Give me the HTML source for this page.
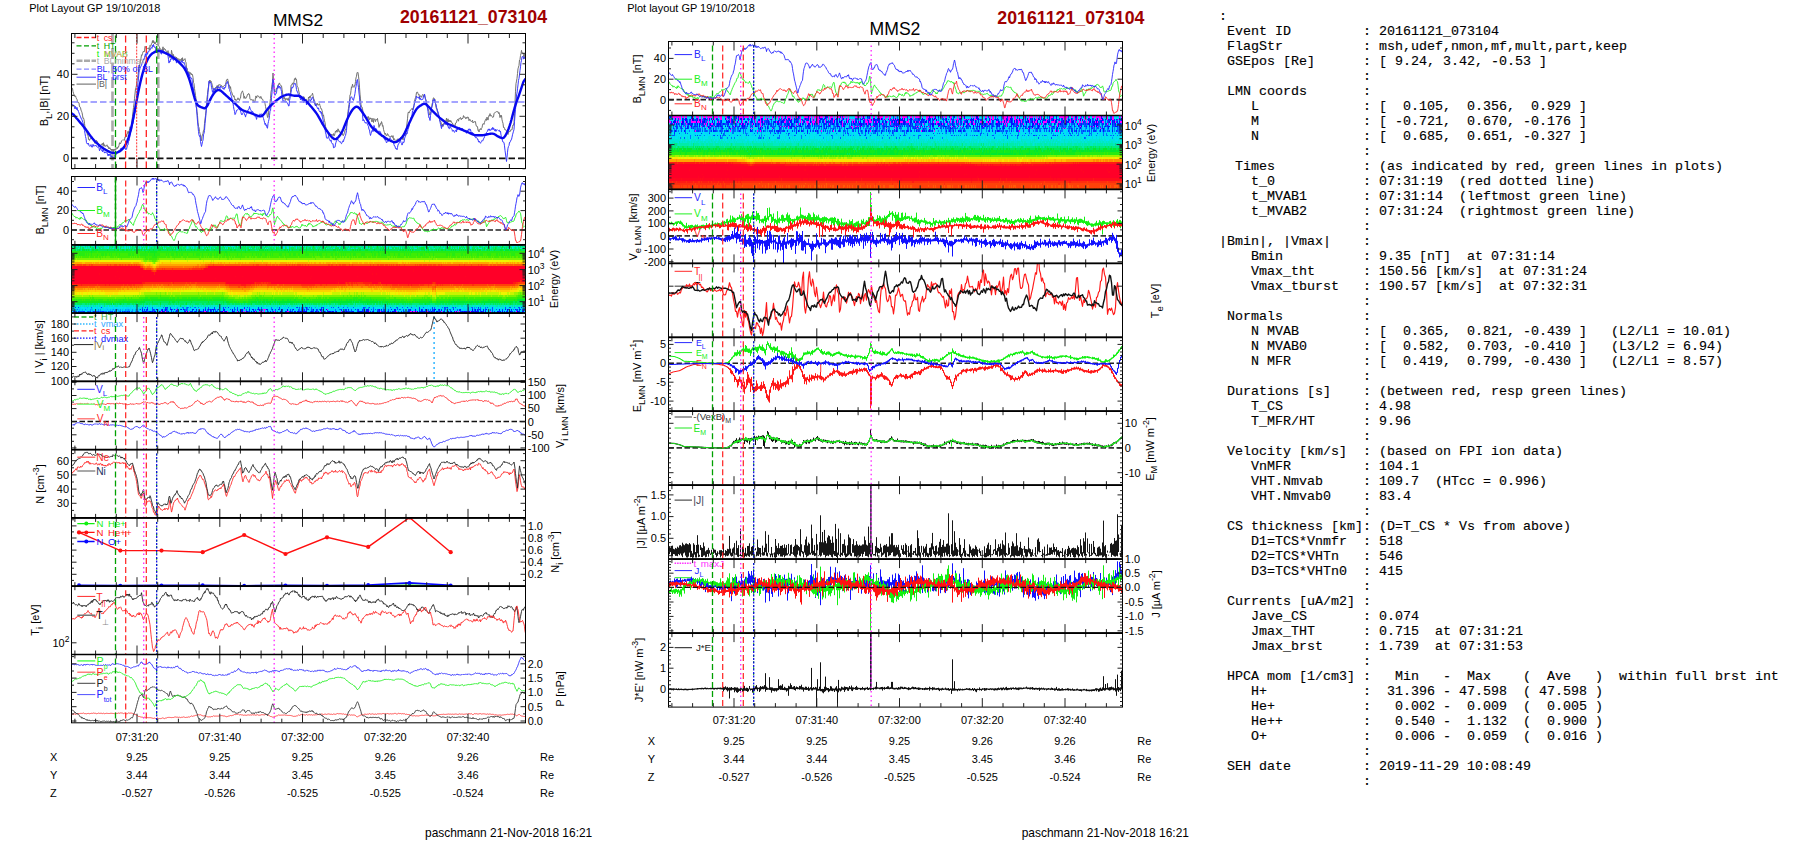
<!DOCTYPE html>
<html><head><meta charset="utf-8"><title>MMS2 20161121_073104</title>
<style>
html,body{margin:0;padding:0;background:#fff;}
body{width:1804px;height:841px;overflow:hidden;position:relative;font-family:"Liberation Sans", sans-serif;}
svg{position:absolute;left:0;top:0;}
pre{position:absolute;left:1219px;top:9px;margin:0;font-family:"Liberation Mono", monospace;font-size:13.33px;line-height:15px;color:#000;-webkit-text-stroke:0.14px #000;letter-spacing:0;white-space:pre;}
</style></head><body>
<svg width="1804" height="841" viewBox="0 0 1804 841">
<rect width="1804" height="841" fill="#fff"/>

<g shape-rendering="crispEdges" fill="none" stroke-width="3.01">
<path stroke="#ff00ff" d="M175.5,309.9h1m22,0h1m44,0h1m18,0h3m61,0h1M160.5,312h1m3,0h1m20,0h1m2,0h1m14,0h2m17,0h1m3,0h1m9,0h1m5,0h1m1,0h1m9,0h1m3,0h2m1,0h1m1,0h1m9,0h1m12,0h2m31,0h1m20,0h1m27,0h1m10,0h1m15,0h1m13,0h2m1,0h2m1,0h1m9,0h2m13,0h1m13,0h1m1,0h1m1,0h1m10,0h1m19,0h1m25,0h1"/>
<path stroke="#0b00ff" d="M146.5,309.9h1m8,0h1m5,0h1m8,0h1m9,0h1m42,0h1m7,0h1m20,0h1m33,0h1m14,0h1m10,0h1m7,0h1m57,0h1m14,0h1m40,0h1m36,0h1m2,0h1m31,0h1M144.5,312h1m8,0h2m3,0h1m2,0h1m37,0h1m12,0h1m8,0h1m2,0h1m6,0h1m21,0h1m6,0h1m8,0h1m9,0h1m9,0h1m3,0h1m3,0h1m1,0h1m2,0h4m4,0h1m3,0h1m2,0h1m5,0h1m3,0h2m2,0h1m13,0h1m19,0h1m6,0h1m10,0h1m3,0h1m3,0h1m24,0h1m30,0h1m15,0h1m4,0h1m2,0h1m2,0h1m5,0h1m3,0h1m2,0h1m13,0h1m7,0h1m6,0h1"/>
<path stroke="#0018ff" d="M141.5,309.9h1m1,0h1m20,0h2m3,0h1m3,0h1m8,0h1m8,0h2m2,0h1m6,0h1m1,0h1m2,0h1m1,0h1m1,0h2m4,0h1m22,0h2m6,0h1m2,0h1m5,0h2m6,0h2m4,0h1m5,0h1m2,0h1m11,0h1m26,0h1m2,0h1m2,0h1m21,0h1m15,0h1m1,0h3m12,0h1m9,0h1m3,0h1m14,0h1m4,0h1m5,0h1m3,0h1m8,0h1m4,0h1m20,0h1m16,0h1m1,0h1m3,0h1m2,0h1m12,0h1m5,0h1m5,0h1m3,0h1m3,0h1m4,0h1M141.5,312h1m6,0h2m1,0h1m4,0h1m5,0h1m4,0h1m7,0h1m7,0h2m1,0h1m7,0h1m2,0h2m3,0h1m2,0h1m3,0h1m5,0h1m3,0h2m4,0h1m6,0h1m7,0h2m3,0h2m3,0h1m29,0h1m3,0h1m9,0h1m1,0h1m3,0h1m10,0h1m3,0h1m6,0h1m6,0h1m2,0h1m2,0h1m6,0h2m7,0h2m4,0h5m4,0h2m8,0h1m1,0h1m13,0h3m12,0h1m3,0h1m2,0h1m3,0h1m1,0h2m1,0h1m4,0h1m1,0h1m2,0h1m1,0h2m5,0h2m6,0h1m2,0h1m7,0h1m2,0h2m1,0h1m2,0h1m1,0h1m2,0h3m4,0h1m13,0h2m1,0h1m3,0h1m2,0h1m10,0h1m3,0h2m1,0h1"/>
<path stroke="#0037ff" d="M74.5,307.8h1m2,0h1m22,0h1m43,0h1m19,0h1m1,0h1m46,0h1m8,0h1m4,0h1m15,0h1m13,0h1m20,0h1m17,0h1m8,0h1m14,0h1m1,0h1m14,0h1m24,0h1m43,0h1m11,0h1m12,0h1m11,0h1m2,0h1m30,0h1m42,0h1M139.5,309.9h1m5,0h1m6,0h1m3,0h1m19,0h1m2,0h1m3,0h1m26,0h1m2,0h1m8,0h1m13,0h1m19,0h1m3,0h1m13,0h1m6,0h1m21,0h1m1,0h1m1,0h1m7,0h1m24,0h1m3,0h2m8,0h1m2,0h1m3,0h1m15,0h1m20,0h1m8,0h2m9,0h1m2,0h1m3,0h1m5,0h1m5,0h1m2,0h1m11,0h1m5,0h1m20,0h1m4,0h1m16,0h1m5,0h1m8,0h1m2,0h1m2,0h1M72.5,312h2m3,0h1m4,0h2m5,0h1m2,0h2m3,0h1m1,0h1m1,0h2m6,0h1m1,0h1m1,0h1m5,0h1m1,0h1m1,0h1m2,0h1m1,0h1m7,0h1m5,0h2m1,0h1m4,0h1m12,0h1m6,0h1m5,0h1m12,0h3m1,0h1m1,0h1m4,0h1m5,0h1m3,0h1m3,0h1m8,0h1m9,0h1m3,0h1m1,0h1m8,0h1m3,0h1m2,0h1m10,0h1m5,0h1m12,0h1m5,0h1m6,0h1m13,0h1m7,0h1m5,0h1m7,0h1m6,0h1m2,0h1m1,0h3m1,0h1m5,0h1m5,0h2m5,0h1m1,0h1m5,0h1m2,0h3m6,0h1m10,0h1m1,0h1m5,0h1m10,0h1m2,0h1m1,0h1m2,0h1m3,0h2m5,0h2m9,0h1m5,0h1m3,0h2m1,0h1m10,0h1m5,0h1m1,0h1m11,0h1m4,0h1m6,0h1m4,0h2m6,0h1"/>
<path stroke="#0056ff" d="M141.5,307.8h1m4,0h1m4,0h1m13,0h1m3,0h1m16,0h1m7,0h1m9,0h1m2,0h1m10,0h1m5,0h1m8,0h1m2,0h1m9,0h1m13,0h1m34,0h1m2,0h1m5,0h1m3,0h1m12,0h1m8,0h1m1,0h1m9,0h1m9,0h1m10,0h1m4,0h1m20,0h1m5,0h2m4,0h1m8,0h1m11,0h1m10,0h1m10,0h1m7,0h1m1,0h1m12,0h1m3,0h1m14,0h1m4,0h1m12,0h1m3,0h2m7,0h2M151.5,309.9h1m1,0h1m6,0h1m10,0h1m13,0h1m20,0h1m1,0h1m5,0h1m14,0h1m3,0h1m11,0h1m8,0h1m23,0h1m10,0h1m1,0h1m5,0h1m2,0h1m1,0h1m3,0h1m3,0h1m5,0h1m1,0h1m20,0h1m10,0h1m5,0h1m5,0h1m7,0h1m1,0h1m1,0h1m1,0h1m5,0h2m3,0h1m8,0h1m2,0h1m2,0h1m24,0h1m1,0h1m2,0h1m10,0h2m3,0h2m6,0h1m10,0h1m5,0h1m3,0h1m13,0h1m3,0h1m19,0h1m5,0h1m2,0h1M75.5,312h1m2,0h4m5,0h1m7,0h2m3,0h1m6,0h1m2,0h1m13,0h1m2,0h1m9,0h1m8,0h2m4,0h1m6,0h1m5,0h2m5,0h1m1,0h1m26,0h1m5,0h1m8,0h1m30,0h1m19,0h1m3,0h1m2,0h1m1,0h1m4,0h1m6,0h1m1,0h1m10,0h1m7,0h1m6,0h1m7,0h1m5,0h1m18,0h1m14,0h1m19,0h1m1,0h1m10,0h1m5,0h1m2,0h1m22,0h1m7,0h1m8,0h1m19,0h1m24,0h1m16,0h1m4,0h1"/>
<path stroke="#0074ff" d="M90.5,307.8h1m71,0h1m18,0h2m2,0h1m1,0h1m1,0h1m3,0h1m3,0h1m50,0h1m21,0h1m16,0h1m12,0h3m3,0h1m3,0h1m35,0h1m17,0h1m7,0h1m68,0h1m3,0h1m5,0h1m18,0h1m8,0h1m4,0h1m28,0h1M76.5,309.9h1m86,0h1m2,0h1m17,0h1m1,0h1m29,0h1m17,0h1m26,0h1m8,0h1m27,0h1m12,0h1m22,0h1m3,0h1m107,0h1m42,0h1m22,0h1M74.5,312h1m11,0h1m1,0h1m9,0h1m4,0h3m2,0h1m5,0h1m3,0h1m3,0h1m2,0h1m4,0h2m2,0h2"/>
<path stroke="#0094ff" d="M176.5,307.8h1m137,0h1m52,0h1m14,0h1m90,0h1m1,0h1M84.5,309.9h1m4,0h1m4,0h1m2,0h1m1,0h1m12,0h1m1,0h1m1,0h1m2,0h1m4,0h1m2,0h1m3,0h1m3,0h1m2,0h1M91.5,312h1m25,0h1"/>
<path stroke="#00b4ff" d="M86.5,307.8h1m189,0h1M71.5,309.9h1m3,0h1m2,0h1m2,0h1m8,0h2m14,0h1m2,0h1m1,0h1m3,0h1m1,0h1m3,0h1m3,0h2m1,0h1m5,0h1m1,0h1"/>
<path stroke="#00d4ff" d="M107.5,305.7h1m38,0h1M71.5,307.8h1m6,0h2m3,0h2m2,0h1m7,0h1m3,0h1m1,0h1m3,0h2m5,0h1m2,0h1m6,0h1m2,0h3m1,0h1m4,0h1m4,0h1m2,0h1m6,0h1m4,0h1m3,0h1m13,0h1m6,0h1m11,0h1m3,0h1m9,0h1m3,0h1m1,0h1m8,0h2m1,0h1m2,0h1m3,0h1m7,0h1m3,0h1m1,0h2m3,0h2m1,0h1m3,0h1m1,0h1m2,0h1m9,0h2m2,0h1m4,0h1m2,0h2m5,0h1m1,0h1m4,0h1m5,0h1m3,0h1m3,0h1m1,0h1m2,0h1m1,0h1m9,0h1m2,0h1m4,0h1m1,0h1m2,0h1m5,0h1m1,0h2m5,0h1m1,0h1m1,0h2m4,0h1m3,0h2m1,0h1m9,0h1m6,0h3m4,0h1m4,0h1m4,0h1m4,0h3m5,0h2m1,0h1m2,0h1m2,0h2m3,0h1m5,0h1m6,0h1m2,0h1m4,0h1m7,0h1m5,0h1m2,0h1m1,0h1m5,0h1m4,0h1m4,0h1m1,0h1m3,0h1m3,0h1m4,0h1m1,0h1m6,0h1m6,0h2M72.5,309.9h1m4,0h1m1,0h2m4,0h2m1,0h1m7,0h1m1,0h1m2,0h5m1,0h2m1,0h1m2,0h1m4,0h1m3,0h1m6,0h2m1,0h1m4,0h1m2,0h1m1,0h1m1,0h1m2,0h4m3,0h1m2,0h3m2,0h1m4,0h2m3,0h1m1,0h1m2,0h2m2,0h1m5,0h4m2,0h2m1,0h2m1,0h3m1,0h1m1,0h1m9,0h1m2,0h4m2,0h5m1,0h1m1,0h1m2,0h1m1,0h3m2,0h1m1,0h1m1,0h2m1,0h2m2,0h1m1,0h1m3,0h1m7,0h3m2,0h2m1,0h2m2,0h1m2,0h4m1,0h2m1,0h1m2,0h4m2,0h1m4,0h1m3,0h2m3,0h2m2,0h1m3,0h1m1,0h2m2,0h7m1,0h3m3,0h3m2,0h1m1,0h2m1,0h3m1,0h1m2,0h3m3,0h1m3,0h2m1,0h1m1,0h1m1,0h1m3,0h1m1,0h1m2,0h3m1,0h2m1,0h2m2,0h1m1,0h1m2,0h2m1,0h4m3,0h4m1,0h3m1,0h1m2,0h2m2,0h1m1,0h1m1,0h1m4,0h2m2,0h1m1,0h2m2,0h1m1,0h1m2,0h2m1,0h3m1,0h1m2,0h7m1,0h3m1,0h1m2,0h1m4,0h2m1,0h1m2,0h3m1,0h1m1,0h3m1,0h2m1,0h2m1,0h2m1,0h1m2,0h2m1,0h1m1,0h1m3,0h1m2,0h1M71.5,312h1m4,0h1m7,0h2m4,0h1m3,0h1m11,0h1m5,0h1m2,0h2m3,0h1m8,0h1m2,0h2m4,0h3m14,0h1m1,0h1m10,0h2m1,0h1m1,0h1m3,0h6m4,0h1m4,0h1m3,0h1m11,0h1m2,0h1m1,0h1m3,0h2m8,0h4m3,0h2m2,0h1m4,0h1m5,0h1m1,0h1m4,0h2m4,0h1m1,0h2m2,0h1m1,0h1m4,0h1m1,0h2m3,0h2m8,0h1m2,0h1m10,0h3m4,0h1m4,0h1m2,0h1m3,0h1m7,0h1m2,0h4m13,0h3m14,0h1m2,0h3m9,0h1m2,0h1m1,0h1m5,0h1m1,0h2m1,0h1m2,0h2m11,0h1m16,0h1m6,0h1m2,0h2m2,0h1m2,0h2m4,0h1m20,0h1m4,0h1m1,0h2m1,0h1m1,0h1m1,0h1m1,0h2m4,0h1m1,0h1m1,0h1m2,0h1m4,0h1m1,0h1m4,0h2m2,0h1"/>
<path stroke="#00e3f1" d="M100.5,305.7h1m11,0h1m18,0h1m3,0h1m38,0h1m11,0h2m66,0h1m9,0h1m16,0h1m15,0h1m18,0h1m10,0h1m8,0h1m4,0h1m2,0h1m16,0h1m4,0h1m15,0h1m44,0h1m36,0h1m2,0h1m53,0h1M72.5,307.8h2m1,0h2m3,0h3m2,0h1m2,0h2m2,0h3m2,0h2m4,0h2m2,0h5m1,0h2m1,0h6m1,0h2m3,0h1m1,0h4m1,0h1m1,0h1m5,0h1m1,0h1m1,0h2m1,0h1m1,0h2m1,0h3m1,0h3m5,0h1m2,0h2m1,0h2m2,0h2m1,0h1m2,0h1m4,0h1m1,0h1m1,0h1m3,0h1m1,0h4m4,0h1m3,0h1m1,0h1m1,0h1m1,0h2m10,0h1m2,0h2m1,0h2m1,0h1m1,0h3m5,0h1m3,0h1m1,0h1m1,0h1m3,0h1m3,0h7m4,0h1m2,0h1m3,0h2m3,0h1m1,0h2m1,0h1m1,0h2m4,0h1m9,0h1m2,0h1m2,0h1m3,0h1m4,0h4m1,0h1m3,0h3m3,0h2m2,0h3m2,0h1m2,0h1m1,0h1m1,0h1m1,0h1m1,0h1m9,0h1m4,0h7m3,0h3m1,0h1m4,0h1m4,0h3m3,0h2m2,0h2m5,0h1m8,0h2m1,0h2m3,0h1m2,0h2m1,0h1m9,0h2m3,0h1m2,0h6m2,0h3m9,0h1m1,0h1m2,0h1m1,0h1m4,0h2m3,0h1m1,0h1m1,0h3m3,0h1m2,0h1m3,0h1m1,0h1m2,0h2m2,0h1m3,0h2M73.5,309.9h2m7,0h2m3,0h1m4,0h2m1,0h1m24,0h1m2,0h1m9,0h1"/>
<path stroke="#00e5d9" d="M75.5,246.5h1m2,0h1m3,0h2m8,0h1m2,0h1m7,0h2m2,0h1m10,0h1m5,0h1m3,0h1m1,0h1m4,0h1m3,0h1m1,0h1m5,0h1m1,0h1m17,0h1m18,0h1m4,0h2m2,0h2m7,0h1m1,0h1m18,0h1m2,0h1m1,0h3m3,0h1m23,0h1m2,0h1m14,0h1m1,0h1m1,0h2m2,0h1m2,0h2m1,0h1m2,0h1m4,0h1m3,0h1m24,0h1m6,0h2m1,0h1m8,0h1m13,0h1m17,0h1m4,0h2m8,0h2m20,0h1m1,0h1m7,0h1m19,0h1m2,0h1m6,0h1m11,0h1m7,0h1m4,0h1m6,0h1m1,0h1m5,0h1m13,0h3m1,0h1m2,0h1M77.5,248.6h1m7,0h1m3,0h1m5,0h1m4,0h1m5,0h2m4,0h1m11,0h1m3,0h1m5,0h1m4,0h1m2,0h1m1,0h1m2,0h1m14,0h1m1,0h1m8,0h1m2,0h1m9,0h1m5,0h1m9,0h1m2,0h1m3,0h1m3,0h1m10,0h1m1,0h1m6,0h1m14,0h1m1,0h1m3,0h1m9,0h1m1,0h1m7,0h1m7,0h2m2,0h2m7,0h1m14,0h1m4,0h1m9,0h1m6,0h2m4,0h1m8,0h1m2,0h1m1,0h1m2,0h1m4,0h1m7,0h1m3,0h1m10,0h1m5,0h2m2,0h1m6,0h1m8,0h1m3,0h3m8,0h1m3,0h1m4,0h1m8,0h1m9,0h1m4,0h1m6,0h1m4,0h1m4,0h1m3,0h3m4,0h1m16,0h1m4,0h1m3,0h1m7,0h1m3,0h1M74.5,305.7h1m1,0h2m2,0h1m7,0h1m2,0h1m3,0h1m1,0h1m11,0h1m7,0h2m1,0h1m8,0h2m2,0h1m9,0h1m1,0h1m3,0h2m1,0h1m1,0h1m5,0h1m3,0h1m2,0h1m4,0h1m2,0h2m16,0h1m1,0h1m5,0h1m5,0h2m1,0h1m1,0h1m2,0h1m1,0h3m4,0h1m2,0h1m3,0h3m1,0h3m1,0h1m5,0h1m2,0h1m7,0h1m6,0h1m4,0h1m6,0h1m1,0h2m4,0h1m1,0h1m1,0h1m1,0h1m5,0h1m3,0h2m6,0h1m2,0h3m9,0h1m1,0h1m1,0h1m2,0h2m7,0h1m1,0h1m4,0h1m6,0h1m4,0h1m2,0h1m1,0h1m4,0h1m1,0h2m2,0h1m3,0h1m5,0h2m3,0h1m5,0h1m1,0h1m3,0h2m3,0h1m5,0h2m5,0h1m1,0h1m2,0h3m2,0h1m1,0h1m4,0h1m2,0h1m1,0h2m1,0h1m5,0h2m1,0h1m5,0h2m2,0h2m2,0h1m5,0h1m2,0h3m2,0h1m2,0h3m1,0h1m1,0h2m2,0h1m3,0h1m5,0h1m1,0h2m3,0h1m1,0h1m1,0h1m3,0h1m4,0h1M91.5,307.8h1m4,0h1m5,0h1m33,0h1m1,0h1m1,0h1m22,0h1m4,0h1m6,0h1m8,0h1m17,0h2m4,0h1m6,0h1m3,0h1m5,0h1m3,0h1m24,0h1m7,0h1m10,0h1m5,0h1m5,0h1m31,0h1m5,0h1m30,0h1m10,0h1m15,0h1m5,0h1m6,0h1m8,0h1m7,0h1m4,0h2m1,0h1m17,0h1m1,0h1m2,0h1m19,0h1m5,0h1m13,0h1m4,0h1m6,0h1m6,0h2m8,0h1M100.5,309.9h1"/>
<path stroke="#00e8c2" d="M71.5,246.5h1m1,0h1m2,0h1m8,0h1m1,0h1m6,0h1m28,0h1m2,0h1m10,0h1m12,0h1m26,0h1m42,0h1m2,0h1m3,0h1m59,0h1m9,0h1m4,0h1m5,0h1m82,0h2m1,0h1m36,0h1m8,0h1m22,0h1m58,0h1M84.5,248.6h1m33,0h1m1,0h2m1,0h1m2,0h1m261,0h1m54,0h1m2,0h1m42,0h1m30,0h1M71.5,305.7h3m1,0h1m2,0h1m2,0h2m1,0h1m1,0h1m3,0h1m2,0h1m2,0h1m2,0h1m1,0h2m1,0h3m3,0h2m1,0h1m5,0h1m2,0h3m1,0h3m5,0h1m1,0h1m2,0h3m2,0h1m2,0h1m5,0h1m1,0h2m1,0h1m2,0h2m2,0h1m2,0h4m5,0h2m2,0h2m1,0h2m2,0h1m1,0h1m1,0h1m1,0h1m2,0h3m5,0h1m5,0h1m1,0h2m5,0h4m1,0h1m2,0h3m7,0h1m1,0h5m1,0h1m2,0h1m1,0h1m1,0h1m1,0h1m1,0h5m4,0h2m1,0h6m5,0h1m1,0h1m1,0h1m1,0h1m5,0h3m6,0h1m1,0h1m1,0h2m1,0h2m3,0h2m4,0h1m1,0h1m1,0h1m1,0h1m6,0h1m1,0h2m6,0h1m5,0h4m3,0h2m1,0h2m3,0h3m8,0h3m1,0h2m1,0h1m3,0h1m1,0h1m1,0h2m1,0h2m3,0h1m1,0h1m2,0h1m3,0h2m1,0h1m3,0h2m1,0h2m1,0h1m1,0h2m3,0h1m2,0h1m1,0h4m4,0h1m2,0h1m1,0h2m1,0h1m5,0h3m1,0h1m7,0h1m2,0h2m1,0h1m1,0h2m3,0h1m2,0h1m4,0h1m4,0h2m1,0h1m3,0h1m1,0h3m1,0h1m2,0h1m1,0h1m5,0h1m1,0h1m1,0h2m3,0h1"/>
<path stroke="#00ebaa" d="M74.5,246.5h1m5,0h2m6,0h1m1,0h2m1,0h1m2,0h1m1,0h1m6,0h2m5,0h2m3,0h1m3,0h1m5,0h1m5,0h1m4,0h1m4,0h1m7,0h1m4,0h2m1,0h1m1,0h2m3,0h1m5,0h1m9,0h1m2,0h1m1,0h1m1,0h2m10,0h2m6,0h2m4,0h1m2,0h1m5,0h1m1,0h1m6,0h1m5,0h2m4,0h1m3,0h1m4,0h1m2,0h1m9,0h1m1,0h1m1,0h2m1,0h1m1,0h1m8,0h1m5,0h1m7,0h1m1,0h1m5,0h1m1,0h2m3,0h3m1,0h1m4,0h2m8,0h1m4,0h1m4,0h1m1,0h2m11,0h2m3,0h1m1,0h2m4,0h1m1,0h2m8,0h1m4,0h2m7,0h2m1,0h1m7,0h1m1,0h1m1,0h2m4,0h1m1,0h2m7,0h2m5,0h1m1,0h1m2,0h1m1,0h1m1,0h1m13,0h1m4,0h1m2,0h1m2,0h2m4,0h1m6,0h1m2,0h1m6,0h1m4,0h1m1,0h1m2,0h2m5,0h1m3,0h1m1,0h1m3,0h1M78.5,248.6h1m1,0h1m2,0h1m2,0h3m4,0h1m2,0h2m5,0h3m3,0h1m1,0h1m2,0h2m6,0h1m13,0h2m8,0h1m28,0h1m9,0h1m1,0h1m2,0h1m4,0h1m5,0h1m5,0h1m23,0h1m7,0h1m63,0h2m14,0h1m7,0h1m2,0h1m17,0h1m2,0h1m4,0h1m7,0h3m19,0h1m11,0h1m32,0h2m17,0h1m3,0h2m4,0h1m1,0h1m7,0h1m6,0h1m9,0h1m11,0h1m6,0h1m2,0h1m2,0h1m3,0h1m4,0h1M97.5,303.6h1m13,0h1m176,0h1m44,0h1m19,0h1m1,0h1m18,0h1M79.5,305.7h1m3,0h1m1,0h1m1,0h1m1,0h1m2,0h1m1,0h1m3,0h1m9,0h1m5,0h3m4,0h1m3,0h1m6,0h1m5,0h1m9,0h1m2,0h1m5,0h1m8,0h1m6,0h1m6,0h1m2,0h1m5,0h1m6,0h1m3,0h1m1,0h3m1,0h1m2,0h1m6,0h1m9,0h1m7,0h1m12,0h1m2,0h1m1,0h1m9,0h1m2,0h1m10,0h1m2,0h1m8,0h1m1,0h2m4,0h1m1,0h1m3,0h1m12,0h1m1,0h2m1,0h1m7,0h1m2,0h1m1,0h1m3,0h1m1,0h1m3,0h1m2,0h2m5,0h2m13,0h1m2,0h2m7,0h1m5,0h1m4,0h1m3,0h1m2,0h1m4,0h2m3,0h1m1,0h1m25,0h2m8,0h1m1,0h1m2,0h1m4,0h1m3,0h2m8,0h1m8,0h1m2,0h1m5,0h1m6,0h2m2,0h1m8,0h1m2,0h1m1,0h1m2,0h1m5,0h1"/>
<path stroke="#00ea81" d="M72.5,246.5h1m4,0h1m6,0h1m1,0h1m10,0h1m1,0h4m5,0h3m3,0h1m4,0h2m1,0h1m2,0h1m3,0h1m2,0h1m3,0h1m3,0h1m1,0h1m1,0h1m1,0h1m1,0h1m3,0h1m1,0h2m8,0h2m2,0h1m1,0h2m1,0h4m1,0h2m1,0h1m1,0h1m4,0h1m4,0h2m2,0h4m2,0h1m3,0h1m3,0h4m4,0h1m1,0h1m7,0h1m4,0h1m2,0h1m3,0h1m1,0h1m2,0h3m2,0h2m2,0h2m1,0h2m1,0h2m2,0h2m1,0h1m1,0h1m2,0h1m1,0h1m1,0h1m1,0h1m1,0h1m2,0h1m3,0h1m4,0h2m1,0h1m1,0h1m4,0h1m1,0h2m4,0h1m1,0h1m3,0h1m2,0h2m4,0h3m2,0h2m1,0h1m6,0h2m1,0h1m2,0h1m3,0h2m2,0h3m2,0h2m2,0h1m3,0h1m3,0h1m2,0h1m1,0h3m2,0h1m1,0h1m2,0h1m2,0h1m2,0h1m5,0h1m1,0h6m2,0h1m4,0h2m6,0h5m1,0h1m3,0h1m1,0h2m1,0h1m4,0h1m1,0h1m1,0h1m5,0h4m2,0h1m2,0h1m4,0h1m1,0h1m4,0h3m4,0h2m2,0h2m1,0h2m1,0h1m1,0h1m1,0h3m2,0h1m2,0h1m2,0h4m8,0h1m3,0h1m1,0h2M72.5,248.6h1m1,0h3m13,0h1m3,0h1m4,0h1m1,0h2m7,0h1m2,0h1m2,0h2m7,0h1m1,0h1m1,0h2m1,0h2m4,0h1m1,0h1m2,0h1m4,0h2m1,0h2m1,0h3m6,0h1m5,0h1m1,0h1m5,0h2m2,0h1m2,0h1m3,0h1m2,0h1m1,0h2m2,0h1m1,0h2m7,0h1m2,0h2m7,0h1m1,0h1m2,0h1m3,0h1m4,0h3m1,0h1m6,0h1m3,0h1m3,0h1m2,0h1m1,0h1m2,0h2m2,0h1m1,0h2m2,0h1m1,0h1m4,0h1m6,0h1m3,0h1m3,0h2m2,0h2m2,0h1m4,0h2m6,0h1m1,0h2m2,0h1m1,0h2m2,0h1m1,0h2m1,0h1m7,0h1m1,0h3m1,0h2m2,0h1m3,0h2m6,0h2m4,0h1m3,0h1m1,0h2m3,0h1m5,0h2m10,0h1m5,0h1m1,0h2m1,0h1m2,0h3m4,0h1m7,0h1m3,0h2m3,0h4m1,0h3m3,0h1m29,0h1m6,0h1m1,0h1m5,0h2m1,0h1m2,0h3m2,0h1m2,0h1m8,0h1m1,0h1m2,0h1M75.5,250.8h1m4,0h1m8,0h1m28,0h1m5,0h1m6,0h2m8,0h2m2,0h1m29,0h2m8,0h1m18,0h1m4,0h1m9,0h2m20,0h1m3,0h1m8,0h2m1,0h1m29,0h1m1,0h1m26,0h1m1,0h1m23,0h1m3,0h3m35,0h1m12,0h1m12,0h1m2,0h1m5,0h1m4,0h1m3,0h2m2,0h1m3,0h1m31,0h1m1,0h1m4,0h1m4,0h1m3,0h1m4,0h1m1,0h1m11,0h1M518.5,301.4h5m1,0h1M71.5,303.6h1m3,0h1m5,0h3m2,0h1m1,0h1m2,0h2m2,0h1m2,0h5m1,0h1m10,0h1m1,0h1m3,0h1m1,0h3m3,0h2m2,0h1m2,0h1m4,0h1m1,0h2m2,0h1m1,0h2m6,0h2m1,0h7m3,0h2m1,0h2m1,0h1m1,0h1m4,0h1m2,0h3m1,0h4m4,0h3m2,0h2m4,0h1m2,0h2m3,0h1m1,0h1m1,0h1m1,0h3m3,0h2m2,0h1m5,0h1m1,0h2m1,0h2m5,0h3m7,0h1m3,0h1m1,0h1m2,0h2m1,0h1m1,0h1m1,0h1m6,0h1m1,0h2m4,0h1m1,0h1m1,0h4m1,0h2m1,0h2m1,0h1m1,0h1m1,0h1m4,0h1m2,0h2m1,0h1m1,0h1m1,0h2m2,0h3m2,0h2m10,0h2m3,0h1m3,0h6m1,0h1m1,0h1m5,0h1m5,0h1m2,0h1m1,0h1m2,0h1m1,0h1m1,0h1m1,0h2m1,0h1m3,0h3m2,0h1m1,0h1m1,0h1m3,0h7m4,0h1m6,0h5m6,0h1m2,0h1m2,0h1m4,0h2m2,0h1m7,0h1m1,0h1m2,0h1m2,0h1m1,0h2m2,0h3m1,0h2m1,0h5m1,0h2m1,0h1m1,0h1m1,0h1m1,0h1m1,0h2m1,0h1m1,0h2m4,0h2m1,0h1m5,0h1m1,0h1M103.5,305.7h1m33,0h1m4,0h1m16,0h1m3,0h1m27,0h1m112,0h1m110,0h1"/>
<path stroke="#00e959" d="M79.5,246.5h1m31,0h1m3,0h2m14,0h1m2,0h1m10,0h1m7,0h1m4,0h1m1,0h1m2,0h1m5,0h1m10,0h1m3,0h1m20,0h1m2,0h1m7,0h2m4,0h1m12,0h1m2,0h1m3,0h1m1,0h1m5,0h1m13,0h1m54,0h1m5,0h1m4,0h1m4,0h1m4,0h1m8,0h2m2,0h2m14,0h2m10,0h1m25,0h1m3,0h1m4,0h1m16,0h1m5,0h1m9,0h1m1,0h1m4,0h1m3,0h1m1,0h1m9,0h1m5,0h2m29,0h1m9,0h1M71.5,248.6h1m1,0h1m5,0h1m1,0h2m8,0h2m5,0h1m9,0h1m10,0h1m11,0h1m9,0h1m8,0h1m2,0h1m3,0h4m4,0h4m1,0h1m1,0h1m6,0h2m1,0h2m5,0h1m6,0h1m1,0h1m4,0h2m5,0h1m3,0h6m1,0h1m1,0h1m4,0h1m1,0h1m1,0h1m4,0h1m2,0h5m1,0h2m3,0h2m2,0h1m1,0h1m2,0h1m2,0h1m5,0h2m1,0h1m3,0h2m1,0h1m1,0h1m2,0h1m3,0h1m1,0h3m3,0h1m2,0h2m7,0h2m1,0h3m4,0h1m2,0h1m12,0h4m2,0h1m16,0h3m3,0h1m5,0h2m4,0h3m1,0h3m9,0h2m1,0h2m1,0h1m1,0h1m1,0h1m1,0h1m2,0h1m1,0h1m7,0h1m1,0h2m3,0h1m3,0h1m10,0h1m5,0h1m4,0h1m1,0h1m1,0h1m2,0h1m2,0h1m1,0h1m1,0h1m1,0h4m2,0h3m2,0h1m4,0h1m4,0h1m1,0h1m3,0h1m2,0h1m4,0h1m2,0h1m1,0h1m2,0h1m1,0h1m3,0h1m2,0h1m4,0h1m1,0h1M71.5,250.8h2m3,0h2m1,0h1m4,0h1m1,0h1m1,0h1m1,0h1m2,0h1m3,0h9m1,0h6m1,0h2m3,0h2m2,0h1m3,0h3m4,0h1m1,0h1m2,0h1m4,0h1m1,0h2m1,0h3m1,0h4m3,0h6m1,0h4m1,0h3m2,0h1m1,0h1m1,0h3m2,0h4m1,0h2m1,0h2m3,0h3m1,0h1m4,0h1m1,0h3m1,0h5m2,0h8m2,0h2m2,0h5m2,0h2m2,0h1m2,0h5m2,0h1m6,0h1m1,0h1m1,0h3m2,0h3m1,0h4m1,0h2m2,0h1m4,0h1m1,0h6m2,0h5m1,0h6m1,0h3m3,0h2m1,0h2m1,0h7m3,0h1m1,0h1m1,0h2m2,0h3m3,0h2m2,0h1m1,0h1m1,0h1m2,0h4m3,0h6m1,0h5m1,0h1m1,0h1m2,0h12m1,0h1m1,0h1m2,0h1m2,0h1m1,0h1m3,0h1m1,0h5m1,0h3m2,0h2m3,0h2m1,0h2m3,0h2m2,0h2m1,0h5m1,0h1m1,0h1m1,0h3m1,0h1m1,0h1m1,0h1m1,0h1m1,0h1m1,0h1m3,0h1m3,0h1m3,0h3m1,0h1m1,0h1m2,0h1m1,0h1m1,0h5m3,0h1m5,0h1m3,0h1m1,0h4m2,0h4M144.5,301.4h7m1,0h16m1,0h2m3,0h3m1,0h12m1,0h16m1,0h14m1,0h2m31,0h1m3,0h1m3,0h1m7,0h1m2,0h1m75,0h1m1,0h1m4,0h1m18,0h1m2,0h1m131,0h2m2,0h2m5,0h1M72.5,303.6h3m1,0h5m3,0h2m1,0h1m1,0h2m2,0h2m1,0h1m6,0h1m1,0h5m3,0h2m1,0h1m1,0h1m1,0h1m1,0h1m3,0h3m2,0h2m1,0h2m1,0h4m1,0h1m2,0h2m1,0h1m2,0h6m10,0h3m2,0h1m2,0h1m1,0h1m1,0h4m1,0h1m4,0h1m4,0h4m3,0h2m2,0h4m1,0h2m2,0h3m1,0h1m1,0h1m1,0h1m3,0h3m2,0h2m1,0h5m1,0h1m2,0h1m2,0h4m4,0h7m1,0h3m1,0h1m1,0h1m3,0h1m1,0h1m1,0h1m2,0h5m1,0h1m3,0h3m1,0h1m1,0h1m4,0h1m2,0h1m2,0h1m1,0h1m1,0h1m1,0h4m1,0h2m2,0h1m1,0h1m1,0h1m2,0h2m4,0h1m2,0h2m1,0h7m2,0h3m2,0h1m7,0h1m1,0h1m2,0h4m1,0h2m1,0h2m1,0h2m1,0h1m1,0h2m3,0h1m1,0h1m2,0h1m1,0h3m3,0h2m1,0h1m1,0h1m1,0h3m7,0h4m1,0h1m1,0h4m5,0h6m1,0h2m1,0h2m1,0h4m2,0h2m1,0h7m1,0h1m1,0h2m1,0h2m1,0h1m2,0h2m3,0h1m8,0h1m2,0h1m1,0h1m1,0h1m1,0h1m1,0h1m2,0h1m1,0h1m2,0h1m1,0h2m2,0h1m1,0h5m1,0h1m1,0h1M179.5,305.7h1"/>
<path stroke="#00e830" d="M89.5,246.5h1m163,0h1m58,0h1m9,0h1m44,0h1m8,0h1m71,0h1m16,0h1m35,0h1M135.5,248.6h1m9,0h1m15,0h1m12,0h1m31,0h1m52,0h1m15,0h1m4,0h1m21,0h1m2,0h1m18,0h1m19,0h1m37,0h1m4,0h1m32,0h3m3,0h1m20,0h2m9,0h1m24,0h1m10,0h1M73.5,250.8h2m3,0h1m2,0h3m1,0h1m1,0h1m3,0h2m1,0h3m9,0h1m6,0h1m2,0h2m3,0h2m2,0h2m6,0h1m1,0h1m1,0h2m1,0h1m2,0h1m4,0h1m3,0h1m4,0h3m6,0h1m4,0h1m6,0h1m1,0h1m3,0h1m5,0h1m2,0h1m2,0h1m1,0h1m3,0h1m2,0h3m5,0h1m15,0h2m2,0h2m9,0h1m2,0h2m9,0h5m1,0h1m1,0h1m3,0h2m3,0h1m4,0h1m2,0h2m1,0h1m1,0h1m2,0h1m6,0h2m5,0h1m6,0h1m4,0h1m3,0h1m2,0h1m7,0h3m1,0h1m1,0h1m2,0h1m10,0h1m1,0h1m1,0h1m1,0h2m5,0h2m6,0h1m5,0h1m1,0h1m1,0h1m15,0h1m1,0h2m1,0h1m2,0h1m1,0h1m1,0h1m11,0h1m3,0h1m7,0h1m1,0h1m2,0h2m2,0h1m5,0h1m1,0h1m1,0h1m3,0h1m1,0h1m1,0h1m1,0h1m1,0h1m4,0h2m1,0h1m1,0h1m1,0h1m7,0h1m1,0h1m4,0h1m5,0h2m3,0h4m1,0h3m1,0h1m5,0h1m4,0h1M517.5,299.3h7M135.5,301.4h1m3,0h5m7,0h1m16,0h1m2,0h3m3,0h1m12,0h1m16,0h1m14,0h1m2,0h3m22,0h6m1,0h3m1,0h3m1,0h5m1,0h1m1,0h2m1,0h17m2,0h1m1,0h1m25,0h2m3,0h1m1,0h21m1,0h1m1,0h4m1,0h18m1,0h2m1,0h1m2,0h3m41,0h1m1,0h1m5,0h1m2,0h4m2,0h1m1,0h2m1,0h14m1,0h2m1,0h4m2,0h1m1,0h2m2,0h18m5,0h2m2,0h1m1,0h3m2,0h2M110.5,303.6h1m1,0h1m6,0h1m39,0h1m25,0h1m64,0h1m18,0h1m8,0h1m60,0h1m26,0h1m19,0h1m37,0h1m58,0h1m25,0h1"/>
<path stroke="#12ea1e" d="M227.5,248.6h1M130.5,250.8h1m66,0h1m42,0h1m110,0h1m12,0h1m40,0h1m73,0h1m21,0h1m16,0h1M90.5,252.9h1m44,0h1m8,0h1m2,0h1m1,0h7m19,0h1m40,0h1m7,0h2m18,0h1m42,0h1m17,0h1m64,0h1m6,0h1m9,0h1m22,0h1m14,0h1m1,0h1M153.5,255h1M122.5,299.3h1m17,0h1m1,0h7m1,0h24m1,0h32m1,0h3m1,0h11m1,0h1m29,0h1m1,0h2m1,0h1m2,0h2m1,0h2m3,0h1m3,0h1m6,0h2m3,0h2m1,0h1m3,0h2m11,0h1m20,0h1m5,0h2m2,0h2m1,0h1m4,0h2m1,0h3m1,0h2m1,0h1m1,0h4m4,0h3m1,0h2m1,0h1m2,0h1m6,0h1m65,0h1m3,0h1m4,0h1m24,0h1m4,0h2m2,0h1m3,0h1m1,0h1m7,0h1m7,0h1m2,0h1m7,0h1M72.5,301.4h2m1,0h35m1,0h1m2,0h21m1,0h3m89,0h4m1,0h3m1,0h1m4,0h3m2,0h3m20,0h1m22,0h2m1,0h1m1,0h25m2,0h3m1,0h1m52,0h2m3,0h18m1,0h1m1,0h2m1,0h2m1,0h14m1,0h1m5,0h1m1,0h2m4,0h2m1,0h1m2,0h1m14,0h1m2,0h1m4,0h2m1,0h1m2,0h2m18,0h5m2,0h2m1,0h1"/>
<path stroke="#27eb12" d="M71.5,252.9h19m1,0h5m1,0h38m1,0h8m1,0h2m1,0h1m7,0h19m1,0h40m1,0h7m2,0h18m1,0h42m1,0h17m1,0h30m1,0h33m1,0h6m1,0h9m1,0h22m1,0h14m1,0h1m1,0h74m1,0h22M74.5,255h2m2,0h6m1,0h1m1,0h1m2,0h1m5,0h1m3,0h3m1,0h2m2,0h1m1,0h1m4,0h1m2,0h1m8,0h3m1,0h2m3,0h1m2,0h8m1,0h5m1,0h5m6,0h1m1,0h1m2,0h3m2,0h2m1,0h1m1,0h2m4,0h1m5,0h1m2,0h4m2,0h1m5,0h1m1,0h2m2,0h1m1,0h2m6,0h1m1,0h2m1,0h1m7,0h1m3,0h1m10,0h1m3,0h1m1,0h1m1,0h2m3,0h2m3,0h1m1,0h1m6,0h3m3,0h1m3,0h2m2,0h3m2,0h2m2,0h1m2,0h4m4,0h1m3,0h1m1,0h3m4,0h1m4,0h2m2,0h2m1,0h1m2,0h1m1,0h1m1,0h1m4,0h1m2,0h3m5,0h4m7,0h1m1,0h2m2,0h2m1,0h6m1,0h2m4,0h1m3,0h2m4,0h1m1,0h1m1,0h1m1,0h1m6,0h1m2,0h3m1,0h1m4,0h1m3,0h1m12,0h2m1,0h1m2,0h3m6,0h2m2,0h1m5,0h1m5,0h2m1,0h3m4,0h4m5,0h2m1,0h1m1,0h2m1,0h1m1,0h1m1,0h1m2,0h4M144.5,257.1h1m6,0h5M144.5,297.2h3m2,0h8m2,0h9m1,0h1m1,0h3m2,0h2m3,0h5m1,0h2m1,0h7m2,0h2m1,0h3m1,0h1m1,0h1m2,0h8m1,0h3m32,0h2m95,0h5m3,0h1m1,0h1m6,0h1m93,0h1m52,0h9M73.5,299.3h1m1,0h1m1,0h4m1,0h1m1,0h5m1,0h4m1,0h1m1,0h5m4,0h2m1,0h1m1,0h1m1,0h1m1,0h1m1,0h5m1,0h3m1,0h13m1,0h1m7,0h1m24,0h1m32,0h1m3,0h1m11,0h1m1,0h8m14,0h7m1,0h1m2,0h1m1,0h2m2,0h1m2,0h3m1,0h3m1,0h6m2,0h3m2,0h1m1,0h3m2,0h7m1,0h1m1,0h1m1,0h1m1,0h1m1,0h16m1,0h5m2,0h2m2,0h1m1,0h4m2,0h1m3,0h1m2,0h1m1,0h1m4,0h4m3,0h1m2,0h1m1,0h2m1,0h6m1,0h16m1,0h3m2,0h1m6,0h19m4,0h13m1,0h3m1,0h4m1,0h7m1,0h16m1,0h4m2,0h2m1,0h3m1,0h1m1,0h5m1,0h1m1,0h7m1,0h2M71.5,301.4h1m2,0h1m35,0h1m1,0h2m118,0h1m3,0h1m1,0h4m3,0h2m158,0h1m1,0h1m2,0h1m2,0h1m17,0h4"/>
<path stroke="#3ded05" d="M96.5,252.9h1m239,0h1m165,0h1M71.5,255h3m2,0h2m6,0h1m1,0h1m1,0h2m1,0h5m1,0h3m3,0h1m2,0h2m1,0h1m1,0h4m1,0h2m1,0h8m3,0h1m2,0h3m1,0h2m8,0h1m11,0h6m1,0h1m1,0h2m3,0h2m2,0h1m1,0h1m2,0h4m1,0h5m1,0h2m4,0h2m1,0h5m1,0h1m2,0h2m1,0h1m2,0h6m1,0h1m2,0h1m1,0h7m1,0h3m1,0h10m1,0h3m1,0h1m1,0h1m2,0h3m2,0h3m1,0h1m1,0h6m3,0h3m1,0h3m2,0h2m3,0h2m2,0h2m1,0h2m4,0h4m1,0h3m1,0h1m3,0h4m1,0h4m2,0h2m2,0h1m1,0h2m1,0h1m1,0h1m1,0h4m1,0h2m3,0h5m4,0h7m1,0h1m2,0h2m2,0h1m6,0h1m2,0h4m1,0h3m2,0h4m1,0h1m1,0h1m1,0h1m1,0h6m1,0h2m3,0h1m1,0h4m1,0h3m1,0h12m2,0h1m1,0h2m3,0h6m2,0h2m1,0h5m1,0h5m2,0h1m3,0h4m4,0h5m2,0h1m1,0h1m2,0h1m1,0h1m1,0h1m1,0h2m4,0h11M71.5,257.1h3m1,0h1m1,0h1m1,0h1m1,0h7m1,0h4m1,0h3m1,0h2m1,0h1m2,0h1m4,0h4m1,0h1m1,0h13m1,0h1m1,0h1m1,0h1m1,0h2m1,0h5m1,0h6m5,0h9m1,0h3m2,0h9m2,0h4m1,0h12m1,0h3m1,0h1m1,0h1m1,0h3m2,0h4m1,0h2m1,0h3m1,0h3m1,0h1m1,0h2m1,0h10m2,0h2m2,0h1m1,0h2m2,0h4m1,0h5m1,0h1m1,0h9m1,0h4m1,0h13m1,0h13m1,0h2m5,0h3m2,0h5m2,0h2m1,0h1m1,0h3m1,0h1m2,0h1m2,0h2m1,0h2m1,0h1m1,0h2m1,0h4m1,0h4m1,0h3m1,0h4m1,0h10m3,0h1m2,0h1m1,0h1m1,0h7m2,0h2m1,0h7m1,0h4m1,0h7m1,0h1m2,0h1m1,0h13m1,0h1m1,0h5m1,0h3m1,0h1m1,0h1m1,0h1m1,0h1m1,0h1m1,0h2m1,0h1m1,0h3m3,0h1m1,0h1m1,0h1m1,0h3m1,0h1m1,0h5m2,0h3m1,0h1m1,0h3m1,0h1m2,0h2m2,0h2m1,0h1m2,0h1M144.5,259.2h3m1,0h8M159.5,295.1h1m357,0h7M89.5,297.2h1m1,0h2m31,0h1m2,0h1m2,0h1m7,0h6m3,0h2m8,0h2m9,0h1m1,0h1m3,0h2m2,0h3m5,0h1m2,0h1m7,0h2m2,0h1m3,0h1m1,0h1m1,0h2m8,0h1m3,0h4m24,0h4m2,0h15m1,0h20m1,0h3m5,0h3m3,0h1m6,0h1m1,0h3m2,0h1m1,0h2m2,0h24m5,0h3m1,0h1m1,0h6m1,0h15m3,0h1m4,0h2m26,0h1m1,0h1m2,0h3m7,0h2m2,0h2m2,0h2m1,0h3m1,0h12m1,0h3m1,0h5m1,0h27m4,0h11M71.5,299.3h2m1,0h1m1,0h1m4,0h1m1,0h1m5,0h1m4,0h1m1,0h1m5,0h4m2,0h1m1,0h1m1,0h1m1,0h1m1,0h1m9,0h1m106,0h14m55,0h1m1,0h1m3,0h1m1,0h1m88,0h1m3,0h2m1,0h6m53,0h1m37,0h1"/>
<path stroke="#5af000" d="M74.5,257.1h1m1,0h1m1,0h1m1,0h1m7,0h1m4,0h1m3,0h1m2,0h1m1,0h2m1,0h4m4,0h1m1,0h1m13,0h1m1,0h1m1,0h1m1,0h1m2,0h1m26,0h1m3,0h2m9,0h2m4,0h1m12,0h1m3,0h1m1,0h1m1,0h1m3,0h2m4,0h1m2,0h1m3,0h1m3,0h1m1,0h1m2,0h1m10,0h2m2,0h2m1,0h1m2,0h2m4,0h1m5,0h1m1,0h1m9,0h1m4,0h1m13,0h1m13,0h1m2,0h5m3,0h2m5,0h2m2,0h1m1,0h1m3,0h1m1,0h2m1,0h2m2,0h1m2,0h1m1,0h1m2,0h1m4,0h1m4,0h1m3,0h1m4,0h1m10,0h3m1,0h2m1,0h1m1,0h1m7,0h2m2,0h1m7,0h1m4,0h1m7,0h1m1,0h2m1,0h1m13,0h1m1,0h1m5,0h1m3,0h1m1,0h1m1,0h1m1,0h1m1,0h1m1,0h1m2,0h1m1,0h1m3,0h3m1,0h1m1,0h1m1,0h1m3,0h1m1,0h1m5,0h2m3,0h1m1,0h1m3,0h1m1,0h2m2,0h2m2,0h1m1,0h2m1,0h1M99.5,259.2h1m20,0h1m21,0h2m3,0h1m8,0h2m15,0h1m10,0h1m13,0h2m18,0h1m7,0h2m2,0h1m8,0h1m45,0h1m28,0h1m19,0h2m13,0h1m37,0h1m43,0h1M151.5,261.3h4M519.5,293h1M144.5,295.1h15m1,0h9m1,0h2m2,0h25m1,0h23m31,0h1m3,0h3m1,0h1m8,0h1m70,0h1m3,0h1m2,0h2m2,0h1m1,0h1m1,0h2m1,0h1m2,0h2m98,0h1m51,0h2m7,0h1M71.5,297.2h18m1,0h1m2,0h21m1,0h9m1,0h2m1,0h2m1,0h7m89,0h7m4,0h1m2,0h1m1,0h2m1,0h5m21,0h1m20,0h1m3,0h5m3,0h3m1,0h6m1,0h1m3,0h2m1,0h1m2,0h2m57,0h3m1,0h4m2,0h11m1,0h2m1,0h11m1,0h1m1,0h2m3,0h2m4,0h1m2,0h2m2,0h2m2,0h1m3,0h1m16,0h1m5,0h1m27,0h4M431.5,299.3h4"/>
<path stroke="#7bf300" d="M71.5,259.2h4m1,0h23m1,0h17m1,0h2m1,0h21m16,0h15m1,0h10m1,0h13m2,0h18m1,0h7m2,0h2m1,0h8m1,0h45m1,0h28m1,0h19m2,0h13m1,0h37m1,0h43m1,0h3m1,0h16m1,0h19m1,0h18m1,0h33M143.5,261.3h3m2,0h3m4,0h1M153.5,263.4h1M155.5,293h1m3,0h1m4,0h1m32,0h1m23,0h1m295,0h2m1,0h5M88.5,295.1h1m2,0h1m31,0h1m8,0h1m1,0h1m1,0h2m1,0h5m25,0h1m2,0h2m25,0h1m23,0h5m22,0h4m1,0h3m3,0h1m1,0h8m1,0h22m1,0h1m1,0h1m1,0h2m11,0h1m3,0h5m1,0h20m1,0h3m1,0h2m2,0h2m1,0h1m1,0h1m2,0h1m1,0h2m2,0h24m2,0h1m24,0h1m6,0h4m3,0h1m4,0h1m2,0h9m1,0h15m1,0h15m1,0h10m1,0h6m1,0h4m2,0h2m1,0h8M114.5,297.2h1m119,0h4m1,0h2m1,0h1m2,0h1m160,0h1m2,0h1m21,0h3"/>
<path stroke="#9ef500" d="M75.5,259.2h1m41,0h1m317,0h1m16,0h1m19,0h1m18,0h1M142.5,261.3h1m3,0h2m8,0h1M152.5,263.4h1M143.5,293h12m1,0h3m1,0h4m1,0h1m1,0h3m1,0h8m1,0h17m1,0h7m1,0h7m1,0h7m1,0h2m32,0h1m1,0h1m4,0h1m84,0h1m4,0h1m1,0h2m3,0h1m1,0h1m150,0h4M71.5,295.1h10m1,0h6m1,0h2m1,0h15m1,0h1m1,0h13m1,0h8m1,0h1m1,0h1m2,0h1m89,0h3m1,0h5m1,0h1m4,0h2m1,0h4m44,0h1m1,0h1m1,0h1m2,0h11m1,0h3m5,0h1m67,0h2m1,0h11m1,0h5m1,0h4m1,0h1m1,0h6m4,0h3m6,0h2m9,0h1m31,0h1m10,0h1m6,0h1m4,0h2m2,0h1M434.5,297.2h1"/>
<path stroke="#c6f500" d="M140.5,261.3h2m15,0h2m10,0h1m16,0h1m15,0h1m7,0h1m1,0h1m40,0h1m7,0h1m45,0h1m115,0h1m4,0h1M144.5,263.4h1m6,0h1m2,0h1M518.5,290.9h6M138.5,293h1m1,0h3m23,0h1m3,0h1m8,0h1m25,0h1m7,0h1m10,0h3m24,0h5m1,0h1m1,0h4m1,0h7m1,0h1m1,0h3m1,0h2m1,0h12m1,0h2m26,0h1m8,0h8m1,0h8m1,0h4m1,0h1m2,0h3m1,0h1m1,0h17m1,0h4m1,0h1m1,0h1m35,0h1m2,0h2m6,0h1m8,0h24m2,0h1m3,0h2m1,0h2m1,0h5m1,0h12m1,0h1m6,0h2m1,0h4M81.5,295.1h1m25,0h1m1,0h1m121,0h1m5,0h1m1,0h4m2,0h1m157,0h1m5,0h1m4,0h1m16,0h4"/>
<path stroke="#edf500" d="M71.5,261.3h5m1,0h20m1,0h14m1,0h27m19,0h10m1,0h16m1,0h15m1,0h7m1,0h1m1,0h40m1,0h7m1,0h30m1,0h14m1,0h28m1,0h32m1,0h7m1,0h1m1,0h21m1,0h21m1,0h4m1,0h27m1,0h11m1,0h8m1,0h6m1,0h23m1,0h2m1,0h1m1,0h11M145.5,263.4h1m4,0h1m4,0h1M153.5,265.5h1M145.5,290.9h1m4,0h14m1,0h1m2,0h1m4,0h1m1,0h1m4,0h2m1,0h12m1,0h1m1,0h4m4,0h1m2,0h1m5,0h1m1,0h4m1,0h1m37,0h1m95,0h1m159,0h2m6,0h1M73.5,293h1m2,0h2m1,0h1m2,0h4m1,0h3m1,0h7m1,0h5m8,0h1m4,0h21m1,0h1m87,0h2m1,0h2m3,0h1m11,0h4m20,0h1m1,0h1m3,0h1m2,0h1m12,0h1m2,0h7m1,0h18m1,0h8m8,0h1m40,0h1m4,0h1m1,0h1m1,0h5m1,0h2m2,0h2m1,0h1m1,0h1m1,0h1m4,0h1m1,0h1m1,0h9m1,0h2m2,0h2m5,0h8m24,0h2m1,0h3m2,0h1m2,0h1m5,0h1m12,0h1m1,0h6m2,0h1"/>
<path stroke="#f8e500" d="M76.5,261.3h1m20,0h1m14,0h1m179,0h1m43,0h1m32,0h1m7,0h1m1,0h1m21,0h1m54,0h1m11,0h1m8,0h1m6,0h1m23,0h1m2,0h1m1,0h1M142.5,263.4h2m2,0h4m6,0h2m1,0h1M152.5,265.5h1m1,0h1M518.5,288.8h2m2,0h1M139.5,290.9h6m1,0h4m14,0h1m1,0h2m1,0h4m1,0h1m1,0h4m2,0h1m12,0h1m1,0h1m4,0h4m1,0h2m1,0h5m1,0h1m4,0h1m1,0h3m26,0h8m1,0h14m2,0h3m1,0h1m2,0h2m1,0h1m1,0h3m38,0h3m2,0h8m2,0h11m1,0h13m2,0h7m2,0h1m2,0h1m45,0h1m18,0h1m1,0h2m1,0h1m3,0h3m1,0h1m6,0h1m13,0h1m2,0h3m1,0h5m1,0h1m1,0h1m10,0h7M71.5,293h2m1,0h2m2,0h1m1,0h2m4,0h1m3,0h1m7,0h1m5,0h8m1,0h4m112,0h1m2,0h3m1,0h11m56,0h1m90,0h1m2,0h2m2,0h1m1,0h1m1,0h1m1,0h4m1,0h1m1,0h1m16,0h3"/>
<path stroke="#fbd200" d="M140.5,263.4h2m16,0h1m1,0h1m1,0h7m1,0h29m1,0h2m1,0h1M144.5,265.5h1m5,0h2m3,0h1M144.5,288.8h1m4,0h2m1,0h5m1,0h5m1,0h2m1,0h1m2,0h1m4,0h1m2,0h1m1,0h1m2,0h1m2,0h1m1,0h1m1,0h6m1,0h2m1,0h1m2,0h2m10,0h1m3,0h4m293,0h2m2,0h2m1,0h2M73.5,290.9h1m12,0h1m1,0h6m1,0h5m2,0h1m15,0h1m1,0h3m1,0h15m87,0h3m1,0h1m17,0h4m23,0h2m3,0h1m1,0h2m2,0h1m1,0h1m3,0h14m1,0h1m1,0h21m3,0h2m8,0h2m25,0h2m7,0h2m1,0h2m1,0h10m1,0h1m1,0h1m2,0h1m2,0h1m10,0h1m1,0h13m5,0h14m1,0h1m2,0h1m1,0h3m3,0h1m1,0h6m1,0h13m1,0h2m3,0h1m5,0h1m1,0h1m1,0h10M434.5,293h1"/>
<path stroke="#ffbe00" d="M73.5,263.4h1m7,0h3m7,0h1m1,0h1m4,0h1m31,0h2m6,0h2m21,0h1m7,0h1m29,0h1m2,0h1m1,0h5m2,0h1m1,0h4m1,0h1m2,0h2m1,0h4m1,0h5m1,0h2m3,0h1m1,0h2m1,0h3m13,0h1m5,0h2m1,0h4m1,0h4m7,0h1m1,0h1m1,0h1m1,0h2m1,0h1m11,0h1m1,0h1m1,0h2m2,0h3m2,0h2m1,0h2m5,0h1m4,0h1m13,0h2m6,0h1m3,0h2m4,0h1m4,0h1m24,0h4m2,0h1m1,0h2m1,0h1m32,0h1m1,0h1m1,0h1m4,0h2m10,0h1m4,0h1m2,0h1m17,0h3m1,0h3m2,0h2m1,0h2m1,0h2m3,0h1m1,0h1m1,0h1m1,0h2m2,0h2m3,0h1M143.5,265.5h1m1,0h3m1,0h1m6,0h2M152.5,267.7h3M518.5,286.7h1m1,0h2M140.5,288.8h4m1,0h4m2,0h1m5,0h1m5,0h1m2,0h1m1,0h2m1,0h4m1,0h2m1,0h1m1,0h2m1,0h2m1,0h1m1,0h1m6,0h1m2,0h1m1,0h2m2,0h10m1,0h3m4,0h2m28,0h13m1,0h6m2,0h2m1,0h1m3,0h1m4,0h1m1,0h1m1,0h1m40,0h1m1,0h4m1,0h1m2,0h2m1,0h3m1,0h21m1,0h2m4,0h1m1,0h2m54,0h1m18,0h3m2,0h1m1,0h2m3,0h1m13,0h1m3,0h2m2,0h1m3,0h1m2,0h1m13,0h1m1,0h5M71.5,290.9h2m1,0h12m1,0h1m6,0h1m5,0h2m1,0h15m1,0h1m3,0h1m105,0h1m1,0h12m2,0h3m58,0h1m1,0h1m86,0h1m1,0h1m1,0h2m1,0h2m1,0h10m1,0h1m15,0h2"/>
<path stroke="#ffa500" d="M71.5,263.4h2m1,0h7m3,0h7m1,0h1m1,0h4m1,0h31m2,0h6m71,0h2m1,0h1m4,0h1m1,0h2m2,0h1m4,0h1m5,0h1m2,0h3m1,0h1m2,0h1m3,0h13m1,0h5m2,0h1m4,0h1m4,0h7m1,0h1m1,0h1m1,0h1m2,0h1m1,0h11m1,0h1m1,0h1m2,0h2m3,0h2m2,0h1m2,0h5m1,0h4m1,0h13m2,0h6m1,0h3m2,0h4m1,0h4m1,0h24m4,0h2m1,0h1m2,0h1m1,0h32m1,0h1m1,0h1m1,0h4m2,0h10m1,0h4m1,0h2m1,0h17m3,0h1m3,0h2m2,0h1m2,0h1m2,0h3m1,0h1m1,0h1m1,0h1m2,0h2m2,0h3m1,0h1M142.5,265.5h1m5,0h1m9,0h38m2,0h2M151.5,267.7h1M151.5,286.7h1m4,0h1m1,0h2m2,0h1m18,0h1m1,0h1m4,0h2m1,0h4m1,0h1m4,0h1m14,0h1m1,0h1m298,0h1m1,0h1m2,0h3M75.5,288.8h1m6,0h1m1,0h3m1,0h1m1,0h1m1,0h2m1,0h1m19,0h1m4,0h1m2,0h3m2,0h3m1,0h3m1,0h4m85,0h4m20,0h4m13,0h1m6,0h2m2,0h1m1,0h3m1,0h4m1,0h1m1,0h1m1,0h14m2,0h2m1,0h21m1,0h1m4,0h1m1,0h2m2,0h1m3,0h1m21,0h1m2,0h4m1,0h1m2,0h9m4,0h2m21,0h1m1,0h1m1,0h10m5,0h5m1,0h12m3,0h2m1,0h1m2,0h3m1,0h13m1,0h3m2,0h2m1,0h3m1,0h2m1,0h13m1,0h1M243.5,290.9h2m186,0h1m2,0h1"/>
<path stroke="#ff8c00" d="M140.5,265.5h2m54,0h2m2,0h4M144.5,267.7h2m3,0h2m4,0h3m24,0h1M153.5,269.8h1M519.5,284.5h3M142.5,286.7h9m1,0h4m1,0h1m2,0h2m1,0h18m1,0h1m1,0h4m2,0h1m4,0h1m1,0h4m1,0h14m1,0h1m1,0h6m29,0h1m1,0h10m2,0h2m1,0h2m1,0h2m4,0h1m10,0h1m44,0h1m1,0h2m2,0h1m1,0h1m1,0h5m1,0h8m2,0h5m4,0h1m2,0h1m1,0h1m1,0h2m1,0h1m71,0h2m3,0h1m1,0h1m26,0h1m2,0h4m15,0h2m1,0h1m1,0h3M71.5,288.8h4m1,0h6m1,0h1m3,0h1m1,0h1m1,0h1m2,0h1m1,0h19m1,0h4m1,0h2m3,0h2m3,0h1m3,0h1m93,0h12m1,0h7m57,0h2m2,0h1m79,0h4m2,0h21m1,0h1m1,0h1m12,0h1m7,0h1"/>
<path stroke="#ff7302" d="M139.5,265.5h1m64,0h3m16,0h1m15,0h1m30,0h1m3,0h1m2,0h1m209,0h2m2,0h1m3,0h1m16,0h1m10,0h1M142.5,267.7h2m2,0h3m9,0h24m1,0h9m1,0h1m4,0h1M152.5,269.8h1m1,0h1M151.5,284.5h1m3,0h1m1,0h1m2,0h2m9,0h1m12,0h1m1,0h2m2,0h5m23,0h1m298,0h2m3,0h3M87.5,286.7h1m6,0h2m1,0h2m21,0h3m1,0h2m1,0h2m2,0h2m1,0h1m1,0h1m1,0h4m83,0h3m21,0h1m1,0h3m1,0h1m10,0h2m2,0h1m2,0h1m2,0h4m1,0h10m1,0h9m6,0h1m3,0h1m1,0h2m1,0h7m1,0h12m1,0h1m2,0h2m1,0h1m1,0h1m5,0h1m8,0h2m5,0h4m1,0h2m1,0h1m1,0h1m2,0h1m1,0h7m1,0h1m10,0h1m7,0h1m9,0h8m1,0h3m4,0h18m2,0h3m1,0h1m1,0h26m1,0h2m4,0h15m2,0h1m1,0h1M241.5,288.8h1m189,0h2m1,0h1"/>
<path stroke="#ff5a06" d="M71.5,265.5h1m2,0h2m5,0h1m3,0h3m1,0h1m2,0h14m1,0h2m1,0h3m3,0h2m2,0h1m1,0h2m1,0h2m2,0h1m1,0h2m1,0h1m1,0h3m68,0h5m1,0h10m1,0h15m1,0h12m1,0h2m3,0h7m1,0h4m1,0h3m1,0h2m1,0h7m1,0h2m1,0h2m1,0h1m1,0h2m4,0h1m1,0h2m1,0h2m1,0h19m2,0h1m2,0h3m1,0h2m2,0h1m4,0h3m1,0h2m1,0h17m1,0h2m1,0h3m2,0h1m4,0h1m3,0h1m1,0h1m1,0h1m1,0h2m2,0h1m1,0h4m1,0h10m1,0h1m1,0h1m3,0h1m4,0h1m4,0h1m3,0h2m2,0h1m1,0h17m1,0h4m1,0h6m1,0h6m1,0h2m1,0h6m2,0h2m1,0h3m1,0h16m1,0h10m1,0h1M192.5,267.7h1m1,0h4m1,0h5M144.5,269.8h1m5,0h2m3,0h1M142.5,284.5h9m1,0h3m1,0h1m1,0h2m2,0h5m1,0h3m1,0h12m1,0h1m2,0h2m5,0h23m1,0h5m30,0h1m1,0h1m1,0h2m1,0h5m10,0h2m4,0h1m62,0h2m2,0h1m2,0h4m1,0h7m4,0h1m4,0h1m6,0h1m50,0h3m15,0h1m1,0h1m9,0h1m24,0h1m6,0h1m20,0h3M71.5,286.7h16m1,0h6m2,0h1m2,0h21m3,0h1m2,0h1m2,0h2m2,0h1m1,0h1m1,0h1m90,0h9m2,0h4m2,0h4m1,0h1m50,0h6m1,0h3m1,0h1m2,0h1m7,0h1m65,0h1m1,0h10m1,0h7m1,0h9m8,0h1m3,0h3"/>
<path stroke="#ff4109" d="M72.5,265.5h2m2,0h5m1,0h3m3,0h1m1,0h2m14,0h1m2,0h1m3,0h3m2,0h2m1,0h1m2,0h1m2,0h2m1,0h1m2,0h1m1,0h1m76,0h1m39,0h1m2,0h3m7,0h1m19,0h1m2,0h1m2,0h1m1,0h1m2,0h4m1,0h1m2,0h1m2,0h1m19,0h2m1,0h2m3,0h1m2,0h2m1,0h4m3,0h1m2,0h1m17,0h1m2,0h1m3,0h2m1,0h4m1,0h3m1,0h1m1,0h1m1,0h1m2,0h2m1,0h1m4,0h1m10,0h1m1,0h1m1,0h3m1,0h4m1,0h4m1,0h3m2,0h2m1,0h1m17,0h1m4,0h1m6,0h1m6,0h1m2,0h1M140.5,267.7h2m62,0h1M143.5,269.8h1m1,0h5m6,0h5m1,0h1m1,0h7m1,0h16m1,0h2M152.5,271.9h3M170.5,282.4h1m14,0h1m3,0h1m4,0h2m321,0h8M96.5,284.5h1m25,0h1m3,0h1m4,0h1m2,0h8m25,0h1m56,0h4m22,0h4m1,0h1m1,0h1m2,0h1m5,0h10m2,0h4m1,0h17m14,0h5m2,0h4m1,0h19m2,0h2m1,0h2m4,0h1m7,0h4m1,0h4m1,0h6m1,0h4m1,0h5m6,0h1m20,0h1m4,0h4m1,0h3m3,0h2m1,0h2m1,0h1m1,0h7m1,0h1m1,0h9m1,0h9m2,0h13m1,0h6m1,0h20M237.5,286.7h2m4,0h2m189,0h1"/>
<path stroke="#ff2d0f" d="M139.5,267.7h1m65,0h2M142.5,269.8h1m18,0h1m1,0h1m7,0h1m16,0h1m2,0h9m1,0h1M151.5,271.9h1M519.5,280.3h1M144.5,282.4h26m1,0h1m1,0h12m1,0h3m1,0h4m2,0h28m30,0h1m5,0h2m1,0h2m1,0h1m78,0h1m2,0h2m2,0h1m1,0h1m1,0h6m17,0h1m52,0h2m81,0h2M71.5,284.5h4m1,0h4m1,0h15m1,0h7m1,0h3m1,0h13m1,0h3m1,0h4m1,0h2m94,0h12m5,0h5m50,0h14m5,0h2m4,0h1m59,0h1m5,0h6m1,0h9m1,0h2m1,0h7m1,0h4m4,0h1m8,0h1m2,0h1m1,0h1m29,0h2"/>
<path stroke="#ff1a15" d="M200.5,269.8h1m1,0h1M150.5,271.9h1m4,0h1M153.5,274h1M520.5,280.3h1M141.5,282.4h3m28,0h1m51,0h1m28,0h1m1,0h5m2,0h1m2,0h1m1,0h3m67,0h1m6,0h1m1,0h2m2,0h2m1,0h1m1,0h1m6,0h9m6,0h2m52,0h1m2,0h1m77,0h3M75.5,284.5h1m4,0h1m23,0h1m3,0h1m131,0h5m162,0h1m2,0h1"/>
<path stroke="#ff0622" d="M310.5,267.7h1m204,0h1M77.5,269.8h1m1,0h1m1,0h1m185,0h1m88,0h1m13,0h1m5,0h1m17,0h1m17,0h1m15,0h1m27,0h1m11,0h1M116.5,271.9h1m6,0h1m47,0h1m91,0h1m62,0h1m5,0h1m35,0h1m43,0h1m8,0h1M98.5,274h1m272,0h1m3,0h1M114.5,276.1h1m26,0h1m92,0h1m6,0h1m68,0h1m45,0h1m107,0h1M118.5,278.2h1m95,0h1m94,0h1M100.5,280.3h1m5,0h1m8,0h1m6,0h1m174,0h1m2,0h1m36,0h1m12,0h1m12,0h1m98,0h1m18,0h1M87.5,282.4h1m163,0h1m83,0h1m132,0h1"/>
<path stroke="#ff0028" d="M71.5,267.7h68m68,0h103m1,0h204m1,0h9M71.5,269.8h6m1,0h1m1,0h1m1,0h60m61,0h64m1,0h88m1,0h13m1,0h5m1,0h17m1,0h17m1,0h15m1,0h27m1,0h11m1,0h56M71.5,271.9h45m1,0h6m1,0h26m6,0h15m1,0h91m1,0h62m1,0h5m1,0h35m1,0h43m1,0h8m1,0h103M71.5,274h27m1,0h54m1,0h217m1,0h3m1,0h149M71.5,276.1h43m1,0h26m1,0h92m1,0h6m1,0h68m1,0h45m1,0h107m1,0h60M71.5,278.2h47m1,0h95m1,0h94m1,0h215M71.5,280.3h29m1,0h5m1,0h8m1,0h6m1,0h174m1,0h2m1,0h36m1,0h12m1,0h12m1,0h98m1,0h18m1,0h37m2,0h4M71.5,282.4h16m1,0h53m84,0h26m1,0h1m17,0h65m1,0h1m1,0h6m27,0h6m3,0h51m4,0h33m1,0h43"/>
</g>
<g shape-rendering="crispEdges" fill="none" stroke-width="3.19">
<path stroke="#ff00ff" d="M671.5,117.3h9m1,0h2m1,0h2m6,0h1m2,0h3m2,0h1m1,0h3m1,0h5m2,0h4m1,0h3m3,0h2m3,0h2m5,0h1m1,0h4m1,0h5m1,0h2m1,0h1m2,0h1m3,0h3m2,0h1m1,0h1m1,0h1m2,0h1m2,0h2m1,0h2m1,0h2m1,0h1m2,0h4m1,0h1m1,0h1m1,0h2m2,0h1m3,0h4m1,0h2m1,0h1m1,0h5m1,0h3m1,0h1m3,0h1m1,0h3m1,0h1m1,0h1m1,0h2m1,0h1m1,0h2m1,0h1m1,0h1m6,0h3m1,0h2m1,0h1m1,0h1m5,0h1m2,0h2m2,0h6m2,0h3m1,0h2m4,0h1m3,0h2m1,0h5m3,0h2m1,0h1m1,0h6m1,0h1m3,0h3m1,0h3m1,0h1m6,0h1m1,0h1m1,0h2m3,0h2m5,0h1m1,0h3m1,0h1m7,0h1m1,0h1m1,0h1m2,0h1m3,0h1m2,0h2m2,0h2m1,0h2m3,0h1m4,0h5m1,0h3m1,0h1m1,0h2m3,0h1m3,0h2m2,0h1m1,0h4m1,0h1m1,0h1m1,0h1m1,0h1m2,0h1m6,0h3m6,0h9m3,0h2m1,0h1m2,0h1m2,0h1m3,0h1m3,0h2m2,0h3m1,0h5m1,0h1m1,0h1m2,0h1m4,0h2m5,0h1m1,0h2M668.5,119.6h1m4,0h1m2,0h1m1,0h2m10,0h1m6,0h1m2,0h1m6,0h1m3,0h1m1,0h1m5,0h2m4,0h1m1,0h1m1,0h1m5,0h1m2,0h1m2,0h1m10,0h1m1,0h1m4,0h1m3,0h3m1,0h1m3,0h1m5,0h1m3,0h1m2,0h1m1,0h1m2,0h1m1,0h1m6,0h2m2,0h1m5,0h1m2,0h1m1,0h1m2,0h3m5,0h1m2,0h1m1,0h1m2,0h2m6,0h1m3,0h1m1,0h2m1,0h1m1,0h1m1,0h1m8,0h1m1,0h2m1,0h3m1,0h1m7,0h1m2,0h1m1,0h1m3,0h1m2,0h1m1,0h1m1,0h1m6,0h1m4,0h1m4,0h1m12,0h2m7,0h1m14,0h1m4,0h4m5,0h2m1,0h1m1,0h1m4,0h3m7,0h1m5,0h1m1,0h2m9,0h3m2,0h2m4,0h2m1,0h2m1,0h2m6,0h2m6,0h2m2,0h1m5,0h2m2,0h1m3,0h2m7,0h1m1,0h2m3,0h1m2,0h2m2,0h1m1,0h1m1,0h1m2,0h1m1,0h1m9,0h1m2,0h3m5,0h1m4,0h2m4,0h1M668.5,121.9h2m5,0h1m1,0h1m2,0h1m3,0h1m5,0h5m1,0h3m1,0h1m5,0h1m1,0h1m7,0h1m1,0h1m10,0h1m4,0h1m2,0h1m3,0h1m5,0h1m6,0h1m2,0h3m2,0h1m12,0h1m2,0h1m4,0h2m3,0h1m10,0h1m1,0h1m3,0h3m3,0h3m1,0h3m6,0h1m7,0h1m8,0h1m4,0h1m4,0h1m1,0h1m4,0h1m5,0h3m1,0h3m2,0h1m2,0h1m9,0h1m2,0h1m2,0h1m3,0h1m2,0h3m3,0h3m6,0h1m3,0h1m9,0h1m3,0h1m2,0h3m6,0h1m4,0h1m3,0h1m2,0h1m5,0h1m6,0h1m2,0h1m6,0h2m4,0h2m1,0h2m5,0h2m2,0h1m1,0h2m1,0h1m1,0h2m6,0h1m2,0h2m1,0h1m7,0h1m3,0h1m1,0h2m6,0h4m4,0h4m3,0h3m4,0h1m3,0h2m5,0h1m2,0h2m1,0h1m3,0h1m1,0h1m6,0h1m1,0h1m4,0h2m6,0h1m4,0h1m4,0h2M672.5,124.2h1m12,0h1m17,0h1m1,0h1m4,0h2m28,0h1m2,0h1m7,0h1m7,0h1m35,0h1m2,0h1m7,0h1m2,0h1m2,0h1m4,0h1m10,0h1m12,0h1m24,0h1m14,0h1m7,0h1m18,0h1m13,0h1m12,0h1m5,0h1m5,0h1m10,0h1m6,0h1m2,0h1m3,0h2m13,0h1m15,0h1m1,0h1m11,0h1m4,0h1m10,0h1m3,0h1m1,0h1m2,0h1m13,0h1m20,0h1m28,0h1m14,0h1M683.5,126.5h1m5,0h1m10,0h1m4,0h1m3,0h1m3,0h1m19,0h1m19,0h1m5,0h1m1,0h1m17,0h1m2,0h1m1,0h1m2,0h1m6,0h1m46,0h1m8,0h2m2,0h2m1,0h1m2,0h1m8,0h1m1,0h2m21,0h1m1,0h1m18,0h1m1,0h1m2,0h1m6,0h1m10,0h1m10,0h1m1,0h1m4,0h1m2,0h1m1,0h1m20,0h1m22,0h1m10,0h1m31,0h2m6,0h1m22,0h1m9,0h1m2,0h1m3,0h1M707.5,128.7h1m22,0h1m18,0h1m1,0h1m19,0h1m15,0h1m63,0h1m33,0h1m7,0h1m22,0h1m11,0h1m98,0h1m3,0h1m30,0h1m1,0h1m34,0h1M694.5,131h1m34,0h1m26,0h1m2,0h1m60,0h1m11,0h1m36,0h1m50,0h1m12,0h1m84,0h1m35,0h1m2,0h1"/>
<path stroke="#0b00ff" d="M669.5,117.3h1m58,0h1m43,0h1m24,0h1m136,0h1m28,0h1m12,0h1M674.5,119.6h1m9,0h2m5,0h2m10,0h3m4,0h1m13,0h1m12,0h1m2,0h1m2,0h1m6,0h1m7,0h1m1,0h1m21,0h1m21,0h1m26,0h1m40,0h2m6,0h1m6,0h1m6,0h1m2,0h2m4,0h1m6,0h1m10,0h2m12,0h1m9,0h1m13,0h1m11,0h1m16,0h1m20,0h2m4,0h1m10,0h1m10,0h2m13,0h1m2,0h1m11,0h1m11,0h1m1,0h1m7,0h1m6,0h1m4,0h1m8,0h1m9,0h1M672.5,121.9h2m7,0h2m19,0h2m7,0h1m16,0h1m2,0h1m13,0h1m15,0h1m18,0h1m8,0h1m3,0h1m9,0h1m5,0h1m23,0h1m4,0h1m1,0h1m4,0h1m6,0h1m2,0h1m3,0h1m33,0h1m9,0h1m20,0h1m26,0h1m14,0h1m15,0h1m14,0h1m12,0h1m2,0h1m11,0h1m1,0h1m3,0h1m4,0h1m11,0h1m6,0h1m6,0h1m8,0h2m16,0h1m5,0h1m15,0h1M681.5,124.2h1m5,0h1m8,0h1m12,0h1m31,0h1m4,0h1m7,0h1m12,0h1m9,0h1m80,0h3m4,0h1m9,0h1m21,0h1m4,0h1m28,0h2m4,0h1m2,0h1m21,0h1m8,0h1m4,0h1m18,0h1m29,0h1m10,0h1m7,0h1m14,0h1m4,0h1m11,0h1m16,0h1m1,0h1m13,0h1M690.5,126.5h1m7,0h1m25,0h1m16,0h1m13,0h1m34,0h1m5,0h1m2,0h1m20,0h1m15,0h2m40,0h1m52,0h1m11,0h1m25,0h1m2,0h1m5,0h1m2,0h1m4,0h1m15,0h1m28,0h1m20,0h1m4,0h1m22,0h1m14,0h1m12,0h1m6,0h1"/>
<path stroke="#0018ff" d="M690.5,117.3h1m36,0h1m9,0h1m13,0h1m32,0h1m22,0h1m16,0h2m31,0h1m4,0h1m3,0h1m1,0h1m59,0h1m8,0h1m15,0h1m21,0h1m34,0h1m13,0h1m23,0h1m6,0h1m18,0h2m24,0h1M671.5,119.6h1m9,0h1m7,0h1m6,0h1m1,0h2m8,0h1m3,0h1m2,0h1m15,0h1m7,0h1m2,0h1m18,0h1m8,0h1m14,0h1m1,0h2m1,0h1m2,0h2m12,0h1m1,0h1m5,0h1m3,0h2m1,0h1m7,0h1m4,0h2m5,0h1m17,0h1m9,0h1m3,0h5m17,0h1m2,0h3m7,0h1m7,0h1m2,0h1m2,0h1m3,0h3m1,0h1m1,0h1m13,0h1m4,0h1m17,0h1m1,0h1m3,0h2m6,0h1m9,0h2m1,0h1m7,0h2m11,0h1m2,0h1m2,0h1m4,0h1m1,0h1m1,0h2m5,0h1m1,0h1m1,0h1m3,0h1m21,0h1m16,0h1m16,0h1m2,0h1m1,0h1m3,0h1m1,0h1M674.5,121.9h1m10,0h1m9,0h1m3,0h1m1,0h1m18,0h1m4,0h3m8,0h1m7,0h1m5,0h2m15,0h1m5,0h2m1,0h2m3,0h2m7,0h1m4,0h2m21,0h1m2,0h2m2,0h2m2,0h1m6,0h1m2,0h1m17,0h1m4,0h1m4,0h1m4,0h1m1,0h1m2,0h2m2,0h1m2,0h2m5,0h1m3,0h1m1,0h1m4,0h1m6,0h2m2,0h1m1,0h2m2,0h2m1,0h1m2,0h1m1,0h1m17,0h2m8,0h1m9,0h1m4,0h1m3,0h1m2,0h1m9,0h1m3,0h1m11,0h1m11,0h1m25,0h1m4,0h2m6,0h1m5,0h1m4,0h3m20,0h1m2,0h1m1,0h1m6,0h1m7,0h1m4,0h1m2,0h1m1,0h1m2,0h1M670.5,124.2h1m4,0h1m4,0h1m7,0h1m1,0h2m6,0h1m2,0h1m4,0h1m5,0h1m3,0h4m2,0h1m4,0h1m6,0h1m17,0h1m4,0h1m3,0h1m1,0h1m8,0h1m3,0h1m3,0h1m5,0h2m2,0h2m7,0h1m1,0h1m5,0h2m4,0h1m9,0h1m7,0h2m2,0h2m3,0h1m3,0h1m5,0h1m2,0h1m8,0h1m5,0h2m4,0h1m3,0h1m14,0h1m1,0h1m4,0h1m2,0h1m5,0h1m10,0h1m13,0h1m3,0h1m12,0h1m15,0h1m2,0h1m3,0h1m4,0h1m3,0h2m4,0h1m6,0h1m1,0h1m1,0h1m1,0h1m7,0h3m6,0h1m11,0h2m20,0h1m3,0h1m7,0h1m14,0h1m6,0h2m3,0h1m3,0h1m14,0h1m2,0h1m2,0h3M686.5,126.5h1m6,0h1m8,0h1m4,0h1m6,0h1m1,0h2m1,0h2m5,0h1m1,0h1m5,0h1m3,0h1m3,0h2m10,0h1m11,0h1m11,0h1m6,0h1m2,0h2m2,0h1m7,0h1m5,0h2m11,0h1m5,0h1m2,0h1m9,0h1m3,0h2m15,0h1m13,0h1m9,0h1m2,0h1m3,0h2m3,0h1m3,0h1m8,0h1m14,0h1m8,0h1m4,0h1m6,0h2m6,0h2m8,0h1m2,0h1m10,0h1m3,0h1m3,0h1m6,0h1m4,0h1m1,0h1m10,0h2m11,0h1m5,0h1m1,0h1m6,0h2m3,0h1m26,0h1m7,0h1m7,0h1m2,0h1m1,0h1m2,0h1m10,0h1m2,0h1m6,0h1m1,0h1m1,0h1M686.5,128.7h1m25,0h1m8,0h1m6,0h1m10,0h1m17,0h1m1,0h1m6,0h1m23,0h1m17,0h1m14,0h1m1,0h1m19,0h2m6,0h1m3,0h1m56,0h1m7,0h1m13,0h1m12,0h2m24,0h1m2,0h1m20,0h1m2,0h2m11,0h1m8,0h1m3,0h1m6,0h1m1,0h1m5,0h1m11,0h2m22,0h1m22,0h1m4,0h1m13,0h1M674.5,131h1m8,0h1m28,0h1m13,0h1m11,0h1m10,0h1m23,0h1m3,0h1m19,0h1m2,0h1m5,0h1m7,0h1m1,0h1m21,0h1m25,0h2m1,0h1m6,0h1m12,0h1m7,0h1m10,0h1m8,0h1m5,0h1m1,0h1m4,0h1m2,0h1m13,0h1m2,0h1m3,0h1m4,0h1m1,0h1m2,0h1m14,0h1m18,0h2m18,0h1m34,0h1m3,0h1m19,0h1m23,0h1m2,0h1m8,0h1m8,0h1"/>
<path stroke="#0037ff" d="M726.5,117.3h1m6,0h3m17,0h2m63,0h1m7,0h1m12,0h1m52,0h1m13,0h1m32,0h1m8,0h1m3,0h1m34,0h1m6,0h1m11,0h1m9,0h1m23,0h1m11,0h1m14,0h1m41,0h2M682.5,119.6h2m4,0h1m5,0h2m6,0h1m13,0h2m12,0h1m3,0h1m11,0h3m8,0h1m8,0h1m2,0h1m4,0h1m4,0h1m3,0h1m11,0h3m2,0h2m3,0h2m14,0h1m1,0h1m10,0h1m3,0h1m6,0h1m2,0h1m5,0h2m1,0h1m1,0h1m1,0h1m1,0h1m28,0h1m13,0h1m1,0h1m9,0h1m13,0h1m8,0h2m1,0h1m5,0h2m6,0h1m6,0h1m3,0h1m9,0h2m4,0h1m4,0h1m5,0h1m3,0h1m10,0h1m10,0h1m7,0h1m12,0h1m6,0h2m4,0h1m1,0h1m1,0h2m6,0h1m6,0h1m1,0h1m10,0h1m2,0h1m2,0h1m13,0h1m9,0h1m2,0h1M670.5,121.9h1m5,0h1m9,0h1m1,0h1m24,0h1m3,0h1m1,0h1m10,0h1m1,0h1m7,0h1m8,0h1m10,0h1m4,0h2m5,0h1m13,0h2m14,0h1m11,0h1m4,0h1m7,0h2m1,0h2m3,0h1m7,0h1m3,0h1m2,0h1m3,0h1m8,0h1m11,0h1m14,0h1m13,0h1m12,0h1m3,0h1m7,0h1m1,0h1m7,0h1m2,0h1m5,0h1m3,0h1m4,0h1m1,0h2m3,0h1m6,0h1m9,0h1m10,0h1m5,0h1m6,0h1m3,0h1m1,0h1m4,0h1m2,0h1m1,0h1m2,0h1m1,0h1m3,0h1m2,0h1m5,0h1m21,0h1m8,0h1m11,0h2m8,0h1m4,0h1m1,0h1m7,0h1m4,0h1M669.5,124.2h1m1,0h1m1,0h1m3,0h1m4,0h1m6,0h1m4,0h1m7,0h1m10,0h1m9,0h1m2,0h1m3,0h2m6,0h2m2,0h1m22,0h1m2,0h1m1,0h1m12,0h2m3,0h1m13,0h1m8,0h1m10,0h1m1,0h2m1,0h1m1,0h1m12,0h2m8,0h1m1,0h1m6,0h1m5,0h1m4,0h2m2,0h1m5,0h1m2,0h1m2,0h1m3,0h1m1,0h1m1,0h1m7,0h1m1,0h2m3,0h1m2,0h1m14,0h2m8,0h1m2,0h2m8,0h1m2,0h1m4,0h1m2,0h1m2,0h1m11,0h1m1,0h2m3,0h1m2,0h1m1,0h2m5,0h1m15,0h1m1,0h2m4,0h1m12,0h1m3,0h1m4,0h1m3,0h1m12,0h2m1,0h1m9,0h1m5,0h1m2,0h1m1,0h1m1,0h1m7,0h1m2,0h1m3,0h2m1,0h2m7,0h1m2,0h1M674.5,126.5h3m3,0h1m6,0h1m6,0h3m6,0h1m4,0h1m1,0h2m3,0h1m5,0h1m9,0h2m4,0h1m8,0h1m3,0h1m6,0h1m6,0h1m5,0h1m15,0h1m4,0h1m1,0h1m4,0h1m5,0h1m3,0h1m2,0h1m1,0h1m4,0h1m4,0h1m3,0h1m38,0h2m6,0h1m1,0h1m5,0h1m1,0h2m1,0h1m1,0h1m2,0h1m4,0h1m3,0h1m1,0h1m5,0h1m1,0h2m1,0h1m1,0h1m2,0h1m5,0h1m3,0h1m10,0h1m1,0h1m4,0h1m9,0h1m6,0h1m1,0h1m1,0h1m8,0h1m5,0h1m8,0h1m2,0h1m1,0h1m8,0h1m1,0h1m3,0h1m1,0h2m1,0h1m1,0h2m2,0h2m2,0h1m1,0h1m2,0h1m3,0h1m4,0h1m9,0h1m9,0h1m11,0h1m9,0h1m17,0h1m1,0h1m2,0h1m4,0h1m8,0h2M672.5,128.7h1m2,0h2m3,0h1m3,0h2m1,0h1m2,0h1m1,0h1m11,0h1m3,0h2m19,0h1m11,0h3m1,0h1m15,0h1m2,0h1m2,0h1m4,0h1m5,0h2m9,0h1m5,0h1m11,0h1m5,0h1m3,0h1m14,0h1m5,0h1m11,0h1m3,0h2m3,0h1m8,0h1m6,0h2m5,0h1m12,0h2m1,0h1m10,0h1m2,0h2m5,0h1m4,0h1m8,0h1m1,0h1m3,0h1m2,0h1m1,0h1m1,0h1m4,0h1m2,0h1m8,0h1m1,0h1m6,0h1m8,0h2m7,0h1m4,0h1m5,0h1m14,0h1m4,0h1m14,0h1m7,0h2m4,0h1m7,0h1m1,0h1m7,0h1m1,0h1m5,0h1m13,0h2m9,0h1m9,0h1m6,0h2M669.5,131h2m2,0h1m22,0h2m12,0h1m2,0h2m4,0h1m3,0h1m1,0h1m24,0h1m11,0h1m5,0h1m6,0h2m1,0h1m3,0h2m2,0h1m4,0h1m3,0h1m5,0h1m7,0h1m2,0h1m9,0h1m1,0h1m6,0h1m2,0h1m2,0h1m14,0h1m4,0h1m2,0h1m10,0h1m3,0h1m4,0h2m3,0h1m5,0h1m1,0h1m2,0h1m4,0h1m3,0h1m1,0h1m1,0h2m6,0h1m4,0h1m2,0h1m1,0h1m1,0h1m19,0h1m8,0h1m4,0h1m24,0h1m2,0h1m2,0h1m3,0h1m3,0h1m7,0h1m4,0h1m12,0h1m19,0h1m18,0h1m2,0h2m1,0h1m8,0h1m3,0h1m1,0h1m3,0h3m13,0h1m6,0h1m2,0h1M673.5,133.3h1m26,0h1m7,0h1m11,0h1m53,0h1m12,0h1m7,0h1m10,0h1m51,0h1m21,0h1m10,0h1m40,0h1m72,0h1m18,0h1M696.5,135.6h1m16,0h1m5,0h1m110,0h1m11,0h1m21,0h1m34,0h1m53,0h1m11,0h1m7,0h1m12,0h1m17,0h1m11,0h1m15,0h2m20,0h1m15,0h1m41,0h1"/>
<path stroke="#0056ff" d="M668.5,117.3h1m73,0h1m55,0h1m42,0h1m25,0h1m28,0h1m44,0h1m58,0h1m37,0h1m7,0h1m33,0h1m1,0h1M677.5,119.6h1m8,0h1m6,0h1m7,0h1m4,0h1m21,0h1m4,0h1m17,0h1m1,0h1m24,0h1m1,0h1m22,0h1m8,0h1m12,0h1m15,0h1m14,0h1m9,0h1m14,0h1m1,0h1m5,0h2m20,0h1m1,0h4m20,0h1m5,0h1m16,0h1m6,0h1m10,0h1m14,0h1m47,0h1m5,0h1m9,0h1m13,0h1m2,0h1m11,0h1m5,0h1m9,0h1m13,0h1m2,0h1M689.5,121.9h1m14,0h2m47,0h1m2,0h1m6,0h2m3,0h1m1,0h1m8,0h1m5,0h1m8,0h1m2,0h1m12,0h1m71,0h1m5,0h1m5,0h1m17,0h1m10,0h1m16,0h1m22,0h1m11,0h1m24,0h1m7,0h1m13,0h1m6,0h1m44,0h1m9,0h1m13,0h1m5,0h1m1,0h1m8,0h1M678.5,124.2h1m7,0h1m6,0h1m5,0h2m3,0h1m3,0h1m6,0h1m4,0h2m2,0h2m9,0h1m8,0h1m2,0h1m1,0h1m5,0h2m1,0h1m3,0h1m6,0h1m4,0h1m4,0h1m5,0h1m6,0h1m4,0h1m6,0h1m10,0h2m13,0h1m2,0h1m3,0h1m1,0h1m6,0h1m1,0h1m7,0h2m5,0h2m14,0h2m2,0h1m14,0h2m1,0h1m3,0h1m4,0h1m4,0h1m2,0h2m3,0h1m3,0h1m8,0h1m9,0h1m2,0h2m2,0h1m2,0h2m1,0h1m22,0h1m9,0h1m1,0h1m4,0h1m6,0h1m13,0h1m14,0h1m4,0h1m4,0h1m3,0h2m3,0h1m3,0h1m9,0h1m1,0h3m5,0h1m2,0h1m1,0h1m1,0h1m4,0h2m6,0h1m13,0h1m7,0h1M672.5,126.5h1m5,0h2m4,0h1m7,0h1m8,0h1m4,0h1m11,0h1m8,0h1m7,0h2m3,0h1m3,0h1m4,0h1m1,0h1m8,0h1m6,0h1m1,0h1m1,0h4m5,0h2m1,0h1m11,0h1m1,0h1m7,0h1m3,0h1m5,0h3m4,0h1m3,0h1m2,0h1m3,0h3m4,0h1m7,0h2m6,0h1m5,0h2m1,0h1m9,0h1m5,0h1m11,0h1m4,0h1m6,0h3m2,0h1m2,0h1m7,0h1m17,0h1m1,0h1m6,0h1m5,0h1m12,0h1m6,0h2m9,0h1m1,0h2m1,0h1m10,0h1m1,0h2m8,0h1m11,0h1m18,0h1m8,0h1m1,0h1m3,0h2m1,0h1m1,0h1m2,0h2m5,0h1m3,0h1m5,0h1m6,0h1m5,0h1m1,0h1m5,0h1m6,0h2M669.5,128.7h1m9,0h1m1,0h1m14,0h1m2,0h1m20,0h1m1,0h1m8,0h3m2,0h2m2,0h1m17,0h1m21,0h1m3,0h2m7,0h2m5,0h1m1,0h1m1,0h2m12,0h1m5,0h1m5,0h1m3,0h1m1,0h1m6,0h1m3,0h3m2,0h1m3,0h1m7,0h1m4,0h2m8,0h1m3,0h1m15,0h2m5,0h2m3,0h1m3,0h1m1,0h2m4,0h1m5,0h1m2,0h1m7,0h1m6,0h2m3,0h2m1,0h2m4,0h1m4,0h2m1,0h1m1,0h1m4,0h1m3,0h1m4,0h1m2,0h1m19,0h1m1,0h2m13,0h2m6,0h1m8,0h1m3,0h1m1,0h1m2,0h3m9,0h1m7,0h1m3,0h1m2,0h1m6,0h1m7,0h1m2,0h2m5,0h1m12,0h1M675.5,131h1m4,0h1m3,0h1m8,0h1m1,0h1m2,0h2m1,0h1m2,0h2m9,0h1m4,0h2m5,0h1m4,0h1m6,0h1m2,0h1m8,0h1m2,0h1m3,0h1m1,0h1m8,0h3m7,0h1m1,0h1m11,0h1m4,0h1m3,0h1m23,0h1m12,0h1m2,0h2m2,0h1m4,0h1m2,0h1m18,0h1m4,0h1m10,0h1m12,0h2m9,0h1m4,0h1m11,0h1m23,0h1m5,0h1m13,0h1m1,0h1m10,0h1m12,0h1m4,0h2m10,0h1m4,0h1m4,0h1m7,0h2m2,0h1m3,0h1m1,0h1m10,0h1m2,0h1m14,0h1m3,0h1m1,0h1m3,0h1m5,0h1m15,0h1m9,0h1m4,0h1M678.5,133.3h1m5,0h1m1,0h1m35,0h1m30,0h1m15,0h1m7,0h1m1,0h1m8,0h1m27,0h1m18,0h1m8,0h1m1,0h2m9,0h1m6,0h1m2,0h1m4,0h1m1,0h1m1,0h1m26,0h1m1,0h1m32,0h1m2,0h1m37,0h2m13,0h1m64,0h1m8,0h2m1,0h1m9,0h1m14,0h1m22,0h1M671.5,135.6h3m20,0h1m17,0h1m3,0h1m5,0h1m1,0h1m11,0h1m8,0h1m1,0h1m24,0h1m5,0h1m8,0h1m5,0h1m10,0h1m54,0h1m9,0h1m6,0h1m9,0h1m3,0h1m1,0h1m9,0h2m14,0h2m5,0h1m24,0h1m24,0h1m3,0h1m11,0h2m13,0h1m10,0h1m9,0h1m7,0h1m7,0h1m8,0h1m3,0h1m6,0h1m3,0h1m8,0h1m11,0h1m13,0h1M683.5,137.9h1m35,0h1m39,0h1m2,0h1m76,0h1m25,0h1m29,0h1m35,0h1m74,0h1m30,0h1m12,0h1m32,0h1"/>
<path stroke="#0074ff" d="M676.5,124.2h1m6,0h2m10,0h1m33,0h1m20,0h1m15,0h1m11,0h1m14,0h1m20,0h1m3,0h1m1,0h1m30,0h1m3,0h1m28,0h1m5,0h2m24,0h2m10,0h1m4,0h1m14,0h1m37,0h1m17,0h1m9,0h1m13,0h2m18,0h1m13,0h1m37,0h1m6,0h1M682.5,126.5h1m8,0h1m20,0h1m32,0h1m10,0h1m6,0h1m13,0h1m23,0h1m12,0h1m17,0h1m20,0h1m4,0h1m2,0h1m8,0h1m17,0h1m11,0h1m25,0h1m1,0h1m17,0h1m46,0h1m39,0h2m15,0h1m12,0h1m1,0h1m4,0h1m27,0h1m18,0h1m1,0h1M673.5,128.7h1m17,0h1m1,0h2m2,0h2m2,0h1m1,0h1m10,0h2m1,0h1m7,0h1m1,0h1m6,0h1m9,0h1m15,0h1m12,0h1m8,0h1m5,0h1m9,0h1m7,0h1m2,0h1m2,0h1m2,0h1m4,0h1m1,0h1m4,0h1m1,0h1m1,0h1m1,0h1m5,0h2m21,0h1m2,0h2m5,0h1m1,0h1m3,0h1m2,0h1m5,0h2m32,0h1m3,0h1m5,0h1m13,0h1m13,0h2m1,0h1m10,0h1m9,0h1m2,0h1m4,0h1m4,0h1m1,0h1m8,0h1m4,0h1m5,0h2m2,0h1m6,0h1m4,0h1m3,0h3m20,0h1m4,0h2m1,0h1m3,0h1m6,0h1m7,0h1m3,0h1m2,0h1m4,0h1m5,0h1m6,0h1m3,0h1M671.5,131h1m5,0h1m10,0h1m14,0h1m2,0h1m1,0h2m6,0h1m1,0h1m5,0h1m6,0h1m1,0h2m1,0h2m6,0h1m12,0h1m5,0h2m1,0h1m13,0h1m30,0h1m3,0h1m1,0h1m10,0h2m14,0h1m14,0h1m1,0h1m6,0h1m3,0h1m3,0h2m4,0h2m4,0h1m3,0h1m1,0h1m4,0h1m16,0h1m7,0h1m12,0h1m2,0h1m3,0h1m2,0h1m3,0h1m12,0h1m5,0h1m2,0h1m1,0h1m2,0h1m1,0h1m4,0h1m13,0h1m1,0h1m2,0h1m3,0h1m23,0h1m1,0h1m3,0h1m11,0h1m9,0h2m6,0h1m12,0h1m1,0h1m3,0h1m7,0h1m2,0h1m4,0h2m2,0h1m5,0h1m3,0h1m1,0h1M669.5,133.3h1m53,0h1m7,0h2m9,0h1m1,0h2m10,0h1m16,0h1m2,0h1m8,0h1m17,0h1m4,0h1m8,0h1m7,0h2m1,0h1m31,0h2m8,0h1m2,0h1m14,0h1m3,0h1m43,0h1m8,0h1m3,0h1m2,0h1m12,0h1m16,0h1m3,0h1m14,0h1m7,0h1m7,0h1m10,0h1m1,0h1m19,0h1m11,0h1m12,0h1m1,0h1m2,0h1m7,0h3m11,0h1m2,0h1m8,0h1m2,0h2M689.5,135.6h1m8,0h2m3,0h1m17,0h1m1,0h1m4,0h1m10,0h1m14,0h1m3,0h1m1,0h1m2,0h1m30,0h1m5,0h1m17,0h2m11,0h1m15,0h1m1,0h1m2,0h1m5,0h1m4,0h1m14,0h1m3,0h1m21,0h1m7,0h2m3,0h1m9,0h1m5,0h1m17,0h1m3,0h1m1,0h1m1,0h1m3,0h1m7,0h1m4,0h1m25,0h1m7,0h1m3,0h1m6,0h1m1,0h1m14,0h1m2,0h1m2,0h1m6,0h1m1,0h1m15,0h1m3,0h1m3,0h1m7,0h1m1,0h1m2,0h1m4,0h1m9,0h2m2,0h2m5,0h1M670.5,137.9h1m8,0h1m9,0h1m7,0h1m22,0h1m5,0h1m3,0h1m2,0h1m23,0h2m9,0h1m7,0h3m9,0h1m11,0h1m30,0h1m49,0h1m6,0h1m9,0h1m9,0h1m8,0h1m11,0h1m11,0h1m51,0h1m22,0h1m67,0h1"/>
<path stroke="#0094ff" d="M695.5,128.7h1m14,0h1m8,0h1m147,0h1m90,0h1m71,0h1m53,0h1M819.5,131h1m80,0h1m49,0h1m21,0h1m22,0h1m16,0h1m34,0h1m29,0h1m23,0h1M746.5,133.3h1m13,0h1m59,0h1m21,0h1m101,0h1m15,0h1m91,0h1m58,0h1M969.5,135.6h1m41,0h1m22,0h1m10,0h1M721.5,137.9h1m38,0h1m61,0h1m288,0h1"/>
<path stroke="#00b4ff" d="M674.5,124.2h1m57,0h1m3,0h1m11,0h1m11,0h1m3,0h1m6,0h1m9,0h2m88,0h1m52,0h1m98,0h2m41,0h1m8,0h1m13,0h1M668.5,126.5h1m28,0h1m31,0h1m28,0h1m43,0h1m36,0h1m4,0h1m2,0h1m4,0h1m24,0h1m1,0h2m137,0h1m24,0h1m14,0h1m12,0h1m3,0h1m10,0h1m13,0h1"/>
<path stroke="#00d4ff" d="M670.5,117.3h1m9,0h1m2,0h1m2,0h4m1,0h1m1,0h2m3,0h2m1,0h1m3,0h1m5,0h2m4,0h1m3,0h3m7,0h2m15,0h1m7,0h3m3,0h2m1,0h1m1,0h1m1,0h2m2,0h1m2,0h1m2,0h1m2,0h1m2,0h1m4,0h1m1,0h1m1,0h1m5,0h3m7,0h1m1,0h1m9,0h1m5,0h1m3,0h1m1,0h1m1,0h1m7,0h1m1,0h1m1,0h6m6,0h1m3,0h2m4,0h2m2,0h2m6,0h2m3,0h1m2,0h2m1,0h1m1,0h1m1,0h1m2,0h1m6,0h2m2,0h1m1,0h1m6,0h1m1,0h3m7,0h1m2,0h2m1,0h1m4,0h1m2,0h2m3,0h1m2,0h2m1,0h1m3,0h1m2,0h6m1,0h1m1,0h1m4,0h3m1,0h2m2,0h1m3,0h1m2,0h1m1,0h1m1,0h3m12,0h1m2,0h1m1,0h1m1,0h3m3,0h1m1,0h1m4,0h1m1,0h1m1,0h1m4,0h1m1,0h3m1,0h1m5,0h2m1,0h2m10,0h2m2,0h1m4,0h2m2,0h1m2,0h3m2,0h2m3,0h1m7,0h1m1,0h2m1,0h2m4,0h5m1,0h1M669.5,119.6h2m1,0h1m2,0h1m4,0h1m6,0h1m21,0h1m4,0h1m3,0h1m2,0h3m2,0h1m5,0h1m3,0h1m7,0h2m3,0h1m5,0h2m5,0h1m5,0h1m3,0h2m1,0h2m15,0h1m17,0h1m3,0h1m11,0h1m1,0h1m8,0h1m1,0h1m3,0h1m6,0h1m1,0h1m5,0h1m26,0h2m17,0h2m13,0h1m4,0h1m5,0h1m5,0h1m1,0h3m5,0h1m1,0h1m4,0h1m7,0h2m18,0h2m3,0h2m10,0h2m1,0h1m10,0h1m10,0h1m1,0h1m6,0h1m26,0h1m3,0h1m2,0h1m15,0h1m1,0h1m5,0h1m2,0h1m3,0h1m5,0h1m1,0h1m8,0h1M671.5,121.9h1m6,0h2m3,0h1m3,0h1m19,0h1m1,0h2m1,0h1m1,0h2m5,0h4m8,0h1m1,0h1m2,0h2m2,0h2m2,0h1m1,0h1m3,0h1m2,0h1m13,0h1m1,0h1m19,0h2m5,0h1m1,0h1m3,0h1m3,0h1m11,0h1m2,0h1m10,0h1m2,0h1m4,0h1m1,0h1m3,0h2m6,0h1m3,0h2m9,0h1m7,0h2m2,0h1m3,0h1m10,0h1m9,0h1m2,0h1m14,0h1m3,0h1m2,0h2m3,0h1m2,0h1m1,0h1m3,0h1m2,0h1m3,0h1m3,0h1m2,0h1m5,0h2m4,0h1m2,0h1m1,0h1m4,0h2m5,0h1m2,0h2m17,0h1m10,0h1m13,0h2m1,0h1m8,0h1m6,0h1m6,0h1m9,0h1m2,0h2m2,0h1m5,0h1m3,0h1m12,0h1m1,0h1m4,0h1m6,0h1M692.5,124.2h1m4,0h1m9,0h1m6,0h1m13,0h1m4,0h1m3,0h1m7,0h1m7,0h1m19,0h1m1,0h1m18,0h1m1,0h1m3,0h1m2,0h1m1,0h1m4,0h1m8,0h1m1,0h1m4,0h1m7,0h1m3,0h1m6,0h1m1,0h1m1,0h1m20,0h1m6,0h1m9,0h1m25,0h1m7,0h1m3,0h1m18,0h2m8,0h1m6,0h1m7,0h1m5,0h1m1,0h1m15,0h1m7,0h1m6,0h2m16,0h2m2,0h1m10,0h1m25,0h1m1,0h1m4,0h1m24,0h1m8,0h1M670.5,126.5h1m6,0h1m3,0h1m3,0h1m2,0h1m10,0h1m39,0h1m8,0h1m13,0h1m12,0h2m26,0h1m6,0h1m1,0h1m8,0h1m2,0h1m5,0h2m13,0h1m22,0h1m35,0h1m13,0h1m3,0h1m1,0h1m5,0h1m3,0h1m1,0h1m13,0h1m4,0h1m2,0h1m4,0h1m7,0h1m1,0h1m15,0h1m4,0h1m4,0h2m6,0h1m3,0h1m9,0h1m4,0h1m8,0h1m3,0h1m5,0h3m6,0h1m17,0h1m3,0h1m4,0h2m4,0h1m6,0h1m15,0h1M671.5,128.7h1m2,0h1m2,0h2m3,0h1m5,0h2m10,0h1m4,0h2m4,0h1m1,0h1m2,0h1m1,0h1m4,0h2m13,0h1m7,0h1m3,0h1m1,0h1m2,0h1m6,0h2m1,0h1m2,0h3m3,0h1m1,0h2m5,0h1m2,0h1m4,0h1m4,0h1m2,0h1m3,0h1m6,0h2m2,0h1m4,0h1m1,0h1m4,0h1m10,0h1m3,0h2m17,0h2m1,0h1m7,0h1m1,0h1m3,0h1m2,0h1m5,0h1m3,0h3m1,0h1m8,0h1m1,0h1m2,0h1m1,0h1m9,0h1m5,0h2m2,0h1m6,0h2m2,0h1m1,0h1m13,0h1m6,0h1m5,0h1m3,0h1m2,0h1m1,0h1m9,0h1m2,0h2m3,0h1m2,0h1m3,0h2m7,0h1m6,0h1m2,0h1m8,0h1m8,0h1m5,0h1m6,0h1m2,0h1m1,0h1m5,0h1m6,0h1m4,0h1m3,0h3m2,0h2m6,0h1m3,0h1m5,0h2m2,0h3m3,0h2M668.5,131h1m3,0h1m3,0h1m1,0h2m1,0h2m3,0h2m2,0h3m7,0h1m1,0h1m4,0h1m3,0h1m5,0h1m12,0h1m4,0h1m4,0h2m1,0h1m1,0h4m3,0h2m1,0h1m5,0h1m5,0h1m4,0h1m1,0h1m9,0h2m1,0h4m1,0h1m1,0h1m1,0h1m6,0h2m2,0h2m1,0h1m2,0h1m4,0h1m2,0h1m1,0h1m3,0h1m2,0h1m4,0h2m4,0h1m3,0h1m1,0h2m1,0h1m2,0h1m1,0h2m1,0h1m3,0h2m2,0h1m3,0h1m8,0h1m4,0h1m12,0h1m6,0h1m3,0h1m2,0h2m1,0h1m11,0h1m5,0h1m3,0h1m1,0h2m1,0h3m2,0h1m8,0h2m4,0h1m3,0h5m9,0h1m1,0h1m2,0h1m1,0h1m2,0h2m1,0h2m9,0h1m3,0h1m1,0h1m1,0h1m2,0h1m5,0h2m1,0h4m3,0h2m1,0h1m6,0h3m1,0h1m1,0h1m5,0h2m4,0h1m3,0h1m2,0h2m9,0h1m2,0h1m5,0h1m5,0h1m4,0h2m2,0h1m4,0h1m3,0h2m1,0h1m1,0h1M676.5,133.3h1m3,0h1m1,0h1m6,0h1m3,0h2m1,0h2m3,0h1m2,0h3m6,0h1m4,0h1m6,0h1m1,0h1m2,0h1m4,0h1m2,0h1m8,0h1m3,0h2m2,0h1m1,0h2m3,0h1m1,0h1m6,0h2m2,0h1m2,0h1m1,0h1m9,0h1m3,0h1m7,0h1m8,0h1m3,0h1m11,0h1m1,0h1m2,0h2m2,0h1m2,0h1m3,0h1m5,0h2m1,0h1m9,0h1m2,0h2m1,0h2m9,0h1m2,0h1m2,0h1m1,0h1m1,0h2m6,0h2m2,0h1m4,0h2m1,0h1m7,0h3m1,0h1m3,0h2m3,0h1m8,0h1m7,0h1m3,0h1m3,0h1m1,0h3m1,0h1m1,0h2m1,0h1m2,0h1m2,0h1m1,0h1m2,0h2m4,0h2m7,0h2m9,0h2m1,0h3m1,0h1m2,0h1m4,0h2m2,0h1m2,0h3m1,0h1m3,0h2m1,0h1m2,0h2m7,0h1m5,0h1m1,0h2m7,0h3m5,0h1m4,0h1m3,0h1m1,0h1m1,0h1m5,0h1m5,0h2m1,0h1m1,0h1m5,0h1m10,0h1M668.5,135.6h1m5,0h2m4,0h1m9,0h1m2,0h1m6,0h1m1,0h1m3,0h1m1,0h1m2,0h1m2,0h1m2,0h2m8,0h1m2,0h1m2,0h3m1,0h2m5,0h1m1,0h1m3,0h3m8,0h1m4,0h1m2,0h1m6,0h1m8,0h2m2,0h4m6,0h1m8,0h1m6,0h1m4,0h4m1,0h3m5,0h8m3,0h1m1,0h1m3,0h1m3,0h2m4,0h3m2,0h1m2,0h1m1,0h1m4,0h1m4,0h1m7,0h2m1,0h1m1,0h1m1,0h1m1,0h2m6,0h2m2,0h2m3,0h1m5,0h1m1,0h1m1,0h1m3,0h1m1,0h1m4,0h1m8,0h2m3,0h1m14,0h1m1,0h1m1,0h1m3,0h1m7,0h1m2,0h2m3,0h1m1,0h1m2,0h3m1,0h2m4,0h1m1,0h1m1,0h2m19,0h3m5,0h1m12,0h1m5,0h1m5,0h2m1,0h2m5,0h2m6,0h1m1,0h1m1,0h1m5,0h1m4,0h1m1,0h1m1,0h1m1,0h1m10,0h1m2,0h1m2,0h2m2,0h1M827.5,140.2h1"/>
<path stroke="#00e3f1" d="M668.5,124.2h1m10,0h1m109,0h1m96,0h1m25,0h1m13,0h1m37,0h1m42,0h1m10,0h1m27,0h1m4,0h2m2,0h1m47,0h1m6,0h1m4,0h1M669.5,126.5h1m1,0h1m1,0h1m30,0h1m17,0h2m1,0h1m4,0h1m16,0h1m4,0h1m12,0h1m2,0h1m77,0h1m17,0h1m37,0h1m30,0h1m1,0h1m24,0h1m9,0h1m8,0h1m60,0h1m25,0h1m35,0h1m6,0h1M668.5,128.7h1m1,0h1m12,0h1m18,0h1m23,0h1m8,0h1m11,0h2m4,0h2m1,0h1m18,0h1m5,0h1m10,0h1m4,0h1m3,0h1m14,0h1m11,0h1m6,0h1m8,0h1m13,0h1m25,0h1m4,0h1m7,0h1m3,0h2m1,0h1m29,0h1m33,0h1m15,0h1m2,0h1m6,0h1m11,0h1m2,0h1m4,0h1m2,0h1m31,0h1m24,0h1m14,0h1m22,0h1m7,0h1M685.5,131h1m3,0h1m32,0h1m5,0h1m36,0h1m33,0h1m5,0h1m19,0h1m7,0h1m6,0h1m8,0h1m36,0h1m3,0h1m7,0h1m20,0h1m14,0h2m17,0h1m17,0h1m10,0h2m29,0h1m5,0h1m9,0h1m7,0h1m11,0h1m13,0h2m4,0h1m2,0h1m16,0h1M668.5,133.3h1m1,0h3m1,0h2m1,0h1m1,0h1m1,0h1m1,0h1m1,0h1m1,0h2m1,0h3m2,0h1m2,0h2m2,0h2m3,0h1m1,0h4m1,0h4m1,0h1m1,0h1m2,0h1m1,0h1m1,0h2m3,0h2m1,0h2m1,0h3m1,0h1m4,0h3m3,0h1m4,0h1m1,0h1m1,0h1m1,0h4m1,0h1m10,0h4m1,0h1m2,0h1m1,0h3m2,0h6m2,0h2m1,0h1m1,0h2m1,0h3m3,0h2m1,0h4m5,0h2m2,0h1m2,0h2m1,0h2m3,0h1m2,0h1m2,0h1m1,0h4m2,0h1m3,0h1m7,0h1m3,0h1m1,0h2m2,0h1m1,0h2m1,0h1m6,0h4m2,0h2m1,0h1m1,0h1m3,0h1m1,0h7m3,0h1m1,0h3m2,0h3m1,0h1m1,0h3m1,0h1m2,0h1m1,0h2m2,0h1m1,0h1m1,0h1m2,0h2m1,0h1m5,0h1m4,0h2m1,0h2m1,0h1m1,0h2m4,0h1m3,0h1m1,0h5m3,0h6m1,0h1m8,0h2m1,0h3m3,0h2m1,0h1m7,0h2m2,0h1m1,0h2m2,0h7m1,0h1m1,0h1m1,0h1m1,0h1m2,0h1m1,0h2m1,0h2m5,0h1m1,0h1m1,0h1m1,0h1m2,0h1m3,0h1m1,0h1m1,0h1m3,0h1m1,0h3m1,0h1m2,0h1m3,0h1m1,0h3m1,0h1m1,0h2m1,0h2m4,0h1M669.5,135.6h2m5,0h4m1,0h8m2,0h2m2,0h1m1,0h1m3,0h1m2,0h2m1,0h1m1,0h2m4,0h1m4,0h1m4,0h2m2,0h1m1,0h2m7,0h4m4,0h2m3,0h1m1,0h3m1,0h1m2,0h1m1,0h2m1,0h2m1,0h2m1,0h3m1,0h1m1,0h6m3,0h1m6,0h4m2,0h3m1,0h3m1,0h6m1,0h2m6,0h1m3,0h2m2,0h1m8,0h1m1,0h1m1,0h1m2,0h1m2,0h1m1,0h1m2,0h2m8,0h2m3,0h4m2,0h1m1,0h1m1,0h1m1,0h3m1,0h1m6,0h1m1,0h1m3,0h2m5,0h2m2,0h1m3,0h2m4,0h1m1,0h1m2,0h1m2,0h1m1,0h2m1,0h1m1,0h8m2,0h3m3,0h1m1,0h1m1,0h1m1,0h1m1,0h3m4,0h1m2,0h1m3,0h1m2,0h2m2,0h2m2,0h1m1,0h1m1,0h1m6,0h1m2,0h3m7,0h1m2,0h2m1,0h1m2,0h3m1,0h1m1,0h3m4,0h1m5,0h1m1,0h2m1,0h1m3,0h3m1,0h1m6,0h4m5,0h1m1,0h1m5,0h2m2,0h1m1,0h1m1,0h1m1,0h1m1,0h1m4,0h3m3,0h1m1,0h1m1,0h1m1,0h2m2,0h2m4,0h1m1,0h1m3,0h2M668.5,137.9h1m2,0h2m1,0h3m1,0h1m2,0h2m1,0h2m1,0h2m1,0h2m1,0h2m3,0h3m1,0h5m3,0h1m1,0h1m1,0h3m1,0h1m3,0h3m2,0h3m1,0h2m1,0h4m1,0h1m1,0h3m2,0h11m6,0h3m1,0h1m1,0h7m3,0h5m1,0h3m1,0h2m1,0h1m1,0h6m2,0h6m1,0h4m1,0h8m1,0h2m1,0h2m1,0h2m1,0h5m1,0h1m1,0h1m2,0h1m1,0h6m1,0h1m1,0h4m2,0h5m1,0h2m2,0h5m4,0h1m2,0h1m1,0h3m4,0h2m3,0h2m1,0h4m2,0h3m2,0h1m1,0h1m1,0h3m2,0h1m1,0h8m3,0h7m1,0h1m1,0h3m1,0h6m1,0h2m2,0h1m1,0h12m2,0h3m3,0h2m1,0h2m1,0h8m1,0h12m1,0h1m1,0h7m1,0h3m1,0h4m1,0h2m1,0h4m1,0h1m1,0h1m1,0h3m2,0h3m1,0h3m1,0h5m3,0h2m1,0h2m1,0h3m1,0h2m1,0h3m1,0h3m2,0h2m2,0h6m1,0h3m1,0h2m1,0h1m1,0h2m1,0h7m1,0h3m1,0h6M680.5,140.2h1m4,0h1m2,0h2m5,0h1m4,0h1m1,0h2m9,0h1m2,0h1m2,0h1m2,0h1m1,0h2m5,0h1m3,0h1m8,0h2m2,0h4m1,0h1m1,0h2m1,0h2m3,0h1m6,0h3m5,0h2m1,0h1m1,0h3m2,0h1m1,0h2m1,0h1m1,0h1m1,0h2m7,0h1m10,0h1m1,0h1m2,0h1m1,0h1m1,0h1m4,0h2m10,0h2m3,0h1m1,0h1m7,0h1m8,0h1m6,0h1m1,0h2m1,0h2m10,0h2m1,0h1m1,0h1m2,0h2m5,0h1m4,0h1m2,0h1m1,0h1m7,0h1m1,0h1m8,0h1m1,0h1m2,0h2m5,0h2m1,0h1m2,0h2m7,0h1m6,0h1m7,0h1m2,0h3m1,0h1m4,0h1m6,0h1m2,0h1m4,0h1m1,0h1m3,0h2m1,0h1m1,0h1m1,0h3m10,0h1m6,0h2m2,0h1m6,0h1m8,0h1m1,0h1m11,0h1m8,0h1m2,0h1m3,0h1m14,0h1m2,0h3m6,0h3m4,0h1M677.5,142.5h1m37,0h1m194,0h1m66,0h1m66,0h1m10,0h1"/>
<path stroke="#00e5d9" d="M669.5,137.9h1m3,0h1m3,0h1m2,0h1m5,0h1m5,0h1m2,0h2m4,0h1m5,0h3m1,0h1m1,0h1m3,0h1m7,0h1m12,0h1m1,0h1m3,0h2m15,0h1m4,0h1m17,0h1m6,0h1m1,0h1m7,0h1m6,0h1m4,0h1m11,0h1m2,0h1m8,0h1m3,0h2m1,0h1m6,0h1m1,0h1m4,0h2m8,0h2m5,0h4m1,0h1m2,0h1m3,0h1m1,0h2m2,0h2m8,0h2m4,0h1m1,0h1m1,0h1m4,0h1m1,0h1m9,0h1m8,0h1m5,0h1m6,0h1m2,0h2m1,0h1m12,0h2m3,0h3m2,0h1m2,0h1m23,0h1m11,0h1m4,0h1m2,0h1m4,0h1m1,0h1m5,0h2m3,0h1m9,0h3m2,0h1m2,0h1m3,0h1m2,0h1m3,0h1m3,0h2m10,0h1m3,0h1m2,0h1m1,0h1m2,0h1m11,0h1M668.5,140.2h12m1,0h2m1,0h1m1,0h2m2,0h5m1,0h1m1,0h2m1,0h1m2,0h6m1,0h2m1,0h2m1,0h1m3,0h1m1,0h1m2,0h5m1,0h3m1,0h8m2,0h2m4,0h1m1,0h1m2,0h1m2,0h3m1,0h3m1,0h2m3,0h5m2,0h1m1,0h1m3,0h2m1,0h1m2,0h1m1,0h1m1,0h1m3,0h2m1,0h3m1,0h10m1,0h1m1,0h2m1,0h1m4,0h3m2,0h10m2,0h3m3,0h3m1,0h3m1,0h1m1,0h3m1,0h2m1,0h6m1,0h1m2,0h1m2,0h10m2,0h1m1,0h1m5,0h4m2,0h4m1,0h2m3,0h7m1,0h1m2,0h7m1,0h1m1,0h2m3,0h3m3,0h1m1,0h2m2,0h7m1,0h6m1,0h7m1,0h2m3,0h1m1,0h4m1,0h6m1,0h2m1,0h2m1,0h1m1,0h1m1,0h3m2,0h1m1,0h1m1,0h1m4,0h9m1,0h2m1,0h3m2,0h2m1,0h5m3,0h2m1,0h2m1,0h1m1,0h1m1,0h3m1,0h7m1,0h8m1,0h2m1,0h3m1,0h10m1,0h3m1,0h2m3,0h6m3,0h4M668.5,142.5h3m3,0h3m2,0h2m1,0h4m3,0h1m1,0h2m1,0h1m2,0h2m3,0h1m2,0h2m2,0h2m1,0h1m3,0h1m6,0h1m1,0h3m1,0h4m1,0h1m1,0h5m1,0h4m2,0h3m2,0h2m1,0h3m1,0h1m3,0h1m2,0h1m1,0h1m2,0h1m2,0h2m1,0h1m1,0h1m1,0h1m1,0h5m1,0h3m1,0h1m1,0h1m2,0h2m1,0h3m1,0h1m1,0h2m3,0h2m1,0h1m3,0h1m2,0h2m5,0h2m2,0h5m1,0h1m1,0h1m2,0h3m3,0h2m2,0h2m2,0h1m2,0h3m2,0h3m3,0h2m1,0h1m2,0h1m3,0h2m1,0h3m1,0h1m2,0h4m2,0h1m3,0h1m3,0h1m1,0h1m1,0h2m1,0h1m1,0h2m1,0h1m1,0h1m1,0h3m4,0h2m3,0h1m2,0h2m1,0h4m3,0h1m3,0h2m1,0h2m1,0h2m1,0h1m2,0h4m1,0h1m1,0h1m1,0h2m1,0h1m2,0h8m2,0h1m4,0h3m3,0h6m1,0h1m1,0h1m3,0h3m3,0h2m1,0h1m2,0h4m1,0h1m1,0h7m1,0h1m6,0h1m2,0h1m1,0h2m5,0h4m1,0h3m2,0h1m1,0h5m1,0h2m2,0h2m1,0h2m5,0h3m1,0h1m1,0h2m1,0h1m2,0h2m1,0h1m2,0h1m2,0h5m1,0h1m1,0h2M988.5,144.8h1m28,0h1m14,0h1"/>
<path stroke="#00e8c2" d="M683.5,140.2h1m13,0h1m12,0h1m7,0h1m1,0h1m46,0h1m31,0h1m2,0h1m22,0h1m23,0h1m4,0h1m5,0h1m3,0h1m32,0h2m6,0h1m9,0h1m11,0h1m14,0h1m3,0h1m55,0h1m17,0h1m12,0h1m13,0h1m1,0h1m2,0h1m2,0h1m7,0h1m34,0h1M671.5,142.5h3m7,0h1m4,0h3m1,0h1m2,0h1m1,0h2m2,0h3m1,0h2m2,0h2m2,0h1m1,0h2m2,0h6m1,0h1m3,0h1m4,0h1m1,0h1m5,0h1m4,0h2m4,0h1m2,0h1m3,0h1m1,0h3m1,0h2m1,0h1m1,0h2m1,0h2m2,0h1m1,0h1m1,0h1m1,0h1m5,0h1m3,0h1m1,0h1m1,0h2m2,0h1m3,0h1m1,0h1m2,0h3m2,0h1m1,0h3m1,0h2m2,0h5m2,0h2m5,0h1m1,0h1m2,0h1m3,0h3m2,0h2m2,0h2m1,0h2m3,0h2m3,0h3m2,0h1m1,0h2m1,0h3m2,0h1m3,0h1m1,0h2m4,0h2m1,0h3m1,0h3m1,0h1m4,0h1m1,0h1m2,0h1m1,0h1m1,0h1m3,0h4m2,0h1m1,0h1m1,0h2m2,0h1m4,0h3m1,0h3m2,0h1m2,0h1m2,0h1m1,0h2m4,0h1m1,0h1m1,0h1m2,0h1m2,0h1m8,0h2m1,0h4m3,0h3m6,0h1m1,0h1m1,0h3m3,0h3m2,0h1m1,0h2m4,0h1m1,0h1m7,0h1m1,0h3m1,0h2m1,0h2m1,0h1m2,0h1m1,0h3m4,0h1m3,0h2m1,0h1m5,0h1m2,0h2m2,0h1m2,0h5m3,0h1m1,0h1m2,0h1m1,0h2m2,0h1m1,0h2m1,0h2m5,0h1m1,0h1M669.5,144.8h2m1,0h1m4,0h2m9,0h2m1,0h1m6,0h2m3,0h2m2,0h1m4,0h2m4,0h1m1,0h1m1,0h1m1,0h1m3,0h1m3,0h2m9,0h2m1,0h1m1,0h1m1,0h2m9,0h1m3,0h1m6,0h6m1,0h1m3,0h2m6,0h4m3,0h4m3,0h1m1,0h1m4,0h1m1,0h1m1,0h3m3,0h1m2,0h2m3,0h2m1,0h1m2,0h2m1,0h1m2,0h1m1,0h1m1,0h1m1,0h1m1,0h3m3,0h1m2,0h1m2,0h1m2,0h1m4,0h1m1,0h1m1,0h1m1,0h1m1,0h5m3,0h3m2,0h1m3,0h3m4,0h2m1,0h2m6,0h2m1,0h2m1,0h1m1,0h1m5,0h4m1,0h1m3,0h1m2,0h1m1,0h1m1,0h1m2,0h2m3,0h2m3,0h2m1,0h1m2,0h2m2,0h3m2,0h1m4,0h1m4,0h1m1,0h2m1,0h1m3,0h3m2,0h1m1,0h1m1,0h1m1,0h1m1,0h1m3,0h1m5,0h1m1,0h1m3,0h4m3,0h3m2,0h1m1,0h1m1,0h1m5,0h2m3,0h2m2,0h1m1,0h1m2,0h1m1,0h3m2,0h1m2,0h1m5,0h2m3,0h1m3,0h1m1,0h1m3,0h1m2,0h3m3,0h1m6,0h1m1,0h1m2,0h1m4,0h2m1,0h1m2,0h1"/>
<path stroke="#00ebaa" d="M678.5,142.5h1m72,0h1m91,0h1m89,0h1M668.5,144.8h1m2,0h1m4,0h1m2,0h9m2,0h1m2,0h5m2,0h3m2,0h2m1,0h4m2,0h4m1,0h1m1,0h1m1,0h1m1,0h3m1,0h1m1,0h1m2,0h9m2,0h1m1,0h1m1,0h1m2,0h9m2,0h2m1,0h6m6,0h1m1,0h3m2,0h6m4,0h2m5,0h3m1,0h1m1,0h4m1,0h1m1,0h1m3,0h3m1,0h2m2,0h3m2,0h1m1,0h2m2,0h1m1,0h2m1,0h1m1,0h1m1,0h1m1,0h1m3,0h3m1,0h2m1,0h2m1,0h2m1,0h4m1,0h1m1,0h1m1,0h1m1,0h1m5,0h3m3,0h2m1,0h3m3,0h4m2,0h1m2,0h3m1,0h2m2,0h1m2,0h1m3,0h5m4,0h1m1,0h1m1,0h1m1,0h2m1,0h1m1,0h1m1,0h2m2,0h3m2,0h3m2,0h1m1,0h1m3,0h2m3,0h2m1,0h4m1,0h3m5,0h1m1,0h1m1,0h1m3,0h2m1,0h1m1,0h1m1,0h1m3,0h2m2,0h5m1,0h1m1,0h1m1,0h1m4,0h3m3,0h2m3,0h1m1,0h5m2,0h3m2,0h2m1,0h1m1,0h2m1,0h1m3,0h2m1,0h2m1,0h5m2,0h3m1,0h3m1,0h1m1,0h3m1,0h2m3,0h3m1,0h6m1,0h1m1,0h2m1,0h4m4,0h2m2,0h2M675.5,147.1h1m17,0h1m29,0h1m27,0h1m34,0h1m17,0h1m11,0h1m1,0h1m2,0h1m38,0h1m17,0h1m2,0h2m34,0h1m2,0h1m11,0h1m29,0h1m2,0h1m13,0h2m4,0h1m9,0h2m12,0h2m4,0h1m7,0h1m15,0h1m2,0h1m24,0h1m13,0h2"/>
<path stroke="#00ea81" d="M673.5,144.8h3m16,0h1m37,0h1m31,0h1m34,0h1m112,0h1m9,0h1m13,0h1m26,0h1m18,0h1m1,0h1m19,0h1m3,0h1m107,0h1m4,0h1M669.5,147.1h2m1,0h3m1,0h1m1,0h3m2,0h3m1,0h5m3,0h1m1,0h1m1,0h1m1,0h1m1,0h3m1,0h8m3,0h5m1,0h5m1,0h2m1,0h1m1,0h4m2,0h1m1,0h3m1,0h1m5,0h1m1,0h8m1,0h20m1,0h1m1,0h2m1,0h4m2,0h6m5,0h2m1,0h2m1,0h3m1,0h1m2,0h1m2,0h2m2,0h1m2,0h4m1,0h1m2,0h1m1,0h9m2,0h1m1,0h3m2,0h2m4,0h3m1,0h1m1,0h1m1,0h6m1,0h2m3,0h1m2,0h3m1,0h3m2,0h10m2,0h1m3,0h4m2,0h2m1,0h4m1,0h3m1,0h2m1,0h2m1,0h1m1,0h7m1,0h3m1,0h1m1,0h2m1,0h1m1,0h5m2,0h1m1,0h2m2,0h9m3,0h3m1,0h5m2,0h2m3,0h4m1,0h6m2,0h4m1,0h4m2,0h1m1,0h10m1,0h2m3,0h2m1,0h1m1,0h1m1,0h9m1,0h2m1,0h6m2,0h4m1,0h1m3,0h4m2,0h3m1,0h2m2,0h1m1,0h1m1,0h3m1,0h5m1,0h2m1,0h2m1,0h8m1,0h2M669.5,149.3h1m11,0h1m118,0h1m51,0h1m1,0h1m3,0h1m42,0h1m15,0h1m8,0h1m42,0h1m97,0h1m14,0h1"/>
<path stroke="#00e959" d="M668.5,147.1h1m2,0h1m5,0h1m3,0h2m3,0h1m5,0h1m1,0h1m1,0h1m1,0h1m1,0h1m1,0h1m3,0h1m8,0h3m11,0h1m2,0h1m1,0h1m4,0h2m1,0h1m3,0h1m1,0h3m1,0h1m1,0h1m8,0h1m20,0h1m4,0h1m4,0h2m6,0h2m1,0h2m2,0h1m2,0h1m6,0h1m2,0h1m2,0h2m1,0h2m4,0h1m1,0h2m1,0h1m9,0h2m1,0h1m3,0h2m3,0h3m3,0h1m1,0h1m1,0h1m11,0h1m1,0h2m3,0h1m4,0h1m10,0h2m1,0h3m4,0h1m8,0h1m3,0h1m5,0h1m1,0h1m7,0h1m3,0h1m1,0h1m2,0h1m1,0h1m6,0h1m4,0h2m11,0h1m9,0h2m4,0h1m4,0h1m17,0h2m12,0h1m2,0h2m5,0h1m1,0h1m9,0h1m2,0h1m6,0h1m5,0h1m1,0h3m9,0h1m2,0h2m1,0h1m1,0h1m3,0h1m5,0h1m2,0h1m2,0h1m8,0h1M668.5,149.3h1m1,0h1m1,0h1m1,0h2m1,0h1m7,0h1m5,0h4m1,0h1m3,0h1m1,0h5m2,0h3m1,0h1m2,0h2m1,0h5m1,0h1m5,0h2m1,0h5m1,0h1m1,0h1m1,0h2m2,0h1m1,0h1m1,0h1m3,0h1m1,0h1m3,0h4m2,0h1m1,0h7m2,0h1m5,0h1m1,0h1m1,0h2m1,0h2m2,0h1m1,0h1m4,0h2m2,0h4m1,0h1m5,0h3m2,0h1m2,0h1m3,0h6m2,0h3m1,0h1m2,0h2m6,0h1m1,0h1m1,0h1m2,0h1m2,0h3m1,0h1m3,0h1m1,0h3m3,0h1m2,0h3m1,0h1m3,0h2m2,0h1m2,0h4m3,0h4m1,0h1m4,0h3m1,0h4m1,0h3m1,0h3m4,0h3m1,0h2m1,0h3m1,0h5m3,0h6m1,0h2m3,0h1m1,0h2m3,0h1m1,0h4m1,0h1m1,0h2m1,0h1m1,0h2m1,0h1m2,0h4m1,0h2m1,0h2m1,0h2m2,0h1m1,0h5m1,0h4m1,0h4m1,0h1m3,0h5m2,0h1m3,0h6m2,0h1m2,0h1m1,0h6m1,0h2m3,0h1m5,0h4m1,0h2m1,0h3m1,0h1m1,0h1m2,0h4m3,0h3m1,0h3m4,0h3m2,0h1m3,0h2m2,0h1M746.5,151.6h1m42,0h1m65,0h1m57,0h1m67,0h1m59,0h1m7,0h1m8,0h1M749.5,153.9h1m75,0h1m20,0h1m1,0h1"/>
<path stroke="#00e830" d="M894.5,147.1h1M671.5,149.3h1m1,0h1m2,0h1m1,0h3m1,0h3m1,0h5m4,0h1m1,0h3m1,0h1m5,0h2m3,0h1m1,0h2m2,0h1m5,0h1m1,0h5m2,0h1m5,0h1m1,0h1m1,0h1m2,0h2m1,0h1m1,0h1m1,0h3m1,0h1m1,0h3m4,0h2m1,0h1m7,0h2m1,0h5m1,0h1m1,0h1m2,0h1m2,0h2m1,0h1m1,0h1m1,0h2m2,0h2m4,0h1m1,0h3m1,0h1m3,0h2m1,0h2m1,0h3m6,0h2m3,0h1m1,0h2m2,0h5m4,0h1m2,0h1m1,0h2m3,0h1m1,0h3m1,0h1m3,0h3m1,0h2m3,0h1m1,0h3m2,0h2m1,0h2m6,0h1m4,0h1m1,0h4m8,0h1m7,0h4m3,0h1m2,0h1m3,0h1m5,0h3m6,0h1m2,0h3m1,0h1m3,0h2m1,0h1m4,0h1m1,0h1m2,0h1m1,0h1m2,0h1m1,0h2m4,0h1m2,0h1m2,0h1m2,0h2m1,0h1m5,0h1m4,0h1m4,0h1m2,0h2m5,0h2m1,0h3m6,0h2m1,0h2m1,0h1m6,0h1m2,0h3m1,0h1m1,0h3m4,0h1m2,0h1m5,0h1m1,0h2m4,0h3m3,0h1m3,0h4m3,0h2m1,0h3m2,0h2m1,0h2M668.5,151.6h1m1,0h3m3,0h2m3,0h3m1,0h5m6,0h1m2,0h1m3,0h1m2,0h2m2,0h2m1,0h1m3,0h1m1,0h1m2,0h2m1,0h1m2,0h5m2,0h1m1,0h2m4,0h1m1,0h1m3,0h2m1,0h3m1,0h1m1,0h1m2,0h1m2,0h1m5,0h2m2,0h1m2,0h1m2,0h1m2,0h1m1,0h1m1,0h1m2,0h1m3,0h3m4,0h2m2,0h1m1,0h1m1,0h1m1,0h3m4,0h2m2,0h5m1,0h1m3,0h1m1,0h1m3,0h1m4,0h1m2,0h1m2,0h1m1,0h2m1,0h1m2,0h1m1,0h3m1,0h3m1,0h2m5,0h1m1,0h3m1,0h3m2,0h2m2,0h4m3,0h2m3,0h1m1,0h2m1,0h2m2,0h2m5,0h1m4,0h2m6,0h1m7,0h1m1,0h1m1,0h1m1,0h1m1,0h1m1,0h1m3,0h1m1,0h1m2,0h3m2,0h2m6,0h1m1,0h1m6,0h1m2,0h2m1,0h1m2,0h2m5,0h1m6,0h1m6,0h1m1,0h1m4,0h1m1,0h1m1,0h1m7,0h1m4,0h1m1,0h2m3,0h1m1,0h2m2,0h1m1,0h1m5,0h1m1,0h1m3,0h2m2,0h3m4,0h4m3,0h1m1,0h3m1,0h1m1,0h1m1,0h3m1,0h1m2,0h1m1,0h2m1,0h1m1,0h1m6,0h6m1,0h2m2,0h1M747.5,153.9h2m1,0h7m1,0h1m6,0h1m2,0h2m1,0h1m1,0h1m2,0h15m1,0h33m1,0h18m1,0h1m1,0h1m1,0h10m1,0h11m1,0h3m1,0h5m2,0h3m2,0h6m1,0h2m3,0h2m6,0h1m20,0h1m1,0h1m11,0h1m13,0h1m3,0h1m3,0h1m2,0h2m1,0h1m2,0h5m1,0h3m1,0h5m1,0h6m1,0h15m1,0h2m3,0h2m1,0h1m3,0h4m1,0h1m3,0h1m2,0h1"/>
<path stroke="#12ea1e" d="M816.5,149.3h1m85,0h1m123,0h1M669.5,151.6h1m3,0h3m2,0h3m3,0h1m5,0h6m1,0h2m1,0h3m1,0h2m2,0h2m2,0h1m1,0h3m1,0h1m1,0h2m2,0h1m1,0h2m5,0h2m1,0h1m2,0h4m1,0h1m2,0h2m2,0h1m3,0h1m1,0h1m2,0h1m1,0h2m1,0h5m2,0h2m1,0h2m1,0h2m1,0h2m1,0h1m1,0h1m1,0h1m2,0h3m3,0h4m2,0h2m1,0h1m1,0h1m1,0h1m3,0h4m2,0h2m5,0h1m1,0h3m1,0h1m1,0h3m1,0h4m1,0h2m1,0h2m1,0h1m5,0h1m1,0h1m3,0h1m3,0h1m2,0h5m1,0h1m3,0h1m3,0h2m2,0h2m4,0h3m2,0h3m1,0h1m2,0h1m2,0h2m2,0h1m1,0h3m1,0h4m3,0h5m1,0h7m1,0h1m1,0h1m1,0h1m1,0h1m1,0h1m1,0h3m1,0h1m1,0h2m3,0h1m3,0h6m3,0h6m1,0h1m3,0h1m1,0h2m2,0h5m1,0h6m2,0h5m1,0h1m1,0h4m1,0h1m1,0h1m1,0h7m1,0h4m1,0h1m2,0h3m4,0h2m1,0h1m2,0h4m1,0h1m1,0h1m1,0h1m2,0h2m3,0h4m4,0h3m1,0h1m3,0h1m1,0h1m1,0h1m3,0h1m1,0h2m1,0h1m2,0h1m1,0h1m1,0h6m6,0h1m2,0h2m1,0h1M679.5,153.9h1m4,0h2m10,0h1m5,0h2m1,0h2m6,0h1m5,0h1m5,0h1m2,0h2m1,0h4m2,0h10m10,0h1m1,0h6m1,0h2m2,0h1m1,0h1m1,0h2m15,0h1m52,0h1m14,0h1m11,0h1m3,0h1m5,0h2m3,0h2m6,0h1m2,0h3m2,0h6m1,0h10m1,0h9m1,0h1m1,0h11m1,0h13m1,0h3m1,0h3m1,0h2m2,0h1m1,0h2m5,0h1m3,0h1m5,0h1m6,0h1m15,0h1m2,0h3m2,0h1m1,0h3m4,0h1m1,0h3m1,0h2m1,0h11m1,0h2m1,0h6m1,0h1m1,0h1m2,0h9m5,0h1"/>
<path stroke="#27eb12" d="M759.5,151.6h1m93,0h1m70,0h1m36,0h1m9,0h1m31,0h1M668.5,153.9h11m1,0h4m2,0h10m1,0h5m2,0h1m2,0h6m1,0h5m1,0h5m1,0h2m2,0h1m4,0h2m182,0h1m129,0h1m2,0h1m6,0h1m1,0h1m1,0h2m9,0h5m1,0h23m1,0h2m1,0h11m1,0h3"/>
<path stroke="#3ded05" d="M1103.5,153.9h1m2,0h1m11,0h1M749.5,156.2h1m43,0h1m8,0h2m1,0h4m1,0h1m1,0h2m1,0h3m1,0h2m2,0h2m1,0h1m2,0h2m1,0h1m1,0h2m2,0h2m1,0h2m3,0h1m1,0h1m1,0h2m2,0h1m3,0h1m7,0h1m112,0h1m9,0h1"/>
<path stroke="#5af000" d="M739.5,156.2h1m3,0h1m1,0h4m1,0h12m1,0h30m1,0h8m2,0h1m4,0h1m1,0h1m2,0h1m3,0h1m2,0h2m2,0h1m1,0h2m2,0h1m1,0h1m2,0h2m2,0h1m2,0h3m1,0h1m1,0h1m2,0h2m1,0h3m1,0h7m1,0h6m1,0h28m1,0h1m1,0h1m1,0h7m1,0h1m1,0h6m1,0h1m1,0h1m1,0h1m3,0h4m4,0h1m3,0h1m3,0h6m1,0h1m1,0h6m1,0h15m1,0h9m1,0h10m1,0h23m1,0h10m1,0h5m1,0h2m1,0h1m9,0h1"/>
<path stroke="#7bf300" d="M668.5,156.2h1m2,0h3m4,0h1m1,0h1m2,0h2m3,0h5m1,0h1m2,0h3m1,0h3m2,0h1m2,0h3m1,0h5m1,0h2m1,0h2m1,0h3m1,0h10m1,0h3m1,0h1m17,0h1m110,0h1m28,0h1m1,0h1m1,0h1m7,0h1m1,0h1m6,0h1m1,0h1m1,0h1m1,0h3m4,0h4m1,0h3m1,0h3m6,0h1m1,0h1m6,0h1m36,0h1m23,0h1m10,0h1m5,0h1m2,0h1m1,0h9m1,0h21m1,0h2m1,0h3m2,0h3m2,0h1m4,0h1m1,0h1m1,0h1m19,0h1"/>
<path stroke="#9ef500" d="M669.5,156.2h2m3,0h4m1,0h1m1,0h2m2,0h3m5,0h1m1,0h2m3,0h1m3,0h2m1,0h2m3,0h1m5,0h1m2,0h1m2,0h1m3,0h1m348,0h1m2,0h1m3,0h2m3,0h2m1,0h4m1,0h1m1,0h1m1,0h19m1,0h1M748.5,158.5h1m3,0h1m37,0h1m10,0h1m1,0h1m13,0h1m1,0h3m1,0h1m1,0h1m2,0h7m2,0h3m2,0h1m3,0h5m10,0h2m2,0h1"/>
<path stroke="#c6f500" d="M741.5,158.5h1m1,0h1m1,0h3m1,0h3m1,0h4m1,0h4m1,0h27m1,0h10m1,0h1m1,0h13m1,0h1m3,0h1m1,0h1m1,0h2m7,0h2m3,0h2m1,0h3m5,0h10m2,0h2m1,0h23m1,0h1m1,0h11m1,0h1m1,0h4m2,0h1m1,0h2m1,0h3m1,0h7m1,0h3m1,0h1m3,0h3m1,0h1m1,0h6m1,0h1m1,0h2m1,0h1m1,0h6m1,0h1m1,0h50m1,0h4m1,0h22m1,0h2"/>
<path stroke="#edf500" d="M668.5,158.5h3m1,0h1m4,0h2m1,0h2m1,0h3m1,0h2m3,0h2m2,0h1m1,0h3m4,0h2m2,0h1m1,0h1m3,0h8m1,0h2m1,0h14m1,0h1m1,0h1m12,0h1m4,0h1m126,0h1m1,0h1m11,0h1m1,0h1m4,0h2m1,0h1m2,0h1m3,0h1m7,0h1m3,0h1m1,0h3m3,0h1m1,0h1m6,0h1m1,0h1m2,0h1m1,0h1m6,0h1m1,0h1m50,0h1m4,0h1m22,0h1m2,0h29m1,0h4m3,0h2m3,0h1m2,0h2m1,0h1m5,0h1m9,0h1m2,0h2m4,0h2M749.5,160.8h2m70,0h1m29,0h1"/>
<path stroke="#f8e500" d="M671.5,158.5h1m1,0h4m2,0h1m2,0h1m3,0h1m2,0h3m2,0h2m1,0h1m3,0h4m2,0h2m1,0h1m1,0h3m8,0h1m2,0h1m349,0h1m4,0h3m2,0h3m1,0h2m2,0h1m1,0h5m1,0h9m1,0h2m2,0h4M746.5,160.8h3m2,0h2m32,0h1m1,0h1m1,0h2m1,0h1m1,0h1m3,0h23m1,0h9m1,0h19m1,0h14m2,0h1m1,0h2m1,0h2m1,0h1m1,0h1m3,0h2m84,0h1m13,0h1m1,0h1m1,0h1m1,0h1m1,0h4m1,0h2m4,0h2m4,0h1m8,0h2m1,0h2m5,0h1"/>
<path stroke="#fbd200" d="M744.5,160.8h2m7,0h8m1,0h8m1,0h14m1,0h1m1,0h1m2,0h1m1,0h1m1,0h3m33,0h1m34,0h2m1,0h1m2,0h1m2,0h1m1,0h1m1,0h3m2,0h20m1,0h1m2,0h1m1,0h1m2,0h1m2,0h4m1,0h1m1,0h2m1,0h1m2,0h1m4,0h3m1,0h3m1,0h2m1,0h1m2,0h8m1,0h11m1,0h13m1,0h1m1,0h1m1,0h1m1,0h1m4,0h1m2,0h4m2,0h4m1,0h8m2,0h1m2,0h5m1,0h2m2,0h2m1,0h5m1,0h1m2,0h1"/>
<path stroke="#ffbe00" d="M726.5,160.8h1m9,0h8m17,0h1m8,0h1m133,0h1m1,0h2m1,0h1m1,0h2m1,0h2m4,0h1m1,0h1m2,0h1m1,0h2m1,0h4m3,0h1m3,0h1m2,0h1m1,0h2m8,0h1m72,0h2m2,0h1m5,0h1m1,0h2m1,0h9m2,0h5m1,0h4"/>
<path stroke="#ffa500" d="M668.5,160.8h7m1,0h17m1,0h9m1,0h22m1,0h9m317,0h2m5,0h1m4,0h27m2,0h1m3,0h1m1,0h2m1,0h1m3,0h1m4,0h1"/>
<path stroke="#ff8c00" d="M675.5,160.8h1m17,0h1m9,0h1m388,0h2m1,0h3m1,0h1m2,0h1m1,0h3m1,0h4m1,0h9"/>
<path stroke="#ff7302" d="M749.5,163.1h3m61,0h1m1,0h1m3,0h1m2,0h2m1,0h3m2,0h2m2,0h5m2,0h2m1,0h1m1,0h1m4,0h1m5,0h2m2,0h1M940.5,188.3h1"/>
<path stroke="#ff5a06" d="M746.5,163.1h3m3,0h2m16,0h1m1,0h3m4,0h5m1,0h4m1,0h23m1,0h1m1,0h3m1,0h2m2,0h1m3,0h2m2,0h2m5,0h2m2,0h1m1,0h1m1,0h4m1,0h5m2,0h2m1,0h14m1,0h3m1,0h2m1,0h4m1,0h3m3,0h2m2,0h1m7,0h1m56,0h1m1,0h1m1,0h1m1,0h10m1,0h18m1,0h20m3,0h1m1,0h1m1,0h3M758.5,183.7h1m8,0h1m36,0h1m20,0h1m214,0h1m26,0h1M741.5,186h1m10,0h1m2,0h1m5,0h1m2,0h1m2,0h1m3,0h1m5,0h1m1,0h1m1,0h1m3,0h1m1,0h2m5,0h2m2,0h1m1,0h1m1,0h2m3,0h1m1,0h1m3,0h3m1,0h2m1,0h1m2,0h1m1,0h1m3,0h1m1,0h2m5,0h1m3,0h2m2,0h1m1,0h1m2,0h1m3,0h1m3,0h1m6,0h1m2,0h1m3,0h1m1,0h1m2,0h2m2,0h2m4,0h5m3,0h1m3,0h1m2,0h1m2,0h1m2,0h2m16,0h1m4,0h1m1,0h1m5,0h2m1,0h1m2,0h4m1,0h1m5,0h1m2,0h1m3,0h2m1,0h1m2,0h1m1,0h1m1,0h1m6,0h1m1,0h1m1,0h1m9,0h1m4,0h2m1,0h1m4,0h1m1,0h1m1,0h3m5,0h1m2,0h1m6,0h1m3,0h1m2,0h1m8,0h1m3,0h2m2,0h1m2,0h3m1,0h1m1,0h1m3,0h3m1,0h1m4,0h2m8,0h2m11,0h1m1,0h1m4,0h1m2,0h1m3,0h4m1,0h1m1,0h1M679.5,188.3h1m53,0h2m1,0h1m1,0h2m2,0h5m1,0h3m1,0h2m1,0h3m1,0h2m1,0h6m1,0h17m1,0h3m1,0h3m1,0h8m1,0h13m1,0h11m1,0h6m1,0h6m1,0h3m1,0h2m1,0h14m1,0h11m1,0h17m1,0h18m1,0h2m1,0h6m1,0h2m1,0h12m1,0h13m1,0h4m1,0h2m1,0h50m1,0h3m1,0h9m1,0h7m1,0h12m1,0h27m1,0h16m1,0h1m1,0h2m1,0h4m1,0h11m1,0h1m1,0h4"/>
<path stroke="#ff4109" d="M740.5,163.1h6m8,0h16m1,0h1m3,0h4m5,0h1m4,0h1m86,0h1m3,0h1m2,0h1m4,0h1m3,0h3m2,0h2m1,0h7m1,0h9m1,0h19m1,0h26m1,0h1m1,0h1m1,0h1m10,0h1m18,0h1m20,0h3m1,0h1m1,0h1m3,0h14m1,0h3m2,0h1m1,0h1M760.5,181.4h1m13,0h1m42,0h1m37,0h1m22,0h1m48,0h1m53,0h1m16,0h1m3,0h1m6,0h1m33,0h1m42,0h1m19,0h1m8,0h1M694.5,183.7h1m18,0h1m2,0h1m2,0h1m3,0h1m5,0h1m1,0h9m1,0h17m1,0h8m1,0h36m1,0h20m1,0h38m1,0h9m1,0h16m1,0h51m1,0h96m2,0h15m2,0h8m1,0h53M668.5,186h1m1,0h2m1,0h6m1,0h1m1,0h4m1,0h2m3,0h5m2,0h2m1,0h3m1,0h7m1,0h7m2,0h1m1,0h9m1,0h6m1,0h10m1,0h2m1,0h5m1,0h2m1,0h2m1,0h3m1,0h5m1,0h1m1,0h1m1,0h3m1,0h1m2,0h5m2,0h2m1,0h1m1,0h1m2,0h3m1,0h1m1,0h3m3,0h1m2,0h1m1,0h2m1,0h1m1,0h3m1,0h1m2,0h5m1,0h3m2,0h2m1,0h1m1,0h2m1,0h3m1,0h3m1,0h6m1,0h2m1,0h3m1,0h1m1,0h2m2,0h2m2,0h4m5,0h3m1,0h3m1,0h2m1,0h2m1,0h2m2,0h16m1,0h4m1,0h1m1,0h5m2,0h1m1,0h2m4,0h1m1,0h5m1,0h2m1,0h3m2,0h1m1,0h2m1,0h1m1,0h1m1,0h6m1,0h1m1,0h1m1,0h9m1,0h4m2,0h1m1,0h4m1,0h1m1,0h1m3,0h5m1,0h2m1,0h6m1,0h3m1,0h2m1,0h8m1,0h3m2,0h2m1,0h2m3,0h1m1,0h1m1,0h3m3,0h1m1,0h4m2,0h8m2,0h11m1,0h1m1,0h4m1,0h2m1,0h3m4,0h1m1,0h1m1,0h1M668.5,188.3h11m1,0h12m1,0h40m2,0h1m1,0h1m2,0h2m5,0h1m3,0h1m2,0h1m3,0h1m2,0h1m6,0h1m17,0h1m3,0h1m3,0h1m8,0h1m13,0h1m11,0h1m6,0h1m6,0h1m3,0h1m2,0h1m14,0h1m11,0h1m17,0h1m18,0h1m2,0h1m6,0h1m2,0h1m26,0h1m4,0h1m2,0h1m50,0h1m3,0h1m9,0h1m7,0h1m12,0h1m27,0h1m16,0h1m1,0h1m2,0h1m4,0h1m11,0h1m1,0h1"/>
<path stroke="#ff2d0f" d="M676.5,163.1h1m5,0h1m11,0h1m3,0h1m3,0h1m1,0h1m9,0h1m9,0h1m1,0h1m3,0h1m1,0h8m177,0h1m19,0h1m106,0h1m3,0h2m1,0h1m1,0h19m1,0h1m1,0h1m1,0h1M749.5,165.4h2m53,0h1m7,0h1m2,0h1m1,0h1m5,0h2m16,0h2m2,0h2m4,0h1M671.5,181.4h1m3,0h1m9,0h1m6,0h1m4,0h2m1,0h1m6,0h1m2,0h1m6,0h1m4,0h1m9,0h1m1,0h2m1,0h2m1,0h20m1,0h13m1,0h42m1,0h37m1,0h22m1,0h17m1,0h14m2,0h14m1,0h42m1,0h10m1,0h16m1,0h3m1,0h6m1,0h33m1,0h24m2,0h16m1,0h19m1,0h8m1,0h6M668.5,183.7h26m1,0h18m1,0h2m1,0h2m1,0h3m1,0h5m1,0h1m9,0h1m123,0h1m9,0h1m16,0h1m51,0h1m97,0h1m15,0h2m62,0h1M669.5,186h1m2,0h1m6,0h1m1,0h1m4,0h1m2,0h3m5,0h2m2,0h1m3,0h1m7,0h1m7,0h2m1,0h1m9,0h1M692.5,188.3h1"/>
<path stroke="#ff1a15" d="M668.5,163.1h8m1,0h5m1,0h11m1,0h3m1,0h3m1,0h1m1,0h9m2,0h8m1,0h1m1,0h3m1,0h1m340,0h1m1,0h1m1,0h1m1,0h38m3,0h3M747.5,165.4h2m2,0h2m31,0h13m1,0h6m1,0h7m1,0h2m1,0h1m1,0h5m2,0h16m2,0h2m2,0h4m1,0h23m1,0h1m1,0h1m1,0h1m3,0h1m2,0h2m11,0h1m58,0h1m14,0h1m1,0h4m1,0h1m1,0h3m1,0h2m1,0h1m1,0h8m1,0h3m1,0h4m1,0h1m1,0h2m1,0h4m1,0h1m10,0h1M780.5,179.1h1m43,0h1m35,0h1m29,0h1m59,0h1m26,0h1m21,0h1m5,0h1m86,0h1M668.5,181.4h3m1,0h3m1,0h9m1,0h6m1,0h4m2,0h1m1,0h6m1,0h2m1,0h6m1,0h4m1,0h9m1,0h1m2,0h1m2,0h1m156,0h1m14,0h2m57,0h1m97,0h2"/>
<path stroke="#ff0c1c" d="M715.5,163.1h1m400,0h3M743.5,165.4h4m6,0h31m13,0h1m77,0h1m1,0h1m1,0h1m1,0h3m1,0h2m2,0h11m1,0h1m1,0h17m2,0h5m1,0h5m1,0h1m1,0h11m1,0h11m1,0h14m1,0h1m4,0h1m1,0h1m3,0h1m2,0h1m1,0h1m8,0h1m3,0h1m4,0h1m1,0h1m2,0h1m4,0h1m1,0h10m1,0h10m1,0h2m1,0h1m1,0h3m3,0h1M673.5,179.1h1m6,0h1m18,0h1m1,0h1m10,0h1m7,0h1m3,0h1m1,0h2m6,0h2m1,0h3m1,0h12m1,0h26m1,0h19m2,0h5m1,0h16m1,0h34m2,0h29m1,0h8m2,0h49m2,0h18m1,0h6m1,0h20m2,0h5m1,0h46m1,0h2m1,0h3m1,0h15m2,0h15m1,0h29"/>
<path stroke="#ff0622" d="M728.5,165.4h1m3,0h11m159,0h1m17,0h2m5,0h1m5,0h1m1,0h1m11,0h1m94,0h1m2,0h1m1,0h1m3,0h3m1,0h6m1,0h6m1,0h1m1,0h1m3,0h1M963.5,167.7h1m37,0h1m112,0h1M688.5,169.9h1m37,0h1m76,0h2m86,0h1m143,0h1m44,0h1m25,0h1M918.5,172.2h1m163,0h1m24,0h2M701.5,174.5h1m13,0h1m9,0h1m32,0h1m4,0h1m42,0h1m48,0h1m16,0h1m53,0h1m27,0h1m8,0h1m1,0h1m68,0h1m25,0h1M697.5,176.8h1m4,0h1m38,0h1m36,0h1m65,0h1m73,0h1m57,0h1m51,0h1m20,0h1M668.5,179.1h5m1,0h6m1,0h18m1,0h1m1,0h10m1,0h7m1,0h3m1,0h1m2,0h6m2,0h1m3,0h1m12,0h1m46,0h2m5,0h1m51,0h1m39,0h2m50,0h1m18,0h1m27,0h1m53,0h1m2,0h1m3,0h1m15,0h2"/>
<path stroke="#ff0028" d="M668.5,165.4h60m1,0h3m329,0h1m6,0h1m1,0h1m1,0h3m1,0h46M668.5,167.7h295m1,0h37m1,0h112m1,0h7M668.5,169.9h20m1,0h37m1,0h76m2,0h86m1,0h143m1,0h44m1,0h25m1,0h15M668.5,172.2h250m1,0h163m1,0h24m2,0h13M668.5,174.5h33m1,0h13m1,0h9m1,0h32m1,0h4m1,0h42m1,0h48m1,0h16m1,0h53m1,0h27m1,0h8m1,0h1m1,0h68m1,0h25m1,0h61M668.5,176.8h29m1,0h4m1,0h38m1,0h36m1,0h65m1,0h73m1,0h57m1,0h51m1,0h20m1,0h72"/>
</g>
<text x="29.3" y="12" font-size="10.95" text-anchor="start" fill="#000" font-weight="normal" font-family='"Liberation Sans", sans-serif' >Plot Layout GP 19/10/2018</text>
<text x="298" y="26" font-size="17.4" text-anchor="middle" fill="#000" font-weight="normal" font-family='"Liberation Sans", sans-serif' >MMS2</text>
<text x="400" y="23.3" font-size="17.75" text-anchor="start" fill="#a00000" font-weight="bold" font-family='"Liberation Sans", sans-serif' >20161121_073104</text>
<clipPath id="cl1"><rect x="71.5" y="33.5" width="454" height="135"/></clipPath><g clip-path="url(#cl1)">
<line x1="112.5" y1="33.5" x2="112.5" y2="171.5" stroke="#aaaaaa" stroke-width="2.6" stroke-dasharray="11,3.5"/>
<line x1="158.3" y1="33.5" x2="158.3" y2="171.5" stroke="#aaaaaa" stroke-width="2.6" stroke-dasharray="11,3.5"/>
<path d="M71.5,87.4l.5,.8 .5,.2 .5,3.1 .5,1.8 .5,1.3 .5,.6 .5,1.5 .5-.8 .5,1.6 .5,1.3 .5,.4 .5,2.8 .5,.6 .5-.3 .5,.7 .5,3.8 .5-.1 .5,.8 .5,2.6 .5,1.1 .5,1.4 .5,2.5 .5,3.4 .5-.4 .5,1.5 .5,3.7 .5,4.2 .5,.7 .5,2.9 .5,.8 .5,.9 .5,2.4 .5-.7 .5,4.9 .5-.2 .5,1.2 .5-1.6 .5-.1 .5-.6 .5,.3 .5-.3 .5,.9 .5-.1 .5,1.8 .5-1.2 .5,2.5 .5,1.4 .5-2.1 .5,.5 .5-1.3 .5,.4 .5,1.5 .5,.7 .5,.9 .5,.2 .5,.4 .5,.4 .5,.5 .5-.5 .5-.9 .5,0 .5-.7 .5,2.1 .5-2.8 .5,3.7 .5-1.7 .5,1.2 .5,.2 .5,.3 .5-.8 .5-.8 .5,1.9 .5-.6 .5,2.4 .5-1.1 .5,1.4 .5-1 .5,.9 .5,1.6 .5-1.2 .5,1.5 .5-.7 .5-.9 .5,2.6 .5-2.3 .5,.1 .5,1.2 .5-1.9 .5,.8 .5-1.3 .5-.8 .5,1.2 .5-1.9 .5,.4 .5-1.7 .5-2.5 .5-.2 .5,1.1 .5-1.1 .5-1.8 .5-.4 .5-.5 .5,.1 .5-.3 .5,.7 .5-.4 .5-3.2 .5,.3 .5-2.7 .5,2.2 .5-3.1 .5-.1 .5-2.2 .5,2.1 .5-2.6 .5-.6 .5-3.4 .5,1.1 .5-.4 .5-2.5 .5-4.5 .5-4.2 .5-4.5 .5-4.3 .5-3.6 .5-5.2 .5-4.7 .5-5.2 .5-1.3 .5-2.4 .5-5.1 .5-1.5 .5-3 .5-4.5 .5-2.6 .5-1.3 .5-3.7 .5-2.2 .5-3 .5-3.4 .5,.5 .5-1.6 .5-1.6 .5-1 .5,.8 .5-.4 .5-5 .5,.5 .5-.1 .5,2.5 .5-.7 .5-.7 .5,.5 .5-.7 .5,1.5 .5,.7 .5-4.7 .5,1 .5-.9 .5-1.8 .5-.3 .5-2.7 .5,2.4 .5-2.4 .5,1.9 .5,1.3 .5-2 .5,1.8 .5,.3 .5,.9 .5,.4 .5,0 .5-.8 .5,.8 .5,1.1 .5,.7 .5,2.7 .5-.9 .5,.3 .5,.6 .5,1 .5-.7 .5-3.2 .5,3.9 .5-1.1 .5-1.1 .5,1.2 .5-.2 .5,1.5 .5,.7 .5,2.4 .5-3 .5-.5 .5,.9 .5,3.4 .5,2.5 .5-.2 .5,.2 .5-.5 .5-6.6 .5,2.5 .5,2.1 .5,1.6 .5-2 .5,3.9 .5-1 .5-.9 .5,2.8 .5-.1 .5-2 .5,1.5 .5-.2 .5,1.3 .5-.9 .5-.2 .5,1.6 .5,.9 .5-1.6 .5,.3 .5-1.4 .5,2.7 .5-3.5 .5,3.3 .5-1.1 .5-.1 .5-.3 .5-.9 .5,3.1 .5,.8 .5,5.8 .5-.4 .5,2.5 .5,3.2 .5-1.8 .5-.2 .5,1.7 .5,1.2 .5-1.8 .5,.3 .5,1.9 .5-.9 .5,.8 .5,2.6 .5,5 .5,1.2 .5,5.1 .5,3.1 .5,3.6 .5,3.3 .5,8 .5,5 .5,3.9 .5,6.7 .5,4.1 .5,1.3 .5,3.9 .5,1.8 .5,1.2 .5,4.7 .5,1.5 .5-4.8 .5-.9 .5-1.8 .5-3 .5-.1 .5-6.5 .5-4.7 .5-3.2 .5-5.2 .5-6.6 .5-6.1 .5-3.4 .5-5.3 .5-2.4 .5-4.6 .5-2 .5,2.3 .5-1.9 .5,.4 .5,1.4 .5,1.8 .5,1.3 .5,3.8 .5-.1 .5,.9 .5-.1 .5,.4 .5-3 .5,.6 .5,0 .5-2.3 .5,3.2 .5-3.5 .5,1 .5-1.9 .5,.6 .5-.6 .5,.5 .5,.9 .5-.3 .5,.3 .5,1.4 .5-.7 .5-.2 .5-.4 .5-.6 .5,.3 .5-1.4 .5-2 .5-2.3 .5,0 .5-1.1 .5,1.5 .5,2.7 .5,2.6 .5-.2 .5,3 .5-1.8 .5,3.6 .5,1.4 .5,1.3 .5,2 .5,.1 .5,1.6 .5-.9 .5,2.8 .5,1.5 .5-1.2 .5,1.7 .5-.6 .5,.2 .5-1.1 .5-1.3 .5,1 .5,1.2 .5,.4 .5-2.1 .5-.2 .5-4 .5-1.6 .5-1.1 .5-.4 .5,1.6 .5,1.3 .5,4.5 .5-2.2 .5,2.2 .5-.4 .5,.4 .5-.9 .5-1.5 .5-1.5 .5,.5 .5-1.6 .5,.5 .5,.4 .5,4.7 .5,.6 .5,.6 .5-.8 .5,.4 .5,.6 .5-.9 .5,1.9 .5,1.2 .5-1.7 .5,.6 .5-4.1 .5-1.5 .5,2.2 .5-1.6 .5-.9 .5,.8 .5-.1 .5,.1 .5,1.3 .5,.6 .5-1.6 .5-.3 .5,2.3 .5-.2 .5,.5 .5,1.4 .5,.5 .5,.5 .5,.1 .5,2.1 .5,2.8 .5,2.6 .5,1.1 .5,4 .5,3.3 .5,0 .5-4.5 .5-4.2 .5-2.4 .5-3.7 .5-4.2 .5-6.4 .5-2.6 .5-4.9 .5-2.6 .5-8.9 .5,7.3 .5,5.6 .5,5.8 .5,.2 .5,0 .5-1.5 .5-2.4 .5,.5 .5-2 .5,.3 .5-2.7 .5-.2 .5-1 .5,2.1 .5,.3 .5,.2 .5,.3 .5,3.4 .5,2.9 .5,3.8 .5,.6 .5,2.7 .5-1.8 .5,1.4 .5,1.6 .5-2.1 .5,.8 .5,0 .5,1.1 .5-2 .5,2.2 .5-2.2 .5-1.8 .5-1.6 .5-2.6 .5-7 .5-.3 .5,.3 .5-2.3 .5,.5 .5,.2 .5-1.8 .5-3.1 .5,1 .5-1.9 .5,2 .5-.3 .5,5.9 .5,1.4 .5,.7 .5,2.4 .5,2.2 .5,2.2 .5,.9 .5,.3 .5,1.5 .5-.2 .5,2.6 .5-1.8 .5,.4 .5-1.3 .5,0 .5,1.5 .5,2.7 .5-1.3 .5-.4 .5,.1 .5,2.6 .5-.6 .5,1.1 .5-5.4 .5,1 .5-1.6 .5,2 .5-2.5 .5-.2 .5-.5 .5-.4 .5-1.6 .5,2.2 .5,2.8 .5,1.1 .5,2.3 .5,3 .5,1.2 .5-2.4 .5,.6 .5,1.2 .5-1.8 .5,1.4 .5,.2 .5-.1 .5-1.2 .5,1.9 .5,1.7 .5,1.6 .5-.1 .5,1.7 .5,1.9 .5,3.6 .5-1.1 .5,3.3 .5,2.6 .5,1.6 .5,4 .5,1.8 .5,1.4 .5,1.1 .5,.8 .5,0 .5,4 .5-1.6 .5-.9 .5,1.7 .5,2 .5-1.9 .5-.8 .5,1.4 .5-.4 .5,.3 .5-1.7 .5,2.5 .5-.8 .5-2 .5-2.3 .5,.6 .5-1.4 .5,2.1 .5-.8 .5-2.7 .5,1.3 .5,1.6 .5-.9 .5,2.1 .5,.4 .5-1.3 .5,.3 .5,.3 .5,2.4 .5,.6 .5-.1 .5-1.7 .5-1 .5-2.8 .5,0 .5-1.6 .5-1.9 .5-2.6 .5-6.3 .5-6 .5-3.4 .5-3.9 .5-2.5 .5-7.1 .5-.2 .5-4 .5-3.7 .5,.7 .5-3.3 .5,2.2 .5,.4 .5,.5 .5-2 .5,.2 .5-4 .5-3.6 .5-1.7 .5-3.2 .5-.9 .5,.6 .5,3.4 .5,4.1 .5,6.9 .5,7 .5,4.8 .5,5.8 .5,2.1 .5,.1 .5,2 .5,2.9 .5,2.1 .5,1.9 .5-.8 .5,.8 .5,.8 .5,1.2 .5-.8 .5,1.2 .5-1.3 .5,.1 .5-.4 .5,3.6 .5-.8 .5-1.7 .5,1.4 .5-1.1 .5,1.8 .5,2.2 .5-2.7 .5-1.1 .5,4.3 .5-2.7 .5-.8 .5-.2 .5,2.8 .5-1.4 .5-.7 .5,.5 .5-1.6 .5,3.7 .5,.5 .5,4.8 .5-2.6 .5,.7 .5-2 .5,.6 .5-2.5 .5,1.5 .5,3.2 .5-.7 .5,3.7 .5,1.9 .5,1.6 .5,1.7 .5-1.2 .5,1.6 .5,1.1 .5-.5 .5-1.9 .5,.7 .5,1.3 .5,.9 .5-.3 .5,.6 .5,.1 .5-.1 .5-1.1 .5,1.4 .5,.3 .5-1.8 .5,4.2 .5-1.3 .5,.4 .5,1.2 .5,1.1 .5,.5 .5,.2 .5-2.6 .5-.1 .5,.3 .5-.6 .5,.4 .5,1.3 .5,.4 .5-3.5 .5-.6 .5,1.2 .5-2 .5,.6 .5,3.2 .5-4.1 .5,.1 .5-1.1 .5-.4 .5,1.7 .5-3.9 .5-3.8 .5-5.3 .5-4.3 .5-5.6 .5-1.3 .5,1.2 .5-1.4 .5-1.2 .5,0 .5-1.1 .5-.3 .5-.6 .5,1.5 .5-2.3 .5,.4 .5-2.4 .5-4.1 .5-2.5 .5-1.4 .5-1.9 .5-3.4 .5-.4 .5,.1 .5,1.4 .5,1.2 .5-.5 .5,4.1 .5-2.6 .5,.4 .5,0 .5,1.2 .5-1.4 .5-1.3 .5-.1 .5,1 .5,.4 .5-1.5 .5,2.7 .5,1.6 .5,1.1 .5,2.4 .5,3 .5,2.2 .5,1.7 .5,.4 .5,2.4 .5,3.1 .5-.2 .5-1.7 .5-1.3 .5-3.6 .5-4 .5-1.4 .5-3.7 .5-1.3 .5,.2 .5,2.1 .5-.5 .5,4 .5,3.5 .5,1.9 .5,0 .5,3.2 .5,1.8 .5,.9 .5,1.5 .5,3.1 .5,2 .5-.4 .5,1 .5,2.7 .5,1.9 .5-2.7 .5,2.5 .5-2.2 .5-1.3 .5,.8 .5-3.3 .5,.9 .5-.6 .5-2.7 .5,4.6 .5-1.6 .5-2.3 .5,3.1 .5-1.8 .5,1.4 .5-1.3 .5,1.6 .5-1 .5,1.9 .5,.5 .5-.2 .5,2.4 .5-.2 .5-.4 .5,.4 .5,.7 .5-2.9 .5-.4 .5,0 .5-2.4 .5-.7 .5-.1 .5,1.8 .5-2.9 .5,.1 .5-.3 .5-.6 .5,2.1 .5-.1 .5-1.4 .5,.8 .5-1.3 .5-2 .5,1.8 .5-.5 .5,0 .5,1.7 .5,.2 .5-1.4 .5,.9 .5-1.3 .5,.2 .5,.2 .5,3.3 .5-1.2 .5-.3 .5,1.7 .5,.6 .5,0 .5-.5 .5-.8 .5,2.8 .5-.9 .5,.1 .5-.2 .5-.8 .5,.8 .5,3 .5,1.3 .5-.2 .5,.5 .5,3.8 .5-.6 .5,2.2 .5-1.6 .5-1.5 .5-.3 .5,1.3 .5-1.3 .5-.9 .5-2.6 .5-1.4 .5,0 .5,.7 .5-2 .5-1.5 .5-1.3 .5-.8 .5,1.6 .5-3.3 .5,1.9 .5,1.1 .5-2.7 .5-1.9 .5,.6 .5-2.5 .5,2.3 .5,0 .5-.4 .5,1 .5,.8 .5,.2 .5-.5 .5-3.3 .5-.9 .5-.3 .5-.2 .5-.3 .5-.4 .5,.2 .5-.1 .5-.1 .5,1.9 .5-1 .5,1.6 .5,3.5 .5-2.2 .5,1.5 .5-1.5 .5,4.4 .5,2 .5,1.5 .5,4.2 .5-.3 .5,1 .5,1.8 .5-.3 .5,.5 .5,1.4 .5,1.4 .5-.7 .5,2.2 .5-2.5 .5-.9 .5,.6 .5,.2 .5-1.9 .5,.2 .5-.4 .5,.1 .5-3.6 .5-1.3 .5,.1 .5-2.6 .5-9.1 .5-10.7 .5-11.5 .5-7.6 .5-2.5 .5-2.7 .5-4.9 .5-4.7 .5-1.7 .5-1.7 .5-5.4 .5-.5 .5-4 .5-2.1 .5-3.1 .5,3.6 .5-1.2 .5,.7 .5,1.4 .5,4.1 .5-4.7 .5,.3 .5,1.3" fill="none" stroke="#707070" stroke-width="1.0" stroke-linejoin="round" />
<path d="M71.5,103.5l.5,.2 .5,1.1 .5,0 .5,.4 .5,.4 .5,1 .5,2.3 .5-2.5 .5,1.3 .5,1.7 .5-2 .5,2.7 .5-.1 .5,1.7 .5,1.2 .5,1.5 .5,1.1 .5,1.3 .5,1.2 .5,1.3 .5,.2 .5,2.6 .5,.3 .5,3.1 .5,3.3 .5,1.6 .5,3.2 .5,2.9 .5,2 .5,4.2 .5,.9 .5-.5 .5,1.2 .5-1 .5,2.2 .5,.6 .5,.4 .5-.6 .5-1.3 .5,2.4 .5,.2 .5-.1 .5-2.8 .5,1.7 .5-.4 .5,.6 .5-.9 .5,.7 .5-.7 .5,1.2 .5,.2 .5,.4 .5,.1 .5-.7 .5,1.5 .5,2.8 .5-1.6 .5-1.4 .5,1.5 .5,1 .5-.1 .5,1.6 .5-2.2 .5,1.5 .5,.5 .5,1.5 .5-1.2 .5,.1 .5,1 .5,0 .5-.5 .5,1.2 .5,2.1 .5-1.8 .5,1.8 .5-1.8 .5,.6 .5-.4 .5,3.1 .5-1.5 .5,1.2 .5,0 .5,.2 .5,.8 .5,.7 .5-2.3 .5-2 .5,1.3 .5-.9 .5-.8 .5-1.5 .5,.2 .5-.4 .5-1.3 .5-.1 .5-.2 .5-.5 .5-1.5 .5-.2 .5,1.3 .5-2.1 .5,1.5 .5-1.1 .5-1.1 .5-.9 .5,2 .5-.4 .5,1.8 .5-.7 .5,.6 .5-2.4 .5-1.7 .5-.3 .5-3.5 .5-.4 .5-2.8 .5-2.8 .5-3.3 .5-1.1 .5-.8 .5-3.9 .5-2.4 .5-.6 .5-3.4 .5-2.9 .5-3.8 .5-.1 .5-4.8 .5-2.8 .5-7.6 .5-4.2 .5-6.2 .5-5.1 .5-4.4 .5-6.1 .5-1.6 .5-1.9 .5-1.4 .5-.9 .5-.7 .5-2 .5-1.7 .5-1 .5-1.9 .5,.6 .5-1.9 .5-2.2 .5-1.7 .5,3.1 .5-3.3 .5-1.2 .5,2 .5-2.3 .5-1.2 .5,.5 .5-.5 .5-.7 .5-.8 .5-1.7 .5,.1 .5,.6 .5-2.9 .5,1.4 .5-2.4 .5,2.3 .5,.4 .5-.4 .5,1.7 .5,2.2 .5-1.6 .5,2 .5,1.4 .5-.2 .5-2.5 .5,1.3 .5-.2 .5,.5 .5,.3 .5,2.3 .5,.2 .5-3.3 .5-.9 .5,1.8 .5-.1 .5-.3 .5,1.2 .5-.1 .5,1.6 .5-.2 .5,.8 .5-.7 .5,1 .5,1 .5,3.5 .5,3.7 .5-2.1 .5,.9 .5-3 .5,.6 .5-1.8 .5,.2 .5,1.4 .5-1.5 .5,2.6 .5-.6 .5-1.5 .5,1.6 .5-.1 .5,.6 .5,2.7 .5-2.4 .5-.3 .5,1.3 .5-.7 .5,0 .5,1.1 .5,1.4 .5-1.4 .5-.7 .5,.9 .5-1.8 .5,1.4 .5,1.2 .5-.1 .5-.7 .5,2 .5,1.2 .5,1.4 .5,2.2 .5-1.3 .5,3.9 .5,.6 .5,1.8 .5-1.5 .5,3.5 .5-1.6 .5,1.9 .5,1.7 .5,.2 .5-.3 .5,1.4 .5,4.6 .5,2.7 .5,2.2 .5,4 .5,2.4 .5,4 .5,1.2 .5,6.1 .5,1.4 .5,6.9 .5,6.2 .5,5.2 .5,5.3 .5,3.3 .5,1.6 .5-.9 .5,5.7 .5,3.1 .5,2.1 .5-2.3 .5-2.6 .5-1.4 .5-5.4 .5-1.5 .5-2.7 .5-6.8 .5-4.8 .5-5.3 .5-6.5 .5-3.3 .5-4.5 .5-7.1 .5-4.3 .5-6.7 .5,1.6 .5,.4 .5-1.2 .5,1.3 .5,3.9 .5,2.1 .5,3 .5-1.8 .5,1.4 .5-4 .5,1.6 .5,.6 .5-1.4 .5-.3 .5-.4 .5-.4 .5-1.4 .5,1.2 .5,.6 .5-1.3 .5,.8 .5,1.1 .5-2.7 .5,.7 .5,.3 .5,.4 .5,1.1 .5-.2 .5-.4 .5,1.6 .5-2.2 .5,.8 .5-.5 .5-3 .5-1.3 .5-1.2 .5-.6 .5,2.7 .5,.3 .5,4.2 .5,.8 .5,2.1 .5,.9 .5,2.8 .5,.9 .5,3.1 .5,2.3 .5,1.4 .5,3.7 .5,2.7 .5,2 .5,3.2 .5-.7 .5-1.6 .5-1.9 .5,.1 .5-.7 .5-.3 .5-.8 .5-1.6 .5,2.9 .5-.7 .5,1.9 .5,1.5 .5,1.8 .5,.5 .5-1.5 .5-.7 .5-.7 .5,.4 .5,2.3 .5-.4 .5,2.7 .5-2.2 .5-.5 .5-1.4 .5-1.1 .5-1.7 .5-.9 .5,0 .5-2.9 .5,1.8 .5,1.2 .5,.8 .5,1.3 .5,.6 .5-.8 .5,.9 .5,2.6 .5-.4 .5,.3 .5,1.5 .5,.9 .5-.5 .5,2.8 .5-1.8 .5-.6 .5-.5 .5-1 .5,0 .5,0 .5-1.7 .5,.9 .5,0 .5-.8 .5,.3 .5,1.5 .5,1.4 .5,1.4 .5,1.8 .5,1.9 .5,2.3 .5-1.2 .5,2.3 .5-.7 .5,2.9 .5,.4 .5-4.5 .5-2.3 .5-2.1 .5-3.6 .5-4.3 .5-.7 .5-4.9 .5-8.4 .5-4.8 .5-7.7 .5-5.9 .5,3.1 .5,7.1 .5,5.3 .5,.8 .5-1.4 .5,0 .5-1 .5-4 .5-.3 .5-3.2 .5,2 .5,.9 .5-2.3 .5,1.4 .5-.1 .5,2 .5,2.2 .5,4.4 .5,1.7 .5,4 .5-.6 .5-.6 .5,.9 .5,.8 .5-.1 .5-.7 .5,.8 .5,.2 .5,1.4 .5,.2 .5,2 .5,.2 .5-5.4 .5-2.4 .5-3.2 .5-2.4 .5-3.4 .5-2.4 .5,.9 .5-.3 .5-1.9 .5-1.6 .5-.6 .5-.4 .5,1.9 .5,1 .5,3.6 .5,2.1 .5,.1 .5,1.7 .5,1 .5,.7 .5,2.4 .5-.5 .5,2.8 .5-1.6 .5-.8 .5,2.8 .5,.6 .5-1.6 .5,3.4 .5-1.5 .5,.7 .5,0 .5-.2 .5-.2 .5,3.5 .5-2.5 .5-.2 .5-.4 .5,.1 .5-1.6 .5-.7 .5,.8 .5,1.1 .5-2.1 .5,.5 .5-2.6 .5-.1 .5,1.6 .5,.4 .5,3.6 .5-1.5 .5,2.5 .5,2 .5-1.4 .5,1.8 .5,1 .5,.8 .5,1 .5-1.2 .5,2.7 .5,.8 .5,.8 .5-1.1 .5,2.4 .5-1.1 .5,3.5 .5,1.4 .5,2.4 .5,2.7 .5,2.7 .5,2.3 .5,1.2 .5,4.3 .5,1.3 .5,3.7 .5,.7 .5-.3 .5-.9 .5-1 .5,2 .5,1.3 .5,.9 .5,.7 .5-1.4 .5,2.8 .5,.7 .5,.7 .5-.4 .5,4.2 .5-.2 .5-.3 .5-.1 .5-3.1 .5-1.8 .5-1.6 .5-.5 .5-2 .5,1.7 .5,.9 .5,.7 .5,.3 .5-.5 .5,.9 .5,1.1 .5,.4 .5-.9 .5-1.6 .5-.4 .5,.8 .5-2.7 .5-.3 .5-2.2 .5-.8 .5-2.5 .5-2.5 .5-7.9 .5-2.5 .5-5.8 .5-2.4 .5-3.6 .5-3.9 .5-4.7 .5-1.2 .5-1.4 .5-.5 .5,1.1 .5,1 .5,1.2 .5,.4 .5-2.4 .5-1.8 .5-2.9 .5-4.1 .5-2.5 .5-3.2 .5-3.3 .5-.7 .5,4.7 .5,3.5 .5,5.3 .5,4.1 .5,7 .5,1.8 .5,3.2 .5,2.7 .5,.7 .5,1.7 .5,6.7 .5-1.4 .5,.5 .5,1.7 .5,1.1 .5,.3 .5-.9 .5,1 .5,.6 .5,0 .5,1.8 .5,1 .5,3 .5,.2 .5,3.7 .5,2 .5-1.8 .5-1.6 .5-1.5 .5-1.1 .5,2.2 .5-3.7 .5-2.6 .5,1.6 .5,2.7 .5-1.6 .5,1.2 .5-.3 .5,2.5 .5,0 .5,.3 .5,.5 .5-1.5 .5,.8 .5-.1 .5,.3 .5,2.8 .5-.1 .5,2.1 .5-.7 .5,.5 .5-1 .5,3.1 .5-.6 .5,2.3 .5-2 .5,3.2 .5,1.5 .5-.7 .5-1.6 .5-.6 .5,1.4 .5-1.1 .5-2.1 .5-.6 .5,1.2 .5,.5 .5,1.9 .5-.2 .5,1.1 .5-.9 .5,1.5 .5,2 .5,1.3 .5,.1 .5,2.5 .5,.1 .5-.2 .5,1.3 .5-2.4 .5-2.4 .5-1.2 .5-.2 .5-1.8 .5-1.9 .5,.2 .5,2.6 .5,.7 .5,1.7 .5-1 .5-2.3 .5,.7 .5,0 .5-3.6 .5-1.8 .5-1.7 .5-.1 .5-2.1 .5,.8 .5-2.3 .5-2.1 .5-1.5 .5-1.6 .5-3.1 .5-2.4 .5-.2 .5-3.1 .5-1 .5-1.5 .5-4.2 .5-.3 .5-2.5 .5-3 .5-1.8 .5-1.1 .5-2.2 .5-.9 .5-3.1 .5,1 .5,.3 .5,.5 .5-.6 .5,1.2 .5-1.8 .5,3 .5-1.4 .5,1.3 .5,.1 .5-.4 .5,.5 .5-.9 .5-2.9 .5,.5 .5-2.5 .5,2.7 .5,2.9 .5,1.3 .5,3.5 .5,1.8 .5,1.9 .5,3.5 .5,3.5 .5,2.9 .5-.1 .5,2.6 .5-5.1 .5-2.4 .5-4.5 .5-1.7 .5-1.5 .5-5.2 .5-.5 .5,1.4 .5-1.9 .5,3.3 .5,1 .5,.9 .5,3 .5,1.5 .5,2.8 .5-.2 .5,2.4 .5,2.6 .5,2.7 .5,2.7 .5,2.5 .5,2 .5,2.3 .5-3.5 .5,.4 .5-.3 .5-.2 .5-.2 .5-1.5 .5-.7 .5,1 .5,1.3 .5-2.2 .5,1.6 .5,1.4 .5-.2 .5,2.6 .5,.2 .5,.4 .5-2.5 .5,.9 .5,1.1 .5,.5 .5,.8 .5,1.8 .5-.5 .5-.6 .5,1.4 .5,.8 .5-1 .5-1.1 .5-.5 .5,2.2 .5-3.6 .5,1.6 .5-.7 .5-.6 .5-.4 .5-.9 .5,1.3 .5-.9 .5,1.6 .5-1.2 .5,1 .5-1 .5,1 .5,1.6 .5-.1 .5,.2 .5,1.1 .5,0 .5-1.2 .5,2.5 .5-2.2 .5-.6 .5,.8 .5-2.4 .5,.6 .5-.7 .5,1.7 .5-1 .5,2.2 .5,1.2 .5,.3 .5-.9 .5,1.6 .5-.3 .5,1.5 .5,.6 .5,1 .5,1 .5,0 .5-.2 .5,.4 .5,1.6 .5-.3 .5,2.7 .5,0 .5-.7 .5,1.6 .5,.5 .5-1.1 .5-.5 .5-1.2 .5,.6 .5-.8 .5-1.7 .5-.2 .5-1.7 .5-1.3 .5,.2 .5-.6 .5-2.5 .5-.7 .5-.5 .5-1.6 .5-.8 .5,1.4 .5-1.4 .5,1.6 .5-.5 .5,.3 .5-1.6 .5,.4 .5-1.6 .5,2.3 .5-2 .5,1.1 .5,1.4 .5,.8 .5-1.8 .5,2 .5-1.4 .5,.1 .5-.2 .5,.5 .5,.4 .5-.3 .5-.3 .5,1.9 .5-.8 .5,3.9 .5,1.3 .5,1.7 .5,2.8 .5,1.3 .5-.1 .5,.7 .5,3 .5,4.5 .5,3.7 .5,3.7 .5,3.8 .5-4.2 .5-5.1 .5-4 .5-1.8 .5-.8 .5-3.3 .5,.2 .5-1 .5-1.8 .5-.1 .5-2.4 .5-2.4 .5-1.8 .5-1.8 .5-1.7 .5-7.8 .5-6.7 .5-5.5 .5-6 .5-8.5 .5-1.9 .5-4.3 .5-3.9 .5-4.6 .5-1.8 .5-3.9 .5-4.1 .5-3.7 .5-4.3 .5-2.2 .5-3.2 .5-.9 .5,.5 .5,2.2 .5-.2 .5-1.4 .5-.3 .5-.6" fill="none" stroke="#3838ff" stroke-width="1.0" stroke-linejoin="round" />
<path d="M71.5,113.4l1,.6 1,.6 1,1.2 1,1.2 1,1.2 1,1.1 1,1.2 1,1.2 1,1.2 1,1.2 1,1.2 1,1.2 1,1.2 1,1.3 1,1.4 1,1.4 1,1.4 1,1.4 1,1.4 1,1.3 1,1.3 1,1.2 1,1.1 1,1 1,.9 1,.9 1,.9 1,.9 1,.8 1,.8 1,.7 1,.7 1,.6 1,.6 1,.6 1,.6 1,.5 1,.5 1,.4 1,.3 1,.2 1,.1 1,0 1-.1 1-.2 1-.3 1-.4 1-.5 1-.7 1-.8 1-.9 1-1.2 1-1.4 1-1.7 1-2 1-2.2 1-2.6 1-3.2 1-3.7 1-4.3 1-4.7 1-5.1 1-5.1 1-5.1 1-5.3 1-5.3 1-5.1 1-4.8 1-4.5 1-4.1 1-3.8 1-3.5 1-3.1 1-2.8 1-2.5 1-2.1 1-1.9 1-1.5 1-1.3 1-1 1-.8 1-.6 1-.6 1-.5 1-.4 1-.3 1,0 1,.1 1,.2 1,.3 1,.4 1,.4 1,.4 1,.4 1,.4 1,.5 1,.5 1,.6 1,.6 1,.7 1,.7 1,.7 1,.7 1,.8 1,.8 1,.9 1,.9 1,1 1,1 1,1 1,1 1,1.2 1,1.4 1,1.8 1,1.9 1,2.3 1,2.5 1,2.9 1,3.2 1,3.5 1,3.8 1,3.8 1,3.6 1,3 1,2.3 1,1.7 1,1.1 1,.5 1,.5 1,.4 1,.4 1,.4 1,.2 1-.4 1-1 1-1.5 1-2.1 1-2.2 1-2 1-1.9 1-1.7 1-1.6 1-1.3 1-1.1 1-.8 1-.6 1-.1 1,.1 1,.5 1,.7 1,.9 1,.9 1,.9 1,.9 1,.9 1,.9 1,.9 1,.9 1,.9 1,.9 1,.9 1,.9 1,.9 1,1 1,1 1,1 1,1 1,.9 1,.9 1,.7 1,.6 1,.5 1,.3 1,.4 1,.3 1,.3 1,.4 1,.3 1,.3 1,.4 1,.4 1,.4 1,.4 1,.4 1,.4 1,.4 1,.3 1,.3 1,.1 1-.3 1-.6 1-.9 1-1.2 1-1.5 1-1.4 1-1.3 1-1.2 1-1.1 1-1.1 1-1 1-.9 1-1 1-.9 1-.8 1-.8 1-.8 1-.7 1-.8 1-.7 1-.6 1-.5 1-.5 1-.4 1-.3 1-.4 1-.1 1-.1 1,.1 1,.3 1,.3 1,.2 1,.2 1,.1 1,.1 1,0 1,0 1,0 1,.3 1,.5 1,.6 1,.8 1,.9 1,.9 1,.9 1,.9 1,1 1,1 1,1.1 1,1.2 1,1.2 1,1.2 1,1.2 1,1.2 1,1.3 1,1.4 1,1.5 1,1.7 1,1.8 1,1.8 1,1.8 1,1.8 1,1.7 1,1.7 1,1.6 1,1.5 1,1.4 1,1.4 1,1.3 1,1.3 1,1.1 1,1 1,.8 1,.5 1,0 1-.3 1-.8 1-1 1-1.2 1-1.5 1-1.7 1-1.9 1-2.2 1-2.5 1-2.5 1-2.5 1-2.3 1-2.1 1-1.9 1-1.8 1-1.7 1-1.4 1-1.2 1-.9 1-.8 1-.2 1,.2 1,.6 1,.9 1,1.3 1,1.3 1,1.4 1,1.5 1,1.5 1,1.6 1,1.7 1,1.7 1,1.7 1,1.7 1,1.6 1,1.3 1,1.2 1,1 1,.8 1,.8 1,.8 1,.8 1,.8 1,.8 1,.7 1,.8 1,.7 1,.7 1,.7 1,.7 1,.6 1,.7 1,.5 1,.5 1,.5 1,.4 1,.4 1,.4 1,.2 1-.1 1-.2 1-.6 1-.8 1-.8 1-.9 1-.9 1-1.2 1-1.5 1-1.8 1-2 1-2.3 1-2.2 1-2.2 1-2.2 1-2.1 1-2.1 1-2 1-2 1-2 1-1.7 1-1.5 1-1.2 1-.9 1-.7 1-.7 1-.6 1-.7 1-.4 1-.1 1,.2 1,.6 1,1 1,1.1 1,1 1,1.1 1,1 1,1.1 1,1 1,1 1,1 1,1 1,.9 1,.9 1,.9 1,.8 1,.8 1,.8 1,.8 1,.8 1,.8 1,.6 1,.6 1,.5 1,.4 1,.4 1,.5 1,.4 1,.4 1,.5 1,.4 1,.4 1,.4 1,.4 1,.5 1,.4 1,.4 1,.4 1,.4 1,.4 1,.4 1,.4 1,.4 1,.5 1,.4 1,.5 1,.5 1,.4 1,.4 1,.3 1,.2 1,.1 1,0 1,0 1,0 1,0 1-.1 1,0 1-.1 1-.2 1-.2 1-.2 1-.2 1-.2 1-.2 1-.2 1-.1 1,0 1,.3 1,.3 1,.6 1,.7 1,.6 1,.5 1,.5 1,.5 1,.4 1,.1 1-.3 1-.9 1-1.4 1-2 1-2.1 1-2.4 1-2.8 1-3.2 1-3.5 1-3.9 1-3.8 1-3.6 1-3.2 1-3 1-2.8 1-2.7 1-2.9 1-2.9 1-3.1 1-3.1 1-2.9 1-1.5 1-1.4" fill="none" stroke="#0808f0" stroke-width="2.4" stroke-linejoin="round" />
<line x1="71.5" y1="102" x2="525.5" y2="102" stroke="#8888ff" stroke-width="1.4" stroke-dasharray="6.5,3"/>
<line x1="71.5" y1="158.3" x2="525.5" y2="158.3" stroke="#111" stroke-width="1.7" stroke-dasharray="6.5,3"/>
<line x1="115.5" y1="35.5" x2="115.5" y2="168.5" stroke="#00a000" stroke-width="1.3" stroke-dasharray="7,3.5"/>
<line x1="156.7" y1="35.5" x2="156.7" y2="168.5" stroke="#00a000" stroke-width="1.3" stroke-dasharray="7,3.5"/>
<line x1="125.6" y1="35.5" x2="125.6" y2="168.5" stroke="#ff2020" stroke-width="1.3" stroke-dasharray="7,3.5"/>
<line x1="146.3" y1="35.5" x2="146.3" y2="168.5" stroke="#ff2020" stroke-width="1.3" stroke-dasharray="7,3.5"/>
<line x1="136.7" y1="33.5" x2="136.7" y2="168.5" stroke="#ff3030" stroke-width="1.0" stroke-dasharray="2,1.2"/>
<line x1="274.2" y1="33.5" x2="274.2" y2="168.5" stroke="#ff30ff" stroke-width="1.4" stroke-dasharray="1.5,3"/>
<line x1="76.5" y1="37.5" x2="96" y2="37.5" stroke="#ff2020" stroke-width="1.3" stroke-dasharray="5,2.5"/>
<text x="96.7" y="40.6" font-size="8.8" text-anchor="start" fill="#ff2020" font-weight="normal" font-family='"Liberation Sans", sans-serif' >t<tspan dx="4.5">cs</tspan></text>
<line x1="76.5" y1="45.8" x2="96" y2="45.8" stroke="#00a000" stroke-width="1.3" stroke-dasharray="5,2.5"/>
<text x="96.7" y="48.9" font-size="8.8" text-anchor="start" fill="#00a000" font-weight="normal" font-family='"Liberation Sans", sans-serif' >t<tspan dx="4.5">HT</tspan></text>
<text x="96.7" y="57.3" font-size="8.8" text-anchor="start" fill="#00ee00" font-weight="normal" font-family='"Liberation Sans", sans-serif' >t<tspan dx="4.5">MVAB</tspan></text>
<text x="104.5" y="57.3" font-size="8.8" text-anchor="start" fill="#ff9090" font-weight="normal" font-family='"Liberation Sans", sans-serif' >NVAS</text>
<line x1="76.5" y1="60.8" x2="96" y2="60.8" stroke="#aaaaaa" stroke-width="2.6" stroke-dasharray="6,1.5"/>
<text x="96.7" y="63.9" font-size="8.8" text-anchor="start" fill="#aaaaaa" font-weight="normal" font-family='"Liberation Sans", sans-serif' >t<tspan dx="4.5">BLminmax</tspan></text>
<line x1="76.5" y1="69.2" x2="96" y2="69.2" stroke="#8888ff" stroke-width="1.3" stroke-dasharray="5,2.5"/>
<text x="96.7" y="72.3" font-size="8.8" text-anchor="start" fill="#2020ff" font-weight="normal" font-family='"Liberation Sans", sans-serif' >BL, 50% of BL</text>
<line x1="76.5" y1="77.2" x2="96" y2="77.2" stroke="#3838ff" stroke-width="1.0"/>
<text x="96.7" y="80.3" font-size="8.8" text-anchor="start" fill="#2020ff" font-weight="normal" font-family='"Liberation Sans", sans-serif' >BL<tspan dx="4.5">brst</tspan></text>
<line x1="76.5" y1="84.2" x2="96" y2="84.2" stroke="#808080" stroke-width="1.3"/>
<text x="96.7" y="87.3" font-size="8.8" text-anchor="start" fill="#606060" font-weight="normal" font-family='"Liberation Sans", sans-serif' >|B|</text>
</g>
<rect x="71.5" y="33.5" width="454" height="135" fill="none" stroke="#000" stroke-width="1"/>
<path d="M74.9,33.5v4.5M74.9,168.5v-4.5M95.6,33.5v4.5M95.6,168.5v-4.5M116.3,33.5v4.5M116.3,168.5v-4.5M137,33.5v10M137,168.5v-10M157.7,33.5v4.5M157.7,168.5v-4.5M178.4,33.5v4.5M178.4,168.5v-4.5M199.1,33.5v4.5M199.1,168.5v-4.5M219.8,33.5v10M219.8,168.5v-10M240.4,33.5v4.5M240.4,168.5v-4.5M261.1,33.5v4.5M261.1,168.5v-4.5M281.8,33.5v4.5M281.8,168.5v-4.5M302.5,33.5v10M302.5,168.5v-10M323.2,33.5v4.5M323.2,168.5v-4.5M343.9,33.5v4.5M343.9,168.5v-4.5M364.6,33.5v4.5M364.6,168.5v-4.5M385.3,33.5v10M385.3,168.5v-10M406,33.5v4.5M406,168.5v-4.5M426.7,33.5v4.5M426.7,168.5v-4.5M447.3,33.5v4.5M447.3,168.5v-4.5M468,33.5v10M468,168.5v-10M488.7,33.5v4.5M488.7,168.5v-4.5M509.4,33.5v4.5M509.4,168.5v-4.5" stroke="#222" stroke-width="1" fill="none"/>
<path d="M71.5,158.3h6M525.5,158.3h-6M71.5,116.3h6M525.5,116.3h-6M71.5,74.3h6M525.5,74.3h-6M71.5,168.8h3M525.5,168.8h-3M71.5,147.8h3M525.5,147.8h-3M71.5,137.3h3M525.5,137.3h-3M71.5,126.8h3M525.5,126.8h-3M71.5,105.8h3M525.5,105.8h-3M71.5,95.3h3M525.5,95.3h-3M71.5,84.8h3M525.5,84.8h-3M71.5,63.8h3M525.5,63.8h-3M71.5,53.3h3M525.5,53.3h-3M71.5,42.8h3M525.5,42.8h-3" stroke="#222" stroke-width="1" fill="none"/>
<text x="69" y="162.1" font-size="10.95" text-anchor="end" fill="#000" font-weight="normal" font-family='"Liberation Sans", sans-serif' >0</text>
<text x="69" y="120.1" font-size="10.95" text-anchor="end" fill="#000" font-weight="normal" font-family='"Liberation Sans", sans-serif' >20</text>
<text x="69" y="78.1" font-size="10.95" text-anchor="end" fill="#000" font-weight="normal" font-family='"Liberation Sans", sans-serif' >40</text>
<text transform="translate(48,101) rotate(-90)" font-size="10.95" text-anchor="middle" fill="#000" font-family='"Liberation Sans", sans-serif'>B<tspan font-size="9.4" dy="3.5">L</tspan><tspan dy="-3.5" font-size="1">&#8203;</tspan>,|B| [nT]</text>
<clipPath id="cl2"><rect x="71.5" y="176.5" width="454" height="68.3"/></clipPath><g clip-path="url(#cl2)">
<line x1="71.5" y1="230" x2="525.5" y2="230" stroke="#222" stroke-width="1.6" stroke-dasharray="5.5,2.5"/>
<path d="M71.5,213l.5,.3 .5,.4 .5,1.7 .5,.4 .5,.5 .5,.2 .5-.2 .5,.8 .5,1.1 .5-.8 .5,.2 .5,0 .5,.8 .5,.2 .5,.2 .5,.6 .5-1.6 .5,1.3 .5-2.1 .5,1 .5,.4 .5,0 .5,.4 .5,.3 .5,.5 .5-.2 .5,1 .5-.2 .5,.6 .5-.4 .5,1.8 .5,.3 .5,.1 .5,1.7 .5,.2 .5-.1 .5,.8 .5-.6 .5,1.4 .5-.8 .5,1.8 .5,.3 .5-1.3 .5,1.2 .5-.7 .5,.7 .5,.4 .5-1.4 .5,1.8 .5,.5 .5,.1 .5-1 .5,.5 .5,1 .5,.2 .5-.3 .5-.9 .5,.1 .5,1 .5-.1 .5-1.2 .5-.7 .5-.5 .5-.4 .5-.1 .5,.3 .5,.3 .5,0 .5,.1 .5,.7 .5-.6 .5,1 .5-.9 .5-.2 .5,.9 .5,.2 .5-.9 .5,1.5 .5-1.4 .5,1 .5,.6 .5-.9 .5-.9 .5,1 .5-1 .5,1.1 .5-.7 .5,.9 .5-.6 .5,.8 .5-.8 .5-1 .5-.1 .5-.6 .5-.4 .5-.9 .5-.6 .5,.5 .5-.6 .5,.3 .5-1.1 .5-.3 .5-.1 .5-.3 .5-.4 .5-.7 .5-1 .5,1 .5-.7 .5,.1 .5,.3 .5-.9 .5-.6 .5,0 .5-.4 .5,1.1 .5,.8 .5,1.2 .5-.2 .5,1.4 .5,.2 .5,.6 .5,1.1 .5-.2 .5-2.5 .5-.8 .5-1.3 .5-1.6 .5-.6 .5-1.4 .5-.7 .5-1.2 .5-1 .5-.6 .5-.6 .5-1.5 .5-1.5 .5-.1 .5-.6 .5-2.6 .5-.9 .5-1.3 .5,.5 .5,1 .5,1.6 .5,1.4 .5,1 .5,1.1 .5-.1 .5,0 .5,1.4 .5,0 .5,.4 .5,1.3 .5,.1 .5-.5 .5,.4 .5,.5 .5-.2 .5,.3 .5-.4 .5-1.5 .5,1.2 .5,.7 .5,1.2 .5,1.2 .5,2 .5,.3 .5,1.7 .5-.4 .5,2.2 .5,2.2 .5,1.2 .5,1.2 .5-.1 .5,.9 .5,1.4 .5,.3 .5,0 .5,.1 .5,.5 .5-.3 .5-1 .5,.2 .5-.1 .5-.8 .5,.4 .5,.7 .5,.8 .5-1 .5-.1 .5,1.2 .5,.6 .5,0 .5,1.4 .5,.2 .5,.5 .5,2.2 .5,.6 .5,.2 .5,.9 .5,1.4 .5,.7 .5,.7 .5,.8 .5-.7 .5-1.2 .5-1.4 .5-1.7 .5-.6 .5-1.6 .5-.1 .5-.8 .5-.2 .5-.2 .5-.7 .5-.4 .5,.6 .5,.2 .5,0 .5,.4 .5-.4 .5-.3 .5,.5 .5,.5 .5,0 .5-.2 .5,.6 .5,.1 .5,.2 .5,.3 .5-.4 .5-2.6 .5-1.1 .5-.4 .5-1 .5-2 .5-.7 .5-1.1 .5-1.3 .5-1.5 .5-1.4 .5-.3 .5,2.4 .5-.1 .5,1.7 .5,1.5 .5,1.5 .5,.4 .5-.6 .5,1 .5,1.1 .5,.3 .5,.7 .5,.5 .5,.2 .5,.6 .5,0 .5,1.3 .5,.2 .5-.9 .5-.1 .5,.1 .5-.6 .5-.3 .5,.2 .5-.9 .5-.2 .5-1.6 .5,1 .5-.5 .5,.9 .5,.7 .5-.6 .5,.6 .5,0 .5-.2 .5,.1 .5-.8 .5-.4 .5-1.2 .5-1.1 .5-1.6 .5,.1 .5,.1 .5,.5 .5-1 .5,.6 .5,1.8 .5-.3 .5,.6 .5,.3 .5-1.6 .5-1.7 .5-.5 .5-.7 .5-1.8 .5-.9 .5,.1 .5,.3 .5-.4 .5,.8 .5,.5 .5-.4 .5-.1 .5-.4 .5-1.2 .5-1 .5-2 .5-1 .5,.3 .5,.5 .5,2.1 .5,.4 .5-.4 .5,.2 .5,0 .5-.7 .5-.2 .5,.4 .5,.2 .5-.4 .5,.2 .5-.5 .5,.4 .5,.5 .5-1.2 .5-1.1 .5-1.6 .5-1 .5-.1 .5,2.3 .5,3.6 .5,2.1 .5,1.6 .5,.7 .5,1.5 .5,.5 .5-1.7 .5-2.8 .5-2 .5-1.7 .5-.1 .5-.5 .5-1.9 .5-.8 .5-.4 .5-.5 .5-.4 .5,1 .5-.9 .5,.1 .5,1.1 .5-.5 .5,1.1 .5,.9 .5,.8 .5-.3 .5,.5 .5-.3 .5-1.3 .5-.4 .5-.2 .5-.2 .5-1.8 .5,.9 .5-.8 .5,1 .5-.7 .5,.2 .5,.3 .5-.1 .5,.7 .5-.3 .5,.3 .5-.5 .5,.7 .5-.7 .5-.2 .5,1.4 .5-.5 .5,1.3 .5-2.4 .5,.9 .5-1.4 .5,.1 .5,.5 .5,1.2 .5,.9 .5-.7 .5,.8 .5,1.3 .5-.7 .5,.4 .5-.3 .5-.6 .5-1.6 .5,.6 .5-1.1 .5-.4 .5-2.1 .5-3 .5-.4 .5,5.1 .5,6.4 .5,5.2 .5-2.2 .5-.6 .5-2.2 .5-1.9 .5-.7 .5-.8 .5,1.2 .5,.7 .5,0 .5,.9 .5,.7 .5,.6 .5,.6 .5,.4 .5,.4 .5,1.4 .5,.1 .5,.3 .5,1.8 .5-.8 .5,.8 .5,.4 .5,.3 .5,.2 .5-.2 .5,.3 .5,.6 .5,1 .5,0 .5-.9 .5,.8 .5-1.8 .5,1.7 .5-.9 .5-.2 .5-.1 .5,.8 .5-.4 .5,.6 .5-.1 .5-.5 .5,.2 .5-1 .5,.2 .5,.8 .5-.6 .5,.8 .5,.5 .5-.3 .5,.6 .5-.3 .5-.3 .5-1.2 .5-.1 .5-2 .5,1.1 .5,.3 .5-.5 .5,.1 .5,.8 .5,0 .5-.8 .5,1.3 .5,.1 .5-.5 .5-.2 .5-1.9 .5,.6 .5-1.7 .5,1.2 .5,0 .5-.2 .5,.4 .5,.2 .5,1 .5,.1 .5,1.5 .5-.8 .5,.3 .5-.4 .5-.2 .5-.3 .5,.4 .5-1.3 .5-.3 .5,.2 .5-.3 .5-.6 .5,0 .5-.1 .5-.9 .5,.2 .5-.6 .5,.1 .5-.6 .5-.8 .5,.1 .5,.8 .5,1.1 .5,.3 .5,0 .5,.4 .5,1.4 .5-.3 .5-.4 .5,.1 .5-.6 .5,.3 .5,.4 .5,.5 .5-.8 .5-.1 .5-.1 .5-.4 .5,1 .5-.8 .5-.6 .5,.4 .5-1.1 .5-.4 .5-.8 .5-.7 .5,1.1 .5,.6 .5,0 .5-.2 .5,.9 .5,.2 .5,1.2 .5-1 .5,1 .5-1 .5-1.2 .5-.2 .5-.4 .5-.9 .5,.2 .5,.1 .5-.2 .5-.1 .5,.5 .5-.6 .5-1.3 .5-.2 .5-1 .5-.8 .5-1.2 .5-.6 .5-.2 .5-.7 .5-1.7 .5,0 .5-1 .5,.5 .5,0 .5,0 .5,.7 .5,.1 .5-.2 .5-.6 .5,1.3 .5,.2 .5-.6 .5,1.3 .5-.7 .5,2.6 .5,1.1 .5,2 .5,.5 .5,3.2 .5,.2 .5,0 .5,.3 .5,.5 .5-.3 .5-1.2 .5,.2 .5,.8 .5-.5 .5,0 .5-.1 .5-.8 .5,.6 .5,.2 .5-.2 .5,.3 .5-1 .5-.3 .5-.4 .5,.2 .5,.1 .5-.8 .5,.4 .5-.6 .5,.6 .5,.3 .5,.8 .5-1.3 .5,0 .5,.3 .5-.6 .5,.1 .5,.5 .5-.4 .5-.3 .5,.5 .5,.4 .5,0 .5,.4 .5-.1 .5,.1 .5-.3 .5,.5 .5-.3 .5-.1 .5,0 .5,.6 .5,1.4 .5,0 .5,.5 .5,.2 .5,0 .5,0 .5,.3 .5-.6 .5,.3 .5-.3 .5,.2 .5-.1 .5-.1 .5-.7 .5,.3 .5,.8 .5,.6 .5-.1 .5,.7 .5,.4 .5,0 .5-1 .5,1.3 .5-.6 .5,.9 .5-.4 .5-.2 .5,.5 .5-.3 .5-1.1 .5,.4 .5,.5 .5,.2 .5,.6 .5-.7 .5,.2 .5,.4 .5,0 .5-.4 .5-.6 .5,.6 .5-.4 .5,.1 .5-1.2 .5-.8 .5-.4 .5-2.2 .5-1.1 .5-1 .5-1.5 .5,.2 .5-.6 .5-.3 .5,0 .5,.3 .5,.1 .5,0 .5-.1 .5,.4 .5-.3 .5,.2 .5,0 .5,2.2 .5,.5 .5-.1 .5,1.1 .5,.6 .5-.2 .5,1 .5-.2 .5,.6 .5-.2 .5,.8 .5,.4 .5,.9 .5-.1 .5,1.8 .5,.2 .5,1.7 .5,0 .5,1.1 .5,.4 .5,.1 .5,.6 .5-.6 .5,.5 .5-.6 .5,1 .5-.1 .5,.4 .5-.6 .5-.2 .5,.1 .5-.4 .5-1 .5,.2 .5,.2 .5-.5 .5,.3 .5-1.1 .5-.3 .5,1.1 .5-.3 .5,.2 .5-.2 .5,.3 .5,0 .5,.1 .5-1.1 .5-.5 .5-.4 .5,.3 .5,.2 .5-.5 .5,1.1 .5-1.2 .5-.2 .5,.2 .5,.1 .5-.1 .5,.6 .5,0 .5-.7 .5,.8 .5-.3 .5-.1 .5,.5 .5,.2 .5-.3 .5,.2 .5-.2 .5,.2 .5-.2 .5-.3 .5-.4 .5-.2 .5-1.6 .5,.1 .5,.1 .5-.8 .5,.2 .5-.2 .5-1.2 .5,.7 .5,.2 .5-.6 .5-1.5 .5-.3 .5-.9 .5,.6 .5-.5 .5,.6 .5-.4 .5-1.2 .5,.4 .5-1.2 .5,.5 .5-.6 .5-.3 .5,0 .5,.2 .5-.2 .5-.2 .5,.2 .5,.4 .5-.5 .5,.3 .5-.5 .5,.6 .5-.2 .5,.7 .5-.6 .5-.7 .5,.4 .5-.9 .5,.9 .5-.4 .5,.5 .5-.3 .5-1 .5,.7 .5-.4 .5,1.6 .5-.4 .5,.2 .5,.3 .5-.4 .5,.6 .5,.3 .5,.6 .5-.8 .5,2.1 .5-.9 .5,0 .5,1.5 .5-1 .5,.9 .5,.1 .5-.7 .5-.5 .5,0 .5-1.5 .5-1.2 .5,.7 .5,2.4 .5,1 .5,3.1 .5-.8 .5-1.1 .5-.9 .5-.4 .5-1 .5-2.1 .5,.1 .5,.3 .5-.3 .5,.3 .5-1.3 .5,.8 .5-.1 .5-.9 .5-.6 .5,.8 .5-.4 .5-1.1 .5,0 .5-.1 .5-.4 .5,.1 .5-.1 .5-1.3 .5,.5 .5-.9 .5-.5 .5,.2 .5,.5 .5,.3 .5,.3 .5,.7 .5,1.2 .5,0 .5-.2 .5,.1 .5-.8 .5-.6 .5,1.1 .5,2.3 .5,2 .5,.2 .5,.4 .5-.8 .5-.3 .5,.2 .5-.4 .5,.4 .5,0 .5-.4 .5,.2 .5-.9 .5,.4 .5-.2 .5-.4 .5-1.9 .5-1.6 .5-.2 .5-2.3 .5-1.2 .5-.3 .5-.7 .5-.4 .5-.3 .5-1.1 .5,1 .5,.6 .5,.7 .5,3.1 .5,4.3 .5,2.6 .5,.3 .5,2.7 .5,1.1 .5-.6 .5-.5 .5-.6 .5,.2" fill="none" stroke="#20f020" stroke-width="0.9" stroke-linejoin="round" />
<path d="M71.5,222.8l.5,.5 .5,.5 .5-.4 .5,.2 .5,.3 .5-.9 .5,0 .5,1 .5-.5 .5,0 .5,.4 .5,1.2 .5-.8 .5,.6 .5-.7 .5,.5 .5,.8 .5-.4 .5-.6 .5-.5 .5-.1 .5,1.6 .5-.4 .5,.2 .5,.3 .5,1.2 .5-.1 .5-.2 .5,1.1 .5-.7 .5,.2 .5,.6 .5-1 .5,.6 .5,2.1 .5-.9 .5-.8 .5,.3 .5,.2 .5-1.4 .5,.2 .5-.7 .5,0 .5-.2 .5-.3 .5,0 .5,.3 .5,.7 .5-.3 .5-.5 .5,.3 .5-.3 .5,.8 .5-.5 .5,0 .5-.5 .5-1.1 .5,1 .5-.4 .5,.2 .5-1 .5,.8 .5-.2 .5,.9 .5,.7 .5-.2 .5-.6 .5,1.4 .5-1.3 .5-.1 .5,.5 .5,.7 .5,.7 .5-.7 .5,.1 .5,1 .5-.7 .5-.7 .5,1.7 .5,.3 .5-.2 .5,.4 .5-.7 .5,1.9 .5-.7 .5-.4 .5,.6 .5-.1 .5-.5 .5-.2 .5-.4 .5,.1 .5-.3 .5,.6 .5-1.4 .5,.3 .5-.3 .5,.4 .5,.3 .5,.2 .5-.3 .5-.1 .5,.3 .5,.8 .5,.4 .5,.4 .5,.5 .5-.4 .5,.5 .5-.4 .5,.7 .5,.3 .5-.9 .5,1 .5-.2 .5-.1 .5-1.2 .5-.1 .5,.6 .5-.8 .5,1.9 .5-.3 .5,.7 .5,.6 .5-.1 .5,.2 .5-.7 .5-1.1 .5,.6 .5-1.5 .5,1.3 .5-.5 .5-.3 .5-.2 .5-.7 .5,.2 .5,.3 .5-.1 .5,.3 .5,0 .5,1.3 .5,2.7 .5,.7 .5,1.1 .5-1.4 .5-.4 .5-1.1 .5-.6 .5-.5 .5-.2 .5-.4 .5-.5 .5-.5 .5,.4 .5,.8 .5-1.4 .5-1.2 .5-.1 .5,.9 .5-.4 .5-1 .5,.2 .5-.7 .5-1.2 .5-.5 .5-1.2 .5-.2 .5-.2 .5,0 .5-.1 .5,0 .5-.4 .5-.8 .5-.2 .5-1.2 .5,.5 .5,0 .5-.1 .5-.7 .5-.5 .5-.1 .5,.7 .5-.8 .5,.3 .5,1.6 .5,1.2 .5,0 .5,.6 .5-.2 .5,3.4 .5,.7 .5,1.8 .5,.5 .5,2.8 .5-.1 .5,.7 .5,1.6 .5-.2 .5-1.1 .5-.2 .5-.9 .5-.3 .5-.1 .5-1.7 .5-.4 .5-1.4 .5-.1 .5-1.1 .5-.4 .5-1.4 .5-.2 .5-.9 .5-.6 .5-.1 .5-1.5 .5-.2 .5-1.7 .5,1 .5-.4 .5-.6 .5-.8 .5-.1 .5-.2 .5-.3 .5,.7 .5,.1 .5,.2 .5,.3 .5,.5 .5-.1 .5-.7 .5,.6 .5-.3 .5,1.3 .5-.7 .5,.7 .5-.7 .5-1 .5-.3 .5-.1 .5-.9 .5,1.5 .5,.3 .5-.5 .5,1.5 .5,.4 .5,.5 .5,.7 .5,.4 .5,.1 .5-.7 .5-1.1 .5,.1 .5-1 .5,.6 .5,1.5 .5,.9 .5,.8 .5,1.3 .5,.8 .5,.6 .5,.8 .5-.2 .5,1.6 .5-1.1 .5,1.8 .5,1.1 .5,1.8 .5,.7 .5,1.2 .5-.1 .5-.7 .5-.7 .5-1.8 .5-.9 .5-1.7 .5-.8 .5-1.8 .5-.8 .5-1.8 .5,0 .5,1.8 .5-1 .5,.7 .5,.8 .5,0 .5,.2 .5,.4 .5,.7 .5,.1 .5-.9 .5-.5 .5-1.1 .5-.7 .5-1.1 .5-.5 .5-1.3 .5,1.1 .5-.1 .5,.1 .5,.4 .5,1 .5,.1 .5-1.2 .5-.7 .5-.2 .5-1.5 .5-.4 .5,.4 .5,.1 .5-.8 .5-1.3 .5,1.2 .5-.8 .5-.2 .5,0 .5-.9 .5-.2 .5,0 .5,.5 .5,.6 .5,.3 .5,.3 .5,0 .5-.6 .5,1.4 .5,.1 .5,3.1 .5-.3 .5,1.3 .5,3 .5-1 .5-.1 .5-1.6 .5-.6 .5-.4 .5,1.8 .5,.6 .5,1.1 .5-3.2 .5-3.7 .5-3.9 .5-.4 .5,1.1 .5-.4 .5,.4 .5,.8 .5,.3 .5,1.4 .5,.4 .5-.9 .5-.9 .5-.6 .5-.1 .5-1.4 .5,.9 .5-.2 .5,.3 .5,1.6 .5-1.2 .5,.1 .5,.2 .5,.5 .5-.4 .5,.2 .5-.1 .5,.2 .5-.4 .5,.5 .5-1.2 .5-.2 .5-.1 .5-.7 .5,.8 .5-.1 .5-.3 .5,1.4 .5,0 .5,.1 .5-.2 .5,.7 .5-.1 .5-1.1 .5-.1 .5,.4 .5,.1 .5,0 .5,.2 .5,.7 .5,2.5 .5,.9 .5,.9 .5,1.3 .5-2 .5-1 .5-.9 .5,.5 .5-.3 .5,1.9 .5,3.2 .5,2.7 .5,2.2 .5,1.6 .5,.5 .5-1.2 .5,1.4 .5,.6 .5,1.6 .5-.8 .5-1.2 .5-.5 .5-1 .5-3 .5,.1 .5-.5 .5,0 .5-1.9 .5,1.1 .5-.9 .5-.3 .5-.8 .5-.4 .5,.6 .5,0 .5-.8 .5-.2 .5,.5 .5-.2 .5-.5 .5,.7 .5-.2 .5,.8 .5,1.8 .5-.1 .5,.1 .5-.3 .5-.9 .5-1.4 .5-.2 .5-.6 .5-2.1 .5-.8 .5-.4 .5-1.3 .5,.9 .5,.2 .5-.3 .5-1.4 .5,0 .5-.6 .5,1 .5-1 .5,.9 .5,.5 .5,.6 .5,.2 .5-.1 .5,1.3 .5,.1 .5-.7 .5-.7 .5-.2 .5,.2 .5-.3 .5,0 .5-.2 .5-1.1 .5,1.1 .5-.4 .5,.8 .5-.2 .5-.5 .5,.4 .5,.5 .5,.2 .5-.7 .5,.3 .5,1.1 .5-.3 .5,.5 .5-.7 .5-.9 .5,.1 .5,.3 .5-.1 .5,.2 .5-.1 .5,0 .5-.2 .5-1.2 .5,1.6 .5,.9 .5-.7 .5-.8 .5-.1 .5,0 .5,.4 .5,.3 .5,.2 .5,.3 .5-.6 .5,1.4 .5-1.5 .5,.5 .5,.7 .5,1.1 .5-.4 .5,.8 .5-.8 .5,.4 .5,.8 .5,.4 .5,.2 .5-.7 .5,.5 .5,.8 .5,.5 .5-.1 .5-.2 .5,.8 .5,0 .5-1.3 .5,.9 .5,0 .5-.2 .5-.2 .5,.3 .5-.1 .5,.9 .5,0 .5,.1 .5,.6 .5,.5 .5-1.2 .5,.8 .5,.5 .5,.9 .5,.3 .5,.1 .5-.1 .5,1.3 .5,.4 .5-.1 .5-.7 .5-.3 .5-.4 .5,.5 .5-1 .5,.6 .5,0 .5,1.2 .5-1 .5-.1 .5,.7 .5,.2 .5,.9 .5-1.9 .5-2.9 .5-1.7 .5-2.5 .5-1.3 .5-.5 .5-.9 .5,.7 .5-.4 .5,1.9 .5,1.9 .5,1.3 .5-2.6 .5-3.1 .5-1.8 .5-2.3 .5-.6 .5,.4 .5-.8 .5-1.4 .5,3 .5,1.4 .5,1.3 .5,1.8 .5,.7 .5,.3 .5,1.3 .5,.4 .5,1.8 .5,0 .5-1.5 .5-.9 .5,.6 .5-1 .5,.2 .5-.2 .5,.2 .5,.6 .5,.1 .5-.6 .5-1.1 .5,.7 .5-.2 .5,.7 .5-.5 .5,0 .5-.2 .5,.9 .5-.3 .5,0 .5-.1 .5,.3 .5,.6 .5,.5 .5,.6 .5-.6 .5-1.2 .5,1.1 .5-.3 .5,.7 .5,.2 .5-.9 .5,.6 .5-.3 .5,.2 .5,.3 .5,.3 .5,1.4 .5,.1 .5-.4 .5,.7 .5,1.6 .5,0 .5,.1 .5,.8 .5-.1 .5,.6 .5,1.1 .5,0 .5,.5 .5-.6 .5-.9 .5-.1 .5-.2 .5-.9 .5-.1 .5,.2 .5-.8 .5,.1 .5,.4 .5-1 .5,.9 .5-.6 .5,.8 .5-.7 .5-.7 .5,1.1 .5-.4 .5,1.1 .5-.6 .5,0 .5,.5 .5-.6 .5,1.4 .5,.2 .5,1.3 .5,.1 .5,1.5 .5-.5 .5-1.1 .5-.8 .5,0 .5,1.9 .5,1.7 .5,1.6 .5,2.7 .5,.2 .5-2.6 .5-1 .5-1.6 .5-1.8 .5,1.2 .5-.5 .5,.8 .5,0 .5,.1 .5-.6 .5,.7 .5-.2 .5-.6 .5-.9 .5-.2 .5-1.1 .5-.6 .5,.1 .5-.3 .5-.7 .5-.3 .5-1.4 .5,0 .5-1.8 .5,2.5 .5,.2 .5,.2 .5,.4 .5,.4 .5-.2 .5-1 .5-.8 .5-.1 .5,.2 .5-.3 .5-1.9 .5,0 .5-.7 .5-.4 .5-.4 .5,.4 .5-.8 .5-1.4 .5,1.6 .5,0 .5-1 .5,1 .5-.8 .5,.3 .5-.3 .5-.7 .5,.5 .5-1 .5,1.6 .5,1 .5,.6 .5,1.5 .5,.5 .5,.3 .5-.5 .5,.7 .5-.6 .5-.4 .5,.5 .5-.5 .5-.1 .5,.6 .5,.3 .5,.2 .5,.4 .5,1 .5-.6 .5,1.1 .5-.4 .5,.2 .5,.8 .5,.1 .5-.7 .5,.7 .5-.7 .5-.3 .5-.6 .5-.8 .5-1 .5,.2 .5-.9 .5-.1 .5-.2 .5-.7 .5-.4 .5-1.3 .5,.6 .5-.3 .5,1.2 .5-.5 .5-.2 .5,.1 .5,0 .5,.2 .5,0 .5-.9 .5,.7 .5-.1 .5,.5 .5-.1 .5-.5 .5,.3 .5-.1 .5-.8 .5-1 .5,1.7 .5,.1 .5-.5 .5,.2 .5-.5 .5,.3 .5,.8 .5-1.4 .5,.7 .5-.2 .5,.5 .5-.9 .5,1.5 .5-.7 .5,.9 .5,1.9 .5-.8 .5,.1 .5-.1 .5-.5 .5-1.7 .5-.5 .5-2.6 .5-1 .5,2.4 .5,1 .5,.6 .5,.7 .5,.4 .5-.3 .5,.7 .5,.6 .5-.6 .5,.7 .5-.2 .5-1.2 .5,.3 .5-.2 .5-.8 .5,.2 .5-.3 .5,.1 .5,0 .5-.8 .5-.5 .5-.7 .5,.1 .5,.3 .5,.5 .5-.3 .5,.4 .5-.4 .5,1 .5-1 .5,.4 .5-.8 .5,.6 .5-.9 .5,.7 .5-.2 .5-.3 .5,1 .5-.2 .5,.5 .5-.1 .5-1.7 .5,.4 .5-.7 .5,1.6 .5,.1 .5-.2 .5,1.3 .5-.2 .5,.4 .5-.4 .5,1.4 .5-1 .5,1 .5,.3 .5,.4 .5,.7 .5-.7 .5,2.4 .5,.6 .5,1.7 .5,.8 .5,.5 .5-.3 .5-.3 .5-.3 .5-2.1 .5,.6 .5,.2 .5,1.1 .5,.3 .5,.7 .5-.2 .5,.8 .5-.9 .5-.1 .5-.3 .5,1.1 .5,2.4 .5,3.4 .5,4 .5-.1 .5,2.1 .5,.6 .5-.6 .5,.1 .5-.6 .5,.1 .5-.2 .5-1.1 .5,.1 .5-2.6 .5-3.6 .5-4.5 .5-3.6 .5-2.3 .5-2.8 .5-1.5 .5-2.6 .5,.4 .5-.4" fill="none" stroke="#ff2828" stroke-width="0.9" stroke-linejoin="round" />
<path d="M71.5,204.6l.5,0 .5,.2 .5,1.1 .5,.6 .5,.4 .5,.1 .5,.4 .5-.9 .5,.8 .5,.8 .5,.5 .5,.9 .5,.8 .5,.4 .5-.5 .5,.6 .5,.8 .5-.2 .5,1.2 .5-.2 .5,0 .5,1.6 .5-.7 .5,1.1 .5,1.8 .5,1.1 .5,1.6 .5,1.5 .5,.4 .5,1.6 .5,.6 .5,.2 .5,.1 .5,.6 .5,.9 .5-1.7 .5,.9 .5,.3 .5-.1 .5,.1 .5,.3 .5-.2 .5-.4 .5-.2 .5-1 .5,.2 .5,1.3 .5,.1 .5-.1 .5,.7 .5,.4 .5-.6 .5,.6 .5,.1 .5-.1 .5-.4 .5-.1 .5,.2 .5,.3 .5,.6 .5,.7 .5,0 .5,.4 .5-.2 .5,.1 .5,.4 .5,.5 .5-.6 .5,.4 .5-.4 .5-.5 .5,.7 .5,.3 .5,.1 .5-.2 .5,1.2 .5-.5 .5,0 .5-.9 .5,.3 .5,1 .5,.6 .5-1.2 .5,.5 .5-.8 .5,.8 .5-.1 .5,.8 .5-.8 .5,0 .5,.2 .5-.7 .5,.1 .5,.1 .5-.2 .5-.4 .5-1.7 .5,.1 .5-.8 .5,1.1 .5-.3 .5-.3 .5,1.2 .5-.4 .5-.4 .5-.1 .5-.7 .5,.6 .5-.1 .5,1.2 .5-.8 .5-1 .5-1.5 .5-.9 .5-2 .5-1 .5-.9 .5,0 .5-.3 .5-.7 .5-.8 .5-2.2 .5-2.9 .5-1.2 .5-1.8 .5-1.1 .5-1.1 .5-.7 .5-.7 .5-2.4 .5-.9 .5-3.6 .5-1.5 .5-2.4 .5-3.2 .5-2.7 .5,.1 .5-.6 .5-.4 .5-.3 .5,1.2 .5,.9 .5,2.8 .5-1.8 .5-2.5 .5-2.3 .5-2.1 .5-.2 .5-1.8 .5,1.2 .5-1.2 .5-.2 .5,1.4 .5-1.4 .5,0 .5,.2 .5-1.3 .5,.1 .5-.9 .5-.7 .5,.1 .5-.9 .5,1.5 .5-1.7 .5,1 .5,.1 .5-.2 .5-.3 .5-.3 .5,1.7 .5-1.2 .5,.8 .5-.5 .5,1.6 .5-1.4 .5,1.5 .5,.4 .5-.6 .5-1 .5,.9 .5-.1 .5,.7 .5,.4 .5,.4 .5-.3 .5,.1 .5-.1 .5-.1 .5-.7 .5,.9 .5-.5 .5-.4 .5-.4 .5,1.4 .5,.2 .5,2.8 .5-2 .5-.2 .5-.7 .5,.1 .5,.7 .5,1.4 .5,.2 .5,1.3 .5,.7 .5-.1 .5,.2 .5-1 .5,.7 .5-1.2 .5-.4 .5-.6 .5,.7 .5,0 .5,.6 .5-.1 .5,.2 .5-.7 .5-.2 .5-.2 .5,.9 .5,0 .5-.5 .5,1.4 .5-.4 .5-.6 .5,1.8 .5-.3 .5,.5 .5,.6 .5,.6 .5,1.7 .5,1.3 .5,1.5 .5-.4 .5,.1 .5,.4 .5-.6 .5,.1 .5,0 .5,.6 .5,1.4 .5,.2 .5-.2 .5,1.5 .5,.4 .5,1.4 .5,3.1 .5,3.2 .5,1.9 .5,2.9 .5,2.9 .5,1.6 .5,2 .5,1.9 .5,2 .5,1.9 .5,2.7 .5-.1 .5-2.8 .5-1.3 .5-1 .5-1.7 .5-1 .5-1.4 .5-1.3 .5-.7 .5-.7 .5-4.9 .5-3.5 .5-2.6 .5-1.3 .5-1.5 .5-1.7 .5-.8 .5,.2 .5,.1 .5,0 .5,.8 .5,1 .5,.9 .5,1.8 .5,.3 .5-1.1 .5-.9 .5-.1 .5-1 .5-.7 .5,1.3 .5,.4 .5,0 .5,.2 .5,1 .5-.7 .5-.8 .5-.1 .5-.9 .5,0 .5,.4 .5,1 .5,1.3 .5-.6 .5,.1 .5,.1 .5-.3 .5-.4 .5-.2 .5-1.6 .5-.2 .5,.1 .5,.4 .5,1 .5,.8 .5,.3 .5,.7 .5,1.2 .5,.4 .5,.9 .5,.8 .5,1.2 .5,.3 .5,.7 .5,.5 .5-.4 .5,1.4 .5,.8 .5-.2 .5,.9 .5-.2 .5-.2 .5,.2 .5,.3 .5-1.9 .5,.2 .5-.5 .5,1.5 .5,.2 .5,1 .5-.9 .5-.8 .5-1.3 .5-1.2 .5,1.5 .5,1.5 .5,1.6 .5,.9 .5,0 .5-1.4 .5,.8 .5-.1 .5-.9 .5-.4 .5,.2 .5-.1 .5-.5 .5,.7 .5-.4 .5-1.4 .5,.9 .5-1.2 .5,2 .5,1.4 .5-.4 .5,.7 .5,.2 .5-.7 .5,1.2 .5,1 .5-1.4 .5-.7 .5,.2 .5-.4 .5,.2 .5-.1 .5,.4 .5,.4 .5-.6 .5,1 .5,.2 .5-.1 .5-.5 .5-.1 .5-.5 .5,.2 .5,.2 .5,.2 .5,1.9 .5,1 .5,1.5 .5,.5 .5-.6 .5-1 .5-.9 .5-.6 .5-1.1 .5-1.6 .5-2.6 .5-2.3 .5-2.5 .5-2 .5-1.9 .5-.8 .5-1.7 .5-.3 .5-.5 .5,3.3 .5,3.4 .5-.3 .5,.1 .5-.3 .5-1.6 .5,.2 .5-1.7 .5-.8 .5,.1 .5-.4 .5-.1 .5,1 .5,1.7 .5,1.8 .5-.1 .5,1.3 .5-.4 .5,.2 .5,1.1 .5,0 .5,0 .5,1.4 .5,.5 .5,.3 .5,.3 .5,.1 .5,1.1 .5-.5 .5-2.2 .5-.6 .5-1.5 .5-1.1 .5-2.3 .5-.9 .5-1.4 .5,.1 .5-.9 .5,.4 .5-.3 .5-.7 .5,.7 .5-.8 .5,1.1 .5,.4 .5,.7 .5,.4 .5,2 .5,.2 .5,1.4 .5,.1 .5,.1 .5,0 .5,1 .5-.6 .5,1.7 .5-.1 .5,.2 .5-.9 .5,1 .5-.8 .5,1.3 .5,.3 .5,.2 .5-.1 .5-.1 .5-.2 .5-.4 .5,0 .5-.7 .5,.5 .5-.9 .5,.4 .5-1.3 .5,1.2 .5-.4 .5-.2 .5-.5 .5,.6 .5,1 .5,.4 .5,.6 .5,1.3 .5,.2 .5-.3 .5,1 .5,.2 .5,.9 .5,.5 .5-.1 .5,.1 .5-.2 .5,1 .5,.1 .5,.6 .5,0 .5,.5 .5,2.5 .5-.4 .5,1.7 .5,.9 .5,2.8 .5,1.1 .5,.6 .5,.2 .5-.3 .5,.7 .5-.2 .5,.7 .5,1.5 .5-1.6 .5,2.1 .5,.3 .5-.6 .5,.6 .5-.4 .5,2.4 .5-1.1 .5,.4 .5,1 .5-.1 .5-1.3 .5-.9 .5-.6 .5-1.9 .5-.3 .5-.1 .5,.4 .5-.4 .5-.3 .5,.8 .5,0 .5,.5 .5,.5 .5,.3 .5-.9 .5-.4 .5,1.6 .5-.6 .5,.4 .5-1.4 .5-1.2 .5-1.2 .5-2 .5-1.9 .5-.9 .5-.8 .5-2.2 .5-2.1 .5-1.3 .5-1.7 .5-1.3 .5-.4 .5-2.1 .5-1.1 .5,1 .5,1.1 .5-.3 .5,1.7 .5-1.3 .5-.8 .5-.1 .5-.8 .5-1.7 .5-3.4 .5-1.4 .5-2 .5,1.8 .5,3.1 .5,1.7 .5,2.1 .5,2.2 .5,.6 .5,2.5 .5,2.1 .5,1.8 .5-1.1 .5-.3 .5,1.3 .5-.2 .5,1.3 .5,.1 .5,1.6 .5,1.1 .5,.1 .5,1.5 .5-.2 .5,.6 .5-.1 .5,.5 .5,2 .5-.2 .5-1.2 .5,1.4 .5-.6 .5,.3 .5-.5 .5-.7 .5-.7 .5,.1 .5,.4 .5-.5 .5,.4 .5-.1 .5,.3 .5-.6 .5,0 .5,.2 .5,1.1 .5-.1 .5,.4 .5-.3 .5,.5 .5,.4 .5,.9 .5-.7 .5,1.8 .5-.3 .5,1 .5,.3 .5,.7 .5-.4 .5-.8 .5,1.1 .5,.3 .5-1.4 .5,.1 .5,.2 .5-.3 .5,.1 .5,.4 .5-.3 .5,.3 .5,0 .5-1 .5-.3 .5,1.3 .5,1.3 .5-.9 .5,1.8 .5-.3 .5,1.6 .5,.1 .5,.9 .5-1 .5,1.4 .5,.5 .5-.3 .5-.2 .5-.4 .5,.6 .5-1 .5-.6 .5-1.2 .5,.4 .5-.9 .5-.8 .5-.7 .5-1.3 .5-.1 .5,1.2 .5-.5 .5-.2 .5-.5 .5-1.3 .5-3 .5-1.6 .5-1.6 .5-.5 .5,.6 .5-.1 .5-1 .5-.4 .5-.5 .5-1.4 .5-1.4 .5,1 .5-1.7 .5-1.3 .5-.4 .5-.2 .5-1.5 .5-.3 .5-1.8 .5-.9 .5-.7 .5-.1 .5,.6 .5-.2 .5,1.4 .5-.7 .5,.5 .5,.1 .5-.3 .5-.3 .5,.4 .5-.6 .5,.7 .5-1 .5,.5 .5-.3 .5,.9 .5,1.9 .5-.1 .5,.8 .5,2.1 .5,1.4 .5,1.6 .5,1.9 .5,.1 .5-1.5 .5-.9 .5-1.1 .5-1.3 .5-1.7 .5-1.2 .5,.1 .5,.4 .5-1 .5,.5 .5-.1 .5,1.6 .5,.1 .5,1.3 .5,1.3 .5,.2 .5,.6 .5,2 .5-.9 .5,.2 .5,.9 .5,2.2 .5-.5 .5,.7 .5,.3 .5,1.3 .5-.5 .5-.4 .5-.6 .5-.9 .5,.7 .5-.6 .5-1.1 .5,1 .5,.1 .5-.5 .5,1.2 .5-1.2 .5,1.6 .5-1.1 .5,.2 .5-.4 .5,1 .5-.4 .5-.5 .5,1.5 .5,.2 .5,.4 .5,.8 .5,.7 .5-1 .5-.8 .5,.8 .5,0 .5-1.4 .5,1.1 .5-.3 .5,.9 .5,.1 .5,.2 .5-.7 .5,.8 .5-.3 .5-.2 .5,.3 .5-.2 .5,.4 .5,.4 .5-.7 .5,.4 .5,.1 .5,.4 .5,.6 .5,0 .5-1.3 .5,1.6 .5,.2 .5-.2 .5,.6 .5,.7 .5-1.1 .5,1.1 .5,.2 .5-.3 .5,.3 .5,.1 .5,.8 .5-.4 .5-1 .5-.9 .5,.5 .5,1.4 .5-.8 .5,1 .5-.1 .5,.6 .5,1.4 .5-.7 .5,.8 .5,0 .5,.7 .5,.6 .5-.6 .5-.3 .5-1 .5,.4 .5-.9 .5-1.3 .5,0 .5-.5 .5-1.1 .5,.4 .5-2.4 .5,.3 .5,.6 .5,.2 .5,.6 .5,.2 .5-1.6 .5,.3 .5,.3 .5-.4 .5-.9 .5,1.5 .5-.7 .5,.3 .5-.1 .5-.5 .5,.9 .5-.8 .5,1.3 .5-.4 .5-.6 .5,.5 .5,.8 .5-.9 .5,1.4 .5-.6 .5-.5 .5,.8 .5,.3 .5,.7 .5,.9 .5-.1 .5-.1 .5,.5 .5,1.2 .5,1.6 .5,.3 .5,.6 .5,1.1 .5,3 .5,1.3 .5,.6 .5-1.9 .5-1 .5-2.2 .5-.4 .5-.6 .5-.8 .5-1.6 .5-.6 .5-.5 .5-.8 .5,1 .5-1 .5-2.5 .5-.3 .5-.3 .5-.8 .5-2.9 .5-3 .5-3.6 .5-2.6 .5-2.7 .5-3.2 .5-1 .5-2.1 .5,1.5 .5,.4 .5-1.2 .5-3.5 .5-3.9 .5-2.1 .5-1.5 .5-1.5 .5,0 .5,1.4 .5-.6 .5,1.2 .5,.1 .5-1.6 .5-.5" fill="none" stroke="#2828ff" stroke-width="0.9" stroke-linejoin="round" />
<line x1="115.5" y1="176.5" x2="115.5" y2="244.8" stroke="#00a000" stroke-width="1.6" stroke-dasharray="6,3"/>
<line x1="77.5" y1="187.5" x2="95" y2="187.5" stroke="#2828ff" stroke-width="1.0"/>
<text x="96.2" y="191" font-size="10.2" text-anchor="start" fill="#2828ff" font-weight="normal" font-family='"Liberation Sans", sans-serif' >B<tspan font-size="8" dy="3">L</tspan><tspan dy="-3" font-size="1">&#8203;</tspan></text>
<line x1="77.5" y1="210.5" x2="95" y2="210.5" stroke="#20f020" stroke-width="1.0"/>
<text x="96.2" y="214" font-size="10.2" text-anchor="start" fill="#20f020" font-weight="normal" font-family='"Liberation Sans", sans-serif' >B<tspan font-size="8" dy="3">M</tspan><tspan dy="-3" font-size="1">&#8203;</tspan></text>
<line x1="77.5" y1="233.5" x2="95" y2="233.5" stroke="#ff2828" stroke-width="1.0"/>
<text x="96.2" y="237" font-size="10.2" text-anchor="start" fill="#ff2828" font-weight="normal" font-family='"Liberation Sans", sans-serif' >B<tspan font-size="8" dy="3">N</tspan><tspan dy="-3" font-size="1">&#8203;</tspan></text>
</g>
<line x1="115.5" y1="180.5" x2="115.5" y2="244.8" stroke="#00a000" stroke-width="1.3" stroke-dasharray="6,3"/>
<line x1="125.7" y1="180.5" x2="125.7" y2="244.8" stroke="#ff2020" stroke-width="1.2" stroke-dasharray="6,3"/>
<line x1="146.3" y1="180.5" x2="146.3" y2="244.8" stroke="#ff2020" stroke-width="1.2" stroke-dasharray="6,3"/>
<line x1="143.7" y1="180.5" x2="143.7" y2="244.8" stroke="#ff30ff" stroke-width="1.4" stroke-dasharray="1.5,3"/>
<line x1="274.2" y1="180.5" x2="274.2" y2="244.8" stroke="#ff30ff" stroke-width="1.4" stroke-dasharray="1.5,3"/>
<line x1="156.7" y1="180.5" x2="156.7" y2="244.8" stroke="#00a000" stroke-width="1.0" stroke-dasharray="2,4"/>
<line x1="156.7" y1="180.5" x2="156.7" y2="244.8" stroke="#0000e0" stroke-width="1.2" stroke-dasharray="2,1.5"/>
<clipPath id="cl3"><rect x="71.5" y="244.8" width="454" height="68.3"/></clipPath><g clip-path="url(#cl3)">
</g>
<clipPath id="cl4"><rect x="71.5" y="313.1" width="454" height="68.3"/></clipPath><g clip-path="url(#cl4)">
<line x1="434.1" y1="317" x2="434.1" y2="381.3" stroke="#20b0ff" stroke-width="1.4" stroke-dasharray="2,3"/>
<path d="M71.5,377.2l.5,.8 .5-1.3 .5-.1 .5-.4 .5,.1 .5,.3 .5,.5 .5-.5 .5-.5 .5,1 .5,.3 .5-.6 .5-1 .5,.8 .5,.1 .5-2.3 .5,.8 .5-1.1 .5,.8 .5-1.2 .5,.5 .5-.9 .5-.8 .5,.1 .5-.2 .5,0 .5-.6 .5,.2 .5,.8 .5,.8 .5-.2 .5,1.1 .5,.5 .5-1.4 .5,.2 .5,.1 .5,1.2 .5-.8 .5,.7 .5,.1 .5,.9 .5,.3 .5-.1 .5-.3 .5-.7 .5,1.1 .5,.3 .5,0 .5,.8 .5,.1 .5,.1 .5,.6 .5-2 .5-.4 .5,.3 .5-.3 .5-1.3 .5-.3 .5-.1 .5-.6 .5,1 .5-.8 .5-.9 .5,.6 .5,.9 .5-1.6 .5,.2 .5-.3 .5-.4 .5,.8 .5-1.1 .5,.4 .5-.3 .5-.4 .5,.4 .5-1.4 .5,.5 .5,.1 .5-.9 .5,.2 .5-.2 .5-1.1 .5-.8 .5,.8 .5-.3 .5-.9 .5,.4 .5-.8 .5-.5 .5-.4 .5,.5 .5-.8 .5-.6 .5,.4 .5,.4 .5,.7 .5,.1 .5-.5 .5,.2 .5,.2 .5-.2 .5,.4 .5-.4 .5,0 .5-.1 .5-.1 .5,.1 .5,.1 .5,.4 .5-.3 .5,.3 .5-.2 .5-.5 .5,.1 .5-.4 .5,.2 .5-1.5 .5-1.4 .5-.8 .5-1.4 .5-.2 .5-1.8 .5-1.8 .5-.2 .5-2.2 .5-.6 .5,0 .5-1.7 .5-1.3 .5-.5 .5-.4 .5-.4 .5-.4 .5-.5 .5-1.8 .5-.4 .5,1.7 .5,1.4 .5,1.4 .5,1.4 .5,3.3 .5,2.9 .5,1.5 .5,2.3 .5-1.3 .5-2.3 .5-1.8 .5-1.8 .5-1.5 .5-1.3 .5-1.7 .5-1.2 .5-1.5 .5,.3 .5-1.1 .5,1.5 .5,1.7 .5,1.9 .5,2.3 .5,2.1 .5,3 .5,2.1 .5-1.4 .5-1.5 .5-2.2 .5-1.5 .5-1.2 .5-3.4 .5-3.3 .5-2.8 .5-.3 .5-1.6 .5-.6 .5-1.3 .5-.9 .5-1.2 .5-1.4 .5-.4 .5-1 .5-1.8 .5,.2 .5,2.4 .5,1.4 .5,1.4 .5,1.6 .5,.1 .5,.2 .5,.3 .5,1.2 .5,.6 .5,1.1 .5-1.6 .5-1.9 .5-1.8 .5-1.9 .5-1.8 .5-2.6 .5-.3 .5,.3 .5,1.1 .5,.8 .5,.2 .5,1.2 .5,.2 .5,.5 .5,.6 .5,1 .5,.8 .5,.4 .5,.7 .5,1 .5,0 .5-1.3 .5-.4 .5-.5 .5-.9 .5-.8 .5-.1 .5,.3 .5,0 .5-.6 .5,1.1 .5-.5 .5,.9 .5,.3 .5,.8 .5,.8 .5-.7 .5,1.5 .5,.3 .5,.4 .5,.4 .5-.4 .5-.9 .5-.4 .5-1.8 .5,0 .5,1.2 .5,1.4 .5,1.7 .5,.8 .5,.9 .5,1.5 .5,1.4 .5,1.7 .5,.2 .5-.6 .5-.3 .5-.1 .5,0 .5-.3 .5-.2 .5-.3 .5-.1 .5-1.3 .5-1.1 .5,0 .5-1.2 .5-1.5 .5-.1 .5-1.3 .5,.6 .5-1.7 .5,.5 .5-.9 .5-.1 .5-.8 .5-.3 .5-.2 .5-.9 .5-.4 .5-1 .5-1.3 .5-.8 .5-.1 .5,.4 .5,.2 .5-1.6 .5-.1 .5,.1 .5-1.3 .5,1.4 .5-2.3 .5,0 .5,0 .5,0 .5,.9 .5-1.2 .5,.4 .5-.1 .5,.8 .5,0 .5,.9 .5,.9 .5,.3 .5,1.2 .5-.1 .5,.5 .5-.1 .5,1.6 .5,.7 .5,.8 .5,.4 .5,.7 .5,1 .5-.8 .5-1.2 .5-.4 .5-1.3 .5-1.2 .5,1.2 .5,2.6 .5,1.9 .5,1.6 .5,1.5 .5,1.5 .5,.9 .5,1.1 .5,1.1 .5,.4 .5,1.3 .5,.6 .5,1 .5,1 .5,.3 .5,.9 .5,1 .5,1.1 .5,.9 .5,.4 .5,.5 .5,1.9 .5,0 .5-.6 .5,.6 .5-.8 .5,.2 .5-.8 .5-.1 .5,.1 .5-1 .5-.1 .5-.7 .5,.4 .5-.9 .5-.6 .5-.2 .5-1.9 .5-.4 .5-.4 .5-1.1 .5,.2 .5-.6 .5-.9 .5,1.3 .5,1.6 .5-.5 .5,1.7 .5,.4 .5,1.9 .5-.8 .5,1 .5,1.4 .5-.3 .5-.4 .5,1.3 .5,.8 .5,.7 .5-.4 .5,.9 .5,1.3 .5-1.1 .5,1.2 .5,.8 .5-.8 .5,.4 .5,.8 .5-.6 .5,0 .5-.6 .5-.9 .5-.2 .5-.3 .5,.4 .5-.9 .5,.1 .5,.1 .5-1.4 .5,1.5 .5-.4 .5-1 .5-.6 .5-1.5 .5-1 .5-1.3 .5-1.7 .5-.5 .5-1.6 .5-.7 .5-1 .5-1.2 .5-.9 .5-1.8 .5-1.6 .5-1.2 .5-1.2 .5-1.7 .5-1 .5-.6 .5,.8 .5-.3 .5,.4 .5-.1 .5,.1 .5,.2 .5,.1 .5-.7 .5-.3 .5-.6 .5,.3 .5-.8 .5-.2 .5-.1 .5-1 .5,.3 .5,.5 .5,.5 .5-.2 .5,.2 .5-.1 .5,.3 .5,0 .5,.9 .5,1 .5,1.3 .5,.8 .5,.4 .5-.9 .5,.3 .5,.9 .5-1.2 .5,1.5 .5,.6 .5-.1 .5,.7 .5,1.8 .5,.6 .5,1.2 .5,0 .5,.9 .5,.8 .5,.7 .5-.5 .5-.6 .5,0 .5-.9 .5-.2 .5-.1 .5-.3 .5-1 .5,.6 .5,.4 .5,.2 .5,.5 .5,.1 .5-.2 .5,.3 .5-.3 .5-.9 .5-.1 .5-.4 .5,.5 .5-1.1 .5,.6 .5-.4 .5,.7 .5-.2 .5,1 .5,.5 .5-.4 .5,.4 .5-.8 .5-.5 .5,.3 .5-.5 .5,.4 .5,.3 .5,.1 .5-.5 .5,.5 .5,.1 .5,.4 .5,0 .5,1.3 .5,1.3 .5,.8 .5-.2 .5,1.4 .5,.8 .5,1.7 .5,.2 .5,1.1 .5-.7 .5,1.1 .5,1.7 .5-.1 .5-.5 .5-.1 .5-.2 .5-.6 .5-1 .5-.4 .5-.2 .5-.4 .5-.2 .5-1 .5-.1 .5,0 .5-.8 .5,.5 .5-.7 .5,.1 .5-.3 .5,.7 .5-1.3 .5-.4 .5-.3 .5,.2 .5-.2 .5-.1 .5-.7 .5,.2 .5,0 .5,.5 .5-2.1 .5,.3 .5-.7 .5-.3 .5,.3 .5,0 .5-.7 .5,.6 .5,.1 .5,.5 .5,.1 .5-1.2 .5-1.4 .5-.8 .5-.4 .5-2.3 .5-.4 .5-1.1 .5,.2 .5-1 .5-1.1 .5-1 .5-.1 .5-.1 .5,1.3 .5,1 .5,.7 .5,1.1 .5,2.1 .5,1.3 .5,2.2 .5,1.1 .5,1.9 .5-.5 .5-1 .5-2.1 .5-1.8 .5-1.7 .5-1.7 .5-1.2 .5,0 .5-1.7 .5,.7 .5-.3 .5,0 .5-.2 .5-.3 .5-.1 .5,.1 .5-.7 .5,.2 .5,.3 .5,.3 .5-.6 .5-.3 .5,.3 .5,.3 .5-.5 .5,.2 .5,.3 .5-.2 .5,.7 .5-.3 .5,.6 .5,.6 .5,.2 .5-.2 .5,0 .5,.6 .5,.1 .5,.5 .5,1.2 .5-1.1 .5,.3 .5,.6 .5,.9 .5-.1 .5,.5 .5,.8 .5,.5 .5,.1 .5,.5 .5,.2 .5-.1 .5-.9 .5,1 .5-.2 .5-.3 .5,.3 .5,.2 .5,0 .5-.6 .5,0 .5-.2 .5,.3 .5-1.2 .5,.2 .5,.7 .5-.6 .5-.1 .5-.5 .5-.8 .5-.4 .5,.6 .5-1.1 .5,0 .5-.4 .5,.7 .5-.3 .5-.3 .5-1.1 .5-.2 .5-.5 .5,.1 .5-1.2 .5,0 .5,0 .5-.3 .5-.4 .5-.7 .5-.7 .5-.3 .5,0 .5-.2 .5,.6 .5-1 .5-.5 .5-.4 .5,.8 .5-.1 .5,.9 .5-1.1 .5,.1 .5-.6 .5,0 .5-.7 .5,.5 .5,.2 .5,0 .5-1.2 .5-.2 .5,.2 .5-1.2 .5-.1 .5-.2 .5,1 .5,.3 .5-.3 .5,.8 .5-.5 .5,.2 .5-.7 .5,1.1 .5,0 .5,.4 .5,1.1 .5,.6 .5-.4 .5,.4 .5,.9 .5-.1 .5,.2 .5-.8 .5-.4 .5,.3 .5,.2 .5,0 .5-.3 .5-.4 .5-.7 .5-.9 .5-.8 .5-1 .5-.2 .5-.6 .5-.9 .5,.3 .5,.1 .5-.4 .5-.3 .5-.4 .5-.6 .5-.3 .5-.2 .5-1 .5-1.8 .5-2.4 .5-1.8 .5-2.5 .5-2 .5-2.3 .5,1 .5,1.7 .5-.1 .5,1 .5,1 .5,1.1 .5-1.1 .5,.1 .5,0 .5-.7 .5,0 .5-.5 .5-.9 .5-.2 .5,.1 .5,.6 .5,1 .5,.5 .5-.2 .5,1.8 .5-.3 .5,.6 .5,.8 .5,.5 .5,1.2 .5,.5 .5,.5 .5,1.3 .5,.7 .5,.2 .5,1.7 .5,1.3 .5,1.3 .5,1.2 .5,1 .5,1.4 .5,.5 .5,2.2 .5,1.6 .5,0 .5,1.5 .5,1.2 .5,.5 .5,1 .5-.2 .5,.9 .5,1 .5,0 .5,.3 .5,.1 .5,.8 .5,1 .5-.5 .5-.6 .5,.8 .5,0 .5,0 .5-.1 .5-.1 .5,.6 .5-.9 .5,.3 .5,.9 .5-1.2 .5-.4 .5,.2 .5-1 .5,1.1 .5-1 .5,.9 .5-.5 .5,1.1 .5,.3 .5,.8 .5-.3 .5,.4 .5,.2 .5,.8 .5-.8 .5-.4 .5-.4 .5-1 .5-.4 .5-1.2 .5-.5 .5-.4 .5-.4 .5,.9 .5,.4 .5-.2 .5,0 .5,.3 .5,1.3 .5-.7 .5-.1 .5,.3 .5,.8 .5-.8 .5-.1 .5,.1 .5-.3 .5-.4 .5-.2 .5,.3 .5-.5 .5-.5 .5,.8 .5,1.2 .5,1.1 .5,.1 .5,1.1 .5,.3 .5,.2 .5,1.6 .5,.2 .5,.3 .5,.8 .5,1.7 .5,.5 .5,1.4 .5,.6 .5,.2 .5-.4 .5,1.3 .5-.2 .5,.7 .5-.4 .5-.1 .5,1.4 .5-.9 .5-.4 .5,.6 .5-.1 .5,.9 .5-.2 .5,.1 .5,.2 .5,.4 .5-.9 .5-.1 .5,.6 .5-.8 .5-.5 .5-.6 .5,.4 .5-.3 .5-.7 .5-.9 .5-.3 .5-1 .5-.4 .5-1.8 .5,.1 .5-.3 .5-.8 .5-.6 .5-.8 .5-.3 .5,0 .5-1.7 .5,.2 .5-1.6 .5-.5 .5-.7 .5,0 .5,1.3 .5,0 .5,.9 .5,3.7 .5,.6 .5,2.1 .5-.5 .5-.6 .5-1.6 .5-.7 .5-.4 .5,.3 .5,0 .5,.2 .5-1.1 .5,1 .5-.9 .5,.4" fill="none" stroke="#222" stroke-width="0.9" stroke-linejoin="round" />
<line x1="74" y1="317" x2="93.3" y2="317" stroke="#20b020" stroke-width="1.3" stroke-dasharray="5,2.5"/>
<text x="94" y="320.3" font-size="9.2" text-anchor="start" fill="#40b040" font-weight="normal" font-family='"Liberation Sans", sans-serif' >t<tspan dx="4.5">HT</tspan></text>
<line x1="74" y1="324" x2="93.3" y2="324" stroke="#30b8ff" stroke-width="1.3" stroke-dasharray="1.5,1.5"/>
<text x="94" y="327.3" font-size="9.2" text-anchor="start" fill="#30a8ff" font-weight="normal" font-family='"Liberation Sans", sans-serif' >t<tspan dx="4.5">vmax</tspan></text>
<line x1="74" y1="330.9" x2="93.3" y2="330.9" stroke="#ff2020" stroke-width="1.3" stroke-dasharray="5,2.5"/>
<text x="94" y="334.2" font-size="9.2" text-anchor="start" fill="#ff2020" font-weight="normal" font-family='"Liberation Sans", sans-serif' >t<tspan dx="4.5">cs</tspan></text>
<line x1="74" y1="338.2" x2="93.3" y2="338.2" stroke="#1010ff" stroke-width="1.3" stroke-dasharray="1.5,1.5"/>
<text x="94" y="341.5" font-size="9.2" text-anchor="start" fill="#1010ff" font-weight="normal" font-family='"Liberation Sans", sans-serif' >t<tspan dx="4.5">dvmax</tspan></text>
<line x1="74" y1="344.6" x2="93.3" y2="344.6" stroke="#222" stroke-width="1.0"/>
<text x="94" y="347.9" font-size="9.2" text-anchor="start" fill="#806830" font-weight="normal" font-family='"Liberation Sans", sans-serif' >|V<tspan font-size="7" dy="2">i</tspan><tspan dy="-2" font-size="1">&#8203;</tspan></text>
</g>
<line x1="115.5" y1="317.1" x2="115.5" y2="381.3" stroke="#00a000" stroke-width="1.3" stroke-dasharray="6,3"/>
<line x1="125.7" y1="317.1" x2="125.7" y2="381.3" stroke="#ff2020" stroke-width="1.2" stroke-dasharray="6,3"/>
<line x1="146.3" y1="317.1" x2="146.3" y2="381.3" stroke="#ff2020" stroke-width="1.2" stroke-dasharray="6,3"/>
<line x1="143.7" y1="317.1" x2="143.7" y2="381.3" stroke="#ff30ff" stroke-width="1.4" stroke-dasharray="1.5,3"/>
<line x1="274.2" y1="317.1" x2="274.2" y2="381.3" stroke="#ff30ff" stroke-width="1.4" stroke-dasharray="1.5,3"/>
<line x1="156.7" y1="317.1" x2="156.7" y2="381.3" stroke="#00a000" stroke-width="1.0" stroke-dasharray="2,4"/>
<line x1="156.7" y1="317.1" x2="156.7" y2="381.3" stroke="#0000e0" stroke-width="1.2" stroke-dasharray="2,1.5"/>
<clipPath id="cl5"><rect x="71.5" y="381.3" width="454" height="68.3"/></clipPath><g clip-path="url(#cl5)">
<line x1="71.5" y1="421.5" x2="525.5" y2="421.5" stroke="#111" stroke-width="1.5" stroke-dasharray="5.5,2.5"/>
<path d="M71.5,401l.5,.1 .5-.2 .5-.5 .5,.1 .5-.5 .5-.3 .5,.1 .5,.1 .5-.1 .5-.5 .5,.2 .5-.3 .5-.4 .5,.4 .5-.6 .5-.4 .5,.2 .5-.3 .5,.1 .5,.2 .5,.1 .5-.2 .5-.1 .5-.1 .5,.3 .5-.2 .5-.3 .5,.7 .5-.7 .5,.9 .5-.2 .5-.2 .5,.2 .5,.7 .5,.3 .5-.6 .5,.2 .5-.2 .5,1.1 .5-.6 .5-.4 .5,.1 .5-.1 .5,0 .5-.4 .5,.1 .5-.2 .5,.2 .5-.6 .5,.1 .5,.2 .5-.4 .5,0 .5,.5 .5,.2 .5-.3 .5-.1 .5-.3 .5-.5 .5-.3 .5,.4 .5,0 .5-.2 .5-.1 .5,.1 .5-.4 .5,.4 .5-.1 .5,.4 .5,.1 .5-.7 .5,.5 .5-.1 .5-.4 .5,.2 .5-.2 .5-.4 .5-.3 .5,.2 .5-.4 .5,.9 .5-.8 .5,.5 .5-.3 .5,0 .5,0 .5-.1 .5-.3 .5-.1 .5-.2 .5,.4 .5,.1 .5-.3 .5,.1 .5-.1 .5-.2 .5,.2 .5-.4 .5-.2 .5-.1 .5,.3 .5,0 .5-.6 .5,.2 .5,.2 .5-.2 .5-.2 .5,.2 .5,.4 .5,0 .5,.1 .5,.2 .5,.3 .5-.2 .5,.1 .5-1.2 .5-.9 .5-.5 .5-.6 .5,0 .5-.6 .5-.7 .5-.8 .5-.3 .5-.6 .5-.3 .5,.1 .5-1 .5-.6 .5-.1 .5,.3 .5-.7 .5,.5 .5,0 .5,.1 .5-.7 .5,1.2 .5,.7 .5,.3 .5,.5 .5,.8 .5,1.1 .5,.2 .5,1.8 .5-.7 .5-.4 .5-1.3 .5-.2 .5-.6 .5-.5 .5-1.2 .5-.8 .5,.2 .5-.8 .5,.6 .5,1.1 .5,.3 .5,.6 .5,1.5 .5,1.1 .5,.8 .5,.8 .5-.8 .5-.7 .5,.1 .5-1 .5-.8 .5-1.1 .5-1.8 .5-.2 .5,.3 .5-1.3 .5,.3 .5-.7 .5,.3 .5-.7 .5-.9 .5,0 .5-.9 .5,.1 .5-.4 .5,.6 .5,.7 .5,1.1 .5,.3 .5,1 .5,1.2 .5-.2 .5-.4 .5-.7 .5,0 .5-1 .5,0 .5-.5 .5-.2 .5-1 .5-.2 .5-.5 .5-.9 .5,.4 .5-.1 .5,.2 .5,.9 .5,.1 .5-.2 .5,.4 .5,.2 .5-.1 .5,.5 .5,0 .5,.3 .5-.1 .5-.3 .5-.6 .5-.7 .5-.4 .5-.3 .5,.1 .5,.1 .5-.7 .5-.4 .5,.7 .5-.2 .5,.5 .5-.5 .5,.2 .5,0 .5,.3 .5,.1 .5,.4 .5-.1 .5,.5 .5,.2 .5,0 .5-.1 .5-.3 .5-1.2 .5-.1 .5,1.1 .5,1.4 .5,.9 .5,.6 .5,.7 .5,.6 .5,1.1 .5,0 .5,.9 .5-.1 .5,.7 .5,0 .5-.6 .5-1 .5-.1 .5-.4 .5,.2 .5-1.2 .5-.1 .5-.5 .5,.2 .5-1 .5-.5 .5-.7 .5-.1 .5-.4 .5-.2 .5,.1 .5-.6 .5,.4 .5-.5 .5,.6 .5-.2 .5,.1 .5-.2 .5,.6 .5,.5 .5,.2 .5-.2 .5-.6 .5-.5 .5,0 .5-.4 .5,.6 .5,.9 .5,.8 .5-.2 .5,.9 .5,.3 .5,.1 .5,.4 .5,.1 .5,.5 .5-.6 .5,.3 .5,.1 .5-.2 .5,.4 .5-.2 .5,.4 .5-.3 .5,.6 .5,.6 .5,0 .5,.2 .5-.4 .5-.5 .5-.2 .5-.1 .5-.4 .5,.1 .5,.4 .5,0 .5,1.2 .5,.1 .5,.4 .5,.6 .5,.3 .5,1 .5-.3 .5-.2 .5,.4 .5,.3 .5,.8 .5,.1 .5-.1 .5,.1 .5,.6 .5-.3 .5,.8 .5-.3 .5,.5 .5,.1 .5,.2 .5,1 .5-.7 .5,.2 .5-.4 .5,0 .5,.1 .5-.1 .5-.3 .5-.4 .5-.8 .5-.4 .5,.2 .5,0 .5-.5 .5-.3 .5-.1 .5,.2 .5,.1 .5-.1 .5-.6 .5-1 .5,1 .5,.1 .5-.1 .5,.2 .5,.4 .5,.3 .5-.1 .5,.2 .5,.2 .5-.1 .5-.1 .5,.2 .5,.4 .5-.1 .5-.1 .5,.1 .5-.3 .5,.3 .5,.1 .5,.3 .5-.1 .5,0 .5-.2 .5,.1 .5-.2 .5,.1 .5-.2 .5,0 .5,0 .5-.9 .5,1 .5-.6 .5-.2 .5,.2 .5,0 .5-.1 .5-.1 .5-.9 .5-.5 .5-.7 .5-1.2 .5,0 .5-.4 .5-.4 .5-.5 .5,.8 .5,.7 .5,.8 .5,.6 .5-.6 .5-.2 .5,.1 .5,0 .5-.2 .5-.9 .5,.3 .5-.8 .5,.7 .5,.3 .5-.5 .5-.7 .5-.1 .5,0 .5-.1 .5-.4 .5-.5 .5-.3 .5-.2 .5-.4 .5-1 .5,.2 .5,.6 .5-.2 .5,.7 .5-.9 .5,.1 .5-.3 .5,.5 .5-.1 .5-.2 .5-.3 .5,.8 .5,.2 .5,.3 .5-.5 .5,.3 .5,.3 .5,.2 .5,1 .5-.5 .5,.6 .5-.2 .5,.3 .5,.6 .5,0 .5,.2 .5,0 .5,.2 .5-.3 .5-.2 .5,0 .5-.4 .5,.5 .5-.6 .5,.2 .5-.2 .5,.1 .5,.6 .5-.2 .5,.4 .5,.6 .5-.6 .5,.3 .5-.5 .5,0 .5,.1 .5-.3 .5-.4 .5,.3 .5,0 .5,0 .5,.4 .5-.1 .5-.3 .5,.2 .5,.6 .5-.5 .5-.2 .5-.3 .5,.6 .5-.4 .5,.2 .5,.4 .5-.2 .5,0 .5-.8 .5,.7 .5-.1 .5,.6 .5,.1 .5,.4 .5,.2 .5,0 .5,1 .5-.3 .5,.1 .5,.4 .5-.1 .5,.8 .5,.5 .5,.3 .5-.1 .5,.8 .5,.5 .5-.4 .5,.2 .5-.5 .5,.3 .5-.5 .5-.2 .5,.2 .5-.8 .5,.2 .5,0 .5-.4 .5,.4 .5-.7 .5,0 .5-.5 .5,0 .5-.8 .5,.1 .5,.2 .5-.3 .5-.3 .5-.2 .5-.1 .5-.4 .5,0 .5-.1 .5-.1 .5,.1 .5-.5 .5,.2 .5-.2 .5,0 .5,.2 .5,0 .5-.7 .5,.9 .5,0 .5-.5 .5-.1 .5-.4 .5-.3 .5-.7 .5,.5 .5-.5 .5,0 .5-.2 .5,0 .5-.5 .5,.6 .5-.3 .5,.2 .5-.1 .5,.3 .5,.4 .5,.7 .5,.3 .5,.4 .5,.1 .5,.4 .5,.6 .5-.2 .5-.4 .5-.7 .5-.3 .5-.2 .5-.6 .5-.3 .5,0 .5-.3 .5-.2 .5-.1 .5,.2 .5-.2 .5-.3 .5,.1 .5-.1 .5-.3 .5,.1 .5-.2 .5-.6 .5-.1 .5,0 .5,.4 .5-.8 .5,.1 .5,.3 .5,.2 .5-.6 .5,.5 .5-.1 .5-.5 .5,.6 .5-.1 .5,.1 .5-.1 .5-.2 .5,.7 .5,.4 .5-.1 .5,.2 .5-.4 .5,1.1 .5-.4 .5,.6 .5,.3 .5,0 .5-.2 .5,.6 .5,.1 .5,.1 .5-.7 .5,.2 .5,.1 .5,.5 .5-.1 .5,.5 .5-.5 .5,.2 .5,.1 .5-.3 .5,1.2 .5-.4 .5,.2 .5-.3 .5,.1 .5,0 .5,.1 .5,0 .5,.5 .5-.7 .5,.5 .5-.1 .5-.1 .5,.9 .5-.7 .5-.2 .5-.1 .5,0 .5,.4 .5-.4 .5-.6 .5,.5 .5-.5 .5,.3 .5,0 .5-.3 .5-.4 .5,.2 .5-.1 .5,.2 .5,.3 .5,.3 .5-.4 .5-.2 .5-.1 .5,.2 .5-.4 .5-.5 .5,1 .5-.5 .5-.8 .5,.2 .5,0 .5,.3 .5,.4 .5-.7 .5,.2 .5,0 .5,.7 .5,.2 .5-.3 .5,.1 .5,.2 .5,.3 .5-.5 .5,.4 .5-.1 .5-.5 .5-.2 .5,.5 .5-.7 .5,.2 .5-.1 .5-.6 .5,0 .5,0 .5,0 .5-.2 .5,.2 .5,.1 .5-.2 .5,.2 .5-.6 .5,.4 .5-.6 .5,1 .5-.1 .5-.9 .5,0 .5,.5 .5-.4 .5-.7 .5-.1 .5-.4 .5,.4 .5-.2 .5-.6 .5-.2 .5,0 .5,.4 .5-.5 .5,.2 .5-.8 .5,.5 .5,.3 .5,.5 .5,.1 .5,.3 .5-.6 .5,.9 .5-.1 .5-.8 .5,.4 .5-.6 .5,.4 .5-.3 .5,.6 .5-1.2 .5,.2 .5,.2 .5-.8 .5-.1 .5,.7 .5-.4 .5-.2 .5,.8 .5-.1 .5-.4 .5-.2 .5,0 .5,.3 .5,.5 .5,0 .5-.1 .5,.3 .5-.5 .5,.5 .5,.2 .5,.3 .5,.8 .5,.4 .5,.5 .5-.5 .5,.7 .5,.7 .5-.2 .5,.5 .5,.3 .5,.9 .5-.1 .5,.1 .5,.9 .5,.2 .5,.2 .5-.1 .5-.1 .5,.4 .5,0 .5-.1 .5-.2 .5,.6 .5,.5 .5-.3 .5,.2 .5,.1 .5-.5 .5,.3 .5-.4 .5,.4 .5,.1 .5-.3 .5,.6 .5-.6 .5,.2 .5,0 .5,.1 .5-.2 .5,.5 .5-.4 .5,.6 .5-.1 .5-.1 .5-.6 .5,.1 .5-.3 .5,.1 .5,0 .5,.1 .5,.1 .5,.2 .5-.1 .5,.3 .5-1 .5-.1 .5,.2 .5-.1 .5-.4 .5,.4 .5,.1 .5-.7 .5,.1 .5,.4 .5-.4 .5,.8 .5-.6 .5-.1 .5,.1 .5,.4 .5-.3 .5-.4 .5-.2 .5-.2 .5,0 .5,.3 .5,.3 .5,.2 .5-.1 .5-.2 .5-.1 .5,.9 .5-.1 .5,.3 .5-.4 .5,.1 .5-.1 .5,.4 .5-.2 .5,.2 .5-.4 .5,0 .5,.7 .5-.2 .5,.1 .5,.4 .5,0 .5,.2 .5,.6 .5-.1 .5,0 .5,.9 .5-.6 .5,0 .5,.3 .5,0 .5-.7 .5,.7 .5-.2 .5,.3 .5-.7 .5,0 .5-.3 .5,.4 .5-.4 .5,.1 .5,.6 .5-.5 .5,.1 .5-.3 .5-.5 .5-.2 .5-.4 .5-.3 .5-.7 .5-.4 .5-.4 .5-.7 .5,0 .5-.1 .5-.8 .5,.7 .5,.3 .5,.4 .5,.3 .5,1.2 .5,.4 .5,.4 .5-.4 .5-.2 .5-.5 .5,.1 .5-.4 .5,.2 .5,.1 .5-.8 .5-.4 .5,.2 .5,.1 .5-.4 .5-.2 .5-.6 .5,0" fill="none" stroke="#20f020" stroke-width="0.9" stroke-linejoin="round" />
<path d="M71.5,404.2l.5-.3 .5,.3 .5,0 .5,.2 .5,.1 .5-.4 .5,0 .5,0 .5,.1 .5-.5 .5,0 .5,.2 .5-.2 .5,0 .5,.5 .5-.4 .5,.2 .5-.7 .5,.2 .5,.2 .5-.3 .5,.3 .5,.2 .5,.3 .5-.1 .5-.3 .5-.5 .5,1.2 .5-.7 .5,.1 .5-.2 .5-.3 .5,0 .5,.3 .5,.5 .5,.3 .5-.3 .5,.2 .5-.2 .5-.3 .5,.1 .5,.4 .5,.1 .5-.2 .5-.8 .5,.9 .5,.3 .5,0 .5,.2 .5-.6 .5,.6 .5,0 .5-.4 .5-.1 .5,.3 .5-.3 .5-.1 .5-.2 .5,0 .5-.3 .5,.1 .5-.1 .5,.3 .5-.1 .5,.2 .5-.2 .5,.6 .5-.1 .5-.5 .5,.2 .5-.2 .5-.7 .5,.7 .5-.5 .5,.6 .5-.7 .5,.5 .5-.1 .5,.2 .5-.4 .5,.5 .5-.5 .5,.5 .5-.4 .5,0 .5,.3 .5-.2 .5-.3 .5-.1 .5-.2 .5,0 .5,.2 .5,.3 .5,.2 .5-.6 .5-.2 .5,0 .5,.8 .5-.5 .5,.6 .5-.5 .5,.3 .5,.1 .5,.1 .5-.2 .5,0 .5,.7 .5-.3 .5,.2 .5-.3 .5,.8 .5-.1 .5-.5 .5,.2 .5-.4 .5,.3 .5-.7 .5,.1 .5,.4 .5,0 .5,0 .5-.2 .5,0 .5,.2 .5,.3 .5-.5 .5,.1 .5-.1 .5-.5 .5,0 .5,.4 .5-.1 .5-.2 .5,.3 .5-.4 .5,.4 .5-.2 .5,0 .5-.5 .5,0 .5-.7 .5,0 .5-.1 .5-.4 .5-.4 .5,.6 .5-.1 .5-.2 .5,.3 .5,.4 .5-.2 .5,.1 .5,.2 .5,.5 .5-.5 .5,.5 .5,0 .5-.2 .5-.2 .5-.4 .5,.7 .5-.5 .5,.8 .5-.6 .5,.8 .5,.6 .5,.4 .5-.3 .5-1 .5,.1 .5-.5 .5,.6 .5-.1 .5,.8 .5,.7 .5-.6 .5,0 .5-.3 .5-.1 .5-.4 .5,.4 .5-.3 .5,.1 .5-.4 .5-.6 .5,0 .5,.3 .5-.3 .5,0 .5,.6 .5,.3 .5,.7 .5-.8 .5,.1 .5-.4 .5-.5 .5-.1 .5-.2 .5-.9 .5,.6 .5,0 .5,.1 .5-.9 .5,1.1 .5-.3 .5,.8 .5,.4 .5,1 .5,.7 .5,.6 .5-.1 .5,.9 .5,.8 .5,.2 .5-.1 .5,.4 .5,.5 .5,.4 .5-.2 .5,0 .5-.3 .5,.2 .5-.2 .5,.3 .5-.7 .5,.2 .5,.3 .5-.4 .5,.4 .5-.1 .5-.4 .5,0 .5-.5 .5-.4 .5-.6 .5,.1 .5,.2 .5-.2 .5-.7 .5-.1 .5-.5 .5-.1 .5-.4 .5-.5 .5-.7 .5-.8 .5-.8 .5,0 .5-.2 .5-.1 .5-.7 .5-.3 .5,.2 .5,.6 .5,0 .5,.6 .5,.2 .5,1 .5,.8 .5-.9 .5,1 .5,0 .5,0 .5,.9 .5-.6 .5,0 .5-.7 .5,0 .5-.9 .5-.3 .5-.1 .5-.1 .5-.2 .5-.3 .5-.4 .5,0 .5,.2 .5,.3 .5,.1 .5,.4 .5-.7 .5-.4 .5-.4 .5-.5 .5-.4 .5-.5 .5-.2 .5-.3 .5-.9 .5,.3 .5-.7 .5-.4 .5,.5 .5-.3 .5-.1 .5-.2 .5-.1 .5-.2 .5-.5 .5,.9 .5,.8 .5-.3 .5,1.2 .5,.3 .5,0 .5,1.2 .5-.2 .5-1 .5-.1 .5-.3 .5,.1 .5,0 .5,.6 .5-.1 .5,.1 .5,0 .5,.7 .5,.7 .5,.2 .5,.2 .5,.2 .5-.5 .5,.9 .5-.3 .5,.1 .5,.3 .5-.5 .5,.3 .5,.2 .5-.8 .5,0 .5,.8 .5,.3 .5-.4 .5-.1 .5-.7 .5,.5 .5-.2 .5-.2 .5,.2 .5,.4 .5,.6 .5-.9 .5,.8 .5,.6 .5-1 .5,.4 .5,.4 .5-.4 .5-.1 .5-.2 .5-.6 .5,.2 .5-.3 .5-.2 .5,.7 .5-.2 .5,.8 .5-.2 .5-.1 .5,.4 .5-.3 .5-.2 .5,1.3 .5,0 .5,.7 .5,0 .5,.2 .5-.1 .5,.8 .5,.7 .5-.1 .5,0 .5,.1 .5,.3 .5-.2 .5-.2 .5-.3 .5,0 .5,.6 .5-.7 .5,.2 .5,0 .5,.4 .5-1 .5-.7 .5,.3 .5-.2 .5-.1 .5-.5 .5,.1 .5-.2 .5,0 .5-.2 .5,.2 .5-.1 .5,.4 .5-.2 .5-.4 .5-1.8 .5-1 .5-2.3 .5-.9 .5-.4 .5,0 .5,0 .5-.3 .5-.1 .5,0 .5,.2 .5,.1 .5-.1 .5,.7 .5,.1 .5,.2 .5,.4 .5,.2 .5,0 .5,.5 .5,.5 .5,0 .5,.6 .5-.3 .5-.1 .5-.1 .5,.3 .5,.3 .5-.1 .5,.5 .5,0 .5,.6 .5,.3 .5,.6 .5,.8 .5,.4 .5,.7 .5,.5 .5-.1 .5,.3 .5-.1 .5,.1 .5-.6 .5,.2 .5,.2 .5,.3 .5-.3 .5,.5 .5-.2 .5,.2 .5,.1 .5,0 .5-.2 .5-.5 .5,.1 .5-.3 .5-1.1 .5,.3 .5,0 .5-1 .5,.7 .5-.9 .5-.2 .5-.2 .5-.1 .5-.3 .5,.1 .5,0 .5-.2 .5-1 .5,1.2 .5,.2 .5-.3 .5,.9 .5-.8 .5,.9 .5-.1 .5,0 .5,.4 .5,.1 .5-.1 .5,.3 .5,.3 .5-.7 .5-.1 .5-.5 .5,.3 .5,0 .5-.6 .5,.3 .5,.1 .5,.1 .5-.3 .5,0 .5,.8 .5-.6 .5-.3 .5,.6 .5-.3 .5-.2 .5,.3 .5-.4 .5,0 .5,.2 .5,.1 .5-.4 .5,0 .5,.2 .5,.1 .5,.2 .5,.2 .5-.2 .5-.5 .5,.4 .5-.4 .5,.5 .5,.3 .5-.1 .5-.5 .5,0 .5,.1 .5,.5 .5-.6 .5,.2 .5-.4 .5,0 .5,.3 .5,0 .5,.2 .5-.2 .5-.2 .5-.2 .5,.1 .5-.4 .5,.5 .5-.1 .5,.4 .5-.1 .5-.7 .5,.1 .5-.1 .5,1 .5-.9 .5-.2 .5,.7 .5,.5 .5-.2 .5,.3 .5,.2 .5-.2 .5,.1 .5,.4 .5,.2 .5-.5 .5-.4 .5,.2 .5-.8 .5,.3 .5-.8 .5-.2 .5,0 .5,.3 .5,.9 .5,.7 .5,.2 .5,1 .5,.1 .5,.7 .5,1 .5,.2 .5,.2 .5-.9 .5-.9 .5-1 .5-.3 .5-.4 .5-1.1 .5-.2 .5,.2 .5-.3 .5,.7 .5-.7 .5,.9 .5,.2 .5,.2 .5-.1 .5,.3 .5-.1 .5,1.2 .5-.2 .5-.1 .5-.3 .5,.1 .5,.2 .5-.1 .5,.3 .5,.2 .5-.3 .5,.4 .5-.3 .5,.3 .5-.4 .5,.1 .5,.3 .5-.2 .5,.7 .5-.2 .5,.4 .5-.3 .5-.1 .5,.1 .5,0 .5-.2 .5-.1 .5,.5 .5-.7 .5,.2 .5,.1 .5-.1 .5,0 .5-.2 .5-.4 .5,.1 .5,0 .5-.2 .5,0 .5-.5 .5,.1 .5-.1 .5,.1 .5-.5 .5-.3 .5,.1 .5-.7 .5,.4 .5-.3 .5-.6 .5-.1 .5-.4 .5,.3 .5-.5 .5-.1 .5-.4 .5,.1 .5,.2 .5-.5 .5,.1 .5-.4 .5,0 .5-.1 .5-.9 .5-.2 .5,.4 .5,.6 .5-1 .5,.9 .5-1 .5,.5 .5,0 .5-.5 .5-.4 .5,.5 .5-.4 .5,.4 .5,.1 .5-.2 .5-.5 .5,.4 .5,.4 .5-.6 .5,.5 .5-.5 .5-.2 .5,.4 .5-.4 .5,.3 .5,.2 .5-.5 .5,.6 .5,0 .5,.1 .5,.1 .5,.3 .5-.4 .5,.2 .5-.1 .5,.4 .5,.3 .5,.1 .5-.1 .5,.5 .5,.7 .5,.1 .5,1.1 .5-.2 .5-.2 .5,.2 .5,0 .5,.4 .5-.3 .5,0 .5-.4 .5-.1 .5-.4 .5-.3 .5,.2 .5-.6 .5-.1 .5,0 .5,.2 .5,.3 .5,.1 .5-.4 .5,.5 .5,.2 .5-.3 .5,.3 .5,.3 .5,.5 .5,.2 .5,.8 .5,.9 .5-1.1 .5-1 .5-1.8 .5-.6 .5-1.2 .5,.6 .5-.6 .5,.1 .5-.7 .5,0 .5,.1 .5-.3 .5-.7 .5,.2 .5-.1 .5-.2 .5-.3 .5,.9 .5-.4 .5,.2 .5-.1 .5,0 .5-.1 .5,.4 .5,.4 .5,.4 .5,.4 .5,.3 .5,0 .5,.7 .5,.6 .5,.1 .5,1 .5-.1 .5,.4 .5,.6 .5,.1 .5,.8 .5-.1 .5,1.1 .5-.3 .5,.5 .5-.3 .5,.6 .5,.1 .5-.3 .5-.2 .5,.2 .5-.5 .5,.1 .5-.3 .5,.3 .5-.5 .5,.4 .5-.7 .5,0 .5,0 .5-.3 .5-.5 .5,0 .5-.1 .5,.5 .5-.3 .5-.6 .5,.7 .5,.2 .5-.6 .5-.2 .5-.2 .5,.2 .5,.5 .5-.1 .5-.7 .5,.3 .5-.6 .5-.1 .5,0 .5,.3 .5-.4 .5,.3 .5-.4 .5,.1 .5-.3 .5,.5 .5-.6 .5,.5 .5-.2 .5,.3 .5-.6 .5,.5 .5-.3 .5-.5 .5,1.1 .5,.1 .5-.1 .5-.1 .5,.2 .5,.4 .5-.5 .5,.2 .5,.4 .5,0 .5,.5 .5-.1 .5-1 .5,.6 .5-.3 .5,.3 .5-.4 .5,.7 .5-.1 .5-.5 .5,.4 .5,.4 .5,.7 .5,.1 .5,.3 .5,1.1 .5-.8 .5,.3 .5-.3 .5,.8 .5,.4 .5,.4 .5,.5 .5,.3 .5,.4 .5,0 .5,.2 .5,.1 .5-.2 .5,.5 .5-1.1 .5,.5 .5-.1 .5-.3 .5-.2 .5,0 .5,.1 .5-.8 .5-.3 .5,0 .5,0 .5-.8 .5-.4 .5,.7 .5-.5 .5-.3 .5-.3 .5-.3 .5-.2 .5,.3 .5-.3 .5,0 .5-.6 .5,.3 .5,0 .5-.8 .5,.1 .5,.5 .5,.1 .5-.2 .5-.2 .5,.2 .5-.1 .5-.7 .5-1.5 .5,.4 .5-.6 .5-.3 .5,1.7 .5,.4 .5,1.3 .5,.5 .5,.7 .5,.3 .5,0 .5,.7 .5-.2 .5,.8 .5,.1 .5,.2 .5,.4 .5,.3 .5,.3 .5-.7 .5,1.4" fill="none" stroke="#ff2828" stroke-width="0.9" stroke-linejoin="round" />
<path d="M71.5,425.1l.5,.1 .5-.2 .5-.5 .5,.1 .5,.8 .5-1.2 .5-.3 .5,0 .5-.3 .5-.6 .5,.1 .5-.4 .5,.3 .5-.3 .5,.3 .5-.2 .5,.4 .5,.3 .5,0 .5,.2 .5-.5 .5,.8 .5,0 .5,.3 .5,.5 .5-.1 .5-.8 .5,.2 .5,.1 .5,.3 .5-.5 .5,.4 .5,.3 .5,.1 .5-.1 .5,.4 .5-.8 .5,.7 .5-.6 .5,.8 .5-.4 .5,.3 .5-.1 .5-.7 .5,.3 .5-.4 .5-.5 .5,.5 .5,0 .5-.3 .5,.5 .5-.3 .5-.1 .5,.2 .5-.3 .5-.4 .5,.9 .5-.1 .5-.1 .5-.2 .5,.3 .5,.1 .5,.3 .5,0 .5-.4 .5-.2 .5,.3 .5,.1 .5-.2 .5,.7 .5,.1 .5,0 .5-.5 .5,.4 .5,.3 .5,0 .5-.4 .5,.2 .5-.5 .5,.6 .5-.4 .5,0 .5,.4 .5-.3 .5,.1 .5,.2 .5-.1 .5-.2 .5,.5 .5-.2 .5,.3 .5-.3 .5,.5 .5-.2 .5,.2 .5-.5 .5,.3 .5,0 .5,.1 .5,.2 .5,.1 .5,.2 .5,0 .5,.4 .5-.3 .5,.6 .5,.2 .5-.3 .5,.2 .5-.3 .5,.5 .5,.5 .5,.4 .5,0 .5,.2 .5,.7 .5,0 .5,.5 .5-.2 .5,0 .5-.2 .5-.1 .5-.1 .5-.3 .5-.8 .5-.5 .5,0 .5-.5 .5-.4 .5,.3 .5-.5 .5,.7 .5,.6 .5,0 .5,.6 .5-.1 .5,.1 .5-.4 .5-.5 .5-.6 .5-.5 .5,0 .5-.7 .5-.5 .5,.6 .5,.8 .5,.8 .5,.5 .5,.5 .5,0 .5,.3 .5,.3 .5-.1 .5,.6 .5,.4 .5,.4 .5-.3 .5,0 .5,.5 .5,.1 .5-.1 .5,.2 .5,1.1 .5-.1 .5-.5 .5,.4 .5,.4 .5,.1 .5,.2 .5,.5 .5,.1 .5,.4 .5,.6 .5,.4 .5,.5 .5,.3 .5,.4 .5,.2 .5,.7 .5-.1 .5,.7 .5,.8 .5,.1 .5-1 .5,.5 .5-.1 .5,0 .5-.3 .5-.5 .5-.4 .5-.1 .5-.3 .5-.7 .5-.2 .5-.3 .5-.6 .5-.2 .5,0 .5,.4 .5-.9 .5-.2 .5-.8 .5-.1 .5-.2 .5-.1 .5-.1 .5,.1 .5,.7 .5,.3 .5-.3 .5-.1 .5,.9 .5,.3 .5,.1 .5-.5 .5,.7 .5,.2 .5,.4 .5-.5 .5,.4 .5,.2 .5-.4 .5-.2 .5-.1 .5,.2 .5,.2 .5-.1 .5-.7 .5-.5 .5,.4 .5,.3 .5-.4 .5-.8 .5,1.2 .5-.4 .5,.2 .5-.7 .5,.4 .5-.3 .5,.3 .5-.3 .5,.1 .5-.2 .5,.8 .5,0 .5-.1 .5,.7 .5-.5 .5-.1 .5-.9 .5-.4 .5-.7 .5-.7 .5-.5 .5-.8 .5,0 .5,.6 .5-1.1 .5,.2 .5-.1 .5,.3 .5-.5 .5,.1 .5,.2 .5-.2 .5,.2 .5,.6 .5,.9 .5,.9 .5,.5 .5,.4 .5,1.1 .5-.1 .5,.1 .5,1.3 .5,0 .5,.2 .5,0 .5,1 .5,.1 .5,.4 .5,.3 .5-.2 .5,.2 .5,1.1 .5-.3 .5-.1 .5,.7 .5-.1 .5,.3 .5,.4 .5-.3 .5-.9 .5-.4 .5-.7 .5-.8 .5-.5 .5-.5 .5-.6 .5,.6 .5,0 .5,.5 .5,1.3 .5,.5 .5,.3 .5,.4 .5,.2 .5-.7 .5-.3 .5-.7 .5-.4 .5,0 .5-.1 .5-1.2 .5,0 .5,.3 .5-.5 .5-.8 .5-.3 .5-.4 .5-.7 .5,0 .5-.4 .5-.3 .5,0 .5-.5 .5-.3 .5-.7 .5,.1 .5,.1 .5-.3 .5-.3 .5-.1 .5,.3 .5,.1 .5-.3 .5,.3 .5,.3 .5-.1 .5,.4 .5,0 .5,.6 .5,.2 .5,0 .5-.2 .5,.9 .5-.3 .5,0 .5,.2 .5,.1 .5,.1 .5-.1 .5,0 .5,.1 .5,.5 .5-.1 .5-.9 .5,.1 .5-.2 .5-.1 .5,.5 .5-.8 .5-.4 .5,.3 .5-.3 .5-.3 .5,.6 .5-1 .5,0 .5-.5 .5,0 .5,.5 .5-.8 .5,.2 .5-.3 .5,.3 .5-.6 .5,.1 .5,.2 .5-.5 .5,0 .5-.4 .5,.3 .5,.2 .5-.6 .5,0 .5,0 .5,.4 .5,.1 .5-1 .5-.2 .5,.3 .5-.5 .5-.3 .5-.1 .5,.1 .5-.3 .5,.1 .5,.8 .5,1.5 .5,1.4 .5,.1 .5,.2 .5,.2 .5,.2 .5,.2 .5,.7 .5-.1 .5,.2 .5,.5 .5-.1 .5-.3 .5,.2 .5,1.1 .5-.5 .5,.3 .5-.2 .5-.1 .5-.2 .5,0 .5-.4 .5-.3 .5-.5 .5,.2 .5-.5 .5-.1 .5-.4 .5,.2 .5-.6 .5-.3 .5-.2 .5,0 .5,.7 .5,1 .5-.2 .5,.6 .5,.7 .5,.1 .5,.1 .5,.1 .5-.5 .5,.4 .5,.6 .5,.1 .5-.5 .5,.2 .5,.3 .5,.4 .5,.4 .5-.4 .5-1 .5,.2 .5-.7 .5-.9 .5-.4 .5,0 .5-.4 .5-1.1 .5,0 .5,0 .5-.4 .5,0 .5-.2 .5-.6 .5,.4 .5,0 .5-.3 .5,.1 .5-.7 .5,.8 .5-.3 .5,.4 .5,0 .5,.3 .5,.6 .5,.1 .5,.5 .5-.2 .5,.7 .5,.5 .5-.1 .5,.4 .5-.2 .5-.4 .5,.7 .5-.1 .5-.2 .5-.1 .5-.7 .5,.2 .5-.2 .5,.2 .5-.5 .5,.2 .5-.2 .5-.1 .5-.3 .5,.4 .5-.1 .5-.3 .5,0 .5-.2 .5-.6 .5,0 .5-.1 .5,0 .5-.1 .5,.1 .5,0 .5-.5 .5-.4 .5,.2 .5,.1 .5,.6 .5-.1 .5,.4 .5-.5 .5,.8 .5-.7 .5,.5 .5,.2 .5-.8 .5,.4 .5-.3 .5-.4 .5,.7 .5,.2 .5,.6 .5-.9 .5,1.1 .5-.6 .5,.2 .5-.2 .5-.2 .5,.2 .5-1.1 .5,.2 .5-.1 .5,.4 .5,.2 .5,.3 .5,1 .5-.1 .5,0 .5,.8 .5-.4 .5,.3 .5,.1 .5,1.3 .5,.3 .5-.3 .5,.2 .5,.8 .5,0 .5,.5 .5-.4 .5-.4 .5,0 .5-.1 .5-.6 .5-.6 .5,.1 .5-.2 .5,.1 .5-1.3 .5,.9 .5,0 .5,.7 .5,.2 .5,.6 .5,.5 .5,.6 .5,.5 .5-.3 .5,.2 .5,.2 .5-.7 .5,.7 .5-.2 .5-.1 .5-.7 .5,.8 .5-1 .5,.4 .5-.1 .5,.1 .5-.2 .5,.2 .5,.2 .5-.3 .5,.2 .5-.1 .5,.1 .5-.5 .5-.1 .5,.3 .5,.2 .5-.7 .5,.3 .5,.2 .5-.1 .5,.2 .5,0 .5-.4 .5-.5 .5,.4 .5-.4 .5-.1 .5,.2 .5,0 .5-.4 .5,.2 .5,.7 .5-.4 .5-.5 .5,.3 .5,.4 .5-.4 .5,.5 .5-.5 .5,.1 .5,.5 .5-.2 .5,.2 .5,0 .5,.3 .5,.3 .5,.2 .5-.1 .5-.1 .5,.7 .5-.5 .5,0 .5,.3 .5,.2 .5-.2 .5,.2 .5,.5 .5-.1 .5-.6 .5,.1 .5,.4 .5,.2 .5-.1 .5,.5 .5,.1 .5,.1 .5,.3 .5-.1 .5-.2 .5-.7 .5,.5 .5-.1 .5-.1 .5,.3 .5,.4 .5-.4 .5-.3 .5,.4 .5,.1 .5-.5 .5,.3 .5,.2 .5,.1 .5-.1 .5-.1 .5-.2 .5,.4 .5,.1 .5-.4 .5,.6 .5,.1 .5-.3 .5,.3 .5,.8 .5-.4 .5,.4 .5,1.1 .5,.2 .5-.2 .5,0 .5,.2 .5,0 .5,.5 .5-.1 .5,.2 .5-1 .5-.1 .5,.2 .5-.3 .5-.1 .5-.4 .5-.4 .5,.2 .5,.4 .5,.2 .5,1.1 .5-.2 .5,.3 .5,.1 .5-.5 .5-.4 .5-.6 .5-.6 .5,.1 .5-.5 .5,.2 .5,.8 .5,.2 .5,1.2 .5,.3 .5,.4 .5-.8 .5,0 .5-.3 .5-.4 .5,.9 .5,1.4 .5,.8 .5,1.9 .5,.9 .5,1 .5,1.2 .5,.4 .5,.3 .5-.2 .5,0 .5-.9 .5-.5 .5-.6 .5,.1 .5-.7 .5-.3 .5-.1 .5-1 .5,.3 .5-.1 .5-.4 .5-.5 .5,.5 .5-.4 .5,.1 .5-.3 .5-.7 .5,.2 .5,.2 .5-.2 .5-.3 .5-.2 .5-.5 .5,.1 .5-.3 .5-.1 .5-.2 .5-.4 .5-.1 .5-.5 .5-.3 .5,.4 .5-.1 .5,.1 .5-.7 .5,.3 .5-.3 .5,.5 .5-.5 .5-.4 .5,.2 .5,.3 .5-.7 .5,0 .5-.4 .5,.4 .5,0 .5-.2 .5,.2 .5-.3 .5-.3 .5,.5 .5-.6 .5,.4 .5,0 .5-.1 .5,0 .5,.3 .5-.4 .5-.3 .5,0 .5-.3 .5,.1 .5-.4 .5,.3 .5-.2 .5,0 .5-.4 .5-.2 .5-.4 .5,.2 .5,.3 .5-.7 .5,1.1 .5-.3 .5,0 .5,.3 .5-.6 .5,.7 .5-.5 .5,.5 .5-.7 .5-.3 .5,.1 .5-.3 .5,.3 .5-.1 .5-.2 .5-.2 .5,.3 .5-.4 .5-.4 .5-.1 .5,.3 .5-.8 .5,.3 .5,.3 .5-.7 .5,.5 .5-.7 .5,0 .5,.5 .5-.9 .5,.1 .5,.4 .5,.3 .5,.1 .5,.1 .5-.3 .5,.1 .5-.6 .5,0 .5-.1 .5,0 .5-1 .5,.7 .5-.2 .5-.2 .5,.2 .5-.2 .5,.6 .5-.4 .5-.1 .5,.1 .5,.1 .5,.6 .5-.2 .5-.1 .5,.3 .5,.1 .5,.2 .5-.7 .5,.4 .5-.9 .5-.3 .5-.2 .5-.5 .5,.1 .5-.2 .5-.4 .5-.2 .5-.3 .5-.4 .5-.1 .5,.3 .5-.1 .5,0 .5-.8 .5,0 .5-.1 .5-.1 .5-.2 .5,.3 .5,.7 .5-.3 .5,.5 .5,.7 .5,.8 .5-.6 .5,.5 .5-.5 .5-.4 .5-.1 .5-.3 .5,.1 .5-.1 .5,.7 .5,.7 .5-.4 .5,1.2 .5,.2 .5-.2 .5,1 .5-.1 .5,.5 .5-.4 .5,.3 .5,.6 .5,.4 .5,.1 .5,.1" fill="none" stroke="#2828ff" stroke-width="0.9" stroke-linejoin="round" />
<line x1="77.3" y1="389.3" x2="94.8" y2="389.3" stroke="#2828ff" stroke-width="1.0"/>
<text x="96" y="392.8" font-size="10.2" text-anchor="start" fill="#2828ff" font-weight="normal" font-family='"Liberation Sans", sans-serif' >V<tspan font-size="8" dy="3.5">L</tspan><tspan dy="-3.5" font-size="1">&#8203;</tspan></text>
<line x1="77.3" y1="404.2" x2="94.8" y2="404.2" stroke="#80ff80" stroke-width="1.6"/>
<text x="96.8" y="407.7" font-size="10.2" text-anchor="start" fill="#20f020" font-weight="normal" font-family='"Liberation Sans", sans-serif' >V<tspan font-size="8" dy="3.5">M</tspan><tspan dy="-3.5" font-size="1">&#8203;</tspan></text>
<line x1="77.3" y1="418.8" x2="94.8" y2="418.8" stroke="#ff8080" stroke-width="1.6"/>
<text x="96.8" y="422.3" font-size="10.2" text-anchor="start" fill="#ff2828" font-weight="normal" font-family='"Liberation Sans", sans-serif' >V<tspan font-size="8" dy="3.5">N</tspan><tspan dy="-3.5" font-size="1">&#8203;</tspan></text>
</g>
<line x1="115.5" y1="385.3" x2="115.5" y2="449.6" stroke="#00a000" stroke-width="1.3" stroke-dasharray="6,3"/>
<line x1="125.7" y1="385.3" x2="125.7" y2="449.6" stroke="#ff2020" stroke-width="1.2" stroke-dasharray="6,3"/>
<line x1="146.3" y1="385.3" x2="146.3" y2="449.6" stroke="#ff2020" stroke-width="1.2" stroke-dasharray="6,3"/>
<line x1="143.7" y1="385.3" x2="143.7" y2="449.6" stroke="#ff30ff" stroke-width="1.4" stroke-dasharray="1.5,3"/>
<line x1="274.2" y1="385.3" x2="274.2" y2="449.6" stroke="#ff30ff" stroke-width="1.4" stroke-dasharray="1.5,3"/>
<line x1="156.7" y1="385.3" x2="156.7" y2="449.6" stroke="#00a000" stroke-width="1.0" stroke-dasharray="2,4"/>
<line x1="156.7" y1="385.3" x2="156.7" y2="449.6" stroke="#0000e0" stroke-width="1.2" stroke-dasharray="2,1.5"/>
<clipPath id="cl6"><rect x="71.5" y="449.6" width="454" height="68.3"/></clipPath><g clip-path="url(#cl6)">
<path d="M71.5,473.1l.5-.5 .5,.6 .5-1.4 .5-.4 .5,.3 .5-1.3 .5-.6 .5-.1 .5-1.1 .5,1.6 .5-.8 .5-2.4 .5,.3 .5-.3 .5,.4 .5,.2 .5-.1 .5-1.3 .5,1.1 .5-.5 .5,.2 .5-1.4 .5-.7 .5-.3 .5-.5 .5-1.4 .5-.2 .5,.2 .5,.3 .5-.9 .5-1.1 .5,1.1 .5,.4 .5-1.2 .5,2.1 .5-.8 .5,1.7 .5-1.3 .5,.3 .5,.5 .5,0 .5-.2 .5,.5 .5-.2 .5,.3 .5-.2 .5,.5 .5-.7 .5-.9 .5,.1 .5,1.1 .5,.8 .5,.3 .5-.6 .5-1 .5,1.2 .5-.2 .5-1.2 .5,.3 .5,.4 .5,1.4 .5-1.5 .5,1.1 .5,.7 .5-.7 .5,.3 .5,.8 .5-1.2 .5,1.3 .5-.3 .5-.5 .5-1 .5,1.1 .5-1.2 .5-1.1 .5,1.1 .5,.7 .5-.1 .5-1.3 .5-.2 .5-.1 .5,.2 .5-1.1 .5-.7 .5,.7 .5-.1 .5-.4 .5,.5 .5-.5 .5,.2 .5,.5 .5,.5 .5-1 .5,.5 .5,.3 .5-.5 .5,1.4 .5-.9 .5-.2 .5,.4 .5-.3 .5,.1 .5-.7 .5,1.7 .5-.6 .5-.3 .5,.3 .5,.7 .5-.1 .5,1.5 .5,1.7 .5-.8 .5,1.2 .5,1 .5,.7 .5,.1 .5-1.4 .5,.8 .5,.7 .5-1.7 .5-2 .5-.3 .5,1.1 .5,2.5 .5,3 .5-.6 .5,4 .5,.5 .5,2.5 .5,3 .5,2.9 .5,4.2 .5,2.6 .5,3.5 .5,0 .5,.4 .5,.7 .5,1.4 .5,1.3 .5-.4 .5-2.1 .5-1.7 .5,.8 .5-1.9 .5,2.7 .5,4.5 .5,5.5 .5,.5 .5-1.3 .5-1.4 .5-1.8 .5-.4 .5-.7 .5,.4 .5-.3 .5,.1 .5-.3 .5,1.4 .5,.6 .5,1.6 .5,3.2 .5,.5 .5,1 .5,3.3 .5-.1 .5,.4 .5,2.3 .5-.3 .5,1 .5,.1 .5-1.3 .5-3.4 .5-2.9 .5-2.1 .5,.7 .5,1 .5,.3 .5,1.4 .5,.3 .5,0 .5,.2 .5,.6 .5-.5 .5-.9 .5,.5 .5-1.2 .5,1.4 .5-1.2 .5,.3 .5-.4 .5-.5 .5,1.6 .5,.1 .5-.8 .5-3.5 .5-3.8 .5-1.4 .5,5.5 .5,3.3 .5,3.1 .5-1.6 .5-2.6 .5-2.4 .5-2.3 .5-1.2 .5-.5 .5-1.2 .5,.3 .5-1.2 .5-.1 .5,0 .5-1.3 .5,2.2 .5,.4 .5,1.5 .5,.8 .5,.5 .5,.6 .5,.4 .5,.4 .5,.9 .5,1 .5,0 .5,.3 .5,.6 .5,.9 .5,1.7 .5-1.4 .5-1.8 .5-1.7 .5-1 .5-1.9 .5-2.1 .5,.7 .5-2.3 .5,0 .5,.4 .5-1.5 .5-1.2 .5-1.5 .5-1 .5-.8 .5-1.5 .5-1.4 .5-1.2 .5-1.3 .5-1.9 .5-1.4 .5-.6 .5-2.1 .5-.9 .5-1.2 .5-1.5 .5-.3 .5-1.2 .5-.4 .5-1.1 .5,.5 .5,.1 .5,1.9 .5,.3 .5,1.7 .5,.2 .5-.2 .5,1.2 .5,2.3 .5,.9 .5,2 .5,1.4 .5,1.3 .5,1.6 .5,4.8 .5,3.8 .5,.9 .5-.4 .5-1 .5,0 .5-.3 .5-1.9 .5,1.2 .5-1.7 .5-1 .5-2.2 .5-.4 .5-.6 .5-1 .5-.7 .5,.2 .5,.4 .5,.2 .5,.4 .5-1.4 .5-.5 .5,.4 .5-1.1 .5,.2 .5,.4 .5-1.3 .5,.9 .5-1.1 .5-.6 .5-1 .5,.1 .5-2 .5,1.9 .5,1.7 .5,3 .5,2.7 .5,1.9 .5,1.2 .5-1.4 .5-2.7 .5,.2 .5-.9 .5-2.6 .5-.4 .5-2.1 .5-1.2 .5-.7 .5-1.7 .5-1.7 .5-.8 .5-2.4 .5-.3 .5-1.5 .5,.6 .5-.9 .5-1.4 .5-.9 .5-.2 .5-1.5 .5-.4 .5-.1 .5-1.2 .5-.1 .5-1.2 .5-.5 .5-.7 .5,3.1 .5,4.6 .5,1.6 .5,3.7 .5,1.1 .5-2.4 .5-.9 .5-2.2 .5-.1 .5-.9 .5,1.2 .5,2 .5,.5 .5,.7 .5,.9 .5,1.4 .5,.5 .5-.7 .5-2.6 .5-.5 .5-1.1 .5-1.7 .5-.6 .5-.4 .5,.1 .5-.3 .5,1.8 .5-1 .5-.3 .5,2.2 .5,.2 .5,.7 .5,1.4 .5,.2 .5,.1 .5-.3 .5,1.3 .5-.1 .5-.9 .5-.2 .5-1.1 .5-1.5 .5-.3 .5-.4 .5-.3 .5-1.1 .5-.1 .5-.5 .5-.4 .5-1.6 .5-1.3 .5,1.6 .5,1.8 .5-.6 .5,1.9 .5,2.1 .5,.1 .5-1.8 .5,4.6 .5,4.1 .5,3.2 .5,2.2 .5,3.5 .5,4.6 .5-4.1 .5-3.3 .5-3.6 .5-2.2 .5-2.7 .5-2.1 .5,1.1 .5,1.7 .5,1.5 .5,.9 .5,2.4 .5,1.6 .5,1 .5-1.4 .5-1.5 .5-1.4 .5-.1 .5,.1 .5-1.8 .5-.7 .5-.1 .5-.6 .5-.8 .5-1.6 .5,.1 .5,.6 .5-1 .5-.9 .5,1.3 .5-1 .5,.6 .5-.7 .5,.3 .5,2.4 .5,.5 .5,.4 .5,1 .5,2 .5-.3 .5,1.8 .5,1.4 .5,.2 .5,1.5 .5,1.3 .5,1 .5-.3 .5-2.6 .5-1.5 .5-.4 .5-1.5 .5-1.2 .5-2.7 .5-.1 .5-2.2 .5-.2 .5-1.1 .5,1.5 .5,.3 .5-1.5 .5,.1 .5,.1 .5-1.1 .5,.4 .5-1.1 .5-.6 .5,.6 .5-1.3 .5,.9 .5-.4 .5,1.3 .5,.9 .5,.4 .5-.2 .5-.5 .5,3.4 .5-.3 .5,.6 .5-.7 .5,1.9 .5-.5 .5,.2 .5-.5 .5-.8 .5-1.2 .5,0 .5,.3 .5-1.6 .5,.3 .5-.7 .5,.7 .5-.3 .5-2.1 .5,.3 .5,0 .5-.3 .5,.2 .5-.6 .5,1.4 .5-1.5 .5-1.5 .5-.4 .5-.1 .5-2.7 .5,.8 .5-.8 .5-.9 .5,1.3 .5-.6 .5,0 .5,1.4 .5,.5 .5-.5 .5-1.4 .5,.2 .5,.2 .5-.5 .5-.8 .5-.1 .5-1.1 .5,.9 .5-.3 .5,1.1 .5,.2 .5-.9 .5,.1 .5-1.3 .5,1.9 .5-.5 .5,.7 .5-.3 .5-.2 .5-.2 .5-.6 .5-.7 .5,1 .5,.4 .5-.7 .5,.2 .5-.9 .5,2.3 .5-.7 .5-.5 .5,.6 .5,.5 .5,.9 .5,.8 .5,.1 .5,3.6 .5,.9 .5,1.2 .5,1.2 .5,1.2 .5,1.8 .5-.7 .5-.4 .5,1.6 .5,2 .5-.9 .5-.5 .5-.8 .5,0 .5,.3 .5-1.8 .5-.8 .5,.8 .5,2.8 .5,1.2 .5,3.9 .5,4.4 .5,1.4 .5-1.4 .5-4.2 .5-1.8 .5-2.5 .5-1 .5-4.3 .5-.7 .5-1.1 .5-1 .5-2 .5-.5 .5-2.7 .5,.2 .5-.4 .5-1.2 .5,.6 .5-.4 .5,.6 .5-.4 .5,.4 .5,.4 .5-1.8 .5-.1 .5-.6 .5-.5 .5,.7 .5,1.1 .5-2.1 .5,.3 .5,1.3 .5,0 .5-.5 .5-.5 .5,0 .5,1.7 .5-.9 .5,.6 .5,1.1 .5-1.4 .5,.6 .5-.4 .5,.6 .5,.1 .5-.8 .5,.9 .5-1.1 .5,1.1 .5-2.2 .5-.1 .5,.3 .5-.7 .5-1.5 .5-.9 .5-.7 .5-1.4 .5-.3 .5,.3 .5,1 .5-1.3 .5,.4 .5-.2 .5-.2 .5,.8 .5-.5 .5,.1 .5,.3 .5-.8 .5,.6 .5-.2 .5,1.5 .5-1.6 .5,.1 .5-.4 .5-1.1 .5,1.3 .5,.1 .5,.2 .5-1.1 .5-.2 .5-.4 .5,.2 .5,1.1 .5-.8 .5,1.6 .5-.5 .5-.9 .5-.5 .5,.7 .5-1.5 .5,.7 .5,.5 .5-.1 .5,1.5 .5,.2 .5-.9 .5,2 .5-.3 .5,1.3 .5,3.1 .5,.9 .5,3.4 .5,1.3 .5,0 .5,.6 .5,.4 .5,.3 .5-1 .5,1.3 .5,1 .5,0 .5,.7 .5,.4 .5,1 .5,0 .5,1.2 .5-1.1 .5,.9 .5-1.2 .5-.7 .5-1.7 .5,.3 .5,.2 .5-1.1 .5-1.4 .5,.6 .5-.4 .5,1.1 .5,.9 .5,1.2 .5-.3 .5,2 .5-.7 .5-1.5 .5,.2 .5-1.7 .5,.8 .5-1.6 .5-2.4 .5-.5 .5-2.6 .5-1 .5-.5 .5-1.2 .5-.3 .5,2.3 .5,3.1 .5,1.9 .5,1.1 .5,1.5 .5,1.2 .5,2.4 .5,1.4 .5,1.6 .5-1.7 .5-2.1 .5-1.1 .5-2 .5-1.4 .5-2.4 .5,.4 .5-3.2 .5,.3 .5-.5 .5-.6 .5-.5 .5-.8 .5-.6 .5,.3 .5-.5 .5-1.6 .5,.7 .5,1.5 .5-.9 .5-.7 .5,.7 .5-.7 .5,0 .5-.1 .5,.6 .5-1.9 .5,1.2 .5,.1 .5,.5 .5-.2 .5-1 .5,.5 .5,1.4 .5-1.8 .5-1.1 .5-.3 .5-.1 .5,.1 .5,.4 .5-.8 .5-.8 .5,0 .5,.6 .5,.1 .5,1.2 .5,.5 .5,.5 .5-.1 .5,1.9 .5-.9 .5-.2 .5,.7 .5,.1 .5-.5 .5,1 .5,.1 .5,.1 .5,.9 .5-1.5 .5,.2 .5-.9 .5,1 .5,0 .5-.8 .5-.5 .5,.9 .5,.4 .5-.8 .5,.3 .5-1.5 .5,0 .5,2.1 .5-2.9 .5,.5 .5-.7 .5,.8 .5-1.1 .5,.4 .5-.8 .5-.4 .5,.4 .5-1 .5-.3 .5-.1 .5,.5 .5-.2 .5,.4 .5-2.2 .5,.4 .5,.3 .5-.1 .5,.4 .5,1.6 .5,.7 .5,1 .5,1.1 .5-1.1 .5,1.4 .5,.8 .5,.1 .5-.7 .5,2 .5-.5 .5,.6 .5,.8 .5-.1 .5,2.3 .5-.6 .5,.2 .5-.3 .5-.3 .5-.4 .5-1.1 .5,.3 .5-.2 .5,1.2 .5,1 .5,1.1 .5,.5 .5,.2 .5,.4 .5,1.5 .5,1.1 .5-.6 .5,.4 .5-.4 .5-1.3 .5,.4 .5,.3 .5-.5 .5,.1 .5-1 .5-.8 .5-1.2 .5,.1 .5-1 .5-.6 .5,.3 .5-1.5 .5,.8 .5-.1 .5-.1 .5-.3 .5,.4 .5,.7 .5-.6 .5-.1 .5,1.6 .5-.1 .5,1.1 .5-2.3 .5,1.5 .5-.8 .5,.1 .5-.8 .5,0 .5-1.7 .5-1.2 .5-.6 .5,3.4 .5,4.4 .5,4.3 .5,3.7 .5,3.3 .5,3.5 .5-1.4 .5-3 .5-5.1 .5-4.4 .5-3 .5,2.9 .5,3.1 .5,3.3 .5,1.7 .5,1.5 .5-.4 .5,.3 .5,0 .5-.3 .5,2.3 .5-.8 .5,2.2" fill="none" stroke="#ff2828" stroke-width="0.9" stroke-linejoin="round" />
<path d="M71.5,466.6l.5-.4 .5-1.2 .5-.5 .5,.3 .5-1.4 .5-.1 .5-1.7 .5-.3 .5-.6 .5,0 .5-1.3 .5,0 .5-.1 .5-.5 .5,0 .5-1.2 .5,.8 .5-1.6 .5,.1 .5,0 .5-.7 .5-.3 .5-1.3 .5,0 .5-1.2 .5-.3 .5-.7 .5,.3 .5-.2 .5-.1 .5,0 .5,0 .5,.3 .5,1.1 .5-.3 .5,.2 .5-.6 .5,.3 .5,.3 .5,.8 .5,.3 .5,.4 .5-.2 .5-.5 .5,.6 .5-.2 .5,.7 .5-.3 .5-.5 .5,.3 .5-.6 .5-.2 .5,.2 .5,0 .5-.1 .5-.1 .5,.4 .5-.1 .5-.4 .5,1.2 .5-.2 .5,1.4 .5,0 .5-.5 .5,0 .5,.7 .5,.5 .5-.3 .5-.1 .5,.3 .5,.7 .5-.7 .5-.5 .5-.2 .5,.3 .5,.3 .5-.3 .5-.2 .5-.3 .5,.1 .5-.4 .5,.8 .5-2.1 .5,.5 .5,.3 .5,.3 .5-.5 .5,.3 .5-.2 .5-.6 .5,.5 .5,.7 .5,.2 .5,.2 .5-.2 .5-.5 .5,.8 .5,.6 .5,1.1 .5-1.3 .5,1.1 .5-.8 .5,.8 .5,.7 .5,.5 .5-1 .5,1.4 .5,1.1 .5-.2 .5,1.7 .5,.4 .5,1.4 .5,.4 .5,.4 .5,.2 .5,.6 .5-1.3 .5,.1 .5-.8 .5,.5 .5-1 .5,.1 .5,1.9 .5,1.4 .5,2.5 .5,1.5 .5,1.5 .5,1.8 .5,.9 .5,1.8 .5,1.9 .5,2.5 .5,3.7 .5,4.5 .5,2.8 .5,1 .5,1.3 .5,.2 .5,1.4 .5-1.7 .5-1.3 .5,.1 .5-2.4 .5-1 .5,2.8 .5,3.8 .5,2.9 .5,.7 .5-.5 .5-.1 .5-.1 .5-.7 .5-1.2 .5,.2 .5,.5 .5,.3 .5-2.4 .5,.9 .5,2.3 .5,2 .5,1.7 .5,2.9 .5,.5 .5,1 .5,2.5 .5,.8 .5,1.3 .5,.2 .5,1.7 .5-3.4 .5-3.3 .5-2.9 .5-1.4 .5,.6 .5,1.3 .5,.3 .5,.2 .5,.2 .5,.7 .5,0 .5-.3 .5,.6 .5-1.1 .5-.7 .5,0 .5-.1 .5-.4 .5,.1 .5,1.2 .5-.9 .5,.7 .5-1 .5-1.2 .5-2.6 .5-3.1 .5-.9 .5,1.6 .5,3.1 .5,2.5 .5-1.1 .5-2 .5-1.4 .5-1.7 .5-.3 .5-.9 .5-1.1 .5,.4 .5-1.3 .5-1.1 .5-.3 .5-1.9 .5,2 .5,1.3 .5,.9 .5,.1 .5,.9 .5,1.4 .5-.7 .5,1.2 .5,1.3 .5-.8 .5,1 .5,.6 .5,.9 .5,1.1 .5,1.4 .5-1 .5-1.1 .5-.5 .5-1.2 .5-1.1 .5-.7 .5-1.7 .5-.5 .5-.6 .5-1 .5-1.6 .5-1.9 .5-1.1 .5-.2 .5-1.4 .5-1.7 .5-1 .5-.6 .5-1 .5-.6 .5-1.4 .5-1.4 .5-1.4 .5-1.8 .5-1.9 .5-1.7 .5-.6 .5-1.9 .5,0 .5-1.5 .5,0 .5,1.1 .5,0 .5,.8 .5,1.1 .5,.6 .5,.7 .5,1.7 .5,.9 .5,1.1 .5,2.2 .5,1.3 .5,2.1 .5,3.5 .5,2.4 .5,2.6 .5,2.1 .5,1.5 .5,.9 .5-.3 .5-.6 .5,.6 .5-.6 .5-1.1 .5-1.3 .5-1.9 .5-1.4 .5-1 .5-.5 .5-.4 .5-1.3 .5-.3 .5,0 .5-.8 .5,1.2 .5,.1 .5,0 .5,.1 .5-.9 .5-.4 .5-.3 .5-.2 .5-.5 .5,.6 .5-.5 .5-2.2 .5-.1 .5-.7 .5,2.4 .5,1.2 .5,2.5 .5,2.1 .5,3.3 .5,0 .5-2.2 .5-.9 .5-1.3 .5-2.6 .5-2.7 .5-1.3 .5-1.6 .5-.8 .5-1 .5-.5 .5-2.4 .5-.4 .5-1.4 .5-.1 .5-1.8 .5-.8 .5,.1 .5-1.8 .5-.5 .5-1.3 .5-.8 .5-1 .5-1.1 .5,.1 .5-1.9 .5-.6 .5-.7 .5-.4 .5,2.9 .5,2.5 .5,2.8 .5,4.2 .5-1.1 .5,.1 .5-1.4 .5-2.3 .5,0 .5-1 .5,.4 .5,1.1 .5,1.3 .5,.2 .5,1.2 .5,.6 .5,.4 .5-1.2 .5-.9 .5-.5 .5-1 .5-1.9 .5-.8 .5-.8 .5-1.1 .5,2.3 .5-.1 .5,.6 .5,1 .5,.9 .5,1 .5,0 .5,1 .5,0 .5,.9 .5,.5 .5-.1 .5,.6 .5-.7 .5-1.6 .5-.3 .5-.9 .5-1.3 .5-1.4 .5,.3 .5-.8 .5-1.2 .5-.3 .5-1.3 .5-.3 .5,1.6 .5,.9 .5,1.1 .5-.2 .5,2 .5-.1 .5,.9 .5,2.9 .5,4.2 .5,2 .5,3.6 .5,2.8 .5,2.6 .5,2.7 .5-3.8 .5-4 .5-3.8 .5-4.2 .5-2.3 .5,1.3 .5,1.8 .5,2.4 .5,.7 .5,3.4 .5,2.6 .5,.3 .5-1.9 .5-1 .5-.5 .5-1.2 .5,1.1 .5-1.6 .5-.6 .5-.7 .5-.9 .5-.7 .5,1.1 .5-1.3 .5,.3 .5-1.2 .5,1.6 .5-.7 .5-1.7 .5-.7 .5,.7 .5-.7 .5,.3 .5,2.2 .5-.4 .5,1 .5,2.3 .5,1.4 .5,2.4 .5,1.2 .5,2 .5,0 .5,1 .5,1.5 .5,.7 .5-.3 .5-2.4 .5-.3 .5-2.2 .5,.1 .5-1.5 .5-1.4 .5-2.1 .5,.3 .5-1.3 .5,0 .5-.6 .5-.2 .5-1.1 .5,.3 .5-.7 .5,1.1 .5-.5 .5-1.9 .5,.5 .5-.5 .5-.1 .5-.2 .5,.2 .5,.4 .5,.6 .5,.5 .5,.1 .5,.1 .5,2.1 .5-.8 .5,1.1 .5,.3 .5,.3 .5,.4 .5-2 .5,.1 .5,.1 .5-1.2 .5-1.3 .5,.8 .5-2 .5-1 .5,.1 .5,.3 .5-.3 .5-1.3 .5-.3 .5-.1 .5-.9 .5,0 .5,.7 .5-1.4 .5,0 .5-.5 .5-.9 .5-.5 .5-1.2 .5-1.3 .5-.5 .5,.7 .5-1.2 .5,.2 .5-1.4 .5,.7 .5-.9 .5,1 .5-.4 .5,0 .5-.3 .5-1.4 .5-.1 .5-.5 .5-.9 .5-.3 .5,.4 .5,.3 .5,.7 .5-.8 .5,2 .5-.9 .5,1.1 .5-.6 .5,0 .5-.2 .5-.1 .5-.1 .5-1.6 .5,1.2 .5,1.3 .5-1 .5-.6 .5,.9 .5-.1 .5,.4 .5,.5 .5,.8 .5-.3 .5,1.6 .5,0 .5,1.7 .5,.6 .5,.9 .5,.5 .5,1.5 .5,1.4 .5,1.6 .5,.4 .5,1.4 .5,1.1 .5-.5 .5,2.5 .5-.8 .5,.8 .5,.5 .5-1 .5-1.4 .5,.1 .5-1.2 .5,.4 .5,.4 .5,3 .5,3.1 .5,2.3 .5,3.2 .5,.4 .5-2 .5-2.7 .5-3.2 .5-2 .5-1.4 .5-1.8 .5-1.5 .5-1.9 .5-.7 .5-1.2 .5-1 .5,.4 .5-.8 .5-.7 .5,0 .5,.8 .5-.6 .5-.5 .5,.1 .5-.1 .5-.1 .5-.9 .5,0 .5-.3 .5-.3 .5-.2 .5,.8 .5-.1 .5-.1 .5,1 .5-.1 .5,.7 .5,0 .5,.5 .5,1 .5-.1 .5-.7 .5-.1 .5,.5 .5,1 .5,1.4 .5-1.5 .5-1.7 .5,0 .5-1.2 .5-.8 .5,.6 .5,.2 .5-1.6 .5-.2 .5-.6 .5,.3 .5-.8 .5-1.4 .5,0 .5,.1 .5,.1 .5-1.2 .5,.4 .5-.1 .5-.2 .5,.5 .5-1.3 .5,.2 .5-.8 .5,1.3 .5-.5 .5,1.7 .5-1 .5-1.5 .5,.7 .5,1 .5-1.8 .5-.3 .5-.1 .5-1.1 .5-.2 .5,.7 .5-1 .5,1.4 .5-.3 .5-.6 .5-1.1 .5,.8 .5-.4 .5-.4 .5-.3 .5-.2 .5-.1 .5-.3 .5,1.1 .5,.1 .5,.7 .5-.6 .5,.4 .5,2.2 .5,1.2 .5,2.1 .5,2.4 .5,2.2 .5,1.8 .5-.3 .5,.6 .5,.8 .5-.1 .5,.4 .5-.1 .5,.6 .5,.9 .5-.2 .5,.9 .5,.2 .5,.7 .5-.2 .5,.8 .5-1.1 .5-.8 .5-1.3 .5-.3 .5,.3 .5-1 .5,.8 .5-.2 .5,2.1 .5-2.1 .5,1.2 .5-.4 .5-.5 .5,.4 .5,1.2 .5-.3 .5-1.4 .5,0 .5-.3 .5-.4 .5-1.8 .5-1 .5-.1 .5-1.1 .5-1.5 .5-.5 .5-1.1 .5-.7 .5,2.4 .5,1.1 .5,1.1 .5,2.4 .5,1.5 .5,2 .5,1.4 .5,2.1 .5,1.4 .5-1.1 .5-1.8 .5-1.5 .5-1.3 .5-1.4 .5-.9 .5-1.8 .5-.7 .5-1.1 .5-.4 .5-1.7 .5,.3 .5-2 .5-.3 .5-.8 .5-.6 .5,.5 .5-.2 .5,0 .5-.4 .5,.2 .5,1.1 .5-.5 .5-.2 .5-.2 .5-1.1 .5,1.1 .5,.1 .5,.4 .5,.5 .5-.6 .5,.4 .5,.9 .5-.9 .5,.4 .5-.4 .5,.7 .5-1.2 .5,.2 .5-.5 .5,0 .5,1.1 .5,.9 .5,.7 .5-.9 .5,1.2 .5-.4 .5,.4 .5,.6 .5,.3 .5,.2 .5,.6 .5,.1 .5-.6 .5,.8 .5-.4 .5,.1 .5,.4 .5,.5 .5-1.4 .5,0 .5,.2 .5-.2 .5,1.1 .5-.2 .5,.2 .5-.8 .5,0 .5,0 .5-.3 .5-1.8 .5,.3 .5-.5 .5-1.6 .5,1.2 .5-1.4 .5-.2 .5,1 .5-1.4 .5,.7 .5-.3 .5-.6 .5-.3 .5-.3 .5-.3 .5-1.2 .5,.4 .5-1.3 .5-.2 .5,.6 .5-.9 .5,.4 .5,0 .5,.9 .5,.5 .5,.1 .5,.7 .5,.4 .5,.7 .5-.3 .5-.8 .5,0 .5-.1 .5,.1 .5,.5 .5,0 .5,1.8 .5,.5 .5-.7 .5,.2 .5-.3 .5,.2 .5-.9 .5,1.2 .5-.3 .5,.7 .5,1.8 .5-.3 .5,.4 .5,.9 .5,.9 .5,1.1 .5,.9 .5,.2 .5,.7 .5-2.2 .5-.1 .5-.1 .5-.1 .5-.6 .5-.6 .5,.6 .5-.9 .5-.4 .5-1.2 .5,.2 .5-1.6 .5-.8 .5-.6 .5-.8 .5,1.4 .5-.8 .5,.6 .5,.2 .5-.3 .5,.6 .5-.1 .5,.1 .5,.5 .5-.7 .5,1.2 .5,.2 .5,.3 .5,.5 .5,.1 .5-.3 .5-.5 .5-.6 .5-.7 .5-.9 .5,3 .5,3.6 .5,4.9 .5,4.1 .5,4.3 .5,2.2 .5,4.1 .5-6.8 .5-5 .5-5.4 .5-5.1 .5,2.6 .5,2.2 .5,1.9 .5,3.1 .5,.7 .5,1.3 .5,.2 .5,1.9 .5,.7 .5,.6 .5,1.6 .5,2.6" fill="none" stroke="#222" stroke-width="0.9" stroke-linejoin="round" />
<line x1="77.3" y1="457.3" x2="95.3" y2="457.3" stroke="#ff7070" stroke-width="1.5"/>
<text x="96.2" y="460.9" font-size="10.2" text-anchor="start" fill="#ff3030" font-weight="normal" font-family='"Liberation Sans", sans-serif' >Ne</text>
<line x1="77.3" y1="471" x2="95.3" y2="471" stroke="#555" stroke-width="1.2"/>
<text x="96.2" y="474.6" font-size="10.2" text-anchor="start" fill="#203060" font-weight="normal" font-family='"Liberation Sans", sans-serif' >Ni</text>
</g>
<line x1="115.5" y1="453.6" x2="115.5" y2="517.9" stroke="#00a000" stroke-width="1.3" stroke-dasharray="6,3"/>
<line x1="125.7" y1="453.6" x2="125.7" y2="517.9" stroke="#ff2020" stroke-width="1.2" stroke-dasharray="6,3"/>
<line x1="146.3" y1="453.6" x2="146.3" y2="517.9" stroke="#ff2020" stroke-width="1.2" stroke-dasharray="6,3"/>
<line x1="143.7" y1="453.6" x2="143.7" y2="517.9" stroke="#ff30ff" stroke-width="1.4" stroke-dasharray="1.5,3"/>
<line x1="274.2" y1="453.6" x2="274.2" y2="517.9" stroke="#ff30ff" stroke-width="1.4" stroke-dasharray="1.5,3"/>
<line x1="156.7" y1="453.6" x2="156.7" y2="517.9" stroke="#00a000" stroke-width="1.0" stroke-dasharray="2,4"/>
<line x1="156.7" y1="453.6" x2="156.7" y2="517.9" stroke="#0000e0" stroke-width="1.2" stroke-dasharray="2,1.5"/>
<clipPath id="cl7"><rect x="71.5" y="517.9" width="454" height="68.3"/></clipPath><g clip-path="url(#cl7)">
<path d="M79,585.9 120.3,585.9 161.5,585.9 202.7,585.9 244.2,585.9 285.5,585.9 327,585.9 368.2,585.9 409.5,585 450.7,585.9" fill="none" stroke="#00e000" stroke-width="1.2"/>
<circle cx="79" cy="585.9" r="1.6" fill="#00e000"/>
<circle cx="120.3" cy="585.9" r="1.6" fill="#00e000"/>
<circle cx="161.5" cy="585.9" r="1.6" fill="#00e000"/>
<circle cx="202.7" cy="585.9" r="1.6" fill="#00e000"/>
<circle cx="244.2" cy="585.9" r="1.6" fill="#00e000"/>
<circle cx="285.5" cy="585.9" r="1.6" fill="#00e000"/>
<circle cx="327" cy="585.9" r="1.6" fill="#00e000"/>
<circle cx="368.2" cy="585.9" r="1.6" fill="#00e000"/>
<circle cx="409.5" cy="585" r="1.6" fill="#00e000"/>
<circle cx="450.7" cy="585.9" r="1.6" fill="#00e000"/>
<path d="M79,532.4 120.3,550.6 161.5,550.6 202.7,552.2 244.2,535 285.5,554 327,537.3 368.2,546.9 409.5,517.5 450.7,552.2" fill="none" stroke="#ff1010" stroke-width="1.4"/>
<circle cx="79" cy="532.4" r="2.1" fill="#ff1010"/>
<circle cx="120.3" cy="550.6" r="2.1" fill="#ff1010"/>
<circle cx="161.5" cy="550.6" r="2.1" fill="#ff1010"/>
<circle cx="202.7" cy="552.2" r="2.1" fill="#ff1010"/>
<circle cx="244.2" cy="535" r="2.1" fill="#ff1010"/>
<circle cx="285.5" cy="554" r="2.1" fill="#ff1010"/>
<circle cx="327" cy="537.3" r="2.1" fill="#ff1010"/>
<circle cx="368.2" cy="546.9" r="2.1" fill="#ff1010"/>
<circle cx="409.5" cy="517.5" r="2.1" fill="#ff1010"/>
<circle cx="450.7" cy="552.2" r="2.1" fill="#ff1010"/>
<path d="M79,585.2 120.3,585.6 161.5,585.4 202.7,585.2 244.2,585.7 285.5,585.4 327,585.6 368.2,585 409.5,582.9 450.7,585.3" fill="none" stroke="#0808ff" stroke-width="1.6"/>
<circle cx="79" cy="585.2" r="1.9" fill="#0808ff"/>
<circle cx="120.3" cy="585.6" r="1.9" fill="#0808ff"/>
<circle cx="161.5" cy="585.4" r="1.9" fill="#0808ff"/>
<circle cx="202.7" cy="585.2" r="1.9" fill="#0808ff"/>
<circle cx="244.2" cy="585.7" r="1.9" fill="#0808ff"/>
<circle cx="285.5" cy="585.4" r="1.9" fill="#0808ff"/>
<circle cx="327" cy="585.6" r="1.9" fill="#0808ff"/>
<circle cx="368.2" cy="585" r="1.9" fill="#0808ff"/>
<circle cx="409.5" cy="582.9" r="1.9" fill="#0808ff"/>
<circle cx="450.7" cy="585.3" r="1.9" fill="#0808ff"/>
<line x1="77.3" y1="523.6" x2="94.6" y2="523.6" stroke="#10f010" stroke-width="1.3"/>
<circle cx="86.3" cy="523.6" r="2" fill="#10f010"/>
<text x="96.6" y="527" font-size="9.6" text-anchor="start" fill="#10f010" font-weight="normal" font-family='"Liberation Sans", sans-serif' >N<tspan dx="4.5">He+</tspan></text>
<line x1="77.3" y1="532.4" x2="94.6" y2="532.4" stroke="#ff1010" stroke-width="1.3"/>
<circle cx="86.3" cy="532.4" r="2" fill="#ff1010"/>
<text x="96.6" y="535.8" font-size="9.6" text-anchor="start" fill="#ff1010" font-weight="normal" font-family='"Liberation Sans", sans-serif' >N<tspan dx="4.5">He++</tspan></text>
<line x1="77.3" y1="541.5" x2="94.6" y2="541.5" stroke="#0808ff" stroke-width="1.3"/>
<circle cx="86.3" cy="541.5" r="2" fill="#0808ff"/>
<text x="96.6" y="544.9" font-size="9.6" text-anchor="start" fill="#0808ff" font-weight="normal" font-family='"Liberation Sans", sans-serif' >N<tspan dx="4.5">O+</tspan></text>
</g>
<line x1="115.5" y1="521.9" x2="115.5" y2="586.2" stroke="#00a000" stroke-width="1.3" stroke-dasharray="6,3"/>
<line x1="125.7" y1="521.9" x2="125.7" y2="586.2" stroke="#ff2020" stroke-width="1.2" stroke-dasharray="6,3"/>
<line x1="146.3" y1="521.9" x2="146.3" y2="586.2" stroke="#ff2020" stroke-width="1.2" stroke-dasharray="6,3"/>
<line x1="143.7" y1="521.9" x2="143.7" y2="586.2" stroke="#ff30ff" stroke-width="1.4" stroke-dasharray="1.5,3"/>
<line x1="274.2" y1="521.9" x2="274.2" y2="586.2" stroke="#ff30ff" stroke-width="1.4" stroke-dasharray="1.5,3"/>
<line x1="156.7" y1="521.9" x2="156.7" y2="586.2" stroke="#00a000" stroke-width="1.0" stroke-dasharray="2,4"/>
<line x1="156.7" y1="521.9" x2="156.7" y2="586.2" stroke="#0000e0" stroke-width="1.2" stroke-dasharray="2,1.5"/>
<clipPath id="cl8"><rect x="71.5" y="586.2" width="454" height="68.3"/></clipPath><g clip-path="url(#cl8)">
<path d="M71.5,603.2l.5-.2 .5,.2 .5,.3 .5-1.3 .5,1.6 .5,0 .5,.6 .5,.4 .5,0 .5-.2 .5,.7 .5,.4 .5-.3 .5-1.6 .5-.3 .5,1.6 .5-.4 .5,.5 .5,.9 .5,.2 .5-1.2 .5,1.3 .5,0 .5-1 .5,.5 .5-.3 .5-.3 .5,1.1 .5-.8 .5,.9 .5-1.5 .5-.3 .5,0 .5,.1 .5-1.5 .5-.2 .5,.7 .5-1.6 .5-.2 .5-1.2 .5,2 .5-2.3 .5,.9 .5-1.9 .5,.6 .5-1 .5,1 .5-.4 .5,0 .5,1.6 .5-.4 .5,.5 .5,1.1 .5,1 .5,.7 .5-.4 .5,1 .5-1.5 .5-.2 .5-.3 .5-.9 .5,1 .5-2.4 .5,.3 .5-.6 .5,.7 .5-.9 .5,.9 .5-.7 .5,1.2 .5-.4 .5-1.2 .5,1.5 .5-1.4 .5,.3 .5,2.1 .5-1.1 .5,0 .5-.1 .5-.5 .5,1 .5-.2 .5,.1 .5-.3 .5-.6 .5-.9 .5-.9 .5,.2 .5-1.6 .5,.6 .5-.5 .5,.1 .5-.2 .5,.4 .5-.7 .5,.8 .5,0 .5-1.6 .5,.3 .5,.2 .5,.2 .5-1.2 .5,.1 .5,.4 .5,1.2 .5-.7 .5-.8 .5-.4 .5-.2 .5-1.4 .5,1.7 .5-1.6 .5,.8 .5-.6 .5,2 .5-2.4 .5,2.1 .5,.6 .5-.5 .5,1.4 .5,.7 .5,1.4 .5-1 .5,1 .5-1.2 .5,.3 .5-.1 .5-.1 .5,.3 .5-.6 .5-1 .5-.2 .5,0 .5-.8 .5-.1 .5-.6 .5-.1 .5,.5 .5-1 .5-2.2 .5,3.1 .5,3.9 .5,2.4 .5,.6 .5,1.7 .5,0 .5,1.5 .5-.5 .5,.5 .5,.3 .5-.1 .5-.5 .5-.2 .5,.8 .5-1.7 .5,.6 .5-.5 .5-.6 .5,.5 .5-2.1 .5,.3 .5,.1 .5,2.4 .5-.7 .5,1.4 .5,1.1 .5-.3 .5-.5 .5-.2 .5-1.1 .5-.1 .5-1.2 .5,.3 .5-1.3 .5-.3 .5-1.4 .5-.9 .5-1.5 .5-.6 .5-.4 .5-1 .5-1 .5,.4 .5-.2 .5-.6 .5-1.1 .5-1 .5-.6 .5-.2 .5,1.4 .5,1.7 .5-1 .5,2.1 .5-1.2 .5,1.1 .5-.4 .5-.1 .5-1 .5,.7 .5-.3 .5,2.1 .5,.7 .5,.9 .5,.8 .5,1 .5,0 .5-1.2 .5,.7 .5,.6 .5-.9 .5,.8 .5-1.3 .5,.7 .5-.5 .5,.6 .5,.5 .5-.1 .5,.2 .5-.6 .5,1.1 .5-.8 .5,.2 .5-1.3 .5,.2 .5,.3 .5-.1 .5-.6 .5,.1 .5-.1 .5,1.7 .5-.1 .5-.2 .5-.4 .5,.2 .5,.8 .5,.2 .5-2.2 .5,.8 .5,.3 .5,.9 .5-.5 .5,.1 .5,.3 .5,.4 .5-.6 .5,.6 .5-1.6 .5-.9 .5-.4 .5-.3 .5,0 .5-.9 .5,2.1 .5-.4 .5,1.2 .5,.1 .5,.2 .5-1.9 .5,.5 .5-1.4 .5-.8 .5-1.1 .5-1.6 .5-.9 .5,.3 .5-2 .5,1.1 .5-2 .5-.4 .5-1.1 .5-1 .5,1.1 .5-.7 .5,2.1 .5,.6 .5,1.6 .5,1 .5,.1 .5-2.3 .5,1 .5,.7 .5-.6 .5,.3 .5,0 .5,1.4 .5,.4 .5,1.2 .5-.2 .5,1.3 .5,.8 .5-.7 .5,2.9 .5-.4 .5,2.3 .5,1.7 .5,.6 .5,.3 .5,1.8 .5,1 .5,.6 .5,.5 .5,.4 .5-.4 .5-.5 .5-.2 .5-2.4 .5-.2 .5-1.4 .5,1.2 .5-1 .5,1.6 .5,1.4 .5,.4 .5,1.3 .5-.3 .5,1.5 .5-.2 .5,.7 .5,2.1 .5,.3 .5,.1 .5-.2 .5-.7 .5,.6 .5-.9 .5-.3 .5-.4 .5,.3 .5,.6 .5-.5 .5-.4 .5,.9 .5,.3 .5,1 .5-1.1 .5,1.3 .5-.2 .5-1.1 .5,.1 .5-.9 .5,.2 .5-.2 .5,.8 .5-.2 .5,1.5 .5,1.2 .5,.1 .5,1.2 .5,.3 .5-1 .5,1.3 .5,.4 .5-.3 .5,.2 .5,.5 .5,.4 .5-.6 .5,.3 .5,.1 .5,2.2 .5-1.1 .5-.3 .5,.7 .5-1.7 .5,.6 .5-1.8 .5,.5 .5,0 .5,0 .5-.9 .5,1 .5-.6 .5-.9 .5-.3 .5,.5 .5-.6 .5,.5 .5-1.3 .5-.6 .5,.4 .5-.3 .5,.2 .5-2.5 .5-.2 .5,.9 .5-1.4 .5-.5 .5-.4 .5-.9 .5,.6 .5,.7 .5-.4 .5,.1 .5-2 .5,.1 .5-.7 .5-.1 .5-2.1 .5-1.7 .5,.7 .5-1.8 .5-.8 .5,1.7 .5,3.4 .5,1.4 .5,2.5 .5,1.7 .5-2.5 .5-.1 .5-2.8 .5-1.1 .5-.9 .5-.5 .5-1.7 .5-.2 .5-1.1 .5-.7 .5-2.6 .5,.5 .5-.4 .5-.4 .5,.2 .5-.6 .5-1.2 .5-1.3 .5,.1 .5-.1 .5-1.7 .5,.3 .5,.2 .5,.3 .5-1.2 .5,1.4 .5,.2 .5,.8 .5-1.5 .5-.3 .5-1.2 .5,.1 .5-.7 .5,.7 .5-1.4 .5-.1 .5,.4 .5-.5 .5,.3 .5,1.8 .5-1.3 .5,.3 .5,1 .5-.8 .5,1.4 .5,.4 .5,1.7 .5-.9 .5,2.1 .5-.4 .5-.2 .5,1.3 .5,.4 .5-.1 .5-.6 .5-1.1 .5,.8 .5-.7 .5,1.2 .5,1.4 .5,.2 .5-1.3 .5,1.1 .5,1.6 .5-.3 .5,.2 .5,.4 .5-1.8 .5,1 .5-.6 .5-2 .5,.6 .5-1 .5-.3 .5-.2 .5,1 .5-.7 .5,.1 .5,1 .5-1.8 .5,.9 .5,.2 .5,.8 .5-.2 .5-1.4 .5,.8 .5,0 .5,0 .5-.8 .5,.6 .5-.7 .5,.9 .5-.6 .5,.1 .5-.2 .5,.9 .5,1.6 .5-.4 .5,1.9 .5,.1 .5-.1 .5,1.4 .5-1.2 .5-.2 .5,0 .5-1.3 .5-.1 .5-.1 .5,.6 .5-1.1 .5,1.4 .5,.1 .5-1 .5-.8 .5,.4 .5-.8 .5,2.2 .5-1.1 .5-.7 .5,.2 .5,.7 .5-1.8 .5-.6 .5,.6 .5,1.1 .5-.4 .5,.4 .5,.6 .5-.3 .5,.8 .5-.2 .5-.1 .5,.3 .5,0 .5-1 .5,.7 .5-.9 .5-.6 .5-.4 .5,.4 .5-1 .5,.7 .5-.4 .5-.3 .5,.2 .5-.8 .5-.2 .5,.5 .5-.2 .5,1.4 .5-1.2 .5-.3 .5,1.3 .5-.2 .5,.5 .5,1.4 .5,.1 .5,.3 .5,1.6 .5-.8 .5,1.9 .5-.9 .5-1 .5,.4 .5-1.2 .5-1.7 .5,.8 .5-1.7 .5-.9 .5-.8 .5,1.2 .5,1 .5,1.4 .5,0 .5,1.6 .5,.6 .5-.4 .5-.4 .5,.4 .5,.4 .5-1.4 .5,.4 .5,.4 .5,0 .5,.1 .5,.4 .5,2 .5-.9 .5-.6 .5,1.6 .5-1.1 .5,1.2 .5,.1 .5-.6 .5-.4 .5,.7 .5-.7 .5-.4 .5,.9 .5-.6 .5,1 .5-2 .5,.3 .5-1.4 .5,.3 .5-.8 .5-.1 .5,1.5 .5,.3 .5,.1 .5,.1 .5,.2 .5-.4 .5,.2 .5,1 .5-.3 .5,2.3 .5-.6 .5,.7 .5-.4 .5,.5 .5,.2 .5,1.4 .5,.9 .5-1.1 .5,1.3 .5,.4 .5-.2 .5-1.8 .5,.5 .5-.1 .5-.9 .5,.4 .5-.8 .5-.4 .5,.1 .5-1 .5,2 .5,.8 .5,.3 .5-1.4 .5,1.5 .5,1.1 .5-.7 .5,0 .5,1.2 .5-.6 .5,1.5 .5-.6 .5,0 .5,.5 .5,.7 .5,.7 .5-.1 .5,.6 .5-.6 .5,.8 .5-.4 .5-.3 .5,.1 .5-1.2 .5-.6 .5-.7 .5-1.1 .5-.8 .5-.2 .5-1.6 .5,1.1 .5-1.5 .5,.1 .5,.6 .5-.6 .5,.8 .5,.3 .5,0 .5-.7 .5,1.5 .5-.1 .5-.1 .5,.6 .5,.9 .5,.7 .5,.3 .5,1.9 .5-.9 .5,2.7 .5-1.5 .5,.5 .5-.6 .5,.7 .5-1.9 .5-.3 .5-1.4 .5,.4 .5-.7 .5,.3 .5,1 .5,0 .5,.1 .5,1.8 .5,.1 .5,.1 .5,.7 .5,.2 .5,.6 .5,1 .5,.2 .5,.5 .5-1.7 .5-2.3 .5-.2 .5-.5 .5-1.3 .5-1.4 .5-.1 .5-1.4 .5,.1 .5,1.5 .5,1.5 .5,1.5 .5,2.6 .5-.4 .5-.7 .5,.4 .5,.1 .5,.3 .5,.1 .5,.1 .5,.8 .5-.7 .5,1.4 .5,.6 .5-1 .5,1.3 .5-.1 .5,.1 .5-.4 .5,1 .5-1.1 .5,2.1 .5-.2 .5,.6 .5-.2 .5,.1 .5,.6 .5-1.7 .5,1.4 .5-.9 .5-.2 .5-.5 .5-.7 .5,.7 .5-.5 .5-.4 .5-.1 .5,.8 .5-.2 .5-.5 .5,1.1 .5,0 .5-.9 .5,.2 .5,.4 .5-.5 .5-.1 .5,0 .5-.8 .5-.9 .5,.7 .5-.3 .5-.6 .5-.4 .5-.2 .5,2.1 .5-.9 .5,0 .5,.2 .5-.2 .5-.9 .5,.7 .5,.1 .5,2.5 .5-1.9 .5,.5 .5-.1 .5,.5 .5-.1 .5,.1 .5-.9 .5,2.4 .5-.4 .5,.2 .5-.7 .5-.3 .5,.4 .5-.3 .5-1.4 .5,1.3 .5,1.3 .5-.9 .5,.9 .5-.4 .5,.4 .5-.4 .5,1 .5-.7 .5,2.4 .5-.5 .5-1.2 .5-.8 .5,.3 .5,.1 .5-.5 .5,.4 .5,.6 .5-.5 .5-1.5 .5,.1 .5-1 .5,.2 .5-.8 .5-.6 .5,1.7 .5-.4 .5,.5 .5,.4 .5,.6 .5-.6 .5,2.2 .5,.6 .5-.1 .5-.7 .5,.6 .5-.4 .5,.8 .5-.6 .5-1.9 .5-.4 .5-1.5 .5,.5 .5-1.1 .5-2.2 .5,.2 .5-.6 .5-1.1 .5,.8 .5-1 .5-.8 .5-.3 .5-.9 .5-.6 .5,.6 .5,.3 .5,.7 .5,0 .5,.2 .5,.8 .5,.3 .5-.6 .5,.1 .5-.7 .5,.5 .5-1 .5,1 .5-.5 .5-2 .5,.8 .5-.2 .5,0 .5,.3 .5,.8 .5-.9 .5,.2 .5,.5 .5,1.5 .5,.9 .5-.4 .5,.8 .5,1.7 .5-.2 .5-2 .5,.4 .5-3.6 .5,1.1 .5,4.7 .5,4.2 .5,4.1 .5,2.3 .5-1.9 .5-1.9 .5-2.2 .5-2.7 .5-2.5 .5-1.8 .5-.3 .5,.8 .5-.1 .5-2.2 .5,0 .5-1.1 .5,.6" fill="none" stroke="#222" stroke-width="0.9" stroke-linejoin="round" />
<path d="M71.5,620.6l.5-1.8 .5-.7 .5,.5 .5,.1 .5-.2 .5,.8 .5-.9 .5-.1 .5-1 .5,0 .5,0 .5-1 .5-.5 .5,.9 .5-.5 .5,.8 .5,.2 .5,.3 .5-.5 .5,1.3 .5-1.2 .5,.7 .5-2.5 .5,1.3 .5-2.3 .5-.7 .5,0 .5,.2 .5-.4 .5-.9 .5-.1 .5-.3 .5-1.6 .5,1 .5,1.1 .5,0 .5,.7 .5,.6 .5-.3 .5-.3 .5,1.8 .5,1.1 .5,.6 .5-.5 .5-.5 .5,.4 .5,1.5 .5-.7 .5-1.2 .5-.9 .5-1.5 .5-2 .5,.7 .5-2.7 .5-1.2 .5,1 .5,2.1 .5,1 .5,.6 .5,.7 .5,.2 .5-.2 .5-.8 .5,.8 .5-1.8 .5,.1 .5-1 .5,0 .5-.3 .5-.6 .5-1 .5-.3 .5-.8 .5-.1 .5-1.4 .5,.5 .5,.1 .5-.4 .5-1.7 .5-.5 .5,.7 .5-1.8 .5,.5 .5-.8 .5-.9 .5,.5 .5,1.4 .5,.7 .5,2.9 .5,0 .5,1.1 .5,.7 .5-.7 .5-.3 .5-1.1 .5,.6 .5-.4 .5-.7 .5,.7 .5,1.9 .5,.9 .5,.3 .5,.6 .5-.6 .5,.3 .5-.2 .5-.8 .5,1.2 .5-.4 .5,0 .5-.1 .5,1.9 .5,.4 .5,.8 .5,.1 .5-.8 .5,2.5 .5-1.3 .5,1.6 .5,.7 .5-1 .5,1.2 .5-.7 .5-1 .5,1.3 .5,.6 .5-.4 .5,.3 .5-.9 .5-.5 .5-1.6 .5-.5 .5,1.2 .5,.5 .5-2.5 .5,2.5 .5-2.2 .5,.3 .5,1.1 .5-.2 .5,1.8 .5,.9 .5,2.3 .5,.7 .5-1.1 .5-1.5 .5-1.5 .5-.2 .5-1.5 .5-.8 .5,1.1 .5,0 .5,.9 .5,2.2 .5,2.3 .5,2.5 .5,2.6 .5,5.1 .5,4.9 .5,4.8 .5,3.8 .5,4.6 .5,1 .5,2.7 .5-.5 .5-1.9 .5-.5 .5-3.1 .5-.6 .5-1.2 .5-2.7 .5,.4 .5-1.6 .5-.2 .5,.9 .5-.6 .5-.6 .5-.1 .5-1.5 .5,.1 .5-.9 .5-.1 .5-.1 .5-.8 .5,.4 .5-.8 .5-.8 .5-.6 .5-.3 .5-1 .5-.6 .5-.1 .5,2.2 .5,1 .5,.4 .5-.6 .5-1.5 .5-1.4 .5-.6 .5,1.5 .5-.8 .5-1.7 .5,0 .5,.4 .5-1.2 .5,.2 .5-.3 .5,0 .5,.6 .5,1 .5,1.6 .5,.8 .5,.6 .5,1.1 .5,2.5 .5-1.2 .5-1.8 .5-2.1 .5-.5 .5-.9 .5-1.1 .5-3 .5-1.6 .5-1.9 .5-1.8 .5-1.7 .5-1.4 .5-.6 .5-.9 .5,.8 .5,.5 .5,1.5 .5,.7 .5,1.5 .5,.8 .5,2.9 .5-.1 .5,1.8 .5,.1 .5,3.2 .5,.2 .5,1.2 .5,.9 .5,.7 .5,0 .5-3.8 .5-1.4 .5-1 .5-3.4 .5-2.7 .5-.8 .5-2.4 .5-2.8 .5-2.2 .5-2.6 .5-.5 .5-.3 .5,.6 .5,1.3 .5-.6 .5,.5 .5-.2 .5-.1 .5-.2 .5,.6 .5,1.2 .5,1.8 .5,.5 .5,1.8 .5,1.3 .5,2 .5,4.2 .5,2.7 .5,4 .5,2.3 .5-.7 .5,1.4 .5,1.1 .5-.2 .5-1.1 .5-2.8 .5,.3 .5-1.3 .5,1.1 .5,.5 .5,2 .5,2.2 .5,1.6 .5-.3 .5-.9 .5,1.2 .5,.4 .5-1.1 .5-1.8 .5-1.3 .5-1.1 .5-2 .5-1.4 .5,.3 .5-.7 .5,.9 .5-.7 .5,.2 .5-1 .5-1.7 .5-.7 .5-2.1 .5,.3 .5-.9 .5,.3 .5-.3 .5,1.7 .5,.1 .5,1.2 .5,.1 .5-.9 .5,.7 .5-1.1 .5,.3 .5-1.6 .5,.6 .5,.1 .5-.3 .5-.3 .5-1.1 .5,.3 .5-.8 .5,.3 .5,.5 .5-1.2 .5,.6 .5-.8 .5,1.4 .5,.2 .5,.7 .5,0 .5,.2 .5,1 .5,.8 .5-.1 .5,.1 .5,1 .5,.7 .5,1 .5,.8 .5-.1 .5-.7 .5-1.2 .5-.2 .5-.6 .5-1.2 .5-.3 .5-.5 .5,.1 .5-.8 .5,.5 .5-.9 .5,.1 .5,.6 .5-.3 .5,1.7 .5-1.5 .5,1.4 .5,.3 .5,1 .5-2.4 .5-.7 .5,.2 .5-.9 .5-.3 .5-.3 .5,.9 .5-3.3 .5,2.7 .5-1.6 .5,0 .5-.2 .5,1.5 .5-1.5 .5-.8 .5,.1 .5-1.5 .5-.8 .5,.1 .5,.6 .5-1.2 .5-.1 .5,1.7 .5,.3 .5,.6 .5,.7 .5,0 .5,1.4 .5-1.5 .5,.6 .5-.3 .5-.4 .5-2.3 .5-3 .5-2.4 .5-2 .5-2 .5,3.9 .5,3.7 .5,2 .5,3.4 .5,.9 .5,.6 .5,.5 .5,.2 .5,.6 .5,.2 .5,.5 .5,1.1 .5,.4 .5-.1 .5,2.4 .5-2.1 .5,1.4 .5,.1 .5-.1 .5,.4 .5-.7 .5,.3 .5,.2 .5-.7 .5,.7 .5-.2 .5-.8 .5,0 .5-.2 .5,1.1 .5-.2 .5,2.1 .5,0 .5-.1 .5-1.1 .5,1 .5,0 .5-.4 .5,.9 .5,0 .5,0 .5,1.9 .5,.3 .5-1.2 .5,.6 .5-.9 .5-.3 .5,.8 .5,0 .5-1.6 .5,.6 .5-1.6 .5-.9 .5,.3 .5-1.6 .5,.9 .5,.3 .5,.7 .5-.8 .5,.2 .5-.6 .5-1.5 .5,2.4 .5-.6 .5,.4 .5-.8 .5-.1 .5,.8 .5,.3 .5,1.2 .5-.8 .5,.4 .5,.4 .5,.1 .5-.8 .5,.4 .5-.5 .5-.5 .5-.3 .5-1.8 .5,1.2 .5,.7 .5-.3 .5-.2 .5-2.9 .5,1.5 .5-2.2 .5,1 .5-1.3 .5,0 .5,.3 .5-.7 .5,.6 .5-.8 .5-.6 .5-.7 .5,0 .5,.4 .5,.6 .5,.1 .5,.5 .5-.6 .5,1.2 .5-.8 .5,0 .5-.1 .5,.2 .5,.1 .5,.1 .5,0 .5-1.3 .5-.3 .5,.7 .5-1.8 .5,.7 .5-1 .5-.4 .5-.5 .5-1.1 .5-1.3 .5,1.8 .5-2 .5-1.8 .5-.1 .5-.9 .5,0 .5,1.1 .5,.4 .5-.7 .5,.2 .5,0 .5,.2 .5,.7 .5-1.3 .5,.7 .5-.2 .5,.5 .5,.9 .5,.7 .5,.3 .5,.8 .5-1.1 .5,.4 .5,.8 .5-.8 .5-1 .5,.6 .5,0 .5-.8 .5-1.9 .5-2.4 .5,.1 .5,.3 .5-1.6 .5,.9 .5-1.1 .5,.8 .5,1.3 .5,.2 .5-.1 .5,1.4 .5-.7 .5,.3 .5-.9 .5-.5 .5,1.4 .5,0 .5,1.7 .5,.6 .5,.6 .5-1 .5,2.6 .5,1.8 .5-.6 .5,.6 .5,.4 .5,1.7 .5-1.2 .5-2.2 .5-1.1 .5,.4 .5-1.4 .5-.4 .5-.7 .5-.8 .5-.2 .5-.5 .5-.9 .5,1.2 .5-.9 .5,.7 .5-.8 .5,.3 .5-.3 .5-1.2 .5,1.3 .5,0 .5-1.1 .5,.2 .5,.8 .5-1.4 .5-1.5 .5,.6 .5,1.3 .5-.4 .5-1.6 .5,.3 .5,1.1 .5-.4 .5,.7 .5,.5 .5,.3 .5-.3 .5,.8 .5-.2 .5,1.1 .5-2.8 .5,.7 .5-2.5 .5,.4 .5,.1 .5,.5 .5,1.1 .5-.3 .5-.4 .5-.4 .5,.8 .5,1.2 .5-.8 .5,.3 .5,.2 .5-.8 .5-.2 .5-.5 .5,.5 .5,1.2 .5-1.2 .5,1.7 .5,.4 .5,1 .5,.3 .5-.4 .5,.2 .5,1.5 .5,.4 .5-1.2 .5,0 .5-.2 .5-.7 .5-.3 .5-.7 .5,.1 .5-.6 .5,2.1 .5-1.5 .5-.5 .5,1.7 .5-1.3 .5-.7 .5-.5 .5-1.1 .5,.4 .5-1 .5-1.5 .5,.8 .5,.9 .5,1.4 .5,1.3 .5-.7 .5,.2 .5-.9 .5,3 .5,1.8 .5,1.1 .5,2.8 .5,2.1 .5-2 .5,.2 .5-.7 .5-.7 .5,1 .5-1.8 .5-2.3 .5-.5 .5-1.4 .5,0 .5-1.6 .5,.4 .5-2.7 .5-.4 .5-.7 .5-1 .5,.2 .5-.9 .5-.1 .5,1 .5,.4 .5,1.9 .5-1.1 .5-.6 .5,.6 .5-2.1 .5-1 .5,.3 .5-.1 .5-1.1 .5,1.1 .5,2 .5,.5 .5,1.3 .5,1.2 .5,.4 .5-.8 .5,.1 .5-.1 .5-.7 .5,3 .5,1.3 .5,1.7 .5,3.4 .5,3.3 .5,.5 .5-1.4 .5,.2 .5,.5 .5,1.1 .5,0 .5-.7 .5-.5 .5-.5 .5,.2 .5-.2 .5-.8 .5,1.3 .5-.2 .5,.2 .5,1.1 .5-.1 .5-.3 .5,.4 .5,1 .5,.3 .5-1 .5,.2 .5,.2 .5,.3 .5-.5 .5,.6 .5-.1 .5,.5 .5,.1 .5-.4 .5-.8 .5-.2 .5,.3 .5,.5 .5-1.7 .5,.5 .5,1.1 .5,.6 .5-.8 .5,1.1 .5,1.2 .5-1 .5,.2 .5,.6 .5-2.4 .5,.5 .5-1.1 .5,1.3 .5-2.6 .5,0 .5,1.4 .5-1.6 .5,1.2 .5,.4 .5-2.9 .5,.4 .5-1 .5,.2 .5-.4 .5-.2 .5-1 .5-.3 .5,0 .5-.3 .5-.7 .5-.3 .5,.6 .5-.2 .5,1.1 .5-.3 .5,.3 .5,.6 .5-.1 .5-.3 .5,.1 .5,.2 .5,1 .5,0 .5-.2 .5-1.6 .5-1 .5,1.9 .5-.3 .5,.4 .5-1.5 .5,1 .5-1.8 .5,1.7 .5,.1 .5,.7 .5-.6 .5-.3 .5-.9 .5,2.4 .5-1.8 .5,.1 .5-.5 .5-.9 .5-.1 .5-.5 .5,.5 .5-1.2 .5,1.3 .5-.1 .5,.6 .5,.2 .5-.9 .5-1.7 .5-.5 .5,.6 .5,0 .5-.3 .5,.2 .5-1.2 .5,1.4 .5,.4 .5-1.8 .5,1.2 .5,.4 .5,.5 .5-1.4 .5,2 .5-.4 .5,.7 .5,.4 .5,0 .5,1.4 .5-1.4 .5,.5 .5-.6 .5,.1 .5-.7 .5,1.6 .5,.9 .5-1 .5-.2 .5,1.4 .5-.4 .5,1.7 .5,.7 .5-1.9 .5,.6 .5,.5 .5-2.1 .5,1 .5,1 .5,2.5 .5,1.8 .5,2.4 .5,0 .5,1.8 .5-.3 .5-.3 .5,.7 .5,.6 .5,.9 .5-.4 .5-1 .5,.1 .5-5.1 .5-5.8 .5-4.6 .5-4.7 .5-1.2 .5-2.7 .5-.3 .5-.7 .5,2.6 .5,1.2 .5,3.3 .5,3.1 .5,2.3 .5,2.8 .5,1 .5-1.1 .5,.4 .5-.2 .5-.9 .5,1.2 .5,1.4 .5,1 .5,2.7 .5,4.5 .5,2" fill="none" stroke="#ff2828" stroke-width="0.9" stroke-linejoin="round" />
<line x1="77.3" y1="596.4" x2="95.3" y2="596.4" stroke="#ff2828" stroke-width="1.0"/>
<text x="96.2" y="600.5" font-size="10.5" text-anchor="start" fill="#ff2828" font-weight="normal" font-family='"Liberation Sans", sans-serif' >T</text>
<text x="101.3" y="604.7" font-size="8" text-anchor="start" fill="#ff2828" font-weight="normal" font-family='"Liberation Sans", sans-serif' >||</text>
<line x1="77.3" y1="615.3" x2="95.3" y2="615.3" stroke="#777" stroke-width="1.6"/>
<text x="96.2" y="619.4" font-size="10.5" text-anchor="start" fill="#000" font-weight="normal" font-family='"Liberation Sans", sans-serif' >T</text>
<text x="102" y="624.8" font-size="8" text-anchor="start" fill="#888" font-weight="normal" font-family='"Liberation Sans", sans-serif' >&#8869;</text>
</g>
<line x1="115.5" y1="590.2" x2="115.5" y2="654.5" stroke="#00a000" stroke-width="1.3" stroke-dasharray="6,3"/>
<line x1="125.7" y1="590.2" x2="125.7" y2="654.5" stroke="#ff2020" stroke-width="1.2" stroke-dasharray="6,3"/>
<line x1="146.3" y1="590.2" x2="146.3" y2="654.5" stroke="#ff2020" stroke-width="1.2" stroke-dasharray="6,3"/>
<line x1="143.7" y1="590.2" x2="143.7" y2="654.5" stroke="#ff30ff" stroke-width="1.4" stroke-dasharray="1.5,3"/>
<line x1="274.2" y1="590.2" x2="274.2" y2="654.5" stroke="#ff30ff" stroke-width="1.4" stroke-dasharray="1.5,3"/>
<line x1="156.7" y1="590.2" x2="156.7" y2="654.5" stroke="#00a000" stroke-width="1.0" stroke-dasharray="2,4"/>
<line x1="156.7" y1="590.2" x2="156.7" y2="654.5" stroke="#0000e0" stroke-width="1.2" stroke-dasharray="2,1.5"/>
<clipPath id="cl9"><rect x="71.5" y="654.5" width="454" height="68.3"/></clipPath><g clip-path="url(#cl9)">
<path d="M71.5,714.4l1-.1 1-.2 1-.2 1,.4 1-.5 1,0 1-.3 1,.2 1-.3 1,0 1,0 1-.4 1,.6 1,0 1,.2 1-.3 1-.1 1,.3 1-.2 1-.2 1,.1 1-.4 1,.3 1,0 1,.4 1-.2 1-.4 1,.3 1-.1 1,0 1,.3 1-.4 1,.5 1-.2 1-.2 1,.1 1,.1 1,0 1-.2 1,0 1,.1 1,.1 1,.2 1-.7 1,.4 1,0 1-.4 1,.3 1-.4 1,.1 1,.1 1,.5 1-.4 1,0 1,.6 1-.2 1-.7 1,.3 1-.1 1,0 1,.3 1,.4 1,.7 1,.1 1,.2 1,1 1,.7 1,0 1,.4 1,.2 1,.1 1,.5 1-.5 1,.5 1,.2 1-.3 1,.1 1,0 1,0 1,.2 1,.3 1,.2 1-.3 1,.4 1,.2 1-.8 1,.8 1-.2 1,.1 1-.2 1-.5 1,.3 1,.4 1-.5 1-.1 1-.5 1-.1 1,0 1,.1 1,.1 1-.1 1,0 1-.4 1-.1 1,.2 1,0 1,.2 1-.2 1,.4 1-.3 1,0 1-.4 1,.3 1,.3 1-.2 1,0 1-.4 1,.2 1-.6 1-.6 1,.5 1-.4 1-.2 1-.4 1,0 1-.5 1-.2 1,.2 1-.2 1,.6 1,.4 1,.3 1-.3 1,.3 1,.2 1,.6 1,.1 1-.1 1,.1 1-.4 1,.2 1-1 1,.5 1-.1 1,0 1,0 1,0 1-.3 1-.1 1-.1 1,.1 1,.3 1,0 1,.4 1,.3 1-.2 1-.4 1-.2 1-.4 1,.2 1-.3 1-.3 1-.6 1,.1 1-.3 1,.1 1-.4 1,.9 1-.3 1,.3 1,0 1,.4 1-.2 1,.1 1,.1 1-.3 1-.1 1,.2 1-.2 1,.2 1-.4 1,.3 1-.2 1,.4 1-.2 1-.3 1,.5 1,0 1-.1 1-.4 1,0 1,.1 1,.1 1-.5 1,0 1,.2 1,.7 1,.5 1,.7 1,.1 1,.5 1-.1 1-.6 1-.1 1-.4 1-.2 1-.8 1,.3 1,0 1-.1 1,0 1,0 1-.2 1,.3 1,0 1,.2 1,0 1,0 1,.1 1,.2 1,.3 1,.4 1-.1 1,0 1-.4 1-.1 1-.9 1,.5 1-.6 1-.3 1,.4 1-.2 1,.2 1,.2 1-.6 1,.6 1-.3 1-.1 1,.3 1-.3 1,.5 1-.4 1,.2 1-.2 1,0 1-.2 1-.1 1,.2 1-.2 1-.5 1,.2 1,.3 1-.3 1-.1 1,.3 1-.3 1-.2 1,.2 1,.2 1-.1 1,.3 1-.5 1,.2 1,.1 1-.4 1-.4 1,.3 1-.1 1,0 1,.1 1,.3 1-.3 1,.6 1-.2 1,.4 1,.2 1,.4 1-.6 1,.6 1-.3 1,.2 1-.1 1,.1 1,.4 1,1.1 1,.2 1-.6 1-.2 1-1 1-.2 1-.4 1,.4 1-.6 1,0 1,.2 1-.3 1,.1 1-.6 1,.6 1-.1 1-.3 1,.4 1,.1 1-.3 1,.4 1-.6 1,.1 1-.1 1,0 1,.2 1-.4 1-.1 1,.3 1,.1 1-.1 1-.3 1,.3 1,.2 1-.3 1,.3 1-.2 1,0 1-.4 1,0 1,.6 1-.1 1-.6 1,.3 1-.1 1,.4 1-.3 1,.2 1-.1 1,.7 1-.2 1,.3 1,0 1,.2 1,.6 1,.3 1,.3 1-.1 1-.2 1,.4 1-.2 1,.1 1,.1 1-.3 1-.2 1-.2 1,0 1,.2 1-.2 1-.2 1,0 1,.3 1-.2 1,.6 1-.3 1,0 1,.2 1,.2 1-.1 1-.1 1-.3 1-.6 1-.1 1-.1 1-.1 1-.1 1,0 1-.2 1,.2 1,0 1-.1 1-.1 1-.2 1,.2 1-.1 1,.2 1-.2 1,.2 1-.1 1-.2 1,.1 1,.3 1-.1 1-.5 1,.4 1-.1 1,0 1,.2 1-.1 1-.1 1-.2 1,.4 1-.6 1,0 1,.2 1-.2 1,.8 1-.1 1-.8 1,.2 1-.1 1,.3 1,0 1-.3 1-.1 1,.5 1-.2 1-.1 1,.1 1,.2 1,.2 1-.4 1,.4 1-.3 1,.1 1,.3 1-.1 1,.1 1,.6 1-.3 1,.2 1,.3 1-.1 1-.1 1,0 1,.2 1-.2 1-.1 1-.2 1,0 1-.2 1-.3 1,.2 1,0 1-.3 1,.1 1-.1 1,.4 1-.5 1,.8 1,1.2 1-.7 1-.7 1-.1 1,1 1,.5 1,.2 1,.2 1,.1 1,.2" fill="none" stroke="#ff4040" stroke-width="0.9" stroke-linejoin="round" />
<path d="M71.5,710.2l.5-.2 .5,0 .5,.5 .5,.5 .5,.1 .5,.7 .5,1.2 .5-.5 .5,1.2 .5-.2 .5,.4 .5-.2 .5,0 .5,1.1 .5,.5 .5,.4 .5,.8 .5,.6 .5-.1 .5,0 .5,1.4 .5-.8 .5,.5 .5,.7 .5-.8 .5,.8 .5,.3 .5,.2 .5,.6 .5,.3 .5-.9 .5,.6 .5,1 .5-.6 .5-.5 .5,.7 .5-.4 .5,.8 .5-.3 .5,0 .5-.2 .5,0 .5,.2 .5,.1 .5,.3 .5-1 .5,.8 .5-.8 .5,.9 .5-.6 .5,1 .5-.9 .5,.7 .5,0 .5-.2 .5,0 .5,.6 .5,.2 .5,.3 .5-.5 .5-.2 .5-.1 .5,.1 .5-.2 .5-.2 .5,.1 .5,.4 .5,.2 .5-.5 .5,.1 .5,.2 .5,0 .5-.1 .5-.1 .5,.4 .5,.3 .5,.1 .5-1.2 .5,.4 .5,.7 .5-.5 .5,.5 .5-.3 .5,0 .5-.3 .5,.6 .5-.4 .5,.1 .5-1 .5,.6 .5,.4 .5-.4 .5-.2 .5,.5 .5-.1 .5,0 .5,.3 .5-1.3 .5-.1 .5,.5 .5-.9 .5,.2 .5-.3 .5-.1 .5,.4 .5,.1 .5-.2 .5,.7 .5-.1 .5-.7 .5-.3 .5,.7 .5-.2 .5-.3 .5-.5 .5-.1 .5-.4 .5,0 .5-1.1 .5-.1 .5,.5 .5-.4 .5-1.2 .5-2.3 .5,0 .5-1.7 .5-.8 .5-1.7 .5-1.9 .5-1.7 .5-2.2 .5-1.8 .5-1.8 .5-1.1 .5-2.6 .5-.5 .5-1.1 .5,.1 .5-.6 .5-.1 .5-.7 .5,1.8 .5,1 .5,.8 .5-1.9 .5-2.9 .5-2.2 .5-1.1 .5,.3 .5,.8 .5,.1 .5-.4 .5-.4 .5-.7 .5,0 .5-.3 .5-.4 .5-.9 .5,.2 .5-.5 .5-.1 .5-.2 .5-.4 .5,.5 .5-.3 .5,.1 .5,.7 .5,.3 .5,.5 .5-.4 .5,1.4 .5,0 .5,0 .5,1 .5-.2 .5,.1 .5,0 .5,.4 .5-.2 .5-.2 .5,.2 .5,.2 .5,.5 .5,.3 .5,.4 .5,0 .5,.4 .5,.6 .5,.1 .5,.5 .5,.2 .5,.1 .5,1.5 .5,1.1 .5-.2 .5-2.1 .5-2.3 .5-.8 .5,1.6 .5,1.3 .5,1.4 .5,1.1 .5-.1 .5-.6 .5,.7 .5-1 .5-.2 .5,.9 .5-.1 .5-.5 .5-.3 .5-.2 .5,1 .5-.4 .5,.1 .5,.4 .5-.5 .5,.8 .5,.1 .5,.3 .5-.1 .5,.8 .5-.7 .5,.9 .5-1 .5,.1 .5,.4 .5,1 .5-.1 .5,1.1 .5,.3 .5-.1 .5,2 .5,.2 .5,.6 .5,.7 .5-.1 .5,1.3 .5-.9 .5,.1 .5,.2 .5,.8 .5,.2 .5,1.5 .5,.8 .5,1.1 .5,1.7 .5,.3 .5,.9 .5,2.1 .5,.6 .5,1.8 .5,1.7 .5,1.5 .5,0 .5,.1 .5,.4 .5,.4 .5,1.1 .5-.1 .5-.4 .5-.4 .5-.4 .5-.1 .5-.6 .5-.3 .5-.8 .5-2.1 .5-.8 .5-2.7 .5-1 .5-1.3 .5-1.4 .5-.6 .5-1.3 .5,.8 .5-.1 .5,0 .5,1.1 .5-.5 .5,.9 .5,.3 .5-.1 .5,1.1 .5-.3 .5,0 .5-.6 .5,.6 .5,.2 .5-.2 .5-.7 .5,.4 .5-1 .5,.5 .5,.2 .5,.1 .5,0 .5,.1 .5-.1 .5-.8 .5,.3 .5,.7 .5-.7 .5-.3 .5-.9 .5,0 .5-.3 .5-.5 .5-.5 .5,0 .5,1.1 .5,.4 .5,1.1 .5,.2 .5-.3 .5,.7 .5,0 .5,.5 .5,.2 .5,1.1 .5,.6 .5,.2 .5-.1 .5,.3 .5-.2 .5,0 .5,.9 .5,.4 .5-.1 .5,.3 .5,.4 .5-.4 .5-.4 .5-.3 .5,.1 .5-.5 .5-.3 .5,.3 .5-.4 .5-.8 .5-.7 .5-.3 .5-.4 .5,.3 .5,.7 .5-.3 .5,1.6 .5,.7 .5-.2 .5-1 .5-.3 .5-.4 .5-.3 .5,.5 .5-.5 .5,.7 .5,.4 .5,.5 .5,.8 .5,.3 .5,.7 .5-.9 .5,.5 .5-.2 .5-.1 .5,.7 .5-1 .5-.5 .5,.4 .5,.3 .5-.3 .5-.7 .5,.5 .5,.6 .5-1.4 .5,.5 .5-.2 .5-.4 .5,.7 .5,.2 .5,.1 .5,0 .5,0 .5,.2 .5,.1 .5,.6 .5,.8 .5-.3 .5,0 .5,.7 .5-.1 .5,1.1 .5-1.7 .5,.1 .5-.6 .5-.4 .5-1 .5-1.3 .5-.9 .5-2.6 .5-1.5 .5-1.6 .5-.3 .5,1.5 .5,1.9 .5,1.6 .5,.7 .5-.3 .5,.3 .5-.4 .5-.7 .5,.3 .5-.6 .5,.2 .5-.1 .5,1.2 .5,.6 .5-.2 .5,.5 .5,.9 .5,.1 .5,.9 .5,.4 .5,.5 .5-.4 .5,0 .5,.5 .5,.5 .5-.1 .5-.1 .5-.8 .5-.2 .5-.4 .5-.5 .5-.2 .5,0 .5-.4 .5-1.5 .5,0 .5-.4 .5-1.4 .5-.9 .5,.1 .5-.7 .5-.7 .5,0 .5-.1 .5,.3 .5,0 .5,.8 .5,.3 .5,.7 .5,.7 .5,.4 .5,0 .5,.8 .5,1 .5,.6 .5,.6 .5-.7 .5,.2 .5,.9 .5-.3 .5,.2 .5,.2 .5,0 .5,0 .5,.4 .5-.8 .5,.8 .5,.3 .5-1.1 .5,.2 .5-.1 .5-.8 .5,0 .5,0 .5,.5 .5-.7 .5,.5 .5-.9 .5,1 .5-.4 .5,1.1 .5,.3 .5,.6 .5,.1 .5,.3 .5,.5 .5-.9 .5,.4 .5,.9 .5-.1 .5,.3 .5-.2 .5-.2 .5,.1 .5-.2 .5,1.3 .5,.2 .5,.5 .5-.5 .5,1.4 .5-.3 .5,.7 .5,.4 .5,.4 .5,.1 .5-.1 .5,.1 .5,.6 .5,.8 .5-.4 .5-.1 .5,0 .5,.4 .5,.5 .5,.6 .5-.2 .5,.1 .5-.2 .5,.2 .5-.4 .5,.7 .5,0 .5-.4 .5,.2 .5-1 .5,.5 .5-.1 .5,.1 .5-.4 .5,0 .5-.1 .5-.3 .5-.7 .5,.8 .5-.3 .5,.2 .5-.2 .5,0 .5-.1 .5,1 .5-.3 .5-.7 .5-.5 .5-.1 .5-.3 .5-.9 .5-.1 .5-1.3 .5-1 .5-1.7 .5-1.1 .5-1 .5-.3 .5-.8 .5-.6 .5-1 .5-.3 .5-.2 .5,.3 .5,.1 .5,.6 .5-.3 .5-.4 .5-1.1 .5-.6 .5-1.7 .5-1.1 .5-1.1 .5-.8 .5,.9 .5,1 .5,1.7 .5,1.5 .5,1.7 .5,1.4 .5,1.7 .5,2.6 .5,.6 .5,.8 .5,.1 .5,.2 .5,0 .5,0 .5,.3 .5,.2 .5,.6 .5,.7 .5-.8 .5,.7 .5-.2 .5,.6 .5,.2 .5-.7 .5,.5 .5-.7 .5-.4 .5,.8 .5-.4 .5,.3 .5-.7 .5,.5 .5-.3 .5,.7 .5-.7 .5,.3 .5-.4 .5,.7 .5,.2 .5-.3 .5,.1 .5-.6 .5,.1 .5,.8 .5,.9 .5,.1 .5-.3 .5-.5 .5,.9 .5,.7 .5,0 .5,.8 .5-.8 .5,0 .5-.2 .5,.4 .5,.1 .5-.2 .5,.6 .5-.7 .5,.4 .5,.5 .5-.3 .5-.1 .5,.7 .5,.2 .5,0 .5-.4 .5-.5 .5-.1 .5,.2 .5,.6 .5-.5 .5,.3 .5-.1 .5,.1 .5,.8 .5,.1 .5-.4 .5-.6 .5,.3 .5,.2 .5-.4 .5-.4 .5-.1 .5-.2 .5,0 .5,.8 .5-.7 .5,.5 .5-.3 .5-.4 .5-.1 .5,.5 .5-.8 .5,.4 .5,.1 .5-.5 .5-.4 .5-.8 .5-.1 .5-.5 .5-1.1 .5-.9 .5,.1 .5-.6 .5-.3 .5-.4 .5-.5 .5-.8 .5,.8 .5-.7 .5-.5 .5-.1 .5-.9 .5-1 .5-.5 .5,.6 .5-.7 .5,0 .5,.1 .5,.3 .5-.1 .5,.1 .5,.5 .5,.3 .5,.1 .5-.7 .5-.2 .5-.1 .5-.4 .5-.4 .5,1 .5,.1 .5,.2 .5,.3 .5,0 .5,1.3 .5,1.3 .5-.2 .5,.6 .5,.7 .5,.5 .5,.6 .5,.2 .5,0 .5-.9 .5-.1 .5-.7 .5-.5 .5-1.8 .5-.6 .5,.2 .5,.3 .5,.8 .5,.6 .5,.6 .5-.1 .5,.3 .5,.9 .5-.1 .5,.7 .5,.1 .5,.3 .5,.4 .5,.1 .5-.2 .5,.6 .5,.3 .5-.9 .5,.2 .5,.1 .5,0 .5,.3 .5,0 .5,.2 .5,.1 .5-.3 .5-.6 .5,.3 .5,.4 .5-.4 .5,.5 .5-.4 .5,.1 .5,1 .5-.9 .5-.1 .5-.5 .5,.1 .5,.3 .5,.3 .5-.1 .5-.2 .5,.7 .5-.6 .5,.5 .5-.3 .5,0 .5-.1 .5-.1 .5-.2 .5-.1 .5-.1 .5,.7 .5-.5 .5-.2 .5,.5 .5-.3 .5-.4 .5,.5 .5-.5 .5,.2 .5,.8 .5-.5 .5,.9 .5-.5 .5-.3 .5,.1 .5,.3 .5-.1 .5,.7 .5-.5 .5,.6 .5-.6 .5,.4 .5,.6 .5-.2 .5-.3 .5,.5 .5-1.3 .5,1.1 .5,0 .5,0 .5,.2 .5-.1 .5,.5 .5-.3 .5,.2 .5,.5 .5,0 .5,.2 .5,.1 .5-1 .5-.2 .5,.5 .5,.4 .5-.4 .5-.3 .5,.4 .5-.1 .5-1 .5,.6 .5,0 .5-.5 .5,.2 .5,.1 .5-.2 .5-.7 .5-.3 .5,.2 .5-.4 .5-.2 .5,.4 .5-.4 .5-.2 .5,.3 .5-.5 .5,.3 .5-.2 .5,.8 .5-1.2 .5,.7 .5,.4 .5-1.1 .5,.2 .5,.3 .5-.7 .5,.6 .5-.2 .5,.7 .5-.5 .5-.1 .5,1 .5,.3 .5-1 .5,0 .5,.6 .5,.6 .5,.4 .5-.2 .5,.8 .5-.6 .5,.7 .5,1.2 .5,.4 .5-.8 .5,.1 .5,.1 .5-.5 .5-.2 .5,.5 .5-.3 .5,.4 .5,0 .5-.2 .5,.1 .5-.3 .5-.5 .5,.1 .5-1.1 .5,.3 .5-.1 .5-2.6 .5-3.6 .5-3.7 .5-3.7 .5-.9 .5-.6 .5-.9 .5-.1 .5-2.3 .5-1.3 .5-1.9 .5-1.8 .5-.9 .5,.2 .5-1 .5-.5 .5-.2 .5,.1 .5,.4 .5,.6 .5-.2 .5,.1 .5,.4" fill="none" stroke="#333" stroke-width="0.9" stroke-linejoin="round" />
<path d="M71.5,681.4l.5-.3 .5,.1 .5-.2 .5-.4 .5-.4 .5-.5 .5-.1 .5-.4 .5-.5 .5,.4 .5-.1 .5,0 .5-.6 .5,.5 .5-.7 .5-.3 .5,.1 .5-.1 .5-.2 .5-.5 .5-.4 .5-.6 .5-.3 .5,.2 .5-.1 .5-.4 .5,.5 .5-.8 .5,0 .5-.3 .5-.2 .5-.4 .5,.4 .5-1 .5,.7 .5-.2 .5-.2 .5,.2 .5,.1 .5,.4 .5-.7 .5-.3 .5,.1 .5-.3 .5,.8 .5-.3 .5,.5 .5-.5 .5,0 .5,.3 .5,.2 .5,.1 .5-.2 .5-.2 .5-.2 .5,.2 .5-.1 .5-.3 .5,0 .5-.1 .5-.4 .5,.3 .5-.3 .5-.1 .5-.1 .5,.2 .5,.1 .5-.2 .5-.1 .5-.1 .5-.1 .5,0 .5,1 .5,.3 .5-.7 .5-.3 .5,0 .5-.5 .5,.2 .5,.3 .5-.6 .5-1 .5,.4 .5-.4 .5,.3 .5-.2 .5-.2 .5,.5 .5,.2 .5-.7 .5,.4 .5-.1 .5,.9 .5-.6 .5,.1 .5-.1 .5,.1 .5,.2 .5,.3 .5,.1 .5,.6 .5,.3 .5-.1 .5,.4 .5,.6 .5,.2 .5,0 .5,.1 .5,.3 .5,.2 .5,0 .5,.5 .5,0 .5-.1 .5,.5 .5,.4 .5,.7 .5,.1 .5,.4 .5-.5 .5,.9 .5,.4 .5,.7 .5,.6 .5,.4 .5,1 .5,.9 .5,.8 .5,1.6 .5,1.1 .5,1.3 .5,.7 .5,1.1 .5,1.2 .5,.6 .5,1.2 .5,.9 .5,.1 .5,.3 .5-.1 .5-.1 .5,.3 .5,1.1 .5,1.2 .5,.8 .5,.5 .5,1.6 .5-.7 .5,.6 .5-.2 .5-.2 .5,.1 .5,.4 .5-.8 .5,.5 .5,1.3 .5,0 .5,.6 .5,.3 .5,1.1 .5,.5 .5,.7 .5,.7 .5,.8 .5,1 .5,1.1 .5-.4 .5-.8 .5-1.6 .5-1.1 .5-1.2 .5,.1 .5-.7 .5,.8 .5-.4 .5-.5 .5,.5 .5-.5 .5,.1 .5,.2 .5-1 .5,.2 .5,.3 .5-.3 .5-1.1 .5,.2 .5-.4 .5-.3 .5,.8 .5-.1 .5,.9 .5-.5 .5-.8 .5,.6 .5-.6 .5,.6 .5,.5 .5-.5 .5,0 .5-.6 .5-.6 .5,.1 .5-.7 .5-.1 .5-1.2 .5-.1 .5,0 .5,0 .5-.5 .5-.2 .5-.6 .5,.8 .5-.3 .5-.2 .5,.4 .5,.5 .5,.4 .5-.3 .5,.6 .5,0 .5,0 .5,.6 .5,.1 .5-.3 .5-.2 .5,.2 .5,.1 .5-.8 .5-.2 .5-.3 .5-.2 .5-.5 .5-.1 .5-.4 .5-.5 .5-.7 .5,.2 .5-.6 .5-1.1 .5-.6 .5-.6 .5-.9 .5-.4 .5-.7 .5-.6 .5-1.4 .5-.4 .5-.4 .5-.5 .5-.8 .5-1.5 .5-.7 .5-1.2 .5-.5 .5,.3 .5,.1 .5-.8 .5-.7 .5,.1 .5,.8 .5-.1 .5,.6 .5,.9 .5,.1 .5-.4 .5,1 .5,1.6 .5,1.6 .5,1.3 .5,1.5 .5,1.1 .5,1.4 .5,1.1 .5,.9 .5,.7 .5,0 .5-1.1 .5,.4 .5-.7 .5,.1 .5,.1 .5-.5 .5-.5 .5,.2 .5-.4 .5,0 .5-.3 .5-.3 .5,.8 .5-.4 .5,.4 .5,0 .5,.2 .5,.2 .5,.4 .5,.2 .5-.2 .5,0 .5,.7 .5-.2 .5,.1 .5,.1 .5-.3 .5,.6 .5,.3 .5,.2 .5-.1 .5,.5 .5,.3 .5,.6 .5-.8 .5-.5 .5-1 .5-.2 .5,.3 .5-1.5 .5,0 .5-.8 .5-.5 .5-.7 .5-.4 .5-.6 .5-.6 .5,0 .5-.7 .5-.5 .5-.6 .5,.1 .5-.6 .5-.4 .5-.2 .5-.2 .5-.6 .5,.5 .5,0 .5-.2 .5,.1 .5,0 .5,0 .5,.7 .5,.6 .5,1.2 .5,.6 .5,.6 .5,0 .5-.4 .5,0 .5,.1 .5,.3 .5-.2 .5,.5 .5-.1 .5,.1 .5,.3 .5,.1 .5,.8 .5-.1 .5-.4 .5-.1 .5-.1 .5-1.1 .5,.4 .5-.3 .5,.1 .5-.3 .5,0 .5,0 .5-.5 .5,0 .5,0 .5,.2 .5,.2 .5-.4 .5-.2 .5-.2 .5-.2 .5-.4 .5-.7 .5,.3 .5-1.2 .5,.6 .5-.3 .5,0 .5-1 .5-.1 .5-.5 .5-.4 .5-.1 .5,.4 .5-.5 .5,.6 .5,1.1 .5-.1 .5,.5 .5-.2 .5,1.2 .5,.9 .5,.2 .5,1.5 .5,.8 .5,.5 .5,1 .5,.8 .5-.9 .5-.2 .5-.7 .5-.1 .5-1.9 .5,.4 .5,.5 .5,.3 .5,.1 .5,.3 .5,.4 .5-.2 .5-.8 .5-.4 .5-.5 .5-.7 .5-.5 .5,.2 .5-.9 .5-.1 .5-.5 .5-.5 .5-.1 .5-.4 .5-.1 .5,.1 .5-1.2 .5,.4 .5,.2 .5,.7 .5,.8 .5,.7 .5-.2 .5,.4 .5,.6 .5,.3 .5,.2 .5,.1 .5,.7 .5,0 .5,.9 .5,.3 .5,.8 .5,.9 .5-.3 .5-.6 .5-.3 .5-.8 .5-.3 .5-.7 .5-.6 .5-.4 .5-.6 .5,.2 .5-.9 .5,.5 .5,0 .5,.1 .5-.4 .5,.7 .5-.6 .5,.3 .5-.6 .5-.2 .5,.3 .5,.6 .5-.1 .5-.4 .5-.1 .5,.1 .5,.4 .5-.1 .5,0 .5,.1 .5,.3 .5,.3 .5-.2 .5-.3 .5-.7 .5,0 .5-.7 .5,.3 .5-.4 .5,0 .5-.4 .5,.1 .5-.6 .5,.2 .5-.8 .5,0 .5-.4 .5,.3 .5-1.4 .5,.2 .5,.9 .5-.7 .5-.2 .5-.1 .5-1 .5,.4 .5,.1 .5-.8 .5,.1 .5,.3 .5-.4 .5-.2 .5,.2 .5-.9 .5,.3 .5-.5 .5-.7 .5-.2 .5-.1 .5,.1 .5-.3 .5,.2 .5-.3 .5,0 .5-.2 .5-.1 .5,.6 .5-.5 .5-.3 .5,.2 .5-.6 .5-.7 .5,.5 .5,.4 .5-.6 .5,0 .5,0 .5,.1 .5,.2 .5-.5 .5,0 .5,.8 .5-.2 .5,0 .5,.1 .5,.4 .5-.2 .5,.5 .5-.2 .5,.5 .5,.6 .5,.5 .5,.6 .5-.1 .5,.8 .5,.3 .5,.3 .5,.8 .5,.1 .5,.1 .5,.7 .5,.1 .5,.6 .5,.1 .5,.1 .5,.4 .5,.5 .5,.8 .5-.2 .5,1 .5,0 .5,.8 .5,.9 .5,.3 .5,1 .5-.7 .5-.5 .5-.7 .5-.3 .5-1 .5-1.2 .5-.6 .5-.5 .5-1 .5-1 .5-1 .5,.3 .5-.1 .5,.2 .5,.5 .5-.8 .5,.1 .5-.4 .5,.3 .5-.5 .5-.4 .5-.2 .5,0 .5,.4 .5-.6 .5,.7 .5-.4 .5,.8 .5-.5 .5,.2 .5-.3 .5,.4 .5,0 .5,.4 .5-.7 .5,.9 .5-.6 .5,.1 .5,.2 .5,.2 .5-1 .5,.6 .5,0 .5-.2 .5,0 .5-.2 .5,0 .5-.2 .5-.3 .5-.1 .5-.4 .5,.3 .5-.6 .5,.5 .5-1.1 .5,.6 .5-.5 .5,.4 .5-.1 .5,.2 .5,.2 .5-.4 .5,.3 .5,0 .5,.1 .5-.2 .5,.4 .5-.2 .5,.6 .5-.4 .5,.4 .5-.1 .5-.4 .5,.3 .5-.3 .5-.4 .5,0 .5-.2 .5,.2 .5-.3 .5,0 .5-.1 .5-.1 .5,.1 .5,.5 .5-.6 .5,.1 .5,.2 .5-.1 .5,.2 .5,.4 .5,0 .5-.1 .5,.3 .5,.6 .5,.5 .5,.1 .5,.6 .5-.4 .5,.5 .5,1 .5,0 .5,.6 .5,.1 .5,.3 .5,0 .5-.1 .5,.7 .5-.3 .5,.9 .5,.1 .5,.2 .5,.5 .5,.2 .5-.7 .5,.9 .5-.3 .5,.3 .5,0 .5,.2 .5,0 .5-.4 .5-.1 .5-.7 .5,.7 .5-.7 .5,.2 .5-.4 .5-.1 .5-.3 .5,.2 .5,0 .5-.3 .5-.7 .5-.4 .5,.7 .5-.4 .5,0 .5-.1 .5-.4 .5-.5 .5,.3 .5-.1 .5-.1 .5,.5 .5,.8 .5,1.4 .5,1.6 .5,.3 .5,.1 .5,.7 .5-.5 .5,0 .5,.4 .5-.4 .5-.7 .5,.2 .5-1 .5-.3 .5-.2 .5,0 .5-1.1 .5,.3 .5,0 .5-.1 .5-.6 .5-.8 .5,.7 .5,0 .5,0 .5,.2 .5,0 .5,.1 .5-.2 .5,.8 .5,.2 .5-.4 .5,.3 .5,.1 .5,.3 .5-.3 .5,.2 .5,.1 .5-.7 .5,.3 .5-.5 .5,.1 .5,.2 .5-.2 .5,.2 .5,.2 .5-.2 .5-.2 .5,.2 .5,.6 .5-.2 .5-.3 .5,.2 .5,.3 .5,.5 .5-.7 .5-.5 .5,.5 .5,.5 .5-.1 .5-.6 .5,.3 .5-.6 .5,.1 .5-.3 .5,.7 .5,.6 .5-.3 .5-.3 .5,.2 .5-.5 .5,.3 .5-.3 .5-.2 .5-.1 .5,.2 .5-.5 .5-.1 .5,.8 .5-.7 .5,.5 .5-.8 .5,.2 .5,.4 .5-.7 .5,.1 .5-.1 .5-.1 .5-.2 .5,0 .5,.1 .5-.5 .5,.4 .5-.1 .5,.3 .5,.1 .5-.3 .5-1.2 .5,.5 .5-.3 .5-.2 .5,.4 .5,0 .5,.8 .5-.4 .5,.1 .5-.1 .5,.3 .5,0 .5,.2 .5-.2 .5,0 .5,.1 .5,.5 .5-.5 .5,.1 .5-.1 .5-.2 .5-.2 .5,.5 .5,.7 .5,.3 .5,0 .5,.1 .5,0 .5,0 .5,.5 .5,.7 .5-.1 .5,.7 .5-.7 .5,0 .5-.5 .5-.6 .5,.3 .5-.4 .5-.5 .5,.4 .5-1.1 .5,.3 .5,0 .5-.5 .5-.2 .5,0 .5-.2 .5,.3 .5-.3 .5,0 .5-.7 .5-.1 .5,.1 .5,.3 .5-.1 .5,0 .5,.6 .5,0 .5,.1 .5,.2 .5-.6 .5,.3 .5,.7 .5,.3 .5-.6 .5,0 .5-.3 .5,1 .5-.5 .5,.4 .5,1.4 .5,1.4 .5,1.8 .5,.5 .5,.7 .5,1.4 .5-1.3 .5-.7 .5-1.2 .5-.4 .5,.8 .5,.5 .5,.6 .5,.5 .5,.4 .5,.3 .5,0 .5,0 .5-.3 .5,.3 .5,0 .5-.2 .5,.1" fill="none" stroke="#20f020" stroke-width="0.9" stroke-linejoin="round" />
<path d="M71.5,664.1l.5,.4 .5-.1 .5,.1 .5-.4 .5,.7 .5-.1 .5-.3 .5-.1 .5,.1 .5,.3 .5-.3 .5,.1 .5,.6 .5-.3 .5-.2 .5,.8 .5-.3 .5,0 .5-.2 .5-.3 .5,.4 .5,.5 .5-.7 .5,.6 .5-1.2 .5,.6 .5-.5 .5,.9 .5-.2 .5-.9 .5,.7 .5-.5 .5,.3 .5-.1 .5,.2 .5,.2 .5-.1 .5-.1 .5-.5 .5,.5 .5-.7 .5,1 .5,.1 .5-.6 .5,.3 .5-.2 .5,.7 .5-.1 .5,0 .5,.2 .5-.1 .5,.2 .5-.3 .5,.1 .5-.1 .5,.6 .5-.5 .5-.2 .5,.6 .5-.6 .5,0 .5,.6 .5-.7 .5-.3 .5,.4 .5,.6 .5-.9 .5-.3 .5,.4 .5,.3 .5-.3 .5,.1 .5,.2 .5-.1 .5-.2 .5,0 .5-.1 .5,.9 .5-.6 .5-.8 .5-.2 .5-.3 .5-.4 .5,1 .5,.1 .5,0 .5-.5 .5,.3 .5-.8 .5,.2 .5-.1 .5,.1 .5,.4 .5-.2 .5,0 .5,.1 .5,.5 .5-.1 .5,0 .5,.1 .5,.7 .5-.2 .5,.5 .5-.2 .5,.3 .5,.1 .5,1 .5-.7 .5,.4 .5,0 .5,.4 .5-.3 .5,.2 .5,.1 .5,.9 .5-.2 .5,.5 .5,.2 .5-.4 .5,.1 .5,.1 .5-.5 .5-.2 .5-.4 .5,.1 .5-.2 .5-.2 .5,.2 .5-.7 .5,0 .5-.3 .5-.1 .5,.4 .5,0 .5-1.6 .5-.2 .5-.6 .5-.4 .5-1.3 .5,.1 .5,0 .5,1.4 .5-.3 .5,.6 .5,.9 .5,0 .5-.5 .5,.1 .5,.1 .5-.5 .5-.3 .5,.2 .5-.9 .5-.1 .5,.2 .5-1.1 .5,1 .5,.4 .5,.7 .5,.4 .5,.1 .5,1.6 .5,.3 .5,1.3 .5,0 .5,.8 .5,.6 .5,0 .5-.1 .5-.7 .5,.4 .5-.8 .5-1 .5,.1 .5,.3 .5-.6 .5,0 .5-.1 .5-.3 .5,1.1 .5,.2 .5-.2 .5-.1 .5,.1 .5-.4 .5,0 .5,.7 .5-.4 .5,.5 .5,.1 .5-.3 .5,.1 .5-1 .5,1 .5-.2 .5,0 .5,.5 .5-.3 .5,.5 .5-.8 .5,.2 .5,.5 .5-.2 .5-.7 .5,0 .5,.6 .5-.3 .5-1.1 .5,.3 .5-.2 .5,.2 .5-.9 .5,1.2 .5,.5 .5,.9 .5-.1 .5,.2 .5-.2 .5,1.1 .5-.1 .5,.9 .5,.4 .5-.1 .5,0 .5,.3 .5,.7 .5,0 .5,.5 .5,.3 .5-.2 .5,.1 .5,.9 .5,.2 .5-.5 .5,0 .5-.3 .5,.3 .5-.4 .5-.4 .5,.2 .5-.6 .5-.1 .5,.5 .5-.8 .5,.5 .5,.3 .5,0 .5,.3 .5-.5 .5,.4 .5,.7 .5-.3 .5,.1 .5,.7 .5-.3 .5-.3 .5,0 .5-.1 .5,.2 .5,.4 .5-.1 .5,.7 .5,.1 .5,.1 .5-.8 .5,.3 .5,.5 .5,0 .5,.3 .5,.1 .5,.1 .5-.8 .5-.1 .5,.9 .5-.2 .5,.2 .5,0 .5-.3 .5,.7 .5-.4 .5,.2 .5,.4 .5,.6 .5-.6 .5,.4 .5,.3 .5-.6 .5-.1 .5,.1 .5,.1 .5,0 .5,0 .5-.2 .5-.4 .5,.2 .5-.8 .5,.6 .5,0 .5,.1 .5,.1 .5,.5 .5-.9 .5,.2 .5,.4 .5-.3 .5,.5 .5-.3 .5-.2 .5,.3 .5-.1 .5-.1 .5,0 .5-1.3 .5,.2 .5,.6 .5-.7 .5-.1 .5-.7 .5-.5 .5-.3 .5,.5 .5-.3 .5-.4 .5,.3 .5-.7 .5-.8 .5,.1 .5,.6 .5-.4 .5-.7 .5-.5 .5,.1 .5-1 .5-.7 .5,.9 .5,.5 .5,.1 .5,1.3 .5,.1 .5-.1 .5,.3 .5,.6 .5-.3 .5,.3 .5,.4 .5-.4 .5,.4 .5,.1 .5,.1 .5,.3 .5-.4 .5-.1 .5,.8 .5-.5 .5,.2 .5,.1 .5,.1 .5,0 .5-.2 .5-.3 .5,.3 .5-.8 .5,.7 .5,.2 .5-.6 .5,.6 .5-.6 .5,.1 .5-.7 .5,1.6 .5-.4 .5-.5 .5-.1 .5-.6 .5,.4 .5-.5 .5,0 .5-.3 .5-.1 .5,.3 .5-.8 .5,.3 .5-.4 .5-.1 .5-.3 .5-.3 .5,.2 .5,.2 .5-.1 .5,.4 .5-.1 .5,.6 .5,.9 .5-.3 .5,.6 .5-.2 .5-.9 .5,.3 .5,.6 .5-.4 .5-1 .5,.1 .5-.3 .5,.8 .5-1.3 .5,.3 .5,.9 .5-.9 .5-.3 .5,.6 .5-.1 .5,.4 .5,.2 .5,0 .5,.8 .5-.2 .5-1.1 .5-.2 .5-.1 .5,.1 .5-.6 .5,.5 .5-.6 .5,.1 .5-.3 .5-.4 .5,.1 .5-.2 .5-.4 .5-.1 .5,.4 .5-.1 .5-.4 .5,.3 .5,.2 .5-.5 .5,.7 .5,.6 .5-1.1 .5,.6 .5,.9 .5-.6 .5,.5 .5,.5 .5-.2 .5-.2 .5,.4 .5-.3 .5-.2 .5,.2 .5-.5 .5,.2 .5-.3 .5,.8 .5-.7 .5-.4 .5,.6 .5-.4 .5-.3 .5,.3 .5,.2 .5,.5 .5-.8 .5,1.1 .5,0 .5,.3 .5-.2 .5,.4 .5-.7 .5-.5 .5,.7 .5-.2 .5,.7 .5-.2 .5,.4 .5-.4 .5,.5 .5,.1 .5,.3 .5-.4 .5-.1 .5-.4 .5,.6 .5,.1 .5-.4 .5,0 .5-.7 .5,.8 .5-.4 .5,.1 .5,.1 .5-.1 .5-1.1 .5,.5 .5-.1 .5,.3 .5-.8 .5,.9 .5-.1 .5-.2 .5-.1 .5-.2 .5,.5 .5-.7 .5,.9 .5,0 .5,.7 .5,.1 .5-.2 .5,.3 .5-.3 .5,.7 .5-.2 .5-.3 .5-.3 .5,.3 .5-.2 .5-.4 .5-.4 .5,.1 .5,0 .5-.8 .5,.3 .5-.5 .5-.3 .5-1 .5,1 .5-.4 .5,.5 .5-.5 .5-.6 .5-.2 .5,.2 .5,.1 .5-.3 .5,.5 .5,0 .5-.2 .5,.6 .5,0 .5-.3 .5,.3 .5,.2 .5,.3 .5,.2 .5-.3 .5,.2 .5,.2 .5-.6 .5,.3 .5-.3 .5-.1 .5-1.2 .5,.6 .5-.9 .5-.6 .5,.2 .5-.8 .5,.5 .5,.3 .5-.5 .5,.1 .5-.4 .5-.4 .5-.2 .5-.2 .5,.3 .5-.2 .5,.2 .5,1.2 .5-.3 .5,1.2 .5,0 .5-.3 .5,.9 .5,.3 .5,.3 .5,.6 .5,1 .5,.3 .5-.1 .5,.6 .5-.9 .5,.2 .5-.3 .5-.2 .5,.5 .5-.2 .5-.6 .5,.3 .5,.3 .5-1.2 .5,.6 .5-.4 .5-.4 .5,1.1 .5-.5 .5,1.1 .5-.6 .5,.5 .5-.5 .5,.7 .5,.1 .5-.1 .5-1.2 .5,.5 .5,.1 .5-.1 .5,.2 .5-.1 .5,.4 .5,0 .5-.4 .5,.5 .5,.2 .5-.5 .5,.8 .5-.7 .5,1 .5-1.1 .5-.5 .5,.8 .5-.7 .5-.2 .5,.5 .5,.2 .5-.3 .5,0 .5-1 .5,.8 .5,.3 .5-.1 .5,0 .5,.1 .5-.4 .5,.1 .5,.1 .5,.4 .5,0 .5,.8 .5,.1 .5-1.2 .5,.6 .5-.3 .5,.4 .5-.9 .5,.1 .5,.4 .5-.2 .5,.4 .5,.2 .5-.8 .5,.4 .5-1.5 .5,1.4 .5-.2 .5-.1 .5,.3 .5,.1 .5-.1 .5,.7 .5-.6 .5-.6 .5,.8 .5-.1 .5,0 .5-.2 .5,.4 .5,.5 .5,.1 .5-.1 .5-.1 .5,0 .5,1 .5,.1 .5,.5 .5,0 .5,0 .5-.3 .5-.8 .5-.2 .5,.1 .5-.4 .5-.3 .5,.1 .5-.6 .5-.1 .5-.2 .5,0 .5,.6 .5-1 .5-.4 .5,.2 .5-.1 .5-.3 .5,0 .5-.8 .5,.2 .5,.4 .5-.4 .5,.1 .5,.7 .5-.4 .5-.4 .5,.3 .5,.1 .5-.8 .5-.1 .5,.7 .5,.2 .5,.3 .5,.7 .5-1.1 .5,1 .5,.4 .5-.1 .5,.6 .5,.1 .5,.1 .5,.6 .5,.3 .5,1.1 .5,0 .5,.5 .5,.1 .5,.2 .5,.6 .5,.1 .5-.9 .5,.3 .5-.2 .5-.2 .5,.9 .5-.9 .5,.2 .5-.8 .5,.4 .5,0 .5-.2 .5-.6 .5,.4 .5,.4 .5,.2 .5-.1 .5-.4 .5,.1 .5,.5 .5-.1 .5-.2 .5,.2 .5,.3 .5,.1 .5-.1 .5,.4 .5-.2 .5,.2 .5,.7 .5-.2 .5,.3 .5,.2 .5-1 .5,.1 .5-.1 .5,.7 .5,.1 .5-.7 .5,.3 .5,.3 .5-.7 .5-.2 .5,.6 .5-.8 .5-.1 .5,.9 .5-.3 .5,.2 .5-.1 .5,.3 .5-.1 .5-.2 .5-.3 .5,.6 .5-.6 .5,.1 .5,.1 .5-.1 .5-.3 .5-.1 .5,.5 .5-.7 .5,.7 .5-.3 .5,.1 .5-.6 .5,.5 .5-.5 .5,.8 .5,.1 .5-.2 .5,.3 .5,0 .5-.3 .5-.2 .5-.2 .5-.2 .5-.1 .5-.6 .5-.4 .5,.2 .5,.5 .5-.3 .5,.1 .5-.2 .5,.3 .5,.1 .5-.3 .5,.9 .5,.1 .5,0 .5-.6 .5,1 .5-.2 .5,.1 .5-.1 .5-.6 .5,1.1 .5-.7 .5-1 .5,.7 .5-.1 .5,.3 .5-.3 .5,.2 .5-.6 .5,.4 .5-.7 .5,.8 .5,.2 .5-.2 .5,.5 .5-.1 .5-.4 .5,.8 .5,.3 .5,0 .5-.1 .5-.1 .5-.1 .5,.6 .5-.3 .5-.1 .5-.3 .5-.5 .5-.5 .5,.2 .5,.3 .5-.4 .5-.3 .5,.1 .5,.4 .5-.5 .5-.1 .5-.2 .5,.8 .5,.3 .5-.6 .5,.1 .5-.1 .5,.3 .5-.4 .5,.2 .5,.6 .5,.4 .5,.2 .5,.9 .5-.1 .5-.2 .5,.2 .5,.1 .5-1.2 .5,.1 .5-.1 .5-.8 .5-.3 .5,0 .5-1 .5-1.2 .5-.7 .5-.8 .5-1.3 .5-1.4 .5-.4 .5-1.6 .5-1.4 .5-1.5 .5-1.5 .5-.7 .5-1.4 .5-.8 .5-.8 .5,.6 .5,1.4 .5-.6 .5,1.1 .5,.4 .5,.6 .5-.5 .5,.4" fill="none" stroke="#3030ff" stroke-width="0.9" stroke-linejoin="round" />
<line x1="77.3" y1="660.9" x2="95.3" y2="660.9" stroke="#70ff70" stroke-width="1.6"/>
<text x="96.6" y="664.7" font-size="10.6" text-anchor="start" fill="#20f020" font-weight="normal" font-family='"Liberation Sans", sans-serif' >P<tspan font-size="7" dy="4">p</tspan><tspan dy="-4" font-size="1">&#8203;</tspan></text>
<line x1="77.3" y1="672.2" x2="95.3" y2="672.2" stroke="#ff8080" stroke-width="1.6"/>
<text x="96.6" y="676" font-size="10.6" text-anchor="start" fill="#ff2020" font-weight="normal" font-family='"Liberation Sans", sans-serif' >P<tspan font-size="7" dy="4">e</tspan><tspan dy="-4" font-size="1">&#8203;</tspan></text>
<line x1="77.3" y1="683.3" x2="95.3" y2="683.3" stroke="#666" stroke-width="1.3"/>
<text x="96.6" y="687.1" font-size="10.6" text-anchor="start" fill="#222" font-weight="normal" font-family='"Liberation Sans", sans-serif' >P<tspan font-size="7" dy="4">b</tspan><tspan dy="-4" font-size="1">&#8203;</tspan></text>
<line x1="77.3" y1="694.6" x2="95.3" y2="694.6" stroke="#5050ff" stroke-width="1.0"/>
<text x="96.6" y="698.4" font-size="10.6" text-anchor="start" fill="#2020ff" font-weight="normal" font-family='"Liberation Sans", sans-serif' >P<tspan font-size="7" dy="4">tot</tspan><tspan dy="-4" font-size="1">&#8203;</tspan></text>
</g>
<line x1="115.5" y1="658.5" x2="115.5" y2="722.7" stroke="#00a000" stroke-width="1.3" stroke-dasharray="6,3"/>
<line x1="125.7" y1="658.5" x2="125.7" y2="722.7" stroke="#ff2020" stroke-width="1.2" stroke-dasharray="6,3"/>
<line x1="146.3" y1="658.5" x2="146.3" y2="722.7" stroke="#ff2020" stroke-width="1.2" stroke-dasharray="6,3"/>
<line x1="143.7" y1="658.5" x2="143.7" y2="722.7" stroke="#ff30ff" stroke-width="1.4" stroke-dasharray="1.5,3"/>
<line x1="274.2" y1="658.5" x2="274.2" y2="722.7" stroke="#ff30ff" stroke-width="1.4" stroke-dasharray="1.5,3"/>
<line x1="156.7" y1="658.5" x2="156.7" y2="722.7" stroke="#00a000" stroke-width="1.0" stroke-dasharray="2,4"/>
<line x1="156.7" y1="658.5" x2="156.7" y2="722.7" stroke="#0000e0" stroke-width="1.2" stroke-dasharray="2,1.5"/>
<rect x="71.5" y="176.5" width="454" height="68.3" fill="none" stroke="#000" stroke-width="1"/>
<path d="M74.9,176.5v4M74.9,244.8v-4M95.6,176.5v4M95.6,244.8v-4M116.3,176.5v4M116.3,244.8v-4M137,176.5v9M137,244.8v-9M157.7,176.5v4M157.7,244.8v-4M178.4,176.5v4M178.4,244.8v-4M199.1,176.5v4M199.1,244.8v-4M219.8,176.5v9M219.8,244.8v-9M240.4,176.5v4M240.4,244.8v-4M261.1,176.5v4M261.1,244.8v-4M281.8,176.5v4M281.8,244.8v-4M302.5,176.5v9M302.5,244.8v-9M323.2,176.5v4M323.2,244.8v-4M343.9,176.5v4M343.9,244.8v-4M364.6,176.5v4M364.6,244.8v-4M385.3,176.5v9M385.3,244.8v-9M406,176.5v4M406,244.8v-4M426.7,176.5v4M426.7,244.8v-4M447.3,176.5v4M447.3,244.8v-4M468,176.5v9M468,244.8v-9M488.7,176.5v4M488.7,244.8v-4M509.4,176.5v4M509.4,244.8v-4" stroke="#222" stroke-width="1" fill="none"/>
<rect x="71.5" y="244.8" width="454" height="68.3" fill="none" stroke="#000" stroke-width="1"/>
<path d="M74.9,244.8v4M74.9,313.1v-4M95.6,244.8v4M95.6,313.1v-4M116.3,244.8v4M116.3,313.1v-4M137,244.8v9M137,313.1v-9M157.7,244.8v4M157.7,313.1v-4M178.4,244.8v4M178.4,313.1v-4M199.1,244.8v4M199.1,313.1v-4M219.8,244.8v9M219.8,313.1v-9M240.4,244.8v4M240.4,313.1v-4M261.1,244.8v4M261.1,313.1v-4M281.8,244.8v4M281.8,313.1v-4M302.5,244.8v9M302.5,313.1v-9M323.2,244.8v4M323.2,313.1v-4M343.9,244.8v4M343.9,313.1v-4M364.6,244.8v4M364.6,313.1v-4M385.3,244.8v9M385.3,313.1v-9M406,244.8v4M406,313.1v-4M426.7,244.8v4M426.7,313.1v-4M447.3,244.8v4M447.3,313.1v-4M468,244.8v9M468,313.1v-9M488.7,244.8v4M488.7,313.1v-4M509.4,244.8v4M509.4,313.1v-4" stroke="#222" stroke-width="1" fill="none"/>
<rect x="71.5" y="313.1" width="454" height="68.3" fill="none" stroke="#000" stroke-width="1"/>
<path d="M74.9,313.1v4M74.9,381.3v-4M95.6,313.1v4M95.6,381.3v-4M116.3,313.1v4M116.3,381.3v-4M137,313.1v9M137,381.3v-9M157.7,313.1v4M157.7,381.3v-4M178.4,313.1v4M178.4,381.3v-4M199.1,313.1v4M199.1,381.3v-4M219.8,313.1v9M219.8,381.3v-9M240.4,313.1v4M240.4,381.3v-4M261.1,313.1v4M261.1,381.3v-4M281.8,313.1v4M281.8,381.3v-4M302.5,313.1v9M302.5,381.3v-9M323.2,313.1v4M323.2,381.3v-4M343.9,313.1v4M343.9,381.3v-4M364.6,313.1v4M364.6,381.3v-4M385.3,313.1v9M385.3,381.3v-9M406,313.1v4M406,381.3v-4M426.7,313.1v4M426.7,381.3v-4M447.3,313.1v4M447.3,381.3v-4M468,313.1v9M468,381.3v-9M488.7,313.1v4M488.7,381.3v-4M509.4,313.1v4M509.4,381.3v-4" stroke="#222" stroke-width="1" fill="none"/>
<rect x="71.5" y="381.3" width="454" height="68.3" fill="none" stroke="#000" stroke-width="1"/>
<path d="M74.9,381.3v4M74.9,449.6v-4M95.6,381.3v4M95.6,449.6v-4M116.3,381.3v4M116.3,449.6v-4M137,381.3v9M137,449.6v-9M157.7,381.3v4M157.7,449.6v-4M178.4,381.3v4M178.4,449.6v-4M199.1,381.3v4M199.1,449.6v-4M219.8,381.3v9M219.8,449.6v-9M240.4,381.3v4M240.4,449.6v-4M261.1,381.3v4M261.1,449.6v-4M281.8,381.3v4M281.8,449.6v-4M302.5,381.3v9M302.5,449.6v-9M323.2,381.3v4M323.2,449.6v-4M343.9,381.3v4M343.9,449.6v-4M364.6,381.3v4M364.6,449.6v-4M385.3,381.3v9M385.3,449.6v-9M406,381.3v4M406,449.6v-4M426.7,381.3v4M426.7,449.6v-4M447.3,381.3v4M447.3,449.6v-4M468,381.3v9M468,449.6v-9M488.7,381.3v4M488.7,449.6v-4M509.4,381.3v4M509.4,449.6v-4" stroke="#222" stroke-width="1" fill="none"/>
<rect x="71.5" y="449.6" width="454" height="68.3" fill="none" stroke="#000" stroke-width="1"/>
<path d="M74.9,449.6v4M74.9,517.9v-4M95.6,449.6v4M95.6,517.9v-4M116.3,449.6v4M116.3,517.9v-4M137,449.6v9M137,517.9v-9M157.7,449.6v4M157.7,517.9v-4M178.4,449.6v4M178.4,517.9v-4M199.1,449.6v4M199.1,517.9v-4M219.8,449.6v9M219.8,517.9v-9M240.4,449.6v4M240.4,517.9v-4M261.1,449.6v4M261.1,517.9v-4M281.8,449.6v4M281.8,517.9v-4M302.5,449.6v9M302.5,517.9v-9M323.2,449.6v4M323.2,517.9v-4M343.9,449.6v4M343.9,517.9v-4M364.6,449.6v4M364.6,517.9v-4M385.3,449.6v9M385.3,517.9v-9M406,449.6v4M406,517.9v-4M426.7,449.6v4M426.7,517.9v-4M447.3,449.6v4M447.3,517.9v-4M468,449.6v9M468,517.9v-9M488.7,449.6v4M488.7,517.9v-4M509.4,449.6v4M509.4,517.9v-4" stroke="#222" stroke-width="1" fill="none"/>
<rect x="71.5" y="517.9" width="454" height="68.3" fill="none" stroke="#000" stroke-width="1"/>
<path d="M74.9,517.9v4M74.9,586.2v-4M95.6,517.9v4M95.6,586.2v-4M116.3,517.9v4M116.3,586.2v-4M137,517.9v9M137,586.2v-9M157.7,517.9v4M157.7,586.2v-4M178.4,517.9v4M178.4,586.2v-4M199.1,517.9v4M199.1,586.2v-4M219.8,517.9v9M219.8,586.2v-9M240.4,517.9v4M240.4,586.2v-4M261.1,517.9v4M261.1,586.2v-4M281.8,517.9v4M281.8,586.2v-4M302.5,517.9v9M302.5,586.2v-9M323.2,517.9v4M323.2,586.2v-4M343.9,517.9v4M343.9,586.2v-4M364.6,517.9v4M364.6,586.2v-4M385.3,517.9v9M385.3,586.2v-9M406,517.9v4M406,586.2v-4M426.7,517.9v4M426.7,586.2v-4M447.3,517.9v4M447.3,586.2v-4M468,517.9v9M468,586.2v-9M488.7,517.9v4M488.7,586.2v-4M509.4,517.9v4M509.4,586.2v-4" stroke="#222" stroke-width="1" fill="none"/>
<rect x="71.5" y="586.2" width="454" height="68.3" fill="none" stroke="#000" stroke-width="1"/>
<path d="M74.9,586.2v4M74.9,654.5v-4M95.6,586.2v4M95.6,654.5v-4M116.3,586.2v4M116.3,654.5v-4M137,586.2v9M137,654.5v-9M157.7,586.2v4M157.7,654.5v-4M178.4,586.2v4M178.4,654.5v-4M199.1,586.2v4M199.1,654.5v-4M219.8,586.2v9M219.8,654.5v-9M240.4,586.2v4M240.4,654.5v-4M261.1,586.2v4M261.1,654.5v-4M281.8,586.2v4M281.8,654.5v-4M302.5,586.2v9M302.5,654.5v-9M323.2,586.2v4M323.2,654.5v-4M343.9,586.2v4M343.9,654.5v-4M364.6,586.2v4M364.6,654.5v-4M385.3,586.2v9M385.3,654.5v-9M406,586.2v4M406,654.5v-4M426.7,586.2v4M426.7,654.5v-4M447.3,586.2v4M447.3,654.5v-4M468,586.2v9M468,654.5v-9M488.7,586.2v4M488.7,654.5v-4M509.4,586.2v4M509.4,654.5v-4" stroke="#222" stroke-width="1" fill="none"/>
<rect x="71.5" y="654.5" width="454" height="68.3" fill="none" stroke="#000" stroke-width="1"/>
<path d="M74.9,654.5v4M74.9,722.7v-4M95.6,654.5v4M95.6,722.7v-4M116.3,654.5v4M116.3,722.7v-4M137,654.5v9M137,722.7v-9M157.7,654.5v4M157.7,722.7v-4M178.4,654.5v4M178.4,722.7v-4M199.1,654.5v4M199.1,722.7v-4M219.8,654.5v9M219.8,722.7v-9M240.4,654.5v4M240.4,722.7v-4M261.1,654.5v4M261.1,722.7v-4M281.8,654.5v4M281.8,722.7v-4M302.5,654.5v9M302.5,722.7v-9M323.2,654.5v4M323.2,722.7v-4M343.9,654.5v4M343.9,722.7v-4M364.6,654.5v4M364.6,722.7v-4M385.3,654.5v9M385.3,722.7v-9M406,654.5v4M406,722.7v-4M426.7,654.5v4M426.7,722.7v-4M447.3,654.5v4M447.3,722.7v-4M468,654.5v9M468,722.7v-9M488.7,654.5v4M488.7,722.7v-4M509.4,654.5v4M509.4,722.7v-4" stroke="#222" stroke-width="1" fill="none"/>
<line x1="71.5" y1="244.8" x2="525.5" y2="244.8" stroke="#000" stroke-width="1.7"/>
<line x1="71.5" y1="313.1" x2="525.5" y2="313.1" stroke="#000" stroke-width="1.7"/>
<line x1="71.5" y1="381.3" x2="525.5" y2="381.3" stroke="#000" stroke-width="1.7"/>
<line x1="71.5" y1="449.6" x2="525.5" y2="449.6" stroke="#000" stroke-width="1.7"/>
<line x1="71.5" y1="517.9" x2="525.5" y2="517.9" stroke="#000" stroke-width="1.7"/>
<line x1="71.5" y1="586.2" x2="525.5" y2="586.2" stroke="#000" stroke-width="1.7"/>
<line x1="71.5" y1="654.5" x2="525.5" y2="654.5" stroke="#000" stroke-width="1.7"/>
<path d="M71.5,230h5M525.5,230h-5M71.5,210.6h5M525.5,210.6h-5M71.5,191.2h5M525.5,191.2h-5M71.5,239.7h2.5M525.5,239.7h-2.5M71.5,220.3h2.5M525.5,220.3h-2.5M71.5,200.9h2.5M525.5,200.9h-2.5M71.5,181.5h2.5M525.5,181.5h-2.5" stroke="#222" stroke-width="1" fill="none"/>
<text x="69" y="233.8" font-size="10.95" text-anchor="end" fill="#000" font-weight="normal" font-family='"Liberation Sans", sans-serif' >0</text>
<text x="69" y="214.4" font-size="10.95" text-anchor="end" fill="#000" font-weight="normal" font-family='"Liberation Sans", sans-serif' >20</text>
<text x="69" y="195" font-size="10.95" text-anchor="end" fill="#000" font-weight="normal" font-family='"Liberation Sans", sans-serif' >40</text>
<text transform="translate(44,210) rotate(-90)" font-size="10.95" text-anchor="middle" fill="#000" font-family='"Liberation Sans", sans-serif'>B<tspan font-size="9.4" dy="3.5">LMN</tspan><tspan dy="-3.5" font-size="1">&#8203;</tspan> [nT]</text>
<path d="M71.5,253.3h6M525.5,253.3h-6M71.5,269.6h6M525.5,269.6h-6M71.5,285.6h6M525.5,285.6h-6M71.5,301.7h6M525.5,301.7h-6" stroke="#222" stroke-width="1" fill="none"/>
<path d="M71.5,248.5h3M525.5,248.5h-3M71.5,245.6h3M525.5,245.6h-3M71.5,264.8h3M525.5,264.8h-3M71.5,261.9h3M525.5,261.9h-3M71.5,259.9h3M525.5,259.9h-3M71.5,258.3h3M525.5,258.3h-3M71.5,257.1h3M525.5,257.1h-3M71.5,256h3M525.5,256h-3M71.5,255.1h3M525.5,255.1h-3M71.5,254.2h3M525.5,254.2h-3M71.5,280.8h3M525.5,280.8h-3M71.5,277.9h3M525.5,277.9h-3M71.5,275.9h3M525.5,275.9h-3M71.5,274.3h3M525.5,274.3h-3M71.5,273.1h3M525.5,273.1h-3M71.5,272h3M525.5,272h-3M71.5,271.1h3M525.5,271.1h-3M71.5,270.2h3M525.5,270.2h-3M71.5,296.9h3M525.5,296.9h-3M71.5,294h3M525.5,294h-3M71.5,292h3M525.5,292h-3M71.5,290.4h3M525.5,290.4h-3M71.5,289.2h3M525.5,289.2h-3M71.5,288.1h3M525.5,288.1h-3M71.5,287.2h3M525.5,287.2h-3M71.5,286.3h3M525.5,286.3h-3M71.5,313h3M525.5,313h-3M71.5,310.1h3M525.5,310.1h-3M71.5,308.1h3M525.5,308.1h-3M71.5,306.5h3M525.5,306.5h-3M71.5,305.3h3M525.5,305.3h-3M71.5,304.2h3M525.5,304.2h-3M71.5,303.3h3M525.5,303.3h-3M71.5,302.4h3M525.5,302.4h-3" stroke="#222" stroke-width="1" fill="none"/>
<text x="527.7" y="257.8" font-size="10.95" text-anchor="start" fill="#000" font-weight="normal" font-family='"Liberation Sans", sans-serif' >10<tspan font-size="8.5" dy="-5">4</tspan><tspan dy="5" font-size="1">&#8203;</tspan></text>
<text x="527.7" y="274.1" font-size="10.95" text-anchor="start" fill="#000" font-weight="normal" font-family='"Liberation Sans", sans-serif' >10<tspan font-size="8.5" dy="-5">3</tspan><tspan dy="5" font-size="1">&#8203;</tspan></text>
<text x="527.7" y="290.1" font-size="10.95" text-anchor="start" fill="#000" font-weight="normal" font-family='"Liberation Sans", sans-serif' >10<tspan font-size="8.5" dy="-5">2</tspan><tspan dy="5" font-size="1">&#8203;</tspan></text>
<text x="527.7" y="306.2" font-size="10.95" text-anchor="start" fill="#000" font-weight="normal" font-family='"Liberation Sans", sans-serif' >10<tspan font-size="8.5" dy="-5">1</tspan><tspan dy="5" font-size="1">&#8203;</tspan></text>
<text transform="translate(558,279) rotate(-90)" font-size="10.95" text-anchor="middle" fill="#000" font-family='"Liberation Sans", sans-serif'>Energy (eV)</text>
<path d="M71.5,380.7h5M525.5,380.7h-5M71.5,366.5h5M525.5,366.5h-5M71.5,352.3h5M525.5,352.3h-5M71.5,338.2h5M525.5,338.2h-5M71.5,324h5M525.5,324h-5M71.5,373.6h2.5M525.5,373.6h-2.5M71.5,359.4h2.5M525.5,359.4h-2.5M71.5,345.2h2.5M525.5,345.2h-2.5M71.5,331.1h2.5M525.5,331.1h-2.5M71.5,316.9h2.5M525.5,316.9h-2.5" stroke="#222" stroke-width="1" fill="none"/>
<text x="69" y="384.5" font-size="10.95" text-anchor="end" fill="#000" font-weight="normal" font-family='"Liberation Sans", sans-serif' >100</text>
<text x="69" y="370.3" font-size="10.95" text-anchor="end" fill="#000" font-weight="normal" font-family='"Liberation Sans", sans-serif' >120</text>
<text x="69" y="356.1" font-size="10.95" text-anchor="end" fill="#000" font-weight="normal" font-family='"Liberation Sans", sans-serif' >140</text>
<text x="69" y="342" font-size="10.95" text-anchor="end" fill="#000" font-weight="normal" font-family='"Liberation Sans", sans-serif' >160</text>
<text x="69" y="327.8" font-size="10.95" text-anchor="end" fill="#000" font-weight="normal" font-family='"Liberation Sans", sans-serif' >180</text>
<text transform="translate(43,347) rotate(-90)" font-size="10.95" text-anchor="middle" fill="#000" font-family='"Liberation Sans", sans-serif'>| V<tspan font-size="9.4" dy="3.5">i</tspan><tspan dy="-3.5" font-size="1">&#8203;</tspan> | [km/s]</text>
<path d="M71.5,382.4h5M525.5,382.4h-5M71.5,395.5h5M525.5,395.5h-5M71.5,408.6h5M525.5,408.6h-5M71.5,421.7h5M525.5,421.7h-5M71.5,434.8h5M525.5,434.8h-5M71.5,447.9h5M525.5,447.9h-5M71.5,388.9h2.5M525.5,388.9h-2.5M71.5,402.1h2.5M525.5,402.1h-2.5M71.5,415.1h2.5M525.5,415.1h-2.5M71.5,428.2h2.5M525.5,428.2h-2.5M71.5,441.3h2.5M525.5,441.3h-2.5" stroke="#222" stroke-width="1" fill="none"/>
<text x="527.7" y="386.2" font-size="10.95" text-anchor="start" fill="#000" font-weight="normal" font-family='"Liberation Sans", sans-serif' >150</text>
<text x="527.7" y="399.3" font-size="10.95" text-anchor="start" fill="#000" font-weight="normal" font-family='"Liberation Sans", sans-serif' >100</text>
<text x="527.7" y="412.4" font-size="10.95" text-anchor="start" fill="#000" font-weight="normal" font-family='"Liberation Sans", sans-serif' >50</text>
<text x="527.7" y="425.5" font-size="10.95" text-anchor="start" fill="#000" font-weight="normal" font-family='"Liberation Sans", sans-serif' >0</text>
<text x="527.7" y="438.6" font-size="10.95" text-anchor="start" fill="#000" font-weight="normal" font-family='"Liberation Sans", sans-serif' >-50</text>
<text x="527.7" y="451.7" font-size="10.95" text-anchor="start" fill="#000" font-weight="normal" font-family='"Liberation Sans", sans-serif' >-100</text>
<text transform="translate(564,416) rotate(-90)" font-size="10.95" text-anchor="middle" fill="#000" font-family='"Liberation Sans", sans-serif'>V<tspan font-size="9.4" dy="3.5">i LMN</tspan><tspan dy="-3.5" font-size="1">&#8203;</tspan> [km/s]</text>
<path d="M71.5,503.3h5M525.5,503.3h-5M71.5,489.1h5M525.5,489.1h-5M71.5,474.9h5M525.5,474.9h-5M71.5,460.7h5M525.5,460.7h-5M71.5,510.4h2.5M525.5,510.4h-2.5M71.5,496.2h2.5M525.5,496.2h-2.5M71.5,482h2.5M525.5,482h-2.5M71.5,467.8h2.5M525.5,467.8h-2.5M71.5,453.6h2.5M525.5,453.6h-2.5" stroke="#222" stroke-width="1" fill="none"/>
<text x="69" y="507.1" font-size="10.95" text-anchor="end" fill="#000" font-weight="normal" font-family='"Liberation Sans", sans-serif' >30</text>
<text x="69" y="492.9" font-size="10.95" text-anchor="end" fill="#000" font-weight="normal" font-family='"Liberation Sans", sans-serif' >40</text>
<text x="69" y="478.7" font-size="10.95" text-anchor="end" fill="#000" font-weight="normal" font-family='"Liberation Sans", sans-serif' >50</text>
<text x="69" y="464.5" font-size="10.95" text-anchor="end" fill="#000" font-weight="normal" font-family='"Liberation Sans", sans-serif' >60</text>
<text transform="translate(44,484) rotate(-90)" font-size="10.95" text-anchor="middle" fill="#000" font-family='"Liberation Sans", sans-serif'>N [cm<tspan font-size="8.8" dy="-5">-3</tspan><tspan dy="5" font-size="1">&#8203;</tspan>]</text>
<path d="M71.5,574.3h5M525.5,574.3h-5M71.5,562.2h5M525.5,562.2h-5M71.5,550.1h5M525.5,550.1h-5M71.5,538h5M525.5,538h-5M71.5,525.9h5M525.5,525.9h-5M71.5,580.4h2.5M525.5,580.4h-2.5M71.5,568.2h2.5M525.5,568.2h-2.5M71.5,556.1h2.5M525.5,556.1h-2.5M71.5,544h2.5M525.5,544h-2.5M71.5,531.9h2.5M525.5,531.9h-2.5M71.5,519.8h2.5M525.5,519.8h-2.5" stroke="#222" stroke-width="1" fill="none"/>
<text x="527.7" y="578.1" font-size="10.95" text-anchor="start" fill="#000" font-weight="normal" font-family='"Liberation Sans", sans-serif' >0.2</text>
<text x="527.7" y="566" font-size="10.95" text-anchor="start" fill="#000" font-weight="normal" font-family='"Liberation Sans", sans-serif' >0.4</text>
<text x="527.7" y="553.9" font-size="10.95" text-anchor="start" fill="#000" font-weight="normal" font-family='"Liberation Sans", sans-serif' >0.6</text>
<text x="527.7" y="541.8" font-size="10.95" text-anchor="start" fill="#000" font-weight="normal" font-family='"Liberation Sans", sans-serif' >0.8</text>
<text x="527.7" y="529.7" font-size="10.95" text-anchor="start" fill="#000" font-weight="normal" font-family='"Liberation Sans", sans-serif' >1.0</text>
<text transform="translate(559,552) rotate(-90)" font-size="10.95" text-anchor="middle" fill="#000" font-family='"Liberation Sans", sans-serif'>N<tspan font-size="9.4" dy="3.5">i</tspan><tspan dy="-3.5" font-size="1">&#8203;</tspan> [cm<tspan font-size="8.8" dy="-5">-3</tspan><tspan dy="5" font-size="1">&#8203;</tspan>]</text>
<path d="M71.5,642.8h5M525.5,642.8h-5" stroke="#222" stroke-width="1" fill="none"/>
<text x="52.5" y="647" font-size="10.95" text-anchor="start" fill="#000" font-weight="normal" font-family='"Liberation Sans", sans-serif' >10<tspan font-size="8.5" dy="-5">2</tspan><tspan dy="5" font-size="1">&#8203;</tspan></text>
<text transform="translate(39,620) rotate(-90)" font-size="10.95" text-anchor="middle" fill="#000" font-family='"Liberation Sans", sans-serif'>T<tspan font-size="9.4" dy="3.5">i</tspan><tspan dy="-3.5" font-size="1">&#8203;</tspan> [eV]</text>
<path d="M71.5,721h5M525.5,721h-5M71.5,706.7h5M525.5,706.7h-5M71.5,692.4h5M525.5,692.4h-5M71.5,678.1h5M525.5,678.1h-5M71.5,663.8h5M525.5,663.8h-5M71.5,713.9h2.5M525.5,713.9h-2.5M71.5,699.5h2.5M525.5,699.5h-2.5M71.5,685.2h2.5M525.5,685.2h-2.5M71.5,671h2.5M525.5,671h-2.5M71.5,656.6h2.5M525.5,656.6h-2.5" stroke="#222" stroke-width="1" fill="none"/>
<text x="527.7" y="724.8" font-size="10.95" text-anchor="start" fill="#000" font-weight="normal" font-family='"Liberation Sans", sans-serif' >0.0</text>
<text x="527.7" y="710.5" font-size="10.95" text-anchor="start" fill="#000" font-weight="normal" font-family='"Liberation Sans", sans-serif' >0.5</text>
<text x="527.7" y="696.2" font-size="10.95" text-anchor="start" fill="#000" font-weight="normal" font-family='"Liberation Sans", sans-serif' >1.0</text>
<text x="527.7" y="681.9" font-size="10.95" text-anchor="start" fill="#000" font-weight="normal" font-family='"Liberation Sans", sans-serif' >1.5</text>
<text x="527.7" y="667.6" font-size="10.95" text-anchor="start" fill="#000" font-weight="normal" font-family='"Liberation Sans", sans-serif' >2.0</text>
<text transform="translate(564,689) rotate(-90)" font-size="10.95" text-anchor="middle" fill="#000" font-family='"Liberation Sans", sans-serif'>P [nPa]</text>
<text x="137" y="740.5" font-size="10.95" text-anchor="middle" fill="#000" font-weight="normal" font-family='"Liberation Sans", sans-serif' >07:31:20</text>
<text x="137" y="761" font-size="10.95" text-anchor="middle" fill="#000" font-weight="normal" font-family='"Liberation Sans", sans-serif' >9.25</text>
<text x="137" y="779" font-size="10.95" text-anchor="middle" fill="#000" font-weight="normal" font-family='"Liberation Sans", sans-serif' >3.44</text>
<text x="137" y="797" font-size="10.95" text-anchor="middle" fill="#000" font-weight="normal" font-family='"Liberation Sans", sans-serif' >-0.527</text>
<text x="219.8" y="740.5" font-size="10.95" text-anchor="middle" fill="#000" font-weight="normal" font-family='"Liberation Sans", sans-serif' >07:31:40</text>
<text x="219.8" y="761" font-size="10.95" text-anchor="middle" fill="#000" font-weight="normal" font-family='"Liberation Sans", sans-serif' >9.25</text>
<text x="219.8" y="779" font-size="10.95" text-anchor="middle" fill="#000" font-weight="normal" font-family='"Liberation Sans", sans-serif' >3.44</text>
<text x="219.8" y="797" font-size="10.95" text-anchor="middle" fill="#000" font-weight="normal" font-family='"Liberation Sans", sans-serif' >-0.526</text>
<text x="302.5" y="740.5" font-size="10.95" text-anchor="middle" fill="#000" font-weight="normal" font-family='"Liberation Sans", sans-serif' >07:32:00</text>
<text x="302.5" y="761" font-size="10.95" text-anchor="middle" fill="#000" font-weight="normal" font-family='"Liberation Sans", sans-serif' >9.25</text>
<text x="302.5" y="779" font-size="10.95" text-anchor="middle" fill="#000" font-weight="normal" font-family='"Liberation Sans", sans-serif' >3.45</text>
<text x="302.5" y="797" font-size="10.95" text-anchor="middle" fill="#000" font-weight="normal" font-family='"Liberation Sans", sans-serif' >-0.525</text>
<text x="385.3" y="740.5" font-size="10.95" text-anchor="middle" fill="#000" font-weight="normal" font-family='"Liberation Sans", sans-serif' >07:32:20</text>
<text x="385.3" y="761" font-size="10.95" text-anchor="middle" fill="#000" font-weight="normal" font-family='"Liberation Sans", sans-serif' >9.26</text>
<text x="385.3" y="779" font-size="10.95" text-anchor="middle" fill="#000" font-weight="normal" font-family='"Liberation Sans", sans-serif' >3.45</text>
<text x="385.3" y="797" font-size="10.95" text-anchor="middle" fill="#000" font-weight="normal" font-family='"Liberation Sans", sans-serif' >-0.525</text>
<text x="468" y="740.5" font-size="10.95" text-anchor="middle" fill="#000" font-weight="normal" font-family='"Liberation Sans", sans-serif' >07:32:40</text>
<text x="468" y="761" font-size="10.95" text-anchor="middle" fill="#000" font-weight="normal" font-family='"Liberation Sans", sans-serif' >9.26</text>
<text x="468" y="779" font-size="10.95" text-anchor="middle" fill="#000" font-weight="normal" font-family='"Liberation Sans", sans-serif' >3.46</text>
<text x="468" y="797" font-size="10.95" text-anchor="middle" fill="#000" font-weight="normal" font-family='"Liberation Sans", sans-serif' >-0.524</text>
<text x="50" y="761" font-size="10.95" text-anchor="start" fill="#000" font-weight="normal" font-family='"Liberation Sans", sans-serif' >X</text>
<text x="540" y="761" font-size="10.95" text-anchor="start" fill="#000" font-weight="normal" font-family='"Liberation Sans", sans-serif' >Re</text>
<text x="50" y="779" font-size="10.95" text-anchor="start" fill="#000" font-weight="normal" font-family='"Liberation Sans", sans-serif' >Y</text>
<text x="540" y="779" font-size="10.95" text-anchor="start" fill="#000" font-weight="normal" font-family='"Liberation Sans", sans-serif' >Re</text>
<text x="50" y="797" font-size="10.95" text-anchor="start" fill="#000" font-weight="normal" font-family='"Liberation Sans", sans-serif' >Z</text>
<text x="540" y="797" font-size="10.95" text-anchor="start" fill="#000" font-weight="normal" font-family='"Liberation Sans", sans-serif' >Re</text>
<text x="425" y="837.3" font-size="11.95" text-anchor="start" fill="#000" font-weight="normal" font-family='"Liberation Sans", sans-serif' >paschmann 21-Nov-2018 16:21</text>
<text x="627.3" y="12" font-size="10.95" text-anchor="start" fill="#000" font-weight="normal" font-family='"Liberation Sans", sans-serif' >Plot layout GP 19/10/2018</text>
<text x="895" y="35" font-size="17.6" text-anchor="middle" fill="#000" font-weight="normal" font-family='"Liberation Sans", sans-serif' >MMS2</text>
<text x="997.3" y="24" font-size="17.75" text-anchor="start" fill="#a00000" font-weight="bold" font-family='"Liberation Sans", sans-serif' >20161121_073104</text>
<clipPath id="cm1"><rect x="668.5" y="41.5" width="454" height="74"/></clipPath><g clip-path="url(#cm1)">
<line x1="668.5" y1="99.6" x2="1122.5" y2="99.6" stroke="#222" stroke-width="1.6" stroke-dasharray="5.5,2.5"/>
<path d="M668.5,81.5l.5,.3 .5,.4 .5,1.9 .5,.5 .5,.5 .5,.2 .5-.3 .5,.9 .5,1.3 .5-1 .5,.2 .5,0 .5,1 .5,.2 .5,.2 .5,.7 .5-1.9 .5,1.5 .5-2.4 .5,1.2 .5,.3 .5,.1 .5,.4 .5,.4 .5,.5 .5-.3 .5,1.1 .5-.2 .5,.6 .5-.5 .5,2 .5,.4 .5,.1 .5,1.8 .5,.3 .5-.1 .5,.8 .5-.8 .5,1.6 .5-.9 .5,2.1 .5,.2 .5-1.5 .5,1.4 .5-.9 .5,.8 .5,.5 .5-1.7 .5,2.1 .5,.6 .5,0 .5-1.1 .5,.5 .5,1.2 .5,.2 .5-.3 .5-1.1 .5,.1 .5,1.2 .5-.1 .5-1.3 .5-.7 .5-.6 .5-.4 .5-.1 .5,.2 .5,.4 .5-.1 .5,.2 .5,.8 .5-.7 .5,1.1 .5-1 .5-.2 .5,1 .5,.1 .5-.9 .5,1.6 .5-1.6 .5,1.2 .5,.6 .5-1 .5-1 .5,1.2 .5-1.1 .5,1.2 .5-.8 .5,1.1 .5-.7 .5,.9 .5-.9 .5-1.1 .5-.1 .5-.7 .5-.4 .5-1 .5-.7 .5,.6 .5-.6 .5,.3 .5-1.1 .5-.4 .5-.1 .5-.3 .5-.4 .5-.8 .5-1.1 .5,1.2 .5-.8 .5,.1 .5,.4 .5-.9 .5-.7 .5,0 .5-.5 .5,1.2 .5,.8 .5,1.3 .5-.2 .5,1.5 .5,.2 .5,.7 .5,1.2 .5-.3 .5-2.7 .5-.8 .5-1.4 .5-1.7 .5-.6 .5-1.5 .5-.7 .5-1.3 .5-1 .5-.7 .5-.6 .5-1.6 .5-1.7 .5,0 .5-.6 .5-2.8 .5-.9 .5-1.5 .5,.5 .5,1 .5,1.8 .5,1.4 .5,1.2 .5,1.1 .5-.2 .5,0 .5,1.6 .5-.1 .5,.5 .5,1.5 .5,0 .5-.6 .5,.4 .5,.6 .5-.2 .5,.3 .5-.3 .5-1.7 .5,1.3 .5,.8 .5,1.2 .5,1.3 .5,2.1 .5,.3 .5,1.9 .5-.5 .5,2.4 .5,2.4 .5,1.2 .5,1.3 .5-.2 .5,1 .5,1.5 .5,.4 .5-.1 .5,.1 .5,.5 .5-.3 .5-1.1 .5,.2 .5-.1 .5-.8 .5,.4 .5,.9 .5,.8 .5-1.2 .5-.1 .5,1.3 .5,.7 .5-.1 .5,1.5 .5,.3 .5,.4 .5,2.4 .5,.7 .5,.2 .5,.9 .5,1.5 .5,.8 .5,.8 .5,.9 .5-.8 .5-1.2 .5-1.6 .5-1.8 .5-.6 .5-1.8 .5-.1 .5-.8 .5-.2 .5-.2 .5-.8 .5-.5 .5,.7 .5,.3 .5,0 .5,.3 .5-.4 .5-.4 .5,.6 .5,.6 .5,0 .5-.2 .5,.5 .5,.2 .5,.2 .5,.5 .5-.6 .5-2.8 .5-1.2 .5-.4 .5-1.1 .5-2.1 .5-.7 .5-1.1 .5-1.5 .5-1.6 .5-1.5 .5-.4 .5,2.7 .5-.2 .5,1.9 .5,1.6 .5,1.7 .5,.4 .5-.8 .5,1.1 .5,1.1 .5,.5 .5,.7 .5,.5 .5,.2 .5,.7 .5,0 .5,1.4 .5,.3 .5-1 .5-.2 .5,.1 .5-.6 .5-.3 .5,.2 .5-1 .5-.2 .5-1.8 .5,1.2 .5-.6 .5,1 .5,.8 .5-.7 .5,.6 .5,.1 .5-.3 .5,.1 .5-.9 .5-.4 .5-1.3 .5-1.2 .5-1.6 .5,.1 .5,.1 .5,.5 .5-1.2 .5,.7 .5,2 .5-.3 .5,.6 .5,.4 .5-1.7 .5-1.9 .5-.4 .5-.8 .5-1.9 .5-.9 .5,0 .5,.4 .5-.6 .5,.9 .5,.6 .5-.5 .5-.1 .5-.3 .5-1.3 .5-1 .5-2.2 .5-1.2 .5,.4 .5,.5 .5,2.4 .5,.4 .5-.5 .5,.2 .5,0 .5-.8 .5-.2 .5,.4 .5,.3 .5-.4 .5,.2 .5-.6 .5,.5 .5,.6 .5-1.3 .5-1.2 .5-1.7 .5-1.1 .5-.2 .5,2.5 .5,3.8 .5,2.3 .5,1.7 .5,.7 .5,1.6 .5,.5 .5-1.9 .5-2.9 .5-2.1 .5-1.8 .5-.1 .5-.5 .5-2 .5-.9 .5-.4 .5-.5 .5-.5 .5,1.2 .5-1 .5,.1 .5,1.2 .5-.6 .5,1.3 .5,.9 .5,.8 .5-.4 .5,.6 .5-.3 .5-1.4 .5-.5 .5-.1 .5-.2 .5-2.1 .5,1.1 .5-.8 .5,1 .5-.7 .5,.2 .5,.3 .5-.1 .5,.8 .5-.4 .5,.4 .5-.7 .5,.9 .5-.9 .5-.2 .5,1.5 .5-.5 .5,1.5 .5-2.7 .5,1.1 .5-1.5 .5,.1 .5,.6 .5,1.2 .5,1 .5-.9 .5,.9 .5,1.5 .5-.9 .5,.5 .5-.3 .5-.7 .5-1.8 .5,.8 .5-1.2 .5-.4 .5-2.3 .5-3.2 .5-.4 .5,5.4 .5,6.8 .5,5.5 .5-2.4 .5-.6 .5-2.4 .5-1.9 .5-.7 .5-.9 .5,1.3 .5,.8 .5,0 .5,1 .5,.7 .5,.7 .5,.6 .5,.4 .5,.4 .5,1.5 .5,.1 .5,.3 .5,1.9 .5-.9 .5,.9 .5,.5 .5,.2 .5,.3 .5-.2 .5,.3 .5,.5 .5,1.2 .5-.1 .5-.9 .5,.9 .5-2 .5,1.9 .5-1 .5-.3 .5,0 .5,.7 .5-.4 .5,.8 .5-.2 .5-.5 .5,.2 .5-1 .5,.2 .5,.9 .5-.7 .5,.9 .5,.5 .5-.3 .5,.6 .5-.3 .5-.3 .5-1.3 .5-.1 .5-2.2 .5,1.2 .5,.3 .5-.6 .5,.1 .5,1 .5,0 .5-1 .5,1.4 .5,.3 .5-.6 .5-.2 .5-2.2 .5,.7 .5-1.8 .5,1.3 .5,.1 .5-.3 .5,.4 .5,.2 .5,1.1 .5,.1 .5,1.6 .5-.9 .5,.4 .5-.4 .5-.3 .5-.2 .5,.4 .5-1.5 .5-.2 .5,.2 .5-.3 .5-.7 .5,0 .5,0 .5-1.1 .5,.3 .5-.6 .5,0 .5-.6 .5-.8 .5,0 .5,.9 .5,1.3 .5,.3 .5-.1 .5,.4 .5,1.6 .5-.4 .5-.4 .5,.1 .5-.7 .5,.4 .5,.4 .5,.6 .5-.9 .5-.1 .5-.2 .5-.4 .5,1.1 .5-.9 .5-.7 .5,.5 .5-1.2 .5-.4 .5-.8 .5-.9 .5,1.3 .5,.6 .5,0 .5-.2 .5,1 .5,.1 .5,1.4 .5-1.1 .5,1.2 .5-1.1 .5-1.4 .5-.2 .5-.4 .5-.9 .5,.2 .5,.1 .5-.2 .5-.1 .5,.5 .5-.6 .5-1.5 .5-.1 .5-1 .5-.9 .5-1.3 .5-.7 .5-.1 .5-.8 .5-1.9 .5,0 .5-1.1 .5,.5 .5,.1 .5,0 .5,.8 .5,.1 .5-.3 .5-.6 .5,1.4 .5,.2 .5-.6 .5,1.4 .5-.8 .5,2.9 .5,1.1 .5,2.2 .5,.4 .5,3.4 .5,.3 .5,0 .5,.3 .5,.6 .5-.4 .5-1.3 .5,.2 .5,.9 .5-.5 .5-.1 .5-.1 .5-.9 .5,.7 .5,.2 .5-.2 .5,.3 .5-1.1 .5-.4 .5-.3 .5,.2 .5,.1 .5-.8 .5,.4 .5-.7 .5,.7 .5,.4 .5,.9 .5-1.5 .5-.1 .5,.4 .5-.7 .5,.1 .5,.5 .5-.4 .5-.3 .5,.5 .5,.5 .5,0 .5,.4 .5-.1 .5,.1 .5-.3 .5,.5 .5-.3 .5-.2 .5,0 .5,.7 .5,1.6 .5,0 .5,.5 .5,.3 .5-.1 .5,.1 .5,.3 .5-.7 .5,.3 .5-.3 .5,.2 .5-.1 .5-.2 .5-.8 .5,.3 .5,1 .5,.6 .5-.2 .5,.8 .5,.4 .5,.1 .5-1.2 .5,1.5 .5-.7 .5,1.1 .5-.4 .5-.2 .5,.5 .5-.4 .5-1.2 .5,.4 .5,.6 .5,.2 .5,.7 .5-.8 .5,.2 .5,.5 .5-.1 .5-.4 .5-.6 .5,.6 .5-.4 .5,.1 .5-1.3 .5-.9 .5-.3 .5-2.4 .5-1.2 .5-1.1 .5-1.6 .5,.3 .5-.7 .5-.3 .5,0 .5,.4 .5,.1 .5,.1 .5-.2 .5,.5 .5-.4 .5,.3 .5-.1 .5,2.4 .5,.5 .5-.2 .5,1.2 .5,.6 .5-.2 .5,1.1 .5-.2 .5,.6 .5-.3 .5,.9 .5,.4 .5,1 .5-.2 .5,2 .5,.2 .5,1.9 .5,0 .5,1.2 .5,.4 .5,.2 .5,.6 .5-.8 .5,.6 .5-.7 .5,1.2 .5-.2 .5,.5 .5-.6 .5-.3 .5,.1 .5-.4 .5-1.1 .5,.2 .5,.3 .5-.6 .5,.4 .5-1.2 .5-.4 .5,1.2 .5-.3 .5,.2 .5-.3 .5,.4 .5,0 .5,.2 .5-1.2 .5-.6 .5-.3 .5,.2 .5,.3 .5-.5 .5,1.2 .5-1.3 .5-.3 .5,.2 .5,.1 .5-.1 .5,.7 .5-.1 .5-.7 .5,.9 .5-.4 .5-.2 .5,.7 .5,.1 .5-.3 .5,.3 .5-.3 .5,.3 .5-.2 .5-.4 .5-.4 .5-.3 .5-1.7 .5,.1 .5,.1 .5-.8 .5,.2 .5-.1 .5-1.4 .5,.8 .5,.2 .5-.5 .5-1.8 .5-.2 .5-1.1 .5,.7 .5-.6 .5,.8 .5-.5 .5-1.4 .5,.5 .5-1.4 .5,.7 .5-.7 .5-.3 .5,0 .5,.2 .5-.1 .5-.3 .5,.3 .5,.4 .5-.5 .5,.3 .5-.5 .5,.6 .5-.3 .5,.8 .5-.6 .5-.8 .5,.4 .5-1 .5,1 .5-.4 .5,.5 .5-.3 .5-1.1 .5,.8 .5-.5 .5,1.8 .5-.4 .5,.1 .5,.3 .5-.4 .5,.7 .5,.2 .5,.8 .5-1 .5,2.4 .5-1 .5,0 .5,1.7 .5-1.2 .5,1.1 .5,0 .5-.7 .5-.5 .5,0 .5-1.8 .5-1.3 .5,.8 .5,2.5 .5,1.1 .5,3.4 .5-.8 .5-1.1 .5-1.1 .5-.3 .5-1.2 .5-2.3 .5,.1 .5,.4 .5-.3 .5,.4 .5-1.5 .5,.9 .5-.1 .5-1 .5-.6 .5,.9 .5-.4 .5-1.2 .5,0 .5-.1 .5-.4 .5,.1 .5-.1 .5-1.4 .5,.6 .5-1.1 .5-.5 .5,.2 .5,.6 .5,.3 .5,.2 .5,.9 .5,1.3 .5-.1 .5-.1 .5,.1 .5-.9 .5-.7 .5,1.2 .5,2.4 .5,2.2 .5,.1 .5,.5 .5-.9 .5-.3 .5,.3 .5-.5 .5,.5 .5,0 .5-.5 .5,.3 .5-1 .5,.4 .5-.1 .5-.5 .5-2 .5-1.8 .5,0 .5-2.6 .5-1.2 .5-.4 .5-.7 .5-.4 .5-.3 .5-1.3 .5,1.1 .5,.7 .5,.6 .5,3.4 .5,4.5 .5,2.8 .5,.2 .5,3.1 .5,1.1 .5-.7 .5-.5 .5-.7 .5,.3" fill="none" stroke="#20f020" stroke-width="0.9" stroke-linejoin="round" />
<path d="M668.5,91.9l.5,.6 .5,.6 .5-.5 .5,.1 .5,.4 .5-1 .5,0 .5,1.1 .5-.6 .5,0 .5,.6 .5,1.3 .5-.9 .5,.7 .5-.8 .5,.5 .5,.9 .5-.5 .5-.6 .5-.6 .5-.1 .5,1.8 .5-.5 .5,.2 .5,.4 .5,1.3 .5-.2 .5-.2 .5,1.2 .5-.7 .5,.2 .5,.6 .5-1.1 .5,.6 .5,2.4 .5-1 .5-.9 .5,.3 .5,.3 .5-1.6 .5,.2 .5-.8 .5,0 .5-.1 .5-.4 .5-.1 .5,.4 .5,.8 .5-.3 .5-.6 .5,.4 .5-.4 .5,1 .5-.7 .5,.1 .5-.6 .5-1.2 .5,1.1 .5-.4 .5,.1 .5-1.1 .5,1 .5-.2 .5,.9 .5,.8 .5-.2 .5-.6 .5,1.6 .5-1.6 .5-.1 .5,.6 .5,.8 .5,.7 .5-.8 .5,.1 .5,1.1 .5-.8 .5-.8 .5,1.9 .5,.3 .5-.1 .5,.4 .5-.8 .5,2.2 .5-.9 .5-.4 .5,.7 .5-.1 .5-.5 .5-.3 .5-.5 .5,.2 .5-.3 .5,.7 .5-1.7 .5,.4 .5-.3 .5,.4 .5,.4 .5,.2 .5-.3 .5-.2 .5,.3 .5,.9 .5,.4 .5,.5 .5,.5 .5-.4 .5,.5 .5-.4 .5,.7 .5,.3 .5-1 .5,1.1 .5-.2 .5-.2 .5-1.3 .5-.1 .5,.7 .5-.9 .5,2.1 .5-.3 .5,.8 .5,.6 .5,0 .5,.1 .5-.7 .5-1.3 .5,.6 .5-1.6 .5,1.5 .5-.5 .5-.4 .5-.1 .5-.9 .5,.2 .5,.4 .5-.2 .5,.4 .5,0 .5,1.4 .5,2.9 .5,.7 .5,1.3 .5-1.6 .5-.3 .5-1.2 .5-.6 .5-.5 .5-.4 .5-.4 .5-.5 .5-.6 .5,.5 .5,.9 .5-1.5 .5-1.4 .5-.1 .5,1 .5-.4 .5-1.1 .5,.3 .5-.9 .5-1.3 .5-.5 .5-1.2 .5-.2 .5-.3 .5,.1 .5-.2 .5,.1 .5-.5 .5-.9 .5-.1 .5-1.4 .5,.6 .5,0 .5-.1 .5-.8 .5-.6 .5,0 .5,.7 .5-.8 .5,.2 .5,1.8 .5,1.4 .5-.1 .5,.7 .5-.3 .5,3.8 .5,.6 .5,2 .5,.4 .5,3.1 .5-.3 .5,.8 .5,1.8 .5-.3 .5-1.2 .5-.2 .5-.9 .5-.2 .5-.1 .5-1.9 .5-.4 .5-1.5 .5,0 .5-1.3 .5-.4 .5-1.5 .5-.2 .5-1 .5-.7 .5,.1 .5-1.7 .5-.2 .5-1.9 .5,1.2 .5-.4 .5-.8 .5-.9 .5-.2 .5-.1 .5-.3 .5,.7 .5,.2 .5,.2 .5,.3 .5,.6 .5-.1 .5-.9 .5,.8 .5-.4 .5,1.5 .5-.7 .5,.7 .5-.7 .5-1.2 .5-.3 .5-.1 .5-1.1 .5,1.7 .5,.3 .5-.5 .5,1.6 .5,.5 .5,.4 .5,.8 .5,.5 .5,.1 .5-.8 .5-1.2 .5,.2 .5-1.1 .5,.7 .5,1.6 .5,.9 .5,.7 .5,1.5 .5,.8 .5,.7 .5,.8 .5-.3 .5,1.8 .5-1.2 .5,2 .5,1.1 .5,2 .5,.6 .5,1.4 .5-.2 .5-.7 .5-.7 .5-2 .5-.9 .5-1.8 .5-.9 .5-2 .5-.7 .5-2 .5,0 .5,2 .5-1.1 .5,.8 .5,.8 .5,0 .5,.2 .5,.5 .5,.7 .5,.1 .5-1 .5-.5 .5-1.3 .5-.6 .5-1.3 .5-.5 .5-1.4 .5,1.2 .5-.1 .5,.1 .5,.5 .5,1.1 .5,0 .5-1.3 .5-.7 .5-.1 .5-1.7 .5-.4 .5,.5 .5,.1 .5-.9 .5-1.4 .5,1.4 .5-.9 .5-.3 .5,0 .5-.9 .5-.4 .5,.1 .5,.6 .5,.6 .5,.4 .5,.3 .5,0 .5-.7 .5,1.6 .5,0 .5,3.4 .5-.4 .5,1.3 .5,3.3 .5-1.1 .5,0 .5-1.8 .5-.6 .5-.5 .5,1.9 .5,.6 .5,1.2 .5-3.4 .5-3.8 .5-4.2 .5-.5 .5,1.3 .5-.6 .5,.5 .5,.8 .5,.4 .5,1.5 .5,.5 .5-1 .5-.9 .5-.7 .5-.1 .5-1.6 .5,1.1 .5-.3 .5,.3 .5,1.8 .5-1.4 .5,.1 .5,.2 .5,.6 .5-.4 .5,.2 .5,0 .5,.2 .5-.4 .5,.5 .5-1.3 .5-.2 .5-.2 .5-.7 .5,.9 .5-.1 .5-.4 .5,1.6 .5-.1 .5,.2 .5-.3 .5,.8 .5-.2 .5-1.2 .5-.1 .5,.5 .5,.1 .5,0 .5,.2 .5,.7 .5,2.8 .5,.9 .5,.9 .5,1.5 .5-2.3 .5-1.1 .5-.9 .5,.6 .5-.3 .5,2 .5,3.4 .5,2.9 .5,2.2 .5,1.8 .5,.5 .5-1.3 .5,1.5 .5,.7 .5,1.7 .5-.9 .5-1.3 .5-.5 .5-1 .5-3.3 .5,.2 .5-.5 .5,0 .5-2.2 .5,1.3 .5-1 .5-.3 .5-.9 .5-.4 .5,.7 .5,0 .5-.9 .5-.2 .5,.5 .5-.2 .5-.5 .5,.8 .5-.3 .5,.9 .5,2 .5-.2 .5,.1 .5-.3 .5-1 .5-1.5 .5-.1 .5-.7 .5-2.2 .5-.9 .5-.4 .5-1.4 .5,.9 .5,.3 .5-.4 .5-1.5 .5,0 .5-.7 .5,1.2 .5-1.2 .5,1.1 .5,.5 .5,.7 .5,.2 .5-.2 .5,1.5 .5,.1 .5-.8 .5-.7 .5-.2 .5,.1 .5-.2 .5-.1 .5-.2 .5-1.2 .5,1.2 .5-.4 .5,.9 .5-.3 .5-.5 .5,.4 .5,.6 .5,.2 .5-.8 .5,.4 .5,1.2 .5-.4 .5,.6 .5-.8 .5-1 .5,.1 .5,.4 .5-.2 .5,.2 .5,0 .5-.1 .5-.2 .5-1.3 .5,1.8 .5,1 .5-.8 .5-.9 .5-.1 .5,0 .5,.5 .5,.3 .5,.3 .5,.3 .5-.8 .5,1.7 .5-1.8 .5,.5 .5,.8 .5,1.2 .5-.4 .5,.8 .5-.9 .5,.4 .5,1 .5,.3 .5,.3 .5-.8 .5,.6 .5,.9 .5,.5 .5-.1 .5-.3 .5,1 .5-.1 .5-1.5 .5,1 .5,0 .5-.2 .5-.3 .5,.4 .5-.1 .5,1 .5,0 .5,.1 .5,.6 .5,.6 .5-1.4 .5,.9 .5,.5 .5,1.1 .5,.2 .5,.1 .5-.1 .5,1.5 .5,.4 .5-.2 .5-.7 .5-.4 .5-.4 .5,.6 .5-1.1 .5,.8 .5,0 .5,1.3 .5-1.1 .5-.1 .5,.6 .5,.3 .5,1.1 .5-2.1 .5-3.2 .5-1.9 .5-2.7 .5-1.4 .5-.5 .5-1 .5,.8 .5-.5 .5,2.2 .5,2 .5,1.3 .5-2.7 .5-3.4 .5-1.8 .5-2.5 .5-.6 .5,.4 .5-.9 .5-1.5 .5,3.3 .5,1.4 .5,1.5 .5,1.9 .5,.7 .5,.4 .5,1.3 .5,.5 .5,2 .5,.1 .5-1.8 .5-1.1 .5,.7 .5-1.1 .5,.2 .5-.2 .5,.3 .5,.6 .5,.2 .5-.7 .5-1.2 .5,.7 .5-.2 .5,.9 .5-.6 .5,0 .5-.3 .5,1.1 .5-.4 .5-.1 .5,0 .5,.3 .5,.7 .5,.5 .5,.7 .5-.6 .5-1.4 .5,1.2 .5-.2 .5,.7 .5,.2 .5-.9 .5,.5 .5-.3 .5,.2 .5,.4 .5,.2 .5,1.6 .5,.1 .5-.5 .5,.7 .5,1.8 .5-.1 .5,.1 .5,.9 .5-.1 .5,.6 .5,1.3 .5-.1 .5,.6 .5-.7 .5-1 .5-.1 .5-.2 .5-1 .5,0 .5,.3 .5-1 .5,.1 .5,.4 .5-1 .5,1 .5-.7 .5,.9 .5-.7 .5-.9 .5,1.2 .5-.4 .5,1.2 .5-.7 .5,0 .5,.6 .5-.7 .5,1.5 .5,.1 .5,1.5 .5,0 .5,1.7 .5-.5 .5-1.2 .5-.9 .5,.1 .5,2 .5,1.9 .5,1.7 .5,2.9 .5,.2 .5-2.8 .5-1.2 .5-1.7 .5-1.8 .5,1.3 .5-.6 .5,.8 .5,.1 .5,.1 .5-.7 .5,.7 .5-.2 .5-.6 .5-.9 .5-.3 .5-1.1 .5-.7 .5,.1 .5-.2 .5-.7 .5-.4 .5-1.5 .5,0 .5-2 .5,2.7 .5,.2 .5,.3 .5,.4 .5,.4 .5-.2 .5-1.1 .5-.9 .5-.1 .5,.4 .5-.3 .5-2.1 .5,0 .5-.8 .5-.4 .5-.4 .5,.4 .5-.8 .5-1.6 .5,1.8 .5,0 .5-1.1 .5,1.1 .5-.9 .5,.3 .5-.3 .5-.8 .5,.6 .5-1.2 .5,1.8 .5,1 .5,.7 .5,1.6 .5,.5 .5,.3 .5-.6 .5,.9 .5-.7 .5-.5 .5,.6 .5-.6 .5-.1 .5,.7 .5,.3 .5,.3 .5,.4 .5,1.1 .5-.7 .5,1.2 .5-.5 .5,.3 .5,.8 .5,.2 .5-.8 .5,.8 .5-.8 .5-.3 .5-.6 .5-1 .5-.9 .5,.1 .5-.9 .5-.1 .5-.2 .5-.8 .5-.4 .5-1.5 .5,.6 .5-.4 .5,1.5 .5-.6 .5-.2 .5,.1 .5,.1 .5,.2 .5,0 .5-1 .5,.7 .5,0 .5,.5 .5,0 .5-.6 .5,.3 .5-.1 .5-.9 .5-1.2 .5,2 .5,0 .5-.4 .5,.2 .5-.6 .5,.3 .5,.9 .5-1.6 .5,.8 .5-.2 .5,.6 .5-1.1 .5,1.7 .5-.8 .5,1.1 .5,2.1 .5-.9 .5,.1 .5-.2 .5-.5 .5-2 .5-.4 .5-2.8 .5-1.1 .5,2.7 .5,1.1 .5,.5 .5,.8 .5,.4 .5-.4 .5,.8 .5,.7 .5-.7 .5,.8 .5-.3 .5-1.2 .5,.3 .5-.2 .5-.9 .5,.2 .5-.3 .5,.2 .5,0 .5-.9 .5-.6 .5-.8 .5,.1 .5,.3 .5,.6 .5-.3 .5,.5 .5-.5 .5,1.1 .5-1.1 .5,.5 .5-.9 .5,.7 .5-1.1 .5,.9 .5-.2 .5-.4 .5,1.1 .5-.2 .5,.5 .5,0 .5-1.9 .5,.4 .5-.8 .5,1.7 .5,.1 .5-.2 .5,1.5 .5-.2 .5,.3 .5-.4 .5,1.5 .5-1.1 .5,1.1 .5,.3 .5,.4 .5,.8 .5-.9 .5,2.7 .5,.5 .5,1.8 .5,.9 .5,.6 .5-.3 .5-.3 .5-.3 .5-2.3 .5,.6 .5,.2 .5,1.2 .5,.3 .5,.8 .5-.2 .5,.9 .5-1 .5-.1 .5-.3 .5,1.2 .5,2.4 .5,3.5 .5,4.5 .5-.3 .5,2.4 .5,.7 .5-.7 .5,.1 .5-.7 .5,.1 .5-.2 .5-1.2 .5,.2 .5-2.7 .5-3.9 .5-4.9 .5-3.7 .5-2.4 .5-3 .5-1.6 .5-2.7 .5,.4 .5-.5" fill="none" stroke="#ff2828" stroke-width="0.9" stroke-linejoin="round" />
<path d="M668.5,72.6l.5,0 .5,.2 .5,1.2 .5,.7 .5,.4 .5,0 .5,.6 .5-1.2 .5,.9 .5,.9 .5,.5 .5,1.1 .5,.8 .5,.4 .5-.6 .5,.7 .5,.9 .5-.3 .5,1.3 .5-.2 .5,0 .5,1.7 .5-.9 .5,1.3 .5,1.9 .5,1.2 .5,1.8 .5,1.5 .5,.5 .5,1.7 .5,.5 .5,.2 .5,.1 .5,.7 .5,1 .5-1.9 .5,1 .5,.3 .5,0 .5,0 .5,.5 .5-.2 .5-.6 .5-.1 .5-1.2 .5,.2 .5,1.5 .5,.1 .5-.2 .5,.8 .5,.5 .5-.7 .5,.7 .5,0 .5-.1 .5-.4 .5-.1 .5,.2 .5,.3 .5,.7 .5,.8 .5,0 .5,.3 .5-.2 .5,.1 .5,.5 .5,.5 .5-.7 .5,.5 .5-.4 .5-.6 .5,.8 .5,.2 .5,.2 .5-.3 .5,1.4 .5-.5 .5-.1 .5-1 .5,.4 .5,1 .5,.7 .5-1.3 .5,.5 .5-.9 .5,.9 .5-.1 .5,.9 .5-.8 .5-.1 .5,.3 .5-.8 .5,.2 .5,.1 .5-.2 .5-.5 .5-1.9 .5,.2 .5-.9 .5,1.2 .5-.3 .5-.3 .5,1.3 .5-.5 .5-.4 .5-.2 .5-.8 .5,.7 .5-.1 .5,1.4 .5-.8 .5-1.1 .5-1.7 .5-.9 .5-2.2 .5-1.1 .5-1 .5,.1 .5-.3 .5-.7 .5-.8 .5-2.4 .5-3.2 .5-1.2 .5-2 .5-1.1 .5-1.2 .5-.6 .5-.8 .5-2.6 .5-.9 .5-4 .5-1.4 .5-2.6 .5-3.4 .5-2.9 .5,.2 .5-.8 .5-.4 .5-.3 .5,1.2 .5,.9 .5,3.2 .5-2 .5-2.7 .5-2.3 .5-2.2 .5-.2 .5-2 .5,1.4 .5-1.3 .5-.3 .5,1.6 .5-1.5 .5,0 .5,.2 .5-1.4 .5,.1 .5-1 .5-.8 .5,.2 .5-1 .5,1.7 .5-1.9 .5,1.1 .5,.2 .5-.3 .5-.4 .5-.3 .5,1.9 .5-1.4 .5,.9 .5-.6 .5,1.8 .5-1.6 .5,1.7 .5,.5 .5-.8 .5-1.1 .5,1 .5-.2 .5,.9 .5,.5 .5,.4 .5-.4 .5,.1 .5-.1 .5-.1 .5-.8 .5,1.1 .5-.6 .5-.4 .5-.5 .5,1.5 .5,.1 .5,3.1 .5-2.2 .5-.2 .5-.7 .5,.2 .5,.7 .5,1.6 .5,.1 .5,1.4 .5,.7 .5,0 .5,.2 .5-1.1 .5,.8 .5-1.3 .5-.4 .5-.7 .5,.8 .5-.1 .5,.6 .5-.1 .5,.3 .5-.8 .5-.2 .5-.3 .5,1 .5,.1 .5-.7 .5,1.6 .5-.4 .5-.6 .5,1.9 .5-.4 .5,.5 .5,.6 .5,.7 .5,1.8 .5,1.4 .5,1.7 .5-.5 .5,0 .5,.5 .5-.7 .5,.2 .5,0 .5,.6 .5,1.5 .5,.2 .5-.3 .5,1.6 .5,.4 .5,1.5 .5,3.3 .5,3.5 .5,2 .5,3 .5,3.1 .5,1.7 .5,2.2 .5,2 .5,2 .5,2.2 .5,2.9 .5-.1 .5-3 .5-1.4 .5-1 .5-1.9 .5-1 .5-1.5 .5-1.4 .5-.7 .5-.7 .5-5.2 .5-3.8 .5-2.8 .5-1.3 .5-1.6 .5-1.9 .5-.8 .5,.2 .5,.1 .5,.1 .5,.8 .5,1.1 .5,.8 .5,2 .5,.3 .5-1.1 .5-1.1 .5-.1 .5-1 .5-.9 .5,1.5 .5,.4 .5,0 .5,.2 .5,1.1 .5-.7 .5-.8 .5-.2 .5-1 .5,.1 .5,.3 .5,1.2 .5,1.4 .5-.7 .5,.1 .5,.2 .5-.3 .5-.6 .5-.1 .5-1.8 .5-.2 .5,.1 .5,.5 .5,1 .5,.8 .5,.3 .5,.8 .5,1.4 .5,.4 .5,.9 .5,.8 .5,1.4 .5,.3 .5,.8 .5,.4 .5-.4 .5,1.5 .5,.9 .5-.3 .5,1 .5-.3 .5-.2 .5,.3 .5,.3 .5-2 .5,.2 .5-.6 .5,1.6 .5,.2 .5,1.1 .5-1 .5-.8 .5-1.4 .5-1.3 .5,1.7 .5,1.6 .5,1.7 .5,.9 .5,0 .5-1.6 .5,.9 .5-.1 .5-.9 .5-.5 .5,.2 .5,0 .5-.5 .5,.7 .5-.4 .5-1.6 .5,1 .5-1.3 .5,2.2 .5,1.6 .5-.6 .5,.9 .5,.2 .5-.9 .5,1.4 .5,1.1 .5-1.5 .5-.8 .5,.2 .5-.5 .5,.3 .5-.1 .5,.4 .5,.4 .5-.7 .5,1.2 .5,.1 .5-.1 .5-.5 .5-.2 .5-.5 .5,.3 .5,.2 .5,.1 .5,2.1 .5,1.1 .5,1.7 .5,.4 .5-.6 .5-1.1 .5-.9 .5-.6 .5-1.1 .5-1.8 .5-2.8 .5-2.5 .5-2.7 .5-2.1 .5-1.9 .5-.9 .5-1.8 .5-.3 .5-.6 .5,3.6 .5,3.7 .5-.5 .5,.2 .5-.3 .5-1.8 .5,.3 .5-1.9 .5-.9 .5,.2 .5-.4 .5-.2 .5,1.1 .5,1.8 .5,2 .5-.2 .5,1.3 .5-.4 .5,.2 .5,1.3 .5-.1 .5,0 .5,1.6 .5,.5 .5,.4 .5,.3 .5,.1 .5,1.2 .5-.6 .5-2.3 .5-.7 .5-1.5 .5-1.2 .5-2.6 .5-.9 .5-1.5 .5,.2 .5-1 .5,.5 .5-.4 .5-.8 .5,.8 .5-.9 .5,1.2 .5,.5 .5,.7 .5,.4 .5,2.1 .5,.3 .5,1.5 .5,.1 .5,0 .5,0 .5,1.2 .5-.8 .5,1.9 .5-.2 .5,.3 .5-1 .5,1.1 .5-.9 .5,1.5 .5,.3 .5,.2 .5-.1 .5-.1 .5-.2 .5-.4 .5-.1 .5-.8 .5,.6 .5-1 .5,.4 .5-1.4 .5,1.4 .5-.5 .5-.1 .5-.7 .5,.7 .5,1 .5,.5 .5,.5 .5,1.5 .5,.2 .5-.3 .5,1 .5,.2 .5,1.1 .5,.6 .5-.2 .5,.1 .5-.3 .5,1.1 .5,.1 .5,.6 .5,.1 .5,.5 .5,2.8 .5-.6 .5,1.8 .5,1 .5,3.1 .5,1 .5,.7 .5,.2 .5-.4 .5,.8 .5-.3 .5,.8 .5,1.7 .5-1.8 .5,2.3 .5,.3 .5-.6 .5,.6 .5-.4 .5,2.6 .5-1.2 .5,.4 .5,1 .5-.1 .5-1.4 .5-.9 .5-.7 .5-2.1 .5-.3 .5,0 .5,.4 .5-.5 .5-.3 .5,.9 .5-.1 .5,.7 .5,.6 .5,.3 .5-1 .5-.5 .5,1.8 .5-.7 .5,.5 .5-1.5 .5-1.2 .5-1.3 .5-2.2 .5-2.1 .5-.9 .5-.8 .5-2.3 .5-2.3 .5-1.3 .5-1.9 .5-1.3 .5-.4 .5-2.3 .5-1.2 .5,1 .5,1.3 .5-.4 .5,1.9 .5-1.4 .5-.9 .5-.1 .5-.9 .5-1.8 .5-3.6 .5-1.5 .5-2.1 .5,1.9 .5,3.4 .5,1.7 .5,2.2 .5,2.4 .5,.5 .5,2.7 .5,2.3 .5,1.9 .5-1.3 .5-.3 .5,1.4 .5-.3 .5,1.5 .5,.1 .5,1.7 .5,1.3 .5,.1 .5,1.6 .5-.3 .5,.7 .5-.1 .5,.5 .5,2.2 .5-.3 .5-1.4 .5,1.7 .5-.7 .5,.4 .5-.6 .5-.8 .5-.7 .5,0 .5,.5 .5-.5 .5,.4 .5-.1 .5,.4 .5-.7 .5,0 .5,.2 .5,1.2 .5-.1 .5,.4 .5-.4 .5,.5 .5,.5 .5,.9 .5-.8 .5,2.1 .5-.4 .5,1.1 .5,.3 .5,.8 .5-.5 .5-.9 .5,1.3 .5,.4 .5-1.7 .5,.1 .5,.2 .5-.2 .5,.1 .5,.4 .5-.3 .5,.3 .5,0 .5-1.2 .5-.3 .5,1.4 .5,1.6 .5-1.1 .5,1.9 .5-.3 .5,1.8 .5,.1 .5,.9 .5-1.1 .5,1.5 .5,.5 .5-.3 .5-.2 .5-.4 .5,.8 .5-1.1 .5-.6 .5-1.4 .5,.4 .5-.9 .5-.9 .5-.8 .5-1.4 .5-.1 .5,1.3 .5-.5 .5-.2 .5-.6 .5-1.4 .5-3.2 .5-1.7 .5-1.6 .5-.6 .5,.7 .5-.1 .5-1.1 .5-.4 .5-.6 .5-1.5 .5-1.5 .5,1.2 .5-1.9 .5-1.5 .5-.3 .5-.2 .5-1.6 .5-.2 .5-2 .5-1 .5-.7 .5-.1 .5,.6 .5-.3 .5,1.6 .5-.7 .5,.5 .5,.1 .5-.3 .5-.3 .5,.4 .5-.7 .5,.8 .5-1.1 .5,.6 .5-.3 .5,.9 .5,2 .5-.1 .5,.8 .5,2.3 .5,1.5 .5,1.7 .5,2 .5,.1 .5-1.6 .5-.9 .5-1.2 .5-1.4 .5-1.8 .5-1.3 .5,.1 .5,.6 .5-1.1 .5,.5 .5-.1 .5,1.7 .5,.1 .5,1.4 .5,1.4 .5,.1 .5,.6 .5,2.3 .5-1.2 .5,.2 .5,1 .5,2.5 .5-.7 .5,.7 .5,.3 .5,1.5 .5-.6 .5-.4 .5-.6 .5-1.1 .5,.9 .5-.7 .5-1.3 .5,1.2 .5,.1 .5-.6 .5,1.4 .5-1.3 .5,1.8 .5-1.4 .5,.3 .5-.4 .5,1.1 .5-.4 .5-.6 .5,1.6 .5,.2 .5,.5 .5,.8 .5,.8 .5-1.2 .5-.9 .5,.9 .5,.1 .5-1.6 .5,1.3 .5-.3 .5,.9 .5,.2 .5,.2 .5-.8 .5,.9 .5-.4 .5-.2 .5,.3 .5-.2 .5,.4 .5,.5 .5-.8 .5,.5 .5,0 .5,.4 .5,.7 .5,.1 .5-1.5 .5,1.8 .5,.2 .5-.3 .5,.7 .5,.8 .5-1.3 .5,1.2 .5,.2 .5-.3 .5,.4 .5,.1 .5,.9 .5-.4 .5-1.1 .5-1 .5,.5 .5,1.5 .5-.9 .5,1.2 .5-.2 .5,.6 .5,1.5 .5-.8 .5,1 .5,0 .5,.7 .5,.7 .5-.8 .5-.3 .5-1.1 .5,.5 .5-.9 .5-1.5 .5,0 .5-.5 .5-1.2 .5,.6 .5-2.7 .5,.4 .5,.7 .5,.1 .5,.6 .5,.3 .5-1.8 .5,.3 .5,.4 .5-.4 .5-1.1 .5,1.8 .5-.9 .5,.4 .5-.1 .5-.6 .5,1 .5-.9 .5,1.4 .5-.4 .5-.6 .5,.4 .5,.9 .5-.9 .5,1.6 .5-.7 .5-.6 .5,.9 .5,.3 .5,.7 .5,1 .5-.2 .5,0 .5,.5 .5,1.3 .5,1.8 .5,.2 .5,.7 .5,1.1 .5,3.3 .5,1.3 .5,.6 .5-2 .5-1 .5-2.3 .5-.5 .5-.6 .5-.8 .5-1.8 .5-.8 .5-.5 .5-.9 .5,1.2 .5-1 .5-2.8 .5-.2 .5-.4 .5-.7 .5-3.1 .5-3.2 .5-3.8 .5-2.8 .5-2.9 .5-3.5 .5-1 .5-2.3 .5,1.6 .5,.5 .5-1.2 .5-3.8 .5-4.1 .5-2.2 .5-1.6 .5-1.6 .5,.1 .5,1.5 .5-.7 .5,1.3 .5,.1 .5-1.7 .5-.5" fill="none" stroke="#2828ff" stroke-width="0.9" stroke-linejoin="round" />
<line x1="674.6" y1="54.6" x2="692.1" y2="54.6" stroke="#2828ff" stroke-width="1.0"/>
<text x="694.1" y="58.1" font-size="10.2" text-anchor="start" fill="#2828ff" font-weight="normal" font-family='"Liberation Sans", sans-serif' >B<tspan font-size="8" dy="3">L</tspan><tspan dy="-3" font-size="1">&#8203;</tspan></text>
<line x1="674.6" y1="79.2" x2="692.1" y2="79.2" stroke="#20f020" stroke-width="1.0"/>
<text x="694.1" y="82.7" font-size="10.2" text-anchor="start" fill="#20f020" font-weight="normal" font-family='"Liberation Sans", sans-serif' >B<tspan font-size="8" dy="3">M</tspan><tspan dy="-3" font-size="1">&#8203;</tspan></text>
<line x1="674.6" y1="103.8" x2="692.1" y2="103.8" stroke="#ff2828" stroke-width="1.0"/>
<text x="694.1" y="107.3" font-size="10.2" text-anchor="start" fill="#ff2828" font-weight="normal" font-family='"Liberation Sans", sans-serif' >B<tspan font-size="8" dy="3">N</tspan><tspan dy="-3" font-size="1">&#8203;</tspan></text>
</g>
<line x1="712.5" y1="45.5" x2="712.5" y2="115.5" stroke="#00a000" stroke-width="1.3" stroke-dasharray="6,3"/>
<line x1="722.7" y1="45.5" x2="722.7" y2="115.5" stroke="#ff2020" stroke-width="1.2" stroke-dasharray="6,3"/>
<line x1="743.3" y1="45.5" x2="743.3" y2="115.5" stroke="#ff2020" stroke-width="1.2" stroke-dasharray="6,3"/>
<line x1="740.7" y1="45.5" x2="740.7" y2="115.5" stroke="#ff30ff" stroke-width="1.4" stroke-dasharray="1.5,3"/>
<line x1="871.2" y1="45.5" x2="871.2" y2="115.5" stroke="#ff30ff" stroke-width="1.4" stroke-dasharray="1.5,3"/>
<line x1="753.7" y1="45.5" x2="753.7" y2="115.5" stroke="#00a000" stroke-width="1.0" stroke-dasharray="2,4"/>
<line x1="753.7" y1="45.5" x2="753.7" y2="115.5" stroke="#0000e0" stroke-width="1.2" stroke-dasharray="2,1.5"/>
<clipPath id="cm2"><rect x="668.5" y="115.5" width="454" height="74"/></clipPath><g clip-path="url(#cm2)">
</g>
<clipPath id="cm3"><rect x="668.5" y="189.4" width="454" height="74"/></clipPath><g clip-path="url(#cm3)">
<line x1="668.5" y1="235.9" x2="1122.5" y2="235.9" stroke="#333" stroke-width="1.6" stroke-dasharray="5.5,2.5"/>
<line x1="674.6" y1="197.7" x2="692.1" y2="197.7" stroke="#2828ff" stroke-width="1.0"/>
<text x="694.1" y="201.2" font-size="10.2" text-anchor="start" fill="#2828ff" font-weight="normal" font-family='"Liberation Sans", sans-serif' >V<tspan font-size="8" dy="3.5">L</tspan><tspan dy="-3.5" font-size="1">&#8203;</tspan></text>
<line x1="674.6" y1="213.9" x2="692.1" y2="213.9" stroke="#20f020" stroke-width="1.0"/>
<text x="694.1" y="217.4" font-size="10.2" text-anchor="start" fill="#20f020" font-weight="normal" font-family='"Liberation Sans", sans-serif' >V<tspan font-size="8" dy="3.5">M</tspan><tspan dy="-3.5" font-size="1">&#8203;</tspan></text>
<text x="694.1" y="236.7" font-size="10.2" text-anchor="start" fill="#ff2828" font-weight="normal" font-family='"Liberation Sans", sans-serif' >V<tspan font-size="8" dy="3.5">N</tspan><tspan dy="-3.5" font-size="1">&#8203;</tspan></text>
<path d="M668.5,221v3.4m1-2.4v2.4m1-1.8v1.8m1-2.7v2.6m1-1.7v1.9m1-1.5v2.6m1-2.9v2.1m1-3.1v2.1m1-2.3v4.5m1-4.7v2.8m1-3.1v1.8m1-1.3v2.5m1-3.4v3.5m1-2.5v3.2m1-2.2v3.7m1-2.1v2.5m1-1.6v3.7m1-3.1v2.3m1-5.2v5.9m1-2.5v1.9m1-3.2v3m1-2.5v2.1m1-2.5v4.3m1-4.5v3.5m1-3.4v2.7m1-1.7v1.9m1-2.3v3.1m1-4.1v3.5m1-2.7v2.8m1-3.7v3.4m1-1.7v2.4m1-2.9v4.4m1-4.4v3.4m1-4.1v3.1m1-3.2v2.3m1-2.5v3.8m1-3.3v3m1-2.6v1.6m1-4.1v4.5m1-2.7v2.2m1-1.9v2m1-2.3v4.6m1-4.6v2.9m1-3.1v1.7m1-2.4v2.9m1-2.6v1.7m1-2.5v1.9m1-2.7v3.7m1-2.8v3.1m1-4.2v4.5m1-3.8v2.4m1-2.4v2.3m1-2.1v3.1m1-4.2v3.8m1-3.5v3.3m1-4.3v2.4m1-3v3.8m1-2.9v1.4m1-3.9v4m1-4.5v7m1-4.8v3.2m1-4.5v2.8m1-7.1v9.3m1-5.2v2.9m1-6.6v10.4m1-8.8v4.7m1-4.4v6.9m1-6.1v3.5m1-3.7v1.4m1-2.8v3m1-2.6v2m1-4.5v4.1m1-2.4v5.9m1-8.2v6m1-3.6v5.7m1-7.1v6m1-3v8.5m1-11.2v6.2m1-7v4.5m1-5.3v9.2m1-9.2v13.3m1-10.8v2.6m1-2.4v6.5m1-7.8v4.4m1-8.1v8.1m1-4.5v4.3m1-3.5v3.1m1-3.2v3.5m1-8.5v10.3m1-8v6.6m1-6.9v7.2m1-5v8.2m1-4v1.6m1-1.7v3.4m1-3.9v3.8m1-3.8v4.8m1-7.3v4.8m1-5.4v11m1-8.8v4.3m1-14.1v11.7m1-3.5v4.4m1-13.1v9.6m1-3.1v2.5m1-2.1v8.7m1-6.3v5.2m1-8.5v7.3m1-1.8v7.1m1-7.5v4.1m1-2.9v4.5m1-13.1v17.8m1-10.5v4.2m1-5.3v5.9m1-4.4v2m1-5.8v5.7m1-6.3v8.6m1-7.7v5.9m1-3.3v4m1-4.1v2.6m1-6.2v6.2m1-8v9.4m1-6.6v10.7m1-11.4v8.9m1-5.6v5.1m1-3.8v1.8m1-2v5.2m1-5.1v3.2m1-3.7v5m1-4.7v1.6m1-4.1v3.8m1-4.6v6.9m1-5.8v3.7m1-4.1v2.6m1-11.4v11.1m1-4.1v3.9m1-3.5v6.7m1-6.3v3.5m1-2.9v4.3m1-4.6v6m1-4.6v2.4m1-4.1v5.7m1-8.1v7.9m1-7.3v7.2m1-6v5.7m1-3.3v3.7m1-3.8v3.8m1-8.3v7.8m1-6.1v9.1m1-6.3v3.7m1-5.4v5.7m1-4.6v3.9m1-5.7v5.5m1-2.7v4.1m1-3.3v4.8m1-4.9v3.4m1-4.4v7.6m1-7.5v7.7m1-8.5v5.8m1-5v3.9m1-3.9v6m1-5.1v2.3m1-1.5v4.6m1-5.1v3.1m1-3.9v3.5m1-3.6v7.7m1-7.8v5.7m1-5.1v7.3m1-8.4v8.2m1-7.3v4.4m1-1.3v2.8m1-5v6.7m1-6.5v8.1m1-5.9v4.9m1-3.6v2.3m1-6.1v8.8m1-5.2v3m1-2.6v4m1-4.3v2.9m1-2.7v5.9m1-6.4v4.5m1-3.2v2.8m1-2.5v3.6m1-7.4v7.2m1-5.7v7m1-7.3v5.5m1-7.3v11.2m1-6.9v2.6m1-3.1v7.6m1-8.1v4.8m1-5.7v4.6m1-4.7v10m1-10.7v8m1-5.5v5.2m1-4.9v2.8m1-6.8v6.9m1-5.7v3.7m1-5.7v5.2m1-1.5v2.1m1-3.1v4.5m1-6v7m1-6.3v5.4m1-8.9v4.6m1-4.7v8.9m1-34v29.6m1-16.6v13.1m1-.7v3.3m1-3.9v8.6m1-6v4.1m1-3.7v2.6m1-3.5v3.3m1-7.1v5.8m1-2.9v2.8m1-5.2v5.7m1-4.8v6.4m1-4.4v4.9m1-5.9v4.8m1-4.2v3.2m1-5.8v13.5m1-12.1v4.2m1-5.2v10.1m1-10.8v3.2m1-4.4v3.1m1-6.3v6m1-3.9v2.1m1-2.5v1.8m1-3.1v9.5m1-7.5v3m1-1.3v3m1-6v12.7m1-9.9v7.6m1-7.9v8m1-10.2v10.7m1-5.3v3.3m1-3.1v3.9m1-8.8v8.1m1-8.5v8.5m1-3.8v2.8m1-4.1v3.5m1-6.7v7.2m1-3.4v2.6m1-3v2.9m1-2.8v2.2m1-2.1v4.5m1-3.1v1.2m1-3.1v3.7m1-1.3v3.3m1-3v2.8m1-3.6v5m1-5.3v5.1m1-9.9v9.8m1-2.7v4.5m1-5.2v5.1m1-3.8v6.1m1-6.5v3.6m1-4v2.7m1-2v2m1-1.6v2.1m1-4.8v4.9m1-2.6v5.1m1-4.6v3.1m1-2.2v2.8m1-2.5v1.8m1-2.4v2.8m1-2.3v5.2m1-4v2.2m1-2.5v3.9m1-8.6v5.8m1-2.5v4.4m1-5.4v5.2m1-5.2v2.6m1-1.3v1.6m1-1.6v2.7m1-4.5v3.4m1-2.4v3.9m1-3.3v4.1m1-4.3v2.2m1-2.3v4.2m1-5.3v3.8m1-2.2v2.2m1-3.9v4m1-3.2v1.8m1-4.7v4.9m1-2.7v5.3m1-4.9v4.3m1-6.2v3.6m1-3.2v3.7m1-5.2v4.5m1-2.7v3.5m1-3.6v3.8m1-5.4v3.3m1-3v4.3m1-4.1v2.9m1-2.3v4m1-4.9v4.4m1-4.2v5m1-6.4v5.4m1-4.1v5.6m1-5.1v3.2m1-8.6v9.2m1-5.8v4.1m1-3.9v5.5m1-4.7v3.8m1-3.8v4.7m1-3.6v2.9m1-3.3v2m1-1.9v2.5m1-4.1v3m1-4.6v5.3m1-5.3v5.5m1-3.5v4m1-5.6v5.1m1-4.6v6.6m1-5.3v4.9m1-5.6v3.4m1-1.9v2.5m1-2.3v2.6m1-5.9v5.7m1-2.2v3.6m1-5v5.9m1-4.3v2m1-3.5v5.4m1-5.3v3m1-2.1v2.7m1-2.8v5.1m1-4.4v3.3m1-4.4v3.5m1-1.8v2.5m1-4.4v3.8m1-2.7v2.6m1-2.6v4.1m1-4.8v3.6m1-3.4v3.2m1-5.1v5.1m1-2.2v3.1m1-2.2v1.8m1-2.5v2.4m1-2.6v3.7m1-2.6v2.8m1-4.8v4.2m1-4.4v3.9m1-2.1v4.5m1-4.3v2.4m1-2.5v3.7m1-2.8v3.4m1-5v4.3m1-2.4v4.6m1-4.5v3m1-3.7v4.8m1-5.6v3.2m1-2.6v2.4m1-3.4v2.3m1-3v3.5m1-2.2v3.1m1-4.9v4.4m1-3.5v3.1m1-1.9v3.4m1-5.1v4.4m1-2.6v2m1-2.2v3.7m1-2.9v1.9m1-3.4v5.7m1-4.9v3.2m1-5.3v9.8m1-12v7.1m1-3.3v4.7m1-5v2.5m1-2.8v2.3m1-2.5v2.4m1-5.6v5.2m1-3.9v4.1m1-4.1v4.8m1-6.5v4.7m1-3.3v2.9m1-2.4v2.9m1-2.5v1.8m1-2v3.1m1-3.2v5.5m1-5.8v3.5m1-2.4v3.3m1-3.9v2.8m1-2.2v2.8m1-5.2v4.1m1-2.5v3.1m1-3v3.4m1-2.8v2.7m1-3.4v3.3m1-3.5v4m1-2.4v4.3m1-4.2v2.1m1-2v1.6m1-6.8v6.8m1-1.9v5m1-4.4v5.7m1-7.2v5.2m1-5.6v4.2m1-2.3v2.6m1-2.5v2.2m1-4.7v6.9m1-4.1v4.5m1-4.4v3.4m1-3.9v2.4m1-5.2v5.4m1-2v2.7m1-2.8v4.5m1-5.1v3m1-4.5v4.8m1-2.6v2.5m1-3.4v5.6m1-5v3.7m1-5.8v4.2m1-1.7v4.7m1-5.1v6m1-6.5v4.2m1-4.3v4.2m1-4v3.7m1-3v3.4m1-2.7v3.4m1-7v6.3m1-1.8v2.9m1-3.1v4.3m1-4v4.8m1-5.4v4.6m1-2.9v2.7m1-1.6v2.1m1-2.3v3.6m1-3.4v3.2m1-2.8v2.9m1-3.4v2.3m1-3.1v3.7m1-5.5v4.9m1-2.6v2.4m1-3v3.5m1-5.9v4.9m1-3.6v4.4m1-3.5v5.7m1-6.9v13.4m1-13.8v4m1-3.6v3.1m1-2v1.8m1-1.8v3.5m1-3.5v4.3m1-4.1v1.6m1-2.8v2.7m1-3.1v3.1m1-1.4v2.3m1-2.3v2.4m1-4.7v6.6m1-4.7v2.2m1-1.9v3.1m1-4.9v4.4m1-5.9v8.2m1-5.8v3.9m1-5.5v6.7m1-6.5v8.1m1-6.8v1.9m1-3.3v4.7" fill="none" stroke="#14f014" stroke-width="1.0"/>
<path d="M668.5,228.8v2.8m1-3.8v3.8m1-2.6v1.6m1-1.7v2.1m1-3.1v3.4m1-3.7v2.7m1-2.1v3.3m1-3.1v2.3m1-3v3m1-2.7v2m1-1.3v2.7m1-3.9v3.1m1-2.6v2.6m1-1.5v1.4m1-1v1.7m1-2.6v3.2m1-2v2.6m1-3.5v1.9m1-1.9v2.9m1-3.1v4.9m1-4.6v1.3m1-3.4v3.4m1-2v2.1m1-1.8v3.3m1-3.8v2.5m1-2.9v1.9m1-3.1v4.2m1-3.4v2.5m1-3.2v2m1-1.7v2.6m1-3.1v1.7m1-1.7v1.5m1-1.5v1.6m1-1.9v2.4m1-2.1v1.5m1-1.7v1.5m1-1.5v2.5m1-3.4v4.9m1-5v2.7m1-2.9v2.9m1-3.6v4m1-5.2v4.1m1-1.9v1.3m1-1.8v3.5m1-3.4v2.5m1-3v1.7m1-1.6v1.6m1-1.9v3.4m1-2.9v1.5m1-2.1v2.7m1-3.6v3.6m1-2.1v3.6m1-3.6v3.4m1-2.8v1.7m1-1.9v1.4m1-2.5v3.1m1-1.7v1.5m1-3.4v3.2m1-2.1v1.8m1-1.6v5.4m1-8v8.3m1-6.4v2.9m1-4.3v4.5m1-3.9v3.4m1-4.8v5m1-4.4v4.5m1-4v4.2m1-4.3v6m1-5.5v4.1m1-2.2v2.4m1-3.1v6.7m1-7.2v3.5m1-3.6v3.5m1-2.9v2.7m1-5.4v5.7m1-2.9v3m1-1.8v4m1-4.6v3.3m1-4.7v6.1m1-5.6v7.3m1-5v4.5m1-8.5v6.8m1-4.8v6.4m1-5.6v4.5m1-1.7v2.3m1-2.4v2.1m1-3v5.2m1-3.5v2.4m1-2.8v5.8m1-4.5v2.4m1-3.1v4.4m1-3.5v3.6m1-4.9v6m1-5.2v6.8m1-8.4v4.8m1-6.8v5.2m1-3.5v8.8m1-9v5.7m1-7.5v5.1m1-5.5v2.5m1-2.5v2.8m1-2.4v2m1-4.6v7.9m1-4.9v3.9m1-4.2v3.1m1-2.8v2.7m1-4.4v6.4m1-4.9v5.2m1-5.1v6m1-6.3v6.5m1-4.8v4.6m1-4.3v3.8m1-4.1v2.9m1-2.4v3.7m1-3v3.1m1-3.8v3.1m1-3.1v6m1-7.1v5.3m1-5.9v2.7m1-2.2v1.8m1-2.8v6.6m1-6.7v3.6m1-8.2v8.8m1-7.1v6m1-4.2v6.2m1-6.3v2.6m1-6.1v5.6m1-2.5v2.7m1-4.3v3.5m1-5.2v7.9m1-5.9v3.7m1-7v4.5m1-5.3v8m1-5.4v3.5m1-5v3.6m1-2.7v4.4m1-6.7v5.1m1-4v4m1-3.7v5.2m1-5.6v5.3m1-3.5v2.9m1-1.7v4.2m1-6.3v4.4m1-4v4.6m1-3.5v2.4m1-4.6v5.1m1-2.2v2.3m1-2.5v2.8m1-4.3v7m1-5.3v3.7m1-4.2v4.1m1-2.1v13.1m1-14.3v3.1m1-3.8v5.1m1-2.3v11.7m1-14v6.4m1-3.1v4m1-4.8v6.7m1-5.9v2.3m1-2.4v3.2m1-2.6v3.7m1-2.2v4.2m1-7v5.1m1-5.5v5.7m1-2.5v1.4m1-1.7v3.6m1-6.6v6.4m1-3.5v4.1m1-3v2.4m1-2.3v2.2m1-4.7v4.1m1-6.2v5.3m1-3.4v3.6m1-2.7v7m1-8v4.1m1-3v3.3m1-3.9v3.1m1-4.6v11.1m1-12.1v7.5m1-4.9v3m1-4.8v7.3m1-6.5v3.1m1-3.1v3.4m1-4.6v6.4m1-4.3v2.8m1-4.1v7.5m1-5.5v4.1m1-3.9v3.7m1-3.5v6.1m1-6.1v4.6m1-7.6v7.9m1-5.1v2.6m1-2.7v2.8m1-6.6v6.4m1-3.3v3.9m1-4.9v3.4m1-3.2v3.2m1-4.5v3.1m1-5.4v4.9m1-5v2.7m1-3.5v4.9m1-7.7v5.3m1-16.1v12.6m1-7.1v8.5m1-5.4v5.1m1-.9v6.1m1-4.7v1.9m1-1.9v2.1m1-2.8v5.2m1-5.4v5.4m1-5.3v4.3m1-2.6v5.9m1-5.9v1.9m1-1.9v2.6m1-3.4v3m1-5.2v5.8m1-2.4v4.9m1-8.4v7.5m1-5.5v5.1m1-3.4v3.8m1-4.9v5.5m1-4.6v12.4m1-13.5v10.5m1-8.8v5.6m1-5.1v3.4m1-3.8v3.8m1-3.5v2.9m1-4.6v3.6m1-4.6v7.9m1-8.7v6.8m1-6.9v5.7m1-4.4v6.8m1-4.3v4.4m1-4.4v5m1-4.1v4.3m1-5.5v4.2m1-4.4v5.2m1-2.8v2.3m1-2v1.6m1-2.7v3.1m1-2.4v3.6m1-2.2v1.5m1-2.5v3.1m1-2.3v2.7m1-4.2v3.8m1-3v10.9m1-10.4v2.9m1-1.6v3.6m1-2.9v2.4m1-2.7v3.4m1-4.8v4.1m1-2.7v3.8m1-5.2v2.4m1-1.6v3.6m1-3.6v2.4m1-2.2v3.7m1-4v4.2m1-5.6v3.8m1-2.2v2.3m1-3.5v2.2m1-1v1.4m1-1.4v2m1-2.5v2.5m1-2.6v2.5m1-2.1v3.2m1-3.3v4.3m1-5.9v3.9m1-3.2v2.6m1-2.6v1.9m1-2.2v2m1-4.3v3.9m1-3.1v3m1-2v2.2m1-3v2.3m1-3.2v3.2m1-2.3v2m1-2.7v2.5m1-1.6v2.9m1-6.4v5.8m1-2.7v2.7m1-2.6v7.7m1-10.7v4.4m1-2.1v1.9m1-1.6v11.1m1-11.1v3.7m1-3.6v1.6m1-3v2.6m1-1.8v1.4m1-2.4v2.7m1-1.8v1.7m1-1.7v4.4m1-4.7v2.3m1-2.4v2.3m1-2.3v2.6m1-2v4.4m1-5.2v3.3m1-2.4v2.7m1-2.6v1.7m1-4.1v6.7m1-4.9v2.6m1-1.7v1.9m1-2.4v3.5m1-4.5v5.5m1-3.5v3.2m1-3v2.4m1-2.7v2.8m1-3.2v3m1-2.6v2.3m1-2.1v3.1m1-3.9v2.9m1-2.2v2.2m1-1.7v1.8m1-3.3v4.7m1-5.4v5.4m1-2.8v2.1m1-2v6.2m1-8.1v4.6m1-4.7v4.7m1-2.8v1.4m1-3.2v3.4m1-2.8v4.4m1-3.4v2m1-1.4v1.5m1-1.5v1.6m1-2.9v2.5m1-2.7v3.4m1-3.3v3.2m1-4v4.3m1-3v2.3m1-4.3v3.2m1-1.7v2.6m1-5.1v4.2m1-1.7v4.5m1-5.2v2.8m1-1.4v1.8m1-2.3v2.8m1-3.4v3.4m1-2.1v2.3m1-2.3v2.4m1-2.4v2.1m1-2v2.3m1-3.8v4.2m1-3v4.1m1-5.9v3.5m1-3.8v3.6m1-1.7v3.9m1-4.1v2.9m1-3v3.8m1-3.5v1.5m1-1.9v2.6m1-2.1v1.8m1-3.4v4.5m1-3.5v1.4m1-3.5v4.6m1-2.9v4.4m1-4.2v2.7m1-2.7v2m1-4.6v6.2m1-6.4v4m1-3.6v4.7m1-3v3.3m1-3.4v3.1m1-3.3v3.5m1-4.3v1.7m1-2.6v2.4m1-4v5.9m1-4.8v3.8m1-4.3v2.7m1-2.5v2.2m1-3.9v3.9m1-2.7v3.6m1-3.3v2.2m1-3.4v2.4m1-2v2.6m1-3.1v3.5m1-3.7v4.1m1-1.6v2.1m1-1.7v4.1m1-5.2v3.6m1-6.4v8.2m1-4.2v3.3m1-2.5v1.6m1-.9v2.1m1-2v2.4m1-3.2v3.3m1-4.3v5.8m1-4.6v3.2m1-4.3v6.1m1-4.3v2.2m1-4.5v4.9m1-2.8v3.6m1-3.8v2.8m1-2.5v2.3m1-1.3v3.8m1-4v2.3m1-4.2v3.6m1-.9v1.2m1-3.2v3.9m1-1.9v2.2m1-3.1v3.9m1-3.3v3.4m1-4v3.3m1-2.2v1.4m1-1.8v3.9m1-3.1v2.9m1-3.7v3.9m1-2.8v3.5m1-4.5v3.9m1-3.6v2.8m1-2.5v5.5m1-5.7v2.5m1-1.7v1.7m1-1.6v2.4m1-1.8v2.7m1-2.2v2.7m1-3.5v3.6m1-4v3m1-1.4v2.1m1-3.2v3.7m1-2.1v2.3m1-1.9v2.1m1-1.9v3m1-2.8v3.5m1-3.7v4.4m1-4.2v2.1m1-4.7v6m1-4.1v5.1m1-5.1v2m1-2.8v3.1m1-3.6v2.9m1-5.3v4.6m1-3.2v2.6m1-5.4v5.9m1-4.2v2.5m1-2.9v4.1m1-3.6v1.6m1-2.8v2.3m1-2v2.8m1-3v3.3m1-3.5v1.6m1-1.8v1.6m1-2.4v2.1m1-2.1v3m1-3v4.2m1-6.4v4.1m1-3.1v2.3m1-3.7v7.1m1-6.3v3.7m1-2.4v2.5m1-2.1v3.2m1-3.1v2.1m1-3.8v4.6m1-2.7v2.2m1-2.8v2.9m1-2.9v2.9" fill="none" stroke="#ff1414" stroke-width="1.0"/>
<path d="M668.5,239.1v1.4m1-3.1v2.7m1-2v2.6m1-2.6v1.3m1-2.2v1.9m1-2v2.9m1-3.4v2.6m1-3.6v4.9m1-3.8v3.7m1-2v2m1-2v2.2m1-4.1v3.6m1-1.8v1.7m1-1.8v2.6m1-2.7v4.4m1-4.2v3m1-2.1v3.1m1-2.7v1.7m1-1.1v2.5m1-2.6v2m1-2.4v3.2m1-4.1v4.2m1-4.1v3.1m1-1.8v2.1m1-3.8v3.6m1-2.1v2.2m1-2.1v2.3m1-2.5v1.6m1-1.8v3.2m1-3.9v2.8m1-1.8v2.2m1-2.5v2.6m1-2.6v1.8m1-3.6v4.7m1-4.2v2.4m1-2.3v1.9m1-3v3.5m1-2.7v2m1-2.6v2.8m1-3.2v2.8m1-2.5v4.7m1-5v2m1-1.7v2.3m1-2.7v2.4m1-2.1v2.3m1-2.6v1.7m1-1.9v3.1m1-3v1.8m1-2.7v3.1m1-1.5v1.5m1-2.6v3m1-2.3v2.6m1-2v2.2m1-1.9v2.7m1-3.2v1.8m1-1v2.5m1-3.2v3.6m1-4.2v4.9m1-5.4v3.6m1-4.4v5.9m1-6.4v4.5m1-4.2v5.6m1-4.9v3.5m1-5.9v5.2m1-8.2v7.8m1-4.1v4.6m1-11.7v10m1-4.5v5m1-6.1v11.4m1-16.8v12.8m1-5.6v5m1-4.8v7.9m1-10.4v10.2m1-2.7v2.8m1-4.2v7.1m1-4.1v2m1-7.6v13m1-13.9v12.3m1-6.8v7.4m1-7.3v4.3m1-6v6.8m1-9.1v10.9m1-9v8.7m1-6.6v13.6m1-11.4v14.1m1-13.3v19.8m1-27.5v10m1-8.3v16.3m1-13.8v4.5m1-16.8v21.4m1-8.4v3.5m1-4.2v10.6m1-10v5.8m1-5.6v3.8m1-3.9v13.8m1-12.7v2.5m1-2.9v6m1-6.2v13.1m1-13.5v10.3m1-19.4v18.8m1-11v7.3m1-15.3v18.3m1-17.5v11.3m1-8.3v9.4m1-3.2v1.7m1-7.5v14.4m1-9.4v2.6m1-4.4v11.5m1-8v2.3m1-1.5v10.1m1-16.8v13.9m1-14.3v8.8m1-3.7v10.2m1-7.8v3.9m1-6.1v9.3m1-11.5v25m1-26.4v7.9m1-3.3v6.8m1-7v7.6m1-16v10.7m1-3v4.1m1-4.8v3.5m1-4.1v8.1m1-9.6v12m1-11v7.7m1-8v6.9m1-5.5v2.9m1-3v14m1-22.8v14.9m1-14.6v9.9m1-3.7v7.8m1-11.8v9.9m1-8.4v7m1-5.8v14m1-19.3v19.7m1-9.7v9.5m1-10.8v7.4m1-6v12.7m1-11.3v2.7m1-2.2v2.1m1-6.5v6.6m1-2v3.8m1-3.4v5.2m1-5.1v16.8m1-19.4v10.3m1-7.9v6.3m1-5.8v3m1-3.6v4.6m1-14.7v13.4m1-7v5.6m1-5v7.1m1-4.8v6.3m1-6.2v3m1-7.9v7.6m1-2.9v1.5m1-5.3v5.7m1-5.1v6m1-5.6v13.5m1-11v4.9m1-4.8v3.5m1-4.8v4.2m1-5.6v4m1-3.9v3.7m1-5.5v11.8m1-11.1v11.2m1-10.6v4.9m1-5.5v6.1m1-7.5v7.3m1-6.9v8m1-5.9v5.9m1-5.6v7m1-9.4v10.6m1-11.9v11.9m1-6.7v2.8m1-5.2v5.6m1-9v11.5m1-8.4v8m1-11.4v6.4m1-2.1v3.1m1-6.2v5.4m1-3.8v7.3m1-10v7.7m1-8.4v11.3m1-9.8v7.9m1-9.3v12.6m1-8.7v5.2m1-7.7v9.8m1-9.3v4.9m1-3.4v5.5m1-8.8v7.3m1-3.5v4.8m1-5.4v7.7m1-12v7.3m1-4.7v5.9m1-7.4v5.6m1-3.4v11.6m1-15.3v8.1m1-6.3v10.4m1-13v8.2m1-5.8v8m1-7.9v6m1-4.9v4.4m1-8.7v26m1-18.9v4.9m1-12.1v10.3m1-6.1v7.7m1-4v3.9m1-3.7v5.2m1-7.5v9.4m1-7.4v3.9m1-3v3.2m1-4v2.9m1-9.8v10.8m1-4.8v2.6m1-6.9v6.7m1-3.4v3.7m1-7.6v9m1-9.6v7.6m1-2.2v3.5m1-3.7v6.6m1-8.4v6.8m1-4.3v5.3m1-4.9v4m1-7.5v14.3m1-12.3v9.6m1-10.5v5m1-6.3v5.9m1-7.9v10.1m1-12v8.9m1-4.6v3.8m1-4.3v3.7m1-6.6v12.2m1-9.4v3.1m1-3.1v6.5m1-9.5v11.2m1-5.4v4.6m1-7.2v6.8m1-7.1v8m1-5.4v10.6m1-9.3v4.5m1-8.6v6.9m1-6.3v6.5m1-5v4.2m1-4.8v9.4m1-9.9v9.1m1-5.7v2.9m1-2.9v7.3m1-7.9v4.8m1-5.4v3.5m1-2.3v4.3m1-4.9v3.6m1-4.9v6.5m1-8.9v7m1-5.1v6.1m1-6.9v4.9m1-3.7v3.7m1-4.5v8.2m1-6.3v2.6m1-3.2v3.2m1-3.2v6.6m1-6.9v4.6m1-3.8v2.9m1-3.5v6m1-4.8v2m1-2.3v2.2m1-2.6v2.5m1-3.1v3m1-9.5v9.5m1-3.9v3.7m1-4.3v5.4m1-4v6.2m1-4.3v1.8m1-3.5v3.4m1-2v2.4m1-3.7v3.8m1-3.6v5.6m1-4.8v6.7m1-6.2v7.5m1-10.2v6.1m1-3.2v4.8m1-2.4v10m1-11.6v4.7m1-4.7v5.5m1-5.7v5.7m1-5.1v15.2m1-14.4v3m1-5.8v4.8m1-4.9v4m1-4.2v3.1m1-2v1.4m1-2.4v2.6m1-2v2.1m1-2.9v2.6m1-2.9v4.6m1-4.2v3.2m1-4.1v4.7m1-7.2v4.7m1-1.8v2m1-3.6v4m1-2.2v3.2m1-2.1v3.7m1-5.4v3.6m1-3.2v2.8m1-3.8v4m1-2.7v6.7m1-6.9v3m1-2.4v3.8m1-4.6v8.4m1-9v8.3m1-7.9v3.7m1-1.6v1.8m1-2.4v5.1m1-4.1v2.1m1-3.8v8.8m1-6.5v2.5m1-2.9v3m1-4.1v5m1-6.5v8.6m1-7.1v5.8m1-3.5v2.9m1-2.7v1.5m1-2.7v3.2m1-3.4v7.3m1-5.6v3.6m1-6.2v4.8m1-5.9v7.1m1-6.3v7.5m1-5.8v4.6m1-4.9v2.7m1-2v2.6m1-3v2.2m1-2.9v4.4m1-6.3v5.1m1-2.1v5.2m1-7.2v7.2m1-4.7v4.9m1-4.5v3.1m1-4.4v8m1-7.1v3.8m1-6.2v5.3m1-1.8v2.8m1-2.1v3.5m1-4.6v5.8m1-5.4v6.2m1-5.3v3.9m1-5v3.4m1-4.9v8.8m1-7v2.8m1-3v3.8m1-4.9v7.1m1-5v4.9m1-6.6v7.1m1-7.1v6.7m1-8.4v4.8m1-2.7v5.3m1-4.3v2.3m1-2.3v4m1-6.7v5.5m1-2.2v4.9m1-4v3.2m1-2.7v3m1-5v5.4m1-2.6v3.4m1-5.9v4.3m1-2.8v3.9m1-4.5v4.8m1-9.8v8m1-6.7v6.8m1-6.5v5.2m1-6.1v4.2m1-2.6v3.4m1-2.8v2.5m1-6.8v8.9m1-5v1.9m1-3.2v2.9m1-1.8v2.6m1-5.4v4.8m1-4.4v6.3m1-4.1v3.1m1-3v3.1m1-4.3v6.6m1-9.2v5.3m1-3.2v6.3m1-4.4v2m1-3.3v4.5m1-3.4v4.1m1-5.3v4.8m1-3.9v3.3m1-3v3.4m1-3.5v5.3m1-7.3v4.1m1-4.2v5.1m1-3.4v4.3m1-4.5v2.7m1-3v4.4m1-4.8v3.1m1-3.6v3.5m1-2.4v2.4m1-3v3.5m1-1.3v2.3m1-2.6v5m1-4.7v3.1m1-4.9v6.8m1-6.9v4.9m1-4.5v3.9m1-7.1v7.3m1-4.9v4.4m1-3.1v5.6m1-5.8v4.3m1-5.7v5.4m1-2.7v3.4m1-7.4v7.2m1-3.7v3.3m1-2.7v3.4m1-4.1v4.9m1-6.4v7.7m1-7v4.3m1-2v4.9m1-4.7v3.7m1-4.2v3.4m1-3.7v2.2m1-6.6v6.6m1-2.7v1.7m1-5v5.8m1-5.2v4.9m1-7.7v7.3m1-3.9v3.1m1-1.8v3.3m1-3v2.1m1-2.4v4.9m1-7v6.3m1-5.4v4m1-5.8v5.8m1-3.7v5.5m1-5.9v2.3m1-2.6v4.9m1-5.4v2.4m1-5v5.6m1-5.2v6.5m1-5.1v5.6m1-6.8v2.1m1-3.5v4.3m1-4.7v3.5m1-2.9v5.8m1-10v8.2m1-6.1v4.8m1-3v4.5m1-2.9v5.1m1-8.5v13.9m1-8v11.1m1-4.3v6.1m1-1.4v5.1m1-4.9v3.8m1-6.6v6.7m1-5.5v8.1" fill="none" stroke="#1212ff" stroke-width="1.0"/>
</g>
<line x1="712.5" y1="193.4" x2="712.5" y2="263.4" stroke="#00a000" stroke-width="1.3" stroke-dasharray="6,3"/>
<line x1="722.7" y1="193.4" x2="722.7" y2="263.4" stroke="#ff2020" stroke-width="1.2" stroke-dasharray="6,3"/>
<line x1="743.3" y1="193.4" x2="743.3" y2="263.4" stroke="#ff2020" stroke-width="1.2" stroke-dasharray="6,3"/>
<line x1="740.7" y1="193.4" x2="740.7" y2="263.4" stroke="#ff30ff" stroke-width="1.4" stroke-dasharray="1.5,3"/>
<line x1="871.2" y1="193.4" x2="871.2" y2="263.4" stroke="#ff30ff" stroke-width="1.4" stroke-dasharray="1.5,3"/>
<line x1="753.7" y1="193.4" x2="753.7" y2="263.4" stroke="#00a000" stroke-width="1.0" stroke-dasharray="2,4"/>
<line x1="753.7" y1="193.4" x2="753.7" y2="263.4" stroke="#0000e0" stroke-width="1.2" stroke-dasharray="2,1.5"/>
<clipPath id="cm4"><rect x="668.5" y="263.4" width="454" height="73.9"/></clipPath><g clip-path="url(#cm4)">
<line x1="674.6" y1="271.3" x2="692.1" y2="271.3" stroke="#ff2828" stroke-width="1.0"/>
<text x="694.1" y="274.8" font-size="10.4" text-anchor="start" fill="#ff2828" font-weight="normal" font-family='"Liberation Sans", sans-serif' >T</text>
<text x="698.5" y="278.5" font-size="8" text-anchor="start" fill="#ff2828" font-weight="normal" font-family='"Liberation Sans", sans-serif' >||</text>
<line x1="674.6" y1="286.2" x2="692" y2="286.2" stroke="#777" stroke-width="1.6"/>
<text x="694.1" y="290" font-size="10.4" text-anchor="start" fill="#000" font-weight="normal" font-family='"Liberation Sans", sans-serif' >T</text>
<path d="M668.5,295.8l1-.7 1,.2 1,.8 1-3.6 1,1.6 1,.1 1-1.6 1-.6 1,2.3 1-.7 1-1.2 1,.5 1-3.7 1-.9 1-1.1 1,0 1,.5 1-3 1,1 1,.5 1-2.1 1,2.8 1-1.1 1,0 1-2.2 1,1.3 1-2.5 1,2.4 1-1 1-.7 1,1.7 1-.6 1,3.2 1-.3 1,1.3 1,1.8 1-.2 1,1.7 1,.1 1-2.8 1-1.1 1,2.8 1-1 1,1.3 1,.2 1-1.8 1,1.2 1,.8 1-.7 1-.1 1-1 1,1.3 1-1.5 1,1.6 1,3.7 1,.2 1-.1 1-3.5 1-1.7 1-1.9 1-5 1,3.8 1,1.1 1,5.8 1,6.3 1,4.8 1,6.9 1,0 1,5.8 1-6.6 1-2.9 1,7 1,3.7 1,6.9 1,1 1-16 1,6.9 1-5.6 1,7.7 1,1.8 1,5.9 1,5 1,3 1-6.8 1,.4 1-1.6 1,1.6 1-6 1,.7 1,2.7 1,.2 1,7.2 1-5.4 1,7.6 1-3.9 1-7.6 1-9.7 1-11.8 1,18.8 1-1.7 1,0 1-1.1 1-4.5 1-3 1-7.9 1,8.6 1,7.5 1-2 1,4.3 1,.7 1,2.4 1-1.7 1,7.2 1-6.7 1-3.5 1-7.8 1,3.5 1-4.5 1-5.2 1,8.8 1,8.1 1-5.6 1-.9 1-9 1-12.7 1-12.9 1,4.3 1,.9 1-.7 1-4.1 1,3.7 1,3.5 1,4.8 1-16.5 1-5.6 1,34.9 1,6.2 1-7.3 1-11.9 1-16.2 1-6.1 1,11.7 1,2.7 1-7.1 1,4.1 1,10 1,3.5 1-9.4 1,7.8 1,8.5 1,.5 1,3.7 1-2.8 1-3.4 1-9.4 1,10.3 1,3.7 1,.9 1-4.1 1-1.3 1-6 1,.6 1,9.4 1-5 1-5.8 1,6.3 1-12.5 1-3.7 1,6.6 1,1.9 1,18.8 1-3.2 1-11 1-.6 1,1.7 1-2.1 1,.7 1,5.4 1-3.9 1-7 1,3.5 1-3.1 1,3.1 1,1.7 1,3.9 1,4.3 1-5.1 1-4 1,2.7 1-5.9 1,1.4 1,8.9 1-5.4 1-4.5 1,7.4 1-5.9 1-1.8 1,6.7 1-7.2 1-3.3 1,2.1 1,2.6 1-8.8 1,6.9 1,4.8 1,1.3 1,3.9 1-1.9 1,6.4 1,4.6 1,1.2 1-16.1 1-10.3 1,2.6 1-5.8 1,3.6 1,2 1,10.1 1,2.9 1-1.2 1-5.3 1,1.8 1,9.8 1-.1 1,7.3 1-7.6 1-11.2 1,0 1-2.9 1-4.5 1,4 1,4.9 1-1.7 1-.7 1,5.6 1,1.2 1-.2 1,8 1,6.3 1-2.4 1,1.5 1-7.2 1-.7 1-5.2 1-.8 1-6.8 1,6.1 1,0 1-2.4 1,12.8 1,1.3 1-7.6 1-3 1-4.5 1,5.7 1-2.9 1-.5 1-9.4 1-4.6 1,1.9 1,.7 1,2.9 1-8.2 1,5.5 1-3.5 1,.2 1-1 1,1.2 1,5.4 1,3.1 1-.3 1,1.4 1,1.5 1,1.8 1-.8 1,6.3 1,5.2 1-7.9 1,6.2 1-.8 1-14.8 1,2.9 1-4.7 1,22.9 1-.1 1,8 1-3.7 1-8.7 1-11.2 1-2.8 1-1.1 1,1.3 1-8.9 1,7 1-2 1-.2 1-5.7 1-.9 1-6.6 1,5.4 1,5.4 1,0 1-.1 1-.4 1,3.4 1,2 1-3.5 1,1.9 1-1.4 1-7.5 1,7.7 1-9.1 1,2.6 1-10 1-2.5 1,15.5 1-11.6 1,5.7 1,3.6 1-2.1 1,1.5 1,5.9 1,6.5 1-9.1 1,2.9 1-1.3 1,7.1 1-8.9 1,1.7 1-2.5 1-3.8 1,9.3 1,1.2 1-5 1-9.6 1,17 1-3.4 1,4.3 1-6.4 1,4.2 1-10.5 1-6.3 1-1.7 1,5.5 1-3 1-7.8 1-.3 1,5.7 1-6 1-.3 1,12.5 1,7.6 1,.4 1-1.6 1-7.6 1-4.7 1-.6 1,5 1,3.6 1,2.3 1,15.1 1-1.9 1-4.9 1-4.1 1-5.5 1-5.1 1-5.8 1,1.5 1-12.3 1-5.1 1,13.7 1,3.2 1,7.5 1-3.2 1,4.7 1,.5 1,13.5 1-3.1 1-1.5 1,2.1 1,.5 1,0 1-1.8 1,4.6 1-.5 1,6.9 1-7.9 1,6.6 1-.3 1,1.8 1-2.5 1,.6 1,3.1 1-4.3 1,8.4 1-5.1 1,6 1-7.2 1-1 1-4.5 1,1.6 1-.3 1-2.2 1,1.9 1-3.3 1,4 1-10 1-11.2 1-.5 1,13.1 1,9.8 1-4.8 1,5.8 1,5 1-6.7 1,2.7 1-3.3 1-.5 1-1.9 1-6.5 1,2.7 1,5 1,4.5 1,6.7 1-4.2 1-.7 1,3 1-9.8 1-.8 1-4.4 1-1.1 1-9.8 1-.9 1-10.8 1-1.7 1,6.4 1,2.8 1,14.8 1,22.3 1-4.7 1-1.1 1,1.9 1-2.4 1,3.5 1,3.1 1-1.3 1-6 1-18.3 1-6.5 1,8.1 1,6.5 1,4.9 1,3.3 1-4.1" fill="none" stroke="#ff1818" stroke-width="1.15" stroke-linejoin="round" />
<path d="M668.5,293.2l1-.2 1,.1 1-.2 1,.6 1-.5 1,.1 1-.2 1-.7 1-1.7 1-.5 1,.6 1-1.2 1-1.4 1-1.5 1,.6 1,.6 1-.1 1,.4 1-.3 1,.7 1-.2 1-.6 1,.3 1-1.3 1,1.3 1,1.9 1,.6 1,0 1,.2 1-.4 1,.9 1-.3 1-.4 1-.8 1,.2 1,.5 1-.4 1-.3 1-.8 1,.7 1-1.4 1,.8 1-.2 1-.3 1-.1 1,.3 1-.4 1-1.4 1,1.4 1-1 1,.5 1,.3 1,.3 1,.4 1-.6 1,.1 1,0 1,.5 1,.3 1,.5 1,.6 1,.2 1,.2 1,1.8 1-.1 1,4.6 1,5 1,5.9 1-2.4 1-1.9 1-1.6 1-.5 1,8.6 1,2.4 1-1.3 1,1.5 1-.9 1,2.2 1,.2 1,4.2 1,4.2 1,5.4 1,2.7 1-7.6 1-5.9 1-4.7 1,2.6 1,0 1,2.6 1,2.9 1,1.6 1-3.1 1,2.1 1,.6 1-3.1 1-1.3 1,.9 1-.3 1,3 1,4.3 1-6.8 1-2.3 1-4.5 1-1 1-1.2 1-.1 1,1.9 1,1.2 1-.1 1,2.8 1-1.2 1,2.3 1-1.2 1-.9 1-2.4 1-.9 1-3.4 1-4.1 1-2 1-.6 1-3.2 1-4 1-5.1 1-3 1-.5 1,2.9 1,2.5 1,1.8 1-.6 1-2.1 1-.3 1,5.8 1,.5 1-.7 1-3.6 1,3.5 1,3.5 1,3.4 1,3.4 1,2.4 1,.7 1,2.6 1-4.3 1-.5 1,1.2 1-2 1,2 1,.1 1-4.4 1,.2 1-1.6 1-1.6 1,.3 1-1 1,2.5 1,1.9 1-2.9 1-1.7 1-2.1 1-2.6 1-1.7 1-.1 1-1.2 1-1.4 1-.2 1-2 1,.5 1-.4 1-.7 1,.8 1,5.4 1,1.8 1,1.7 1,.9 1-.5 1,2.3 1,2.4 1-1.9 1-1.7 1-2.6 1-1.6 1,.3 1,1.6 1,4.6 1-.8 1,.6 1-1 1,2.3 1-3.8 1-.7 1,.7 1,.5 1,.8 1-3.5 1-8.1 1-6.1 1,6.5 1,3.2 1,5.6 1,1.9 1,5.8 1,2 1-5.8 1-8.1 1,2 1,1.6 1,4.1 1-3.9 1-4.7 1-1 1-3.3 1-.4 1,.1 1-.4 1-1.4 1-7.8 1-6.1 1,5.7 1,7.7 1,5 1,3.6 1,.1 1-1.4 1-1.2 1,1.1 1-4.8 1-.4 1-1.6 1,1.8 1-2 1,.3 1-1.5 1-1.6 1,1.1 1-3.2 1-2 1,.6 1,4.2 1,.4 1,.2 1-1.8 1,.5 1,3.9 1,5.3 1,1.2 1-1.2 1-.1 1-2.5 1-1.5 1-4.6 1-3 1,.2 1-4.1 1,3.7 1,.4 1,2.1 1,2.9 1,3.6 1,1.4 1-.7 1,1.7 1,1.6 1-2.2 1-3.6 1,2.5 1-.2 1-1.2 1-1.2 1-1.2 1,1.5 1,1 1-3.2 1-5.5 1-.5 1,6.9 1,6.5 1-1.9 1,2.7 1,1.3 1,1.9 1,.5 1,3.2 1-1.9 1,3.2 1,2.1 1,.9 1,2.5 1-2.4 1-3.9 1-4.9 1-1.5 1-2.9 1,.6 1,1 1,.5 1-2 1,2.4 1-1.8 1-1.3 1,3.7 1-3.2 1,4.4 1-2.1 1,.2 1-3.6 1,1.1 1-.8 1,.5 1,3.1 1,.7 1,.5 1-1.8 1-2 1,1.5 1-3.4 1,1.5 1,2.6 1-4.7 1,1.5 1-1.4 1,1.2 1,.2 1-3.9 1,1.4 1,0 1,1.2 1-1.6 1,3 1-.9 1,.6 1,1.7 1-.2 1,3.4 1-2.7 1,2.3 1,1.7 1,5.2 1-2.7 1,6.1 1,3.7 1,1.6 1,1.8 1-1.8 1-2.7 1,3.1 1-.1 1-2.4 1,1.3 1-1 1-1.9 1,1.7 1-.4 1-.1 1-2.8 1,.3 1-4.9 1-2.4 1-2.3 1,2.3 1,3.9 1,5.1 1-.6 1-.5 1,.5 1,2.6 1-.8 1,1.4 1,1.7 1-5.7 1-4.8 1-1.1 1-1.2 1,.3 1,.2 1-2.9 1-.2 1-3.5 1-2.6 1,.7 1,1.8 1-.5 1,2.4 1-.5 1,1.8 1,1.9 1-.6 1-.2 1-.8 1,1.3 1,1.2 1-1.5 1-.9 1-.6 1,1.8 1-2.5 1,1.6 1-1.9 1,.8 1,1.1 1-1.5 1,.8 1,.4 1,.4 1-.3 1-2.1 1,0 1,3.2 1,1.4 1-.2 1-2.5 1,2.1 1-1.6 1-.3 1-.7 1,2.8 1,.6 1,2.7 1,.2 1,4.1 1-.4 1-.2 1,.4 1,.9 1-1.7 1,1.5 1-4.9 1,2.2 1-.1 1,1.1 1-.2 1,2.4 1,.2 1,.1 1,1.5 1-5.4 1-3.8 1-7.3 1-2.4 1-5.2 1-2.2 1-6.4 1,.9 1,6.4 1,12.5 1,.1 1-9.5 1,1.4 1,7 1,5.8 1,.7 1,1.8 1,1.9 1,.4 1,1.4" fill="none" stroke="#111" stroke-width="1.4" stroke-linejoin="round" />
</g>
<line x1="712.5" y1="267.4" x2="712.5" y2="337.3" stroke="#00a000" stroke-width="1.3" stroke-dasharray="6,3"/>
<line x1="722.7" y1="267.4" x2="722.7" y2="337.3" stroke="#ff2020" stroke-width="1.2" stroke-dasharray="6,3"/>
<line x1="743.3" y1="267.4" x2="743.3" y2="337.3" stroke="#ff2020" stroke-width="1.2" stroke-dasharray="6,3"/>
<line x1="740.7" y1="267.4" x2="740.7" y2="337.3" stroke="#ff30ff" stroke-width="1.4" stroke-dasharray="1.5,3"/>
<line x1="871.2" y1="267.4" x2="871.2" y2="337.3" stroke="#ff30ff" stroke-width="1.4" stroke-dasharray="1.5,3"/>
<line x1="753.7" y1="267.4" x2="753.7" y2="337.3" stroke="#00a000" stroke-width="1.0" stroke-dasharray="2,4"/>
<line x1="753.7" y1="267.4" x2="753.7" y2="337.3" stroke="#0000e0" stroke-width="1.2" stroke-dasharray="2,1.5"/>
<clipPath id="cm5"><rect x="668.5" y="337.3" width="454" height="73.9"/></clipPath><g clip-path="url(#cm5)">
<line x1="668.5" y1="363.3" x2="1122.5" y2="363.3" stroke="#222" stroke-width="1.6" stroke-dasharray="5.5,2.5"/>
<text x="695.9" y="366.2" font-size="8.8" text-anchor="start" fill="#ff2828" font-weight="normal" font-family='"Liberation Sans", sans-serif' >E<tspan font-size="7" dy="3">N</tspan><tspan dy="-3" font-size="1">&#8203;</tspan></text>
<path d="M668.5,355.4v1m1-.9v1m1-.9v1.1m1-.9v1m1-.9v1m1-.9v1m1-.9v1m1-.7v1.1m1-.7v1m1-.7v1.1m1-.7v1.1m1-.7v1.2m1-.7v1.3m1-.7v1.3m1-.7v1.4m1-.7v1.2m1-.7v1m1-1v1.1m1-1.1v1.1m1-1v1m1-1v1.1m1-1v1m1-1v1m1-1v1.1m1-1v1.1m1-1v1m1-1v1.1m1-1v1m1-1v1.1m1-1v1.1m1-1v1.1m1-1v1.1m1-1v1.1m1-1v1.1m1-1v1.1m1-1v1.1m1-1v1.1m1-1v1.1m1-1v1.1m1-1v1m1-1v1.1m1-1.1v1.2m1-1.1v1.1m1-1.1v1.1m1-1v1m1-1v1.1m1-1v1.1m1-1.1v1.1m1-1.1v1.1m1-1v1.1m1-1v1m1-1v1.1m1-1.1v1.1m1-1.1v1.2m1-1.1v1.1m1-1.1v1.2m1-1.3v1.1m1-1.4v1.1m1-1.5v1.3m1-1.5v1.3m1-2.2v1.6m1-2.6v2.1m1-3.2v1.8m1-3.4v2.3m1-3.2v2.1m1-3.3v1.9m1-4.9v4.3m1-4.3v3.3m1-3.4v4m1-6.3v5.6m1-3.7v2.3m1-3.6v5.4m1-5.5v4.1m1-5.1v2.3m1-3.1v2.2m1-4.6v6.1m1-3.6v3m1-6.7v7.1m1-6.2v6m1-3.5v3.8m1-3.5v4.3m1-4.5v4.3m1-2.9v6.1m1-7.3v4.8m1-6.2v3m1-1.9v2.7m1-3.6v2.6m1-3.5v3.9m1-3.4v4.8m1-5.1v6.5m1-6.8v4.2m1-6.3v4m1-2.2v3.7m1-3.3v3.9m1-6v6.4m1-3.7v3.8m1-2.5v4.8m1-4v6.1m1-11.4v6m1-8.7v3.6m1-2v3.4m1-1.1v3m1-4.9v6.4m1-2.8v3.2m1-2.6v4.4m1-5.4v3.5m1-3.4v6.3m1-5.3v3.5m1-3.6v3.4m1-4.7v8.3m1-4.6v2m1-1.9v2.4m1-1.1v3.5m1-4.1v5.9m1-5.7v3.7m1-3.4v5.3m1-4.8v2.7m1-1.7v4.9m1-4.7v2.1m1-1v4m1-4.3v4.8m1-7.4v7.2m1-5.2v2m1-7.8v10.4m1-5.9v7.6m1-5.1v3.5m1-2.5v3.5m1-4.7v8.6m1-5.2v4.3m1-3.5v2.9m1-2.4v2.5m1-3.2v3.3m1-3.6v3m1-3.5v2.6m1-4.3v4.1m1-7.2v3.8m1-3.8v2.6m1-2.8v2.4m1-2.4v2.3m1-3.9v3.7m1-2.8v2.6m1-2.8v2.5m1-1.4v3.1m1-4.6v3.2m1-4.3v4.9m1-4.1v2m1-3.1v2.7m1-3.3v2.4m1-3.5v2.4m1-2.6v2m1-2.2v2.4m1-.7v1.9m1-.9v2.6m1-3.8v4.6m1-2.6v3.6m1-2.8v2.8m1-3.6v2.9m1-1v1.9m1-2.9v3.3m1-3.6v2.8m1-3.1v3.4m1-3v3.1m1-2v3.5m1-2.7v2.2m1-1.5v2.5m1-3.4v2.6m1-3v2.6m1-2.9v2.2m1-2.8v2.2m1-2.3v1.9m1-2.5v2.6m1-2.4v2.8m1-1.8v3.1m1-2.8v2.1m1-1.3v1.8m1-1.4v1.9m1-1.7v2.1m1-2.2v2.2m1-2.5v2.8m1-1.6v3m1-3.8v2.7m1-1.7v1.7m1-1.9v2.7m1-3.3v2.6m1-2v1.9m1-1.3v1.4m1-1.4v2.7m1-3.9v4.2m1-3.2v2.2m1-2.3v2.1m1-2.1v1.7m1-1.5v1.6m1-1.5v2.8m1-2.5v1.7m1-1.1v3.1m1-2.7v1.8m1-2.9v3.3m1-2.8v2.8m1-2.3v3.9m1-5.8v3.2m1-5.4v2.9m1-7.5v5.3m1-10.9v6.3m1-4.7v4.1m1-.7v4.3m1-1.1v2.4m1-2.5v3.4m1-4.5v4.2m1-2.7v2.4m1-2.4v2.8m1-2.1v1.7m1-1.5v2.4m1-3.5v3.9m1-2v2.5m1-3.9v4.2m1-3.7v3m1-2.7v3m1-1.4v1.6m1-2v2.5m1-3.5v2.8m1-3.5v2.2m1-3.1v2.5m1-3.7v2m1-3.3v2m1-2v3m1-.7v2.5m1-.8v1.6m1-2.3v2m1-1.5v1.9m1-2.7v2.3m1-2.4v2.7m1-2.3v2m1-1.6v2.3m1-2.4v1.9m1-1.8v2.5m1-2.1v1.6m1-.9v1.7m1-1.4v1.3m1-1.8v2.7m1-2.1v1.5m1-1.3v1.9m1-2v1.8m1-1.7v2.5m1-2.6v2.3m1-2.2v3.3m1-2.5v1.6m1-2.2v3m1-2v2.6m1-4.2v3.4m1-3.2v2.7m1-1.6v1.5m1-2.8v3.1m1-1.4v2.7m1-1.7v1.9m1-2v2.7m1-2.5v2.6m1-1.2v1.7m1-1v2.7m1-1.9v1.5m1-1v2.9m1-2.4v2.1m1-3.7v3.5m1-2v2m1-1.9v1.5m1-2.4v2.3m1-1.9v1.8m1-2.6v3.2m1-2.9v2.6m1-2.8v2.1m1-1.7v2.2m1-1.8v2.5m1-2.5v2.6m1-4.4v2.8m1-2.2v1.8m1-3.4v3m1-2.7v2.5m1-3.5v1.9m1-2.7v1.9m1-3.1v2.3m1-2.4v1.8m1-3.9v2.8m1-2.3v2.2m1-2.4v1.7m1-2v9.6m1-13.1v4.4m1-2.4v3.2m1-1.7v2.1m1-3v3.1m1-1.1v2.5m1-2v1.6m1-2v3.2m1-2.7v2.5m1-1.7v2.4m1-1.8v1.9m1-1.9v2.3m1-2.7v2.8m1-1.8v2m1-1.6v2.1m1-1.6v1.5m1-1.4v2.1m1-1.9v1.6m1-2.7v3.7m1-2.9v2m1-1.5v1.6m1-2v2.1m1-2v2.1m1-1.6v1.9m1-1.5v1.9m1-2v2.7m1-2v1.8m1-1.3v1.7m1-1.8v2.5m1-2.1v1.6m1-1.2v2.1m1-1.9v3m1-2.9v2.4m1-2.1v4.2m1-4.2v1.9m1-1.5v1.7m1-1.9v4.1m1-3.5v1.6m1-1.4v1.9m1-2.3v3.4m1-4v2m1-1.4v1.6m1-1.9v1.7m1-1.9v1.9m1-1.3v2.7m1-3.1v1.8m1-2.4v2.2m1-2.6v3.2m1-2.9v3.4m1-3.4v1.3m1-1.9v1.7m1-1.9v1.6m1-2.8v2.4m1-2.6v1.6m1-2.5v2.1m1-2.7v1.8m1-2.5v2.3m1-3.3v2.5m1-2.2v2.9m1-3.9v2m1-1.8v1.4m1-1.3v2.5m1-3.4v2.1m1-2.3v2.4m1-3v2.3m1-2.5v1.8m1-1.4v2m1-2.6v1.7m1-1.7v2.2m1-2.8v2m1-1.8v2.2m1-3.2v2.5m1-1.2v2.1m1-1.2v3.3m1-3v2m1-3v3.1m1-3v2.6m1-2.3v2.1m1-2v1.4m1-2.3v2.4m1-2.8v1.7m1-2.2v2.9m1-1.3v2.6m1-2.5v2.7m1-1.5v1.9m1-1.5v1.9m1-2.1v2.5m1-1.3v1.7m1-1v1.3m1-1.3v1.6m1-.9v1.9m1-2v2.3m1-2.1v1.4m1-1.1v1.5m1-1.6v1.8m1-1.9v1.8m1-2.5v3.1m1-2.6v1.7m1-2.8v4.2m1-2.9v1.8m1-2.2v2.3m1-1.3v1.9m1-2.1v2m1-2.4v3.3m1-3.3v1.9m1-1.7v2m1-2.3v1.8m1-1.9v1.8m1-2.3v1.9m1-2.2v2m1-2v2.3m1-2.4v1.8m1-1.7v1.4m1-1.2v1.4m1-1.8v2.3m1-2.4v2m1-1.3v1.4m1-.9v1.4m1-1.4v1.5m1-2.8v4.1m1-2.4v1.8m1-1.6v1.4m1-.8v1.7m1-1.8v2.3m1-2v1.7m1-1.8v2.6m1-2.3v2.4m1-2.2v1.9m1-2.5v1.7m1-1.7v1.5m1-1.8v1.4m1-2.6v2.6m1-2.1v1.9m1-2.3v2.4m1-2.4v2.4m1-2.1v1.4m1-1.7v1.9m1-1.6v1.9m1-1.7v1.8m1-1.4v1.3m1-.8v1.2m1-1.9v2.5m1-2.1v1.9m1-2v2.2m1-1.2v1.7m1-1.9v1.9m1-1.6v2.6m1-3.2v3.3m1-1.4v1.4m1-1.4v2.4m1-1.2v1.3m1-.9v1.4m1-1.3v1.5m1-2.1v2.5m1-3.9v3.2m1-3v2.5m1-1.7v2m1-2.3v1.6m1-2.4v2.8m1-3.4v1.9m1-2.8v1.9m1-2.3v1.5m1-4.2v3.6m1-3.3v2.3m1-2.7v1.7m1-3.5v2.8m1-3.8v2.5m1-4.4v3.2m1-3.7v2.2m1-3.8v2.3m1-3.8v2.9m1-3.5v2.4" fill="none" stroke="#14f014" stroke-width="1.0"/>
<path d="M668.5,373.4v1.1m1-1.5v1.1m1-1.6v1.2m1-1.6v1.1m1-1.5v1.1m1-1.4v1m1-1.2v1m1-1.2v1m1-1.2v1m1-1.2v1m1-1.2v1m1-1.3v1.1m1-1.6v1.2m1-1.7v1.2m1-1.8v1.3m1-1.8v1.2m1-1.8v1.3m1-1.9v1.3m1-1.7v1.1m1-1.5v1.1m1-1.4v1m1-1.3v1.1m1-1.5v1.1m1-1.5v1.2m1-1.4v1m1-1.3v1m1-1.2v1m1-1.1v1m1-1.2v1m1-1.2v1.2m1-1.3v1.2m1-1.3v1.1m1-1.2v1m1-1v1.1m1-1.2v1.1m1-1.1v1m1-1v1.1m1-1.2v1.1m1-1.2v1.2m1-1.1v1.1m1-1.1v1.1m1-1v1.1m1-1.1v1.2m1-1.3v1.3m1-1.2v1.3m1-1.3v1.4m1-1.1v1.1m1-1v1.1m1-1v1.1m1-.9v1m1-.9v1m1-.8v1.1m1-.9v1.1m1-1v1.1m1-1v1.3m1-1.2v1.3m1-.8v1.3m1-.8v1.2m1-.7v1.2m1-.7v1.4m1-.7v1.8m1-.8v1.9m1-1.8v4.9m1-3.4v4.5m1-3.2v3.3m1-1v2.6m1-1v7.1m1-5.4v3.3m1-1.2v3.3m1-2.4v7.8m1-8.5v6.5m1-9.1v5.5m1-2.6v2.6m1-2.2v9.4m1-6.7v4.3m1-2.1v4.1m1-7v12.1m1-7.1v2.4m1-9.9v8.4m1-15.6v13.2m1-10.7v8.2m1-5.1v5.7m1-4.4v13.1m1-15.1v9.5m1-2.7v6.5m1-3.5v6.4m1-6.1v5.5m1-6.4v5.3m1-11v10.8m1-7.7v6.5m1-3.5v2.4m1-2.8v2.8m1-4.1v6.2m1-9.1v9m1-5.6v3.6m1-7.6v6.8m1-4.1v5m1-2.4v6.7m1-3.2v7.9m1-3.7v5.3m1-4v5.9m1-12v13.2m1-16.1v6.2m1-9.8v4.3m1-6.8v5.3m1-7.8v11.7m1-7.1v3.5m1-3.5v7.4m1-6v4.4m1-7.9v9.1m1-8v9.5m1-6.7v5.8m1-10.8v8.3m1-4.5v5.6m1-5.9v3.4m1-4.1v4.2m1-4.3v2.7m1-3.5v5.9m1-6.9v4.2m1-8v7.3m1-5.5v6.5m1-14.5v8.8m1-3.7v3.4m1-4.1v4.7m1-13v15.9m1-13.3v5.7m1-10.5v6.4m1-4v3.2m1-11.3v10.4m1-5.5v5.2m1-4v2.2m1-4.4v6.2m1-2.6v4.3m1-1.1v3.2m1-1.6v6.2m1-2.5v4.4m1-4.9v10.1m1-6.8v4.1m1-4v7.2m1-7.8v3.2m1-1.1v2.5m1-6.7v7.7m1-4.8v2.2m1-5.3v6.7m1-5.9v3.8m1-3.6v3.4m1-3v4.6m1-7.3v4.9m1-2.1v2.4m1-4v6m1-4.9v2.1m1-2.2v3.4m1-14.8v15.5m1-3.6v4.4m1-3.6v2.9m1-2.3v5m1-3.9v2.2m1-3.8v3.7m1-3.8v2.2m1-3.5v2.2m1-2.3v2.3m1-4.1v2.7m1-3.4v3.4m1-3.1v1.9m1-3.6v4.3m1-7.6v5.7m1-4v4m1-3v1.5m1-2.1v2m1-3v3.9m1-2.6v4m1-3.4v4.9m1-3.8v3.2m1-3.1v4m1-3.7v4.2m1-4v3m1-4.4v4.5m1-2.4v3.3m1-3.5v2.7m1-3.1v1.7m1-2.7v3m1-3.7v2.7m1-2.9v2.8m1-2.9v2.9m1-3.4v4.5m1-6.2v4.7m1-2.9v2.5m1-4v3.3m1-3.5v5.7m1-5.7v4.5m1-3.5v1.5m1-3.4v3.7m1-2.6v2.6m1-3.2v2.5m1-1.7v2.8m1-3.9v2.2m1-2.7v3.8m1-3.2v2.7m1-2.8v3.8m1-1.8v3.4m1-1.6v3.5m1-1.6v2.4m1-.8v33.1m1-32.1v28.6m1-29.4v3.7m1-2.5v1.5m1-1.5v1.8m1-1.4v3.1m1-4.9v3.6m1-4.7v3.4m1-2.8v3.4m1-3.8v2.9m1-3.5v2.8m1-4.6v4.6m1-3.4v4m1-2v3.5m1-3.6v4.7m1-4v3.6m1-3.1v3.4m1-2.4v3.2m1-2v2.2m1-1v5.2m1-3.4v3.7m1-1.4v2.9m1-5v3.9m1-7.2v4m1-5.5v2.2m1-3.6v3.5m1-4.4v3.5m1-3.2v4m1-3.5v2.1m1-2.9v1.8m1-3.2v3.2m1-2.4v3.4m1-2.4v1.8m1-2.2v2.3m1-1.3v2.6m1-4.3v5.4m1-5.5v4.7m1-2.7v3.3m1-2.9v1.7m1-2.6v2.6m1-3.5v4.7m1-5.5v3.5m1-3.8v4.8m1-5.6v2.4m1-4v4m1-4v3.7m1-2.9v2.1m1-1.9v2.5m1-3.7v2.9m1-2.4v3.8m1-4.8v4.8m1-6.1v4.4m1-4.1v1.9m1-2.6v2.8m1-4.5v3.1m1-2.1v1.7m1-2.7v2.5m1-2.9v2.3m1-2.8v2.7m1-3v1.5m1-1.8v1.9m1-2.9v3.4m1-2.6v1.8m1-2v2.8m1-1.8v1.6m1-1.7v2.3m1-3v2.8m1-1.6v1.8m1-2.2v2.2m1-4.2v4.1m1-2.6v4.4m1-3.6v2.7m1-.7v2.7m1-.9v3.1m1-.7v3.1m1-.8v2.4m1-1.7v4.2m1-3.8v3.6m1-2.6v2.6m1-3.4v3.9m1-.7v3.6m1-1.2v4.7m1-1.4v4m1-7.4v4.6m1-8.2v4.3m1-7.8v5m1-3.9v5.2m1-6.5v2.1m1-3v3m1-3.6v1.4m1-2v1.6m1-3.7v4.4m1-4.9v2.9m1-3.6v2.9m1-2v1.7m1-2.1v2.9m1-3.7v4.5m1-4.5v2.7m1-1.7v1.3m1-1.9v2m1-2.4v3m1-3.1v2.6m1-3.1v2.3m1-1.2v4.2m1-5.4v2.9m1-3v3.4m1-2.7v3.3m1-3.7v2.2m1-3v2.7m1-3.3v3.1m1-3.1v2.9m1-2.5v2.2m1-2.8v2.2m1-1.3v2.2m1-2.8v4m1-5.1v4.6m1-3.2v2m1-2.2v2.8m1-3.5v2.9m1-2.9v2.7m1-2.5v1.8m1-2.9v3.4m1-3v3.1m1-5.1v3.6m1-2.4v1.1m1-1.9v3.7m1-3.7v2.6m1-1.9v2m1-2.5v3.1m1-1.3v1.4m1-3.3v7m1-3.5v3.2m1-3.2v3.8m1-1.2v2.8m1-1.8v3.3m1-2.3v2.4m1-1.3v2.9m1-4.5v4.1m1-1.6v2.1m1-1.8v3m1-2.6v5.3m1-4.7v4.4m1-4.5v3.7m1-1.3v2m1-1.5v3.2m1-4.7v3.2m1-2.2v2m1-1.9v2.3m1-4.4v3.1m1-2v3.5m1-4.9v3.1m1-3.7v2.5m1-5.7v6.1m1-5.6v3.9m1-5.6v3.6m1-3.9v2.8m1-2v3.5m1-2.2v3.6m1-1.7v2.3m1-3.7v2.9m1-2.1v2.3m1-3.2v2.3m1-2.6v3.1m1-3.1v1.6m1-3.3v4.1m1-4.6v2.8m1-3.6v3.1m1-3.8v3.7m1-3.2v1.8m1-3.4v4.3m1-2.6v1.6m1-1.3v2m1-2.9v4.1m1-3.3v2.3m1-3.5v3.5m1-2.4v2.8m1-1.8v2.2m1-1.8v1.1m1-2.8v3.5m1-2.6v1.9m1-3.6v4.2m1-2.2v1.8m1-2.2v2.1m1-2.2v3.1m1-3.1v1.5m1-2.8v3m1-1.9v1.9m1-1.6v2m1-1.7v2.5m1-2.6v2.2m1-2.1v2.6m1-4v4.7m1-2.7v3m1-4.2v4.2m1-3.5v1.7m1-2.1v3.3m1-3.4v3.2m1-4.3v2.8m1-2.3v2.7m1-2.8v2m1-2.2v1.6m1-2.9v3.2m1-3v1.7m1-2v2.2m1-3v2.9m1-2.2v2m1-3v2.7m1-1.7v2.1m1-2.8v2.5m1-1.2v2.7m1-3.3v2.9m1-1.6v1.8m1-1.9v2.6m1-1.8v2.6m1-2.2v2.7m1-2.6v1.9m1-1.8v2.4m1-2.1v2m1-3.4v4m1-1.9v2m1-2.7v3.2m1-3.5v3.4m1-3v2.2m1-2.2v2.5m1-3.2v2.9m1-2.7v2.3m1-2.3v1.5m1-2v3.4m1-3.9v1.9m1-2.7v2.2m1-3v2.2m1-3.2v1.9m1-4.8v4.7m1-4.6v2.5m1-1.6v2.1m1-1.7v1.8m1-2v2.4m1-1.6v2.1m1-1.3v2.1m1-1v2.7m1-2.4v2.7m1-1.5v4.3m1-2v2.7m1-.7v3.7m1-1.7v3.6m1-1.7v2.2m1-.7v3.1m1-1.6v2.2m1-.8v2.1m1-1.1v3.4m1-2.3v2.8m1-2.3v2.5m1-1.4v1.3" fill="none" stroke="#ff1818" stroke-width="1.0"/>
<line x1="820.9" y1="364" x2="820.9" y2="372" stroke="#ff9090" stroke-width="1.0"/>
<path d="M668.5,364.1v1m1-1v1m1-1.1v1m1-1v1m1-1v1m1-1.1v1m1-1v1m1-1.1v1.1m1-1.1v1m1-1v1m1-1.1v1m1-1v1m1-1v1m1-1.1v1m1-1v1m1-1.1v1.1m1-1.1v1m1-1.1v1.1m1-1.1v1m1-1v1m1-1.1v1.1m1-1.1v1.1m1-1.1v1m1-1.1v1m1-1v1m1-1v1m1-1.1v1.1m1-1.1v1.1m1-1.1v1.1m1-1.1v1m1-1v1m1-1v1m1-1v1m1-1v1m1-1v1m1-1v1m1-1.1v1.1m1-1.1v1m1-1v1m1-1v1.1m1-1.1v1.1m1-1.1v1.1m1-1.1v1.1m1-1.1v1.1m1-1.1v1.1m1-1.1v1.2m1-1.2v1.1m1-1.1v1.1m1-1.1v1.1m1-1.1v1.1m1-1.1v1.1m1-1.1v1m1-1v1.1m1-1.1v1.1m1-1v1m1-1v1.1m1-1.2v1.2m1-1.1v1.1m1-1.1v1.1m1-.7v1.1m1-.8v1.2m1-.7v1.1m1-1.5v2.3m1-1.9v2.1m1-1.1v2.5m1-2.4v2.6m1-2.3v3.1m1-1.5v5.8m1-5v4.3m1-3.5v1.9m1-1.3v5.1m1-4.4v3.7m1-4.2v3.2m1-2.9v2.5m1-3.5v2.4m1-5v5.8m1-4.1v2.3m1-4.7v4.3m1-3.7v4.9m1-5.1v2.6m1-3.8v2.4m1-2.9v1.7m1-4.8v4.7m1-3.4v3.1m1-4.2v3.8m1-4.6v2.7m1-4.3v5.1m1-4.3v3m1-5.6v3.3m1-4.6v3.9m1-5v4.4m1-3v3.4m1-2.7v3.3m1-1.9v2.6m1-2.9v5.2m1-3.8v5.9m1-4.9v5.9m1-4v7.1m1-7.3v3.4m1-3.5v3.5m1-4.5v3.9m1-3.6v2.8m1-4v4.2m1-6.1v4.5m1-3.9v3.2m1-4.9v3.9m1-3.5v2m1-3.9v4.6m1-3.9v3.3m1-6.6v4.8m1-1.9v2.1m1-2.2v3.8m1-2.7v1.6m1-2.9v4.8m1-4v4.4m1-3.6v2.6m1-4.1v5.4m1-2.6v2.2m1-4v4.4m1-2v1.7m1-2.8v5.1m1-3.8v1.7m1-2.6v3.4m1-4.2v4.2m1-1.9v4.3m1-6.8v5m1-1.4v2.5m1-2v2.2m1-2.9v3.1m1-2v2.8m1-2v1.9m1-4.1v5.3m1-3.6v2.3m1-2.7v3.7m1-1.7v2.3m1-2.9v5.4m1-4.9v1.9m1-2.7v2m1-3.3v3.4m1-3.9v2.5m1-2.8v1.6m1-.8v1.6m1-2.1v2.9m1-3.4v3.3m1-2.1v1.6m1-1.3v1.2m1-1.2v1.5m1-2.8v3.2m1-1.6v2.4m1-2.7v3.8m1-4.7v3.5m1-2.9v2.3m1-1.5v1.6m1-1.4v1.5m1-2.2v1.6m1-2v2.8m1-3.2v2.2m1-3.4v4.5m1-3.4v2m1-1.6v2m1-2.4v3.4m1-2.4v3.1m1-2.4v1.8m1-1.6v1.5m1-1.5v2.2m1-1.8v1.8m1-2.4v3m1-2.6v2.5m1-2.5v2.6m1-1.9v5.4m1-6v1.9m1-2.1v2m1-2.3v1.7m1-2.1v1.3m1-2.3v2.2m1-1.8v2.3m1-2.6v2.3m1-3.2v2.6m1-2.3v2.1m1-1.7v1.5m1-2.1v2.2m1-1.5v2m1-1.8v1.2m1-1v1.5m1-1.5v1.7m1-1.8v1.6m1-.8v1.5m1-1.9v1.9m1-2.5v3m1-2.4v2.8m1-3.2v2.1m1-1.4v2.5m1-2.2v1.7m1-1.8v1.4m1-1.2v1.4m1-1.5v2m1-2.8v3.2m1-2.2v1.5m1-1.6v1.6m1-1.4v2.9m1-.7v4.3m1-.7v2.8m1-2.7v2m1-4.1v3.3m1-4.3v3.9m1-4.1v2.4m1-2.5v2.6m1-3.8v2.3m1-2.6v2.3m1-1.9v1.6m1-2.8v2.4m1-1.8v1.6m1-1.9v2.2m1-2.6v1.3m1-1.8v1.7m1-2.1v2m1-2.2v1.9m1-2.4v2.8m1-3.3v2.1m1-2.8v2.6m1-3.2v2m1-2.9v2.4m1-3v1.6m1-2.2v1.4m1-1.9v2.6m1-2v1.5m1-1.1v1.5m1-1.5v1.9m1-1.1v2.1m1-2v2.5m1-3.3v2.4m1-2.2v2m1-1.5v1.5m1-1.2v1.1m1-2.9v3.1m1-1.6v2.7m1-3v1.5m1-1.2v1.3m1-2.2v2.1m1-1.8v1.8m1-1.9v1.9m1-1.7v1.7m1-1.6v1.7m1-1.8v1.9m1-1.6v2.1m1-1.3v1.8m1-1.8v1.8m1-1.4v1.2m1-1.3v1.7m1-1.8v2.1m1-2.4v2m1-1.3v1.5m1-1.2v1.5m1-1.4v2.5m1-3.1v2.5m1-1.6v1.9m1-3.1v3.2m1-1.7v1.9m1-1.7v1.7m1-1.4v2m1-1.3v2.3m1-2v1.6m1-2.1v3.2m1-4.5v3.8m1-1.7v2m1-2.4v3.3m1-2.7v1.4m1-1.3v1.8m1-1.7v1.9m1-1.7v1.6m1-1.3v1.5m1-1.3v1.3m1-1.3v1.4m1-1.6v2.2m1-1.4v1.6m1-1.3v2m1-2.3v2.2m1-1.7v2m1-1.9v1.9m1-1.6v1.6m1-3.6v2.7m1-3.3v1.8m1-2.2v2m1-.7v2.6m1-2.5v3.4m1-6.4v3.7m1-6.1v3.1m1-4.2v2.1m1-1.5v2.4m1-1.7v1.4m1-.8v1.8m1-1.4v2.5m1-2.5v1.9m1-2.2v2.6m1-1.7v1.9m1-2.1v1.8m1-1.7v1.6m1-1.4v1.3m1-1.6v2.2m1-2.2v1.6m1-1.7v1.7m1-1.3v1.8m1-2v2.1m1-1.2v2m1-2.2v1.6m1-1.8v2.4m1-1.9v1.6m1-2v2.2m1-1.7v1.5m1-1.5v1.6m1-1.9v1.6m1-1.7v1.9m1-1.4v2m1-1.4v1.3m1-1.5v2.8m1-2.2v1.7m1-1.8v2m1-1.8v1.9m1-1.6v1.8m1-1.6v1.7m1-1.6v1.5m1-1.7v1.9m1-2.3v2.4m1-2.1v2m1-1.9v1.7m1-1.8v2.4m1-3.3v2.6m1-1.7v1.3m1-1.8v1.8m1-1.2v1.7m1-1.7v1.5m1-1.6v1.6m1-1.8v2.2m1-.7v1.8m1-.7v1.9m1-.7v2.1m1-1v2.7m1-2.4v1.5m1-2.2v2.2m1-2.4v2m1-2.6v2.5m1-2.2v2.4m1-2.6v1.8m1-3.2v2.3m1-3.3v2.4m1-2.3v1.6m1-2.3v1.6m1-2.2v2.3m1-3.3v2m1-3v2.4m1-2.3v1.7m1-2.3v1.9m1-2.5v2m1-2.4v2.1m1-2.4v1.5m1-2.1v1.9m1-2.6v1.6m1-2v1.6m1-1.9v1.5m1-1.6v2.4m1-.9v1.8m1-.8v2.4m1-2.5v1.5m1-1.8v1.9m1-2.2v1.5m1-.7v2m1-.7v2m1-1.1v1.6m1-1.9v2.1m1-1.6v1.5m1-1.8v2m1-1.7v1.3m1-1.3v1.7m1-1.8v1.9m1-1.7v1.8m1-2.3v2.1m1-2.2v1.4m1-1.8v1.4m1-1.6v1.6m1-2.3v2m1-2.3v1.9m1-2.8v2m1-1v1.3m1-1.2v1.6m1-2.1v3.1m1-1.7v1.3m1-1.2v1.7m1-1.5v1.7m1-1.5v1.8m1-1.5v2.3m1-2.3v1.5m1-1.4v1.7m1-1.8v1.8m1-1.6v1.6m1-1.5v1.4m1-1.6v1.6m1-1.6v1.8m1-1.4v1.5m1-2.4v2.1m1-2v1.6m1-1.2v1.5m1-1.4v1.4m1-2.2v1.8m1-1.2v1.9m1-1.7v1.3m1-1.5v1.9m1-2.2v1.5m1-1.2v1.4m1-1.4v1.4m1-2.2v2.1m1-2.1v2.1m1-1.8v1.2m1-1.4v1.4m1-2.2v1.9m1-1.4v1.8m1-2.1v1.6m1-1v1.6m1-2v2.4m1-1.4v1.3m1-1.5v2m1-1.8v1.7m1-1.4v1.6m1-1.2v1.7m1-1.2v1.2m1-1.1v1.5m1-1.5v1.5m1-1.6v2m1-1.5v1.2m1-1.5v2.1m1-1.9v2.4m1-2.5v1.6m1-1.7v1.8m1-1.9v1.4m1-1.5v1.6m1-1.7v1.5m1-1.5v1.7m1-2.1v1.9m1-1.4v2m1-1.9v1.5m1-1.4v1.6m1-1.8v1.8m1-1.5v1.7m1-.8v2.6m1-.7v2.6m1-.7v2.3m1-.7v1.8m1-1v2.1m1-1v2.6m1-1.9v2.8m1-7.1v5m1-9.5v5.2m1-8.6v4.1m1-7.1v3.7m1-5.8v2.8m1-3.5v1.9" fill="none" stroke="#1414ff" stroke-width="1.0"/>
<line x1="674.6" y1="342.6" x2="692.1" y2="342.6" stroke="#2828ff" stroke-width="1.0"/>
<text x="695.9" y="346.1" font-size="8.8" text-anchor="start" fill="#2828ff" font-weight="normal" font-family='"Liberation Sans", sans-serif' >E<tspan font-size="7" dy="3">L</tspan><tspan dy="-3" font-size="1">&#8203;</tspan></text>
<line x1="674.6" y1="352.6" x2="692.1" y2="352.6" stroke="#20f020" stroke-width="1.0"/>
<text x="695.9" y="356.1" font-size="8.8" text-anchor="start" fill="#20f020" font-weight="normal" font-family='"Liberation Sans", sans-serif' >E<tspan font-size="7" dy="3">M</tspan><tspan dy="-3" font-size="1">&#8203;</tspan></text>
</g>
<line x1="712.5" y1="341.3" x2="712.5" y2="411.2" stroke="#00a000" stroke-width="1.3" stroke-dasharray="6,3"/>
<line x1="722.7" y1="341.3" x2="722.7" y2="411.2" stroke="#ff2020" stroke-width="1.2" stroke-dasharray="6,3"/>
<line x1="743.3" y1="341.3" x2="743.3" y2="411.2" stroke="#ff2020" stroke-width="1.2" stroke-dasharray="6,3"/>
<line x1="740.7" y1="341.3" x2="740.7" y2="411.2" stroke="#ff30ff" stroke-width="1.4" stroke-dasharray="1.5,3"/>
<line x1="871.2" y1="341.3" x2="871.2" y2="411.2" stroke="#ff30ff" stroke-width="1.4" stroke-dasharray="1.5,3"/>
<line x1="753.7" y1="341.3" x2="753.7" y2="411.2" stroke="#00a000" stroke-width="1.0" stroke-dasharray="2,4"/>
<line x1="753.7" y1="341.3" x2="753.7" y2="411.2" stroke="#0000e0" stroke-width="1.2" stroke-dasharray="2,1.5"/>
<clipPath id="cm6"><rect x="668.5" y="411.2" width="454" height="74"/></clipPath><g clip-path="url(#cm6)">
<line x1="668.5" y1="447.9" x2="1122.5" y2="447.9" stroke="#333" stroke-width="1.6" stroke-dasharray="5.5,2.5"/>
<path d="M668.5,442.5v1.2m1-1.1v1.2m1-1.2v1.2m1-1.1v1.2m1-1.1v1.2m1-1.2v1.2m1-1.1v1.2m1-1v1.2m1-.9v1.2m1-1v1.2m1-.9v1.2m1-1v1.2m1-.8v1.2m1-.8v1.2m1-.8v1.3m1-.8v1.2m1-1v1.2m1-1.2v1.2m1-1.2v1.2m1-1.2v1.3m1-1.2v1.2m1-1.2v1.2m1-1.2v1.3m1-1.2v1.2m1-1.2v1.2m1-1.1v1.2m1-1.2v1.2m1-1.2v1.3m1-1.2v1.2m1-1.2v1.2m1-1.2v1.3m1-1.2v1.3m1-1.2v1.2m1-1.2v1.3m1-1.2v1.2m1-1.1v1.2m1-1.1v1.2m1-1.2v1.3m1-1.2v1.2m1-1.2v1.2m1-1.2v1.3m1-1.2v1.2m1-1.2v1.3m1-1.2v1.2m1-1.2v1.3m1-1.3v1.3m1-1.3v1.3m1-1.3v1.3m1-1.2v1.2m1-1.3v1.4m1-1.3v1.3m1-1.2v1.2m1-1.2v1.3m1-1.2v1.3m1-1.4v1.4m1-1.4v1.4m1-1.4v1.3m1-1.5v1.3m1-1.4v1.2m1-1.5v1.3m1-1.8v1.4m1-2.2v1.5m1-2.1v1.5m1-2.6v2.7m1-4.1v2.8m1-4.3v3.1m1-3.2v2.4m1-3.3v3.2m1-4.9v3.8m1-1.8v3.1m1-3.8v3.4m1-5.4v4.5m1-3.7v3m1-3v2.3m1-2.6v2.1m1-1.6v1.9m1-1.8v5.4m1-5.5v2.7m1-2.4v3.1m1-3v3.8m1-4.6v1.9m1-1.6v6.1m1-6.3v3.6m1-4.1v2.9m1-2.5v2.3m1-3.2v2.3m1-3.8v3.4m1-2.2v8.1m1-8.6v2.6m1-2.1v2.2m1-3.5v3.1m1-2.5v2.7m1-2.8v2.3m1-2.5v2.9m1-3.5v2.8m1-2.8v10.7m1-9.6v11.1m1-9.1v2.1m1-5.2v4m1-8.3v5m1-3.7v4.8m1-2v4.1m1-2.4v2.6m1-2.6v4.3m1-3.7v4.6m1-5.1v4.2m1-3.5v2.6m1-1.6v4.2m1-5.3v4.4m1-3.6v2.3m1-2.4v2.5m1-2.6v2.8m1-.7v1.8m1-1.6v3.3m1-3.4v2.4m1-2.3v2.6m1-2.2v2.1m1-2.4v4m1-3.3v3.1m1-2.6v1.8m1-2.7v4.2m1-3.3v3.1m1-4.2v2.8m1-3.8v4m1-3.6v3.8m1-1.2v2.4m1-3.2v5.9m1-5.1v3.3m1-1.3v1.8m1-1.7v2.1m1-.8v2.2m1-4.4v3.5m1-2.8v2.8m1-3.2v2.6m1-4.4v2.5m1-4.8v3.5m1-2.8v1.9m1-1.9v2.7m1-3.5v4.2m1-4.6v2.7m1-1.7v2.9m1-2.8v3m1-4.4v2.4m1-1.8v2.4m1-2.3v1.8m1-4.1v3.4m1-2.2v1.6m1-2.2v3.2m1-4.4v2.3m1-3.3v3.6m1-2v3.2m1-2.9v2.9m1-1.4v2.1m1-1.8v2.2m1-2.1v2.8m1-3.3v2.6m1-2.1v2.1m1-2.1v2.1m1-1.7v2m1-2.1v3.1m1-2.7v1.9m1-1.4v1.5m1-1v2m1-2.8v2.4m1-1.6v2.5m1-3.4v3.1m1-2.7v2m1-1.9v2.1m1-2.6v1.7m1-1.9v1.7m1-1.8v1.6m1-2v3m1-1.8v1.3m1-1.4v1.9m1-1.2v1.9m1-2.4v2.7m1-1.8v3.2m1-4.5v3.2m1-2.2v2.9m1-2.5v2.3m1-2.3v2.1m1-2.5v3.3m1-2.6v2.3m1-3.7v3.3m1-1.8v2.3m1-2.2v1.7m1-2.4v2.4m1-2.6v2.9m1-2.6v1.8m1-.9v1.8m1-1.9v2.4m1-3.6v2.5m1-1.6v1.9m1-2.1v2m1-1.5v2.3m1-2.1v1.7m1-2v2.7m1-2v1.9m1-2v1.8m1-2.8v2.6m1-4.5v2.6m1-5.2v3.7m1-12.3v9.3m1-3.9v3.5m1-.7v2.8m1-1.1v1.8m1-1.6v1.7m1-1.3v1.4m1-2.2v2.3m1-1.6v2.5m1-2.1v1.6m1-1.6v1.8m1-.9v1.9m1-2.4v2.7m1-2.7v2m1-2v2m1-2.1v2.7m1-1.7v1.4m1-1.8v2m1-2.2v1.6m1-2.7v2.1m1-3.4v2.7m1-3.1v2.4m1-4.1v3.2m1-1.9v2.6m1-1.2v2.3m1-1.3v1.7m1-1.8v1.8m1-1.7v1.9m1-3.4v3.2m1-1.7v2.1m1-1.6v1.6m1-1.7v1.9m1-2.1v2.2m1-1.9v1.8m1-2v2.3m1-1.9v1.7m1-2.1v2m1-1.8v1.8m1-1.4v1.5m1-1.4v1.9m1-1.8v1.8m1-1.3v1.4m1-1.6v1.5m1-1.1v1.4m1-1.6v3m1-3.2v2.3m1-2.2v2.2m1-1.8v1.7m1-1.9v2m1-1.5v1.5m1-1.7v1.6m1-1v1.9m1-2.3v2.8m1-1.7v1.8m1-2.1v3.1m1-2.6v2.4m1-2.5v2.4m1-1.2v1.9m1-1.5v1.8m1-1.3v2.9m1-3v1.8m1-1.7v1.7m1-2v2.2m1-2.3v2.1m1-2.8v2.5m1-1.6v2.1m1-2.2v1.8m1-1.4v2.1m1-2.2v2m1-2v1.5m1-2.3v2.7m1-2.7v3m1-2.9v1.5m1-2v1.5m1-2.1v1.5m1-3.7v3.6m1-2.5v1.7m1-2.7v3m1-3.2v1.6m1-1.9v1.7m1-1.8v3.1m1-4.2v2.3m1-2.2v2.2m1-2.4v2.2m1-1.9v2.1m1-1.6v1.9m1-1.6v1.7m1-1.3v2.5m1-2.3v2.5m1-2.1v1.4m1-1v1.9m1-2.4v2.8m1-2.2v1.9m1-1.8v1.6m1-2.2v2.3m1-2.2v2.3m1-1.3v1.7m1-1.9v2.2m1-1.8v2m1-2.4v2.6m1-2.2v1.6m1-1.6v1.9m1-1.7v1.9m1-2.6v2.8m1-1.7v1.9m1-2v1.6m1-2v2m1-1.9v2.2m1-2.4v2.5m1-2.1v2.1m1-.9v2m1-2.2v1.7m1-1.3v1.6m1-1.8v2m1-2.1v1.7m1-1.3v1.5m1-1.9v3.1m1-2.7v2.4m1-1.6v1.6m1-1.7v2m1-1.7v2.4m1-2.4v2.3m1-3.6v3.7m1-2.6v1.9m1-2v1.6m1-1.7v1.7m1-1.6v3m1-4.4v3.6m1-2.3v2m1-2.8v2.6m1-2.3v1.5m1-1.6v1.8m1-2v1.7m1-2v1.9m1-3.1v2.8m1-2.4v1.8m1-2.5v1.8m1-2.7v2.3m1-2.5v2.3m1-2v1.5m1-1.7v1.8m1-2.4v1.9m1-2.4v1.7m1-2.7v2.4m1-2.6v2.5m1-2.3v2.1m1-1.9v1.9m1-1.6v1.3m1-2.7v3.1m1-2.1v1.8m1-1.5v1.8m1-2.3v1.8m1-1.8v2.2m1-2.5v1.7m1-1.5v1.6m1-1.5v1.9m1-1.9v2.7m1-2.6v2m1-1.9v1.9m1-2.2v2.1m1-2.1v2m1-2.3v1.8m1-2.3v2.1m1-1.7v2.1m1-2.4v3m1-1.6v2m1-1.9v2.2m1-1.7v2.2m1-2v2.3m1-2.7v2.7m1-2.5v2.7m1-1.9v2m1-1.9v2m1-2.6v3.1m1-2.3v1.9m1-1.1v1.7m1-1.8v2.3m1-2.4v2.2m1-2.4v2m1-2v1.9m1-1.7v2.8m1-2.3v1.6m1-1.2v1.9m1-2.4v2.7m1-1.9v2.1m1-2.4v1.7m1-2.3v2.2m1-1.7v1.7m1-2.3v1.6m1-1.4v1.9m1-3.1v2.9m1-2.2v2m1-1.8v1.8m1-3.1v2.8m1-2v1.9m1-1.8v2.2m1-1.8v1.8m1-2.4v2.6m1-2.3v1.9m1-1.4v2.2m1-1.9v1.4m1-1.5v1.5m1-1.2v1.4m1-1.5v1.8m1-1.6v2m1-1.8v1.9m1-2.4v1.9m1-2.3v2.7m1-1.5v1.6m1-1.6v1.6m1-2.2v1.7m1-1.7v1.5m1-2v2.2m1-2.2v1.4m1-1.7v2.3m1-2.4v2.4m1-2.2v1.4m1-1.5v1.5m1-1.6v1.9m1-1.7v1.6m1-2.3v2.6m1-1.6v1.6m1-1.3v1.8m1-2v2.8m1-1.9v1.3m1-1.4v2.1m1-2.8v2.6m1-1.4v1.7m1-1.7v2m1-2.5v2.4m1-1.9v1.8m1-1.5v2.1m1-1.6v1.7m1-1.7v2m1-1.5v1.7m1-2v1.8m1-1.2v1.9m1-3v2.3m1-1.6v1.3m1-2.6v2.4m1-1.8v1.7m1-2.1v1.6m1-2.4v2.4m1-2.9v2.3m1-3.4v2.3m1-2.5v1.9m1-2.4v1.7m1-2.3v2.6m1-3.1v1.7m1-2.7v1.8m1-2.9v1.8m1-2.5v1.7m1-2.7v2.1m1-3.2v2" fill="none" stroke="#111" stroke-width="1.0"/>
<path d="M668.5,442.6v.9m1-.8v.9m1-.8v.9m1-.8v.9m1-.9v.9m1-.8v.9m1-.8v.9m1-.7v.9m1-.7v1m1-.7v.9m1-.7v1m1-.7v.9m1-.7v1.1m1-.7v1.2m1-.7v1.1m1-.7v1m1-.7v.9m1-.9v1m1-.9v.9m1-.9v.9m1-.9v1m1-.9v.9m1-.9v.9m1-.9v.9m1-.9v1m1-.9v.9m1-.9v1m1-.9v.9m1-.9v.9m1-.9v1m1-.9v1m1-.9v.9m1-.9v1m1-.9v.9m1-.8v.9m1-.9v1m1-.9v1m1-.9v.9m1-.9v1m1-.9v.9m1-.9v.9m1-.9v1m1-.9v.9m1-.9v.9m1-.9v.9m1-.9v1m1-.9v.9m1-.9v.9m1-.9v1m1-.9v.9m1-.9v.9m1-.9v1m1-1v1m1-1v1m1-.9v1m1-1v1m1-1.1v1m1-1.2v1m1-1.2v1m1-1.2v1.1m1-1.7v1.3m1-1.9v1.5m1-2.2v1.4m1-2.4v1.7m1-2.4v1.5m1-2.3v1.5m1-2.7v2.2m1-2.5v1.9m1-2.4v2.5m1-3.2v2.8m1-2.4v1.8m1-2.1v2.8m1-3.3v2.5m1-3.2v1.7m1-2.1v1.4m1-2.3v3m1-1.9v1.7m1-3.3v3.4m1-2.9v3m1-2.1v2.1m1-1.8v2.3m1-2.4v2.3m1-1.8v3.2m1-3.8v2.5m1-3.1v1.7m1-1.4v1.8m1-2.1v1.6m1-2.1v2.1m1-1.9v2.5m1-2.6v3.2m1-3.5v2.2m1-3.4v2.4m1-1.5v2m1-1.9v2.4m1-3.1v3.2m1-2.1v2.4m1-1.6v3.1m1-2.6v4m1-7.3v4m1-5.8v2.5m1-1.2v2.1m1-.8v1.8m1-2.4v3.2m1-1.6v1.9m1-1.4v2.4m1-2.9v2m1-1.7v3.1m1-2.8v2m1-2v2.3m1-2.8v4m1-2.1v1.5m1-1.4v1.7m1-1v2m1-2v3m1-2.9v2.1m1-1.7v2.7m1-2.7v1.7m1-1.2v2.6m1-2.4v1.4m1-.8v2.5m1-2.4v2.5m1-3.7v3.6m1-3v1.4m1-3.9v5m1-2.9v3.8m1-2.6v2.4m1-1.6v2.3m1-2.7v4.2m1-2.6v2.3m1-1.7v2.1m1-1.9v1.9m1-2.2v2.2m1-2.3v2m1-2.4v1.8m1-3v2.3m1-4.2v2.6m1-2.7v1.8m1-2v1.8m1-1.8v1.7m1-2.3v2.2m1-1.9v1.8m1-2v1.8m1-1.2v1.8m1-2.6v1.9m1-2.5v2.7m1-2.4v1.4m1-2v1.7m1-2.1v1.5m1-2.2v1.5m1-1.8v1.4m1-1.5v1.8m1-.7v1.5m1-.8v1.6m1-2v2.5m1-1.4v2.1m1-1.6v1.7m1-2.1v1.8m1-.9v1.4m1-1.8v2m1-2.2v1.7m1-1.9v2m1-1.8v2.1m1-1.5v2.1m1-1.7v1.7m1-1.3v1.6m1-2.1v2m1-2.3v2m1-2.2v1.8m1-2.1v1.6m1-1.7v1.4m1-1.7v1.8m1-1.7v1.8m1-1.2v1.9m1-1.6v1.4m1-.9v1.3m1-1.1v1.4m1-1.3v1.4m1-1.4v1.5m1-1.6v1.7m1-1.1v1.8m1-2.1v1.7m1-1.2v1.3m1-1.3v1.7m1-2.1v1.7m1-1.4v1.4m1-1v1.1m1-1.1v1.7m1-2.3v2.4m1-1.9v1.5m1-1.6v1.4m1-1.4v1.2m1-1.1v1.2m1-1v1.7m1-1.6v1.3m1-.9v1.9m1-1.7v1.3m1-1.7v2m1-1.7v1.7m1-1.7v2.4m1-3.6v2.1m1-3.6v2.2m1-5.2v3.7m1-6.6v3.6m1-3v2.6m1-.7v2.9m1-.8v1.8m1-1.6v2m1-2.6v2.4m1-1.7v1.6m1-1.6v1.8m1-1.5v1.4m1-1.2v1.5m1-1.9v2.2m1-1.3v1.7m1-2.3v2.4m1-2.2v2m1-1.8v2.1m1-1.3v1.3m1-1.5v1.6m1-2.3v1.8m1-2.2v1.6m1-2.2v1.7m1-2.5v1.6m1-2.4v1.5m1-1.4v2.1m1-.7v1.8m1-.7v1.2m1-1.5v1.4m1-1.3v1.3m1-1.7v1.7m1-1.7v1.7m1-1.6v1.6m1-1.3v1.5m1-1.5v1.4m1-1.3v1.5m1-1.3v1.2m1-.7v1.2m1-1.1v1.1m1-1.2v1.7m1-1.5v1.2m1-1.1v1.5m1-1.4v1.3m1-1.4v1.7m1-1.7v1.5m1-1.3v2m1-1.6v1.2m1-1.5v1.9m1-1.4v1.7m1-2.5v2m1-1.9v1.7m1-1.3v1.3m1-1.9v2.1m1-1.1v1.7m1-1v1.3m1-1.2v1.7m1-1.6v1.7m1-.9v1.2m1-.8v1.7m1-1.3v1.3m1-.9v2m1-1.7v1.6m1-2.3v2.1m1-1.4v1.4m1-1.3v1.1m1-1.6v1.6m1-1.4v1.3m1-1.7v1.9m1-1.8v1.7m1-1.9v1.6m1-1.3v1.5m1-1.3v1.6m1-1.6v1.7m1-2.6v1.8m1-1.7v1.4m1-2.3v1.8m1-1.8v1.7m1-2.3v1.5m1-2v1.5m1-2.2v1.6m1-1.8v1.3m1-2.4v1.8m1-1.8v1.5m1-1.6v1.2m1-1.4v6.2m1-7.9v2.5m1-1.5v1.9m1-1.1v1.4m1-1.7v1.9m1-.9v1.6m1-1.2v1.1m1-1.3v2m1-1.6v1.6m1-1.2v1.6m1-1.3v1.5m1-1.5v1.6m1-1.8v2m1-1.6v1.7m1-1.4v1.5m1-1.1v1.3m1-1.2v1.4m1-1.3v1.3m1-1.8v2.2m1-1.8v1.5m1-1.3v1.4m1-1.5v1.5m1-1.5v1.6m1-1.3v1.4m1-1.1v1.3m1-1.3v1.7m1-1.3v1.2m1-.9v1.3m1-1.2v1.6m1-1.4v1.2m1-1v1.5m1-1.4v2m1-1.9v1.8m1-1.7v2.7m1-2.5v1.3m1-1.2v1.4m1-1.4v2.4m1-2.1v1.2m1-1.1v1.4m1-1.6v2m1-2.3v1.4m1-1.2v1.2m1-1.3v1.2m1-1.3v1.3m1-1v1.8m1-1.9v1.3m1-1.7v1.5m1-1.7v1.9m1-1.8v2m1-2.1v1m1-1.3v1.2m1-1.5v1.4m1-1.9v1.5m1-1.9v1.3m1-1.8v1.4m1-1.8v1.3m1-1.8v1.5m1-2.1v1.7m1-1.5v1.8m1-2.4v1.4m1-1.3v1.1m1-1.1v1.6m1-2.1v1.4m1-1.5v1.6m1-2v1.5m1-1.6v1.3m1-1.2v1.4m1-1.8v1.3m1-1.2v1.4m1-1.8v1.4m1-1.4v1.5m1-2v1.8m1-1v1.4m1-.9v2.1m1-1.9v1.5m1-1.9v1.9m1-1.9v1.7m1-1.6v1.4m1-1.4v1.1m1-1.6v1.6m1-1.9v1.3m1-1.5v1.9m1-1v1.7m1-1.5v1.8m1-1.2v1.5m1-1.2v1.5m1-1.5v1.7m1-1.1v1.4m1-.9v1.1m1-1v1.1m1-.8v1.4m1-1.4v1.5m1-1.3v1.1m1-1v1.2m1-1.2v1.3m1-1.3v1.2m1-1.6v1.9m1-1.7v1.2m1-1.8v2.4m1-1.7v1.3m1-1.4v1.5m1-1v1.3m1-1.3v1.3m1-1.6v2m1-2v1.3m1-1.3v1.4m1-1.6v1.3m1-1.3v1.2m1-1.5v1.3m1-1.6v1.4m1-1.3v1.4m1-1.5v1.3m1-1.3v1.2m1-1.1v1.1m1-1.3v1.5m1-1.4v1.4m1-1.1v1.1m1-.8v1.1m1-1v1.1m1-1.7v2.4m1-1.6v1.3m1-1.2v1.1m1-.7v1.3m1-1.3v1.5m1-1.3v1.2m1-1.2v1.7m1-1.5v1.6m1-1.5v1.3m1-1.7v1.2m1-1.3v1.1m1-1.3v1.1m1-1.7v1.6m1-1.4v1.3m1-1.6v1.6m1-1.5v1.5m1-1.3v1m1-1.2v1.3m1-1.2v1.3m1-1.2v1.3m1-1.1v1.2m1-.8v1m1-1.4v1.7m1-1.4v1.4m1-1.5v1.6m1-1v1.2m1-1.3v1.5m1-1.3v1.6m1-1.8v2m1-1v1.1m1-1v1.6m1-.9v1m1-.7v1.1m1-1v1.1m1-1.6v1.7m1-2.3v1.9m1-2v1.8m1-1.4v1.4m1-1.7v1.5m1-1.9v1.7m1-2v1.3m1-1.9v1.4m1-1.8v1.3m1-2.6v2.2m1-2.3v1.7m1-2v1.3m1-2.4v1.8m1-2.4v1.7m1-2.9v2.1m1-2.6v1.6m1-2.6v1.7m1-2.6v1.8m1-2.3v1.5" fill="none" stroke="#20e820" stroke-width="1.0"/>
<line x1="674.6" y1="417" x2="692" y2="417" stroke="#444" stroke-width="1.2"/>
<text x="693.3" y="420.3" font-size="9.6" text-anchor="start" fill="#333" font-weight="normal" font-family='"Liberation Sans", sans-serif' >-(VexB)<tspan font-size="7" dy="3">M</tspan><tspan dy="-3" font-size="1">&#8203;</tspan></text>
<line x1="674.6" y1="428" x2="692.1" y2="428" stroke="#20e820" stroke-width="1.0"/>
<text x="693.6" y="431.5" font-size="10" text-anchor="start" fill="#20e820" font-weight="normal" font-family='"Liberation Sans", sans-serif' >E<tspan font-size="7" dy="3">M</tspan><tspan dy="-3" font-size="1">&#8203;</tspan></text>
</g>
<line x1="712.5" y1="415.2" x2="712.5" y2="485.2" stroke="#00a000" stroke-width="1.3" stroke-dasharray="6,3"/>
<line x1="722.7" y1="415.2" x2="722.7" y2="485.2" stroke="#ff2020" stroke-width="1.2" stroke-dasharray="6,3"/>
<line x1="743.3" y1="415.2" x2="743.3" y2="485.2" stroke="#ff2020" stroke-width="1.2" stroke-dasharray="6,3"/>
<line x1="740.7" y1="415.2" x2="740.7" y2="485.2" stroke="#ff30ff" stroke-width="1.4" stroke-dasharray="1.5,3"/>
<line x1="871.2" y1="415.2" x2="871.2" y2="485.2" stroke="#ff30ff" stroke-width="1.4" stroke-dasharray="1.5,3"/>
<line x1="753.7" y1="415.2" x2="753.7" y2="485.2" stroke="#00a000" stroke-width="1.0" stroke-dasharray="2,4"/>
<line x1="753.7" y1="415.2" x2="753.7" y2="485.2" stroke="#0000e0" stroke-width="1.2" stroke-dasharray="2,1.5"/>
<clipPath id="cm7"><rect x="668.5" y="485.2" width="454" height="73.9"/></clipPath><g clip-path="url(#cm7)">
<path d="M668.5,552.6v1.2m1-7.5v7.9m1-6.2v4.1m1-6.2v10.3m1-10.6v10.6m1-7.4v5.2m1-4.7v5m1-6.4v8m1-7.3v7.2m1-9.1v9.5m1-8.5v6.4m1-8.7v9.8m1-10.1v8.5m1-7.3v9.2m1-12.8v14.5m1-12.8v9m1-8.2v7.3m1-8.8v11.9m1-12.2v14m1-13.3v13.5m1-13.1v12.1m1-13.6v9.6m1-8.3v13m1-6.4v6.1m1-3.6v3.7m1-13.9v14.2m1-12.7v9.9m1-2.6v5.5m1-12.5v12.6m1-22.4v18.1m1-8.7v12.6m1-2.4v1.9m1-11.7v5.1m1-2.7v9.6m1-9v9.1m1-14.6v13.2m1-9.4v9.1m1-4v5.9m1-7v6.5m1-7v4.2m1-6.2v8.9m1-6.5v3.3m1,0v1.5m1-5.2v4.5m1,0v2.9m1-8.8v5.5m1-4.3v3.2m1-3v5m1-1.6v4.1m1-6v4.5m1-3v.8m1-3.3v4.2m1-4.3v7.2m1-7.3v5.7m1-4.6v3.7m1-11.2v11.8m1-2.2v1.8m1-5v6.5m1-5.7v4.7m1-6.8v7.3m1-6.9v6.3m1-19.6v17.7m1-5v7m1-2.9v4m1-8.1v7.5m1-8.7v5.8m1-10.1v11.5m1-1.1v1.1m1-13.9v14.2m1-6.8v8.6m1-11.5v12m1-2.3v.8m1-27.1v27.4m1-1v1.5m1-9.8v10.1m1-9.5v9.1m1-3.6v4.7m1-9.7v8.3m1-2.6v3.2m1-10.7v9.4m1-9.5v10.3m1-12.9v13.6m1-5.7v3.2m1-7.5v8.8m1-9.6v9.2m1-17.4v19.6m1-3.2v1.2m1-7.3v2m1,1.4v4.8m1-16.9v16.1m1-8.3v8.7m1-8v6.4m1-6.4v8.9m1-3.4v.8m1-8.7v9.9m1-3.3v3.5m1-8v7.6m1-24.1v21m1-8.5v12.1m1-3v3.8m1-21.8v17.7m1,1v.8m1-.5v3.5m1-10.3v8.3m1-1.9v3.9m1-3.8v.8m1-1.9v4.9m1-18.3v18.3m1-11.5v11.3m1-9v6.1m1-11v12.3m1-7.3v5.8m1-8.1v10.6m1-10.6v10.6m1-11.4v11.6m1-8.6v7.1m1-10.9v13m1-9.6v8.1m1-10.8v10.4m1-2.1v2m1-11.4v10m1,.4v1.3m1-10.5v10.6m1-11.2v9.4m1-1.4v1.1m1-6.6v7.9m1-9.2v10.7m1-17.4v17.7m1-12.1v12.5m1-12.3v9.8m1-8.6v4.6m1-3.5v8.5m1-26.4v27.2m1-12.1v7.9m1-1.1v2.6m1-1.9v5.6m1-12.2v7.4m1-13.1v15.3m1-18.2v20.8m1-11.8v10.6m1-13.7v13.1m1-11.8v10.8m1-1.9v2m1-30.1v28.7m1-15v16.8m1-4.3v3.9m1-9.8v11.2m1-3v2.6m1-21.8v21.5m1-11v5.9m1,5v.8m1-14v13.1m1-39.9v41.3m1-14.4v13.5m1-23.7v20.7m1-10.3v12.4m1-24.9v25m1-14v16.6m1-14.2v12.6m1-18.4v18m1-20.2v20.9m1-20.1v18.6m1-15v15.4m1-12.1v13.8m1-20.4v21.1m1-14.9v11.8m1-3.4v4.9m1-32v32.1m1-17.1v18.1m1-4.4v4.5m1-28.5v26.3m1-.1v.8m1-22.4v23.9m1-4.3v2.3m1-11v11.7m1-11.9v8.9m1-13.4v15.9m1-9.7v11.9m1-3.9v3.4m1-11.7v10.9m1-21.7v20.8m1-17.9v17m1-16.1v17.5m1-2.6v3.1m1-12.2v8.7m1-13.7v13.7m1-7.3v11m1-11.4v11.1m1-15v16.2m1-12.9v11.3m1-9.9v9.2m1-10.3v12m1-11.1v10.4m1-10.6v8.3m1-9.4v12.4m1-12.4v9.7m1-17.6v15.3m1-11.6v15.8m1-11.3v11.2m1-10.4v10.9m1-29.8v30.8m1-14.5v11.5m1-11.6v13.8m1-3.5v4m1-14.3v11.5m1-.2v1.4m1-1.5v1.3m1-9.2v10.2m1-19.1v15.4m1-5v9m1-8.6v5.1m1-4.1v4.2m1-9.5v8.2m1-4.5v9.5m1-4.2v2.8m1-9.7v8.9m1-9.8v8.5m1-8v11.8m1-13.2v13.5m1-10.9v5.6m1-5.7v9.7m1-19.7v18.9m1-10.9v10.6m1-21.9v19.7m1-19.7v19m1-6.9v11m1-11.4v11.5m1-9.1v9.1m1-11.3v10.2m1-8.1v7.3m1-9.7v11.9m1-4.1v2.3m1-1.5v3.5m1-11.6v4.6m1-1.1v5.2m1-9v10m1-3.8v3m1-10.9v11.6m1-10v12.4m1-6.5v.8m1-5.5v11m1-4.4v3.7m1-11.1v12.2m1-13.4v13.3m1-4.1v1.2m1-3.5v4m1-3.9v1.8m1-5v7.4m1-1.6v2.1m1-25.5v27m1-19.1v17.2m1-9.3v10.1m1-3.7v4.8m1-11.5v6.7m1,.3v1.9m1-8.4v10.5m1-8.3v4.6m1-6.5v10.3m1-13v11.7m1-2.8v4.2m1-3.5v3.9m1-9.5v7.3m1-7.7v9.4m1-13.6v12.9m1-23.3v16.6m1-3.2v7.6m1-2.9v4.2m1-9.2v11.3m1-12v9.5m1-3.3v2.2m1-6.2v8.3m1-14v13.4m1-16.3v18.2m1-10.1v9.3m1-11.4v11.9m1-16.7v13m1-6.5v9.9m1-9.8v5.9m1-8.7v11.5m1-11.9v12.8m1-43v40.8m1-8.6v11.7m1-2v.8m1-11.8v10.2m1-34.1v36.2m1-6v6.1m1-25.4v24.8m1-13.3v12.7m1-8.2v9.1m1-7.1v6.7m1-5.3v.9m1-13.4v17.3m1-10.6v12.2m1-3v2.4m1-3.7v3m1-7.7v5.2m1-14v17.2m1-5.9v6.5m1-3.4v.8m1-.5v2.3m1-2.1v2.4m1-12.2v13m1-10.8v6.7m1-3.4v5.6m1-6.8v8.7m1-9v7.7m1-6.9v7.6m1-11.3v9.4m1-8v9m1-6.5v7.7m1-6.6v.8m1-2.7v4.5m1-1.9v4.7m1-.6v.8m1-.8v.8m1-1.2v.8m1-9.3v11m1-4.4v4.5m1-9.1v8.9m1-12.5v11.6m1-13.6v13.5m1-6.9v5.8m1-10.1v12.3m1-2.9v.8m1-1.3v1.4m1-5.6v4.4m1-5v1.7m1-11.5v15.6m1-4.1v4.2m1-6.9v8.6m1-12.5v7.2m1-4.5v9.6m1-12.9v12.1m1-6.8v6.3m1-14.9v17.3m1-13.2v10.3m1-9.3v10.4m1-23.3v24.6m1-4.1v1.9m1-.6v1.3m1-12.4v11.8m1-7.3v6.5m1,1v2.3m1-11.4v10.3m1-14.9v14.4m1-12.5v13m1-9.9v11m1-11.3v9.2m1-22.2v22.7m1-10.5v10.9m1-5.7v5.4m1-8.8v9m1-14.4v13m1-6.7v9.3m1-8.5v6.9m1-7.1v.8m1-3.5v6.8m1-3.9v7.7m1-7.5v8.3m1-8v7m1-18.9v14.8m1-3.9v5.2m1-4.5v7.5m1-4.5v4.8m1-7.5v6.1m1-.3v.8m1-2.5v.8m1-7.2v9.5m1-1.2v1.3m1-17.1v14.9m1-16.2v13.2m1-9.7v10.6m1-1.4v.9m1,3.3v.8m1-6.7v8.2m1-4v1.4m1-8.3v10.1m1-1.9v.8m1-1.6v1.7m1-11.3v11.2m1-2.2v1.5m1-7.4v7.6m1-7.3v7.1m1-7.6v6.8m1-4.1v4.6m1-11.1v8.8m1-5.3v7.8m1-5.8v2.7m1-4.6v9.6m1-6.3v4.6m1-5v6.3m1-4.7v6m1-6.7v2.1m1-1.2v1.3m1-5v8.8m1-1.9v.8m1-4.3v5.8m1-8.1v4.8m1,0v.8m1-5.9v7.9m1-10.9v10.2m1-8.3v6.6m1-4.2v6.9m1-8.4v4.1m1-4.8v6.9m1-7.3v9.5m1-8.8v9.3m1-9.5v9.2m1-7.8v4.8m1-8.9v9.9m1-8.2v10.5m1-3.7v2.3m1-17v14.6m1-8.3v10.3m1-3.6v5.1m1-19.1v15.2m1-11.9v14.4m1-23.4v22.9m1-1.4v1.5m1-17.1v13.9m1,.1v.9m1-9.5v13.1m1-1.9v.8m1-11.9v12m1-3.1v1.9m1-13.7v12.3m1-6.4v7.2m1-1.2v2.6m1-.7v1.5m1-8.6v8.4m1-9.3v9.9m1-10.3v9.2m1-7v6.9m1-3.2v3m1-12.8v15m1-36.9v36.2m1-10.5v9.5m1-10.7v12.5m1-3.6v2.7m1-6.1v2m1,2.2v.8m1-3.9v.8m1-8.7v8.9m1-9.8v14m1-12.4v10.4m1-11.1v11.9m1-17.7v18.4m1-15.5v15.7m1-16.2v15.4m1-41.5v42m1-21.8v17.5m1,1.6v.8m1-1.6v4.1m1-31.7v32.3m1-19v15.6" fill="none" stroke="#161616" stroke-width="1.0"/>
<line x1="870.9" y1="485.2" x2="870.9" y2="556" stroke="#301040" stroke-width="1.5"/>
<line x1="674.6" y1="500.2" x2="692" y2="500.2" stroke="#555" stroke-width="1.3"/>
<text x="693.3" y="504.3" font-size="10.5" text-anchor="start" fill="#445" font-weight="normal" font-family='"Liberation Sans", sans-serif' >|J|</text>
</g>
<line x1="712.5" y1="489.2" x2="712.5" y2="559.1" stroke="#00a000" stroke-width="1.3" stroke-dasharray="6,3"/>
<line x1="722.7" y1="489.2" x2="722.7" y2="559.1" stroke="#ff2020" stroke-width="1.2" stroke-dasharray="6,3"/>
<line x1="743.3" y1="489.2" x2="743.3" y2="559.1" stroke="#ff2020" stroke-width="1.2" stroke-dasharray="6,3"/>
<line x1="740.7" y1="489.2" x2="740.7" y2="559.1" stroke="#ff30ff" stroke-width="1.4" stroke-dasharray="1.5,3"/>
<line x1="871.2" y1="489.2" x2="871.2" y2="559.1" stroke="#ff30ff" stroke-width="1.4" stroke-dasharray="1.5,3"/>
<line x1="753.7" y1="489.2" x2="753.7" y2="559.1" stroke="#00a000" stroke-width="1.0" stroke-dasharray="2,4"/>
<line x1="753.7" y1="489.2" x2="753.7" y2="559.1" stroke="#0000e0" stroke-width="1.2" stroke-dasharray="2,1.5"/>
<clipPath id="cm8"><rect x="668.5" y="559.1" width="454" height="74"/></clipPath><g clip-path="url(#cm8)">
<line x1="674.6" y1="577.7" x2="692" y2="577.7" stroke="#20f020" stroke-width="1.0"/>
<path d="M668.5,581.6v2.3m1-2.5v3.2m1-4.1v2.4m1-1.4v2.9m1-3.6v3.9m1-3.4v1.8m1-4.7v4.6m1-3.1v3.4m1-4.5v8.3m1-8.6v7.9m1-6.4v2.9m1-3v2.8m1-4.8v4.4m1-2.2v5.1m1-5.7v4m1-3.7v1.7m1-2.6v2.4m1-2.1v2.8m1-2.5v1.2m1-2.2v2.6m1-2.6v2.6m1-2.6v6.4m1-6.6v2.6m1-4.2v6.1m1-4.5v3.9m1-3.2v1.5m1-1.5v5.6m1-6.3v6.5m1-4.8v2.4m1-3.2v5.1m1-4.5v3m1-1.8v4m1-3.5v6.5m1-6.5v4.7m1-4.9v3.3m1-4.7v6.6m1-5.6v4.5m1-4.9v11.6m1-8.9v4.5m1-7.2v7.2m1-4.7v5.5m1-3.3v2.3m1-2.3v2.7m1-2.8v4.9m1-5.8v5.1m1-3.9v2.1m1-3v3m1-3v2.6m1-2.3v3.4m1-3.9v6.3m1-6.2v3.6m1-1.9v3.9m1-4.2v3.8m1-5.1v4.2m1-5.2v6.4m1-3v3.9m1-6.9v6.1m1-3.5v6m1-7.4v3.2m1-2.3v3.2m1-4.6v6.8m1-4.6v8.3m1-12.5v11.2m1-9.2v16.6m1-17.3v5.6m1-11.4v13.4m1-10.3v12.5m1-17.1v12.5m1-12.5v10.3m1-4.8v4.1m1-4.8v6.9m1-7.6v5.4m1-4.9v8.4m1-15.6v15.4m1-9.1v10.5m1-10v8.1m1-9.6v8.6m1-11.1v8m1-5.6v6.8m1-8.2v5.8m1-12.5v14.9m1-12.3v9.6m1-7.7v9.2m1-13.8v11.3m1-7v8.1m1-12v12.2m1-5.7v10.9m1-11.2v7.1m1-2.4v4.1m1-7.7v14.4m1-11.3v7.7m1-5.2v5.5m1-7.4v4.6m1-3.5v5.1m1-5.5v7.3m1-11.3v11.6m1-7v5.9m1-3.2v16.2m1-20.7v10.8m1-6.7v4m1-1.9v5.1m1-8.9v16.9m1-18.6v6.2m1-3.7v8.8m1-12v15.1m1-15.5v8.4m1-11.9v9.8m1-13.8v13.8m1-11.7v12.2m1-5.1v6.6m1-13.2v19.9m1-21.3v13.9m1-4.9v2.8m1-7.8v11.8m1-11.6v8.4m1-9.1v8.3m1-12.4v12.3m1-7.7v8.9m1-9.3v7.2m1-5.8v20.4m1-18.7v11.4m1-15.6v7.6m1-1.9v2.8m1-12.5v16.5m1-8.4v5.8m1-4.2v2.7m1-8.8v9.1m1-5.1v6.3m1-7.1v10.9m1-13.5v11.3m1-5v5.5m1-7.2v3.4m1-3.9v12.3m1-13.7v12.2m1-9.7v3.3m1-3.5v6m1-9.3v8.1m1-2.9v5.2m1-6.2v8.5m1-12.3v7.2m1-6.4v5.4m1-6v4.8m1-9.9v12.2m1-23.3v20m1-7.5v9.6m1-11.7v12.8m1-9v10.8m1-18.4v27.4m1-14.7v4.1m1-12.3v20.7m1-11.9v8.2m1-11.2v12m1-11.4v23.7m1-19.7v2.4m1-9.5v11.3m1-5.5v5.8m1-14.2v11.5m1-6.1v6.9m1-8.7v5.6m1-6v8.7m1-10.6v6.2m1-6.4v5.4m1-15.6v20.2m1-7.4v2.1m1-4.4v3m1-2.8v2.6m1-3v3.9m1-13.6v16.7m1-5.9v4.7m1-10.4v11.2m1-3.8v10.2m1-18.7v23.5m1-15.4v6.7m1-10.1v9.8m1-8.7v14.1m1-11.7v9.1m1-13.2v13.8m1-14.8v10.5m1-7v10.6m1-6.8v8.5m1-12v8m1-7.4v8.4m1-9.3v22m1-18.7v7.3m1-7.5v9.5m1-15.7v10.8m1-12.1v12.5m1-8.4v6m1-3.7v6.6m1-4.3v3.9m1-3.3v9.1m1-15.2v9.5m1-7.1v6.6m1-2.6v10.6m1-10.5v1.5m1-5.2v8.9m1-9.7v9.7m1-8.5v11.8m1-12.5v8m1-4.9v4.5m1-4.4v11.5m1-17.8v9.8m1-20.6v21.6m1-4.4v2.4m1-6v5.9m1-11.5v12.1m1-2.8v2.1m1-3.3v6m1-14.4v18.9m1-10.2v7.2m1-11v12.8m1-8.9v5.8m1-18.2v15.6m1-8.3v11m1-7.4v7.3m1-6v2.3m1-3.1v9.5m1-9.1v9.4m1-9.4v7.4m1-9.2v9.3m1-9.4v9.1m1-11.3v10.5m1-5.5v3.4m1-3.3v12.5m1-20.1v10.2m1-4.8v7m1-8.6v10.8m1-15.9v15.2m1-8.5v8.9m1-6.9v4.3m1-12.6v11.2m1-9.8v17.1m1-10.6v4.2m1-5.8v9.3m1-8v7.5m1-8.3v13.5m1-11v3.4m1-4.4v11.5m1-11.8v4.6m1-7.7v9.6m1-5.8v3.6m1-11.2v13.7m1-11.3v8.1m1-6.9v12.3m1-13.5v13.3m1-9.5v2.6m1-7.9v12.9m1-12.5v9.6m1-14.4v11.3m1-4.5v4.7m1-6.6v6.7m1-5.2v4.1m1-5.4v10.6m1-9v5.3m1-18v27.7m1-15.4v8.1m1-4.6v4.4m1-4.7v3.9m1-4.1v3.9m1-1.6v9.5m1-11.7v6.4m1-9v8.8m1-6.1v6.1m1-6.4v5.5m1-2.8v7.7m1-7.2v7.7m1-9v6.8m1-6.7v8.7m1-13.2v13.3m1-8.8v3.3m1-5.4v5.1m1-2.7v2.7m1-5.4v13.1m1-11.4v6m1-10.8v12.8m1-6.1v1.6m1-5.4v7.9m1-8.6v13.9m1-12.3v3m1-3.3v9.9m1-10.7v7.8m1-10.9v9.6m1-10.1v5.8m1-5.3v8.3m1-21.6v23.4m1-10.7v3.9m1-2.2v9.5m1-16.6v11.7m1-1.7v11.2m1-10.3v2.8m1-1.9v1.9m1-10.6v13.2m1-5.5v9.3m1-10v18m1-12.8v3.2m1-20.9v25.3m1-7.1v2.8m1-2.7v3.2m1-6.4v7.8m1-11.9v15.2m1-15.1v19.1m1-18.3v7.5m1-4.6v11.8m1-11.6v5.2m1-3.6v6.5m1-5.9v3.5m1-2.7v3.8m1-3.1v2.9m1-8.3v9.8m1-8.2v6.6m1-9.9v7.3m1-5.4v9.4m1-6.1v4m1-7.7v7.6m1-6.2v4.5m1-6.5v7m1-17.2v22.7m1-11.6v8.2m1-6.2v8.9m1-12.1v9.4m1-6.7v2.7m1-4.5v10.2m1-9.7v4.6m1-10v15.4m1-11.3v5.6m1-6.3v13.9m1-10.7v11.7m1-11.3v1.8m1-5.7v10.4m1-6.3v11.7m1-13v4.6m1-4.5v14.2m1-15.3v7.1m1-10.1v8.6m1-8.3v8.5m1-4.3v8.7m1-9.1v12.2m1-24.2v17.7m1-12v12.6m1-7.2v9.3m1-13.4v10.8m1-6.8v3m1-8.8v9.2m1-8.7v8.1m1-8.3v14.8m1-11.7v5m1-9.5v14.2m1-13.5v12.1m1-14v15.3m1-16.5v12.2m1-5.5v7.9m1-14.9v15.3m1-5.5v3.9m1-8.7v12.8m1-5.3v5.5m1-5.6v13.2m1-13.9v5m1-3.4v3m1-3.1v4.4m1-6.8v12.3m1-11.5v5.3m1-6.1v13.9m1-17.1v14.5m1-8.7v4.2m1-2.4v10.7m1-13.6v13m1-9.7v10.6m1-11.8v14.5m1-12.6v3.4m1-4.6v8.9m1-18.4v21.8m1-11.2v4.8m1-6.7v7.7m1-8.6v6.6m1-5.2v7.9m1-9v10.1m1-7.5v11m1-14.9v11.6m1-12.3v7.2m1-6.9v6.6m1-8.8v13.5m1-11.1v9.1m1-5.5v4.2m1-5.3v2.3m1-1.9v2.1m1-7.7v9.9m1-5.4v7.4m1-9.9v4.3m1-13.1v19.1m1-11.1v8.7m1-8.3v6.9m1-5.7v3.6m1-5v11.5m1-17v10.9m1-3.9v2.4m1-10.6v21.6m1-14.2v3.5m1-12.8v19.4m1-11.3v5.7m1-9.1v7.6m1-6.2v7.1m1-11.5v19.3m1-20v12.3m1-5.6v2.5m1-2.1v3.6m1-5v5m1-15.2v12.4m1-5.7v11.4m1-9.9v8.3m1-7.8v4.1m1-10.3v16.6m1-17.1v10.8m1-6.9v20.7m1-23.3v9.4m1-10.2v13.3m1-7v9.2m1-9v2.9m1-5.8v5.8m1-4.1v8.9m1-7.3v4.3m1-6.7v10.1m1-8.6v5.2m1-9.7v16.6m1-14.4v10.4m1-10.1v11.2m1-16.3v13.8m1-6.3v5.1m1-9.7v9.9m1-6.8v8.1m1-7.4v7.8m1-5.1v4m1-4.4v5.4m1-13.4v13.5m1-6.4v7.5m1-6.3v6.4m1-8.8v8.2m1-9.7v10.9m1-7.5v6.6m1-9.8v9.6m1-5v6.6m1-5.9v2.5m1-4.6v4.1m1-2.6v9.8m1-10.7v5.5m1-10.2v18.4m1-18.2v6.9m1-7.8v4.7m1-10.6v15.1m1-11.9v5.2m1-17.2v15.3m1-4.8v6.8m1-16.7v12.3m1-9.6v9.6m1-4.5v6.9m1-5.8v2.4" fill="none" stroke="#1212ff" stroke-width="1.0"/>
<path d="M668.5,590.2v2.8m1-2.7v2.6m1-3.6v2.9m1-4.3v4.2m1-2v3.9m1-4.6v3.1m1-3.2v4.5m1-5.1v4.7m1-4.5v3.2m1-2.3v4.2m1-4.9v3.5m1-2.1v6.3m1-7.6v5.3m1-5.4v7.5m1-9.6v3.3m1-5.6v5.8m1-6.2v9.3m1-9.8v3.3m1-5.1v3.6m1-2.3v2.6m1-3.3v2m1-3.3v2.6m1-3.4v9.4m1-8.1v2.3m1-4.1v5m1-7.2v6.7m1-5.2v4.7m1-5.6v7.3m1-6.3v2.7m1-3.9v2.7m1-1.4v3.3m1-5.4v3.5m1-1.5v4.4m1-4.9v2.8m1-3.6v3.8m1-3.2v5.2m1-3.1v5.3m1-6.9v6.7m1-5.1v2.6m1-4.7v4.2m1-1.2v3.8m1-3.4v1.6m1-2.3v3m1-2.7v3.8m1-3.7v4.8m1-6v4.1m1-3.5v5.2m1-4.9v3.6m1-3v4.9m1-4.7v4.5m1-3.6v3.1m1-3.7v3.6m1-7.8v8.3m1-4.4v4.2m1-5.1v5m1-4.7v4.2m1-2.8v2m1-2.5v3.6m1-5.7v6.1m1-9.4v10.1m1-8.9v12.4m1-17.5v16.1m1-6.3v6.2m1-7v11.4m1-16.7v10.7m1-7.3v11.8m1-15.2v8.8m1-11.6v11.3m1-2.4v7.1m1-7v11.7m1-14.2v7.8m1-5.3v4.3m1-1.2v3.2m1-4.9v5.5m1-4.8v11.4m1-14.9v9.9m1-4.9v3.2m1-10.4v10.4m1-13.2v13.8m1-3.8v6.6m1-8.6v7.1m1-3v7.5m1-9.1v2.7m1-5.7v8.6m1-8.4v7m1-15.5v14.2m1-4.8v7.2m1-10v9.7m1-7.3v4m1-4v5.7m1-7.4v6.2m1-6.3v12.6m1-14.4v12.6m1-8v2.1m1-5.3v7.4m1-10v6.1m1-4.4v5.4m1-7v9.7m1-8.1v3.2m1-3v5.3m1-5.5v2.4m1-5v9.3m1-9.1v7.4m1-12.9v11.3m1-4.5v7.9m1-9.5v5.4m1-11.2v10.5m1-3.6v4.4m1-7.4v5.3m1-3.9v5.7m1-10.4v12.1m1-8.1v4.4m1-7.4v11.9m1-6.7v8.7m1-12.3v6.9m1-5.5v10.5m1-9.1v4.2m1-3.5v4.1m1-4.2v6.6m1-7.9v3.9m1-9.8v13.3m1-7.2v5.2m1-5.8v6.9m1-5.4v6.9m1-6.8v7.8m1-5.3v6.4m1-9.7v10.9m1-7.4v11m1-12.3v7.9m1-13.6v10.3m1-2v2.6m1-11.3v13.5m1-11.4v9.2m1-8.4v8.1m1-3.5v5.8m1-9.2v7.3m1-3.2v3.5m1-1.9v5m1-7.8v12m1-11.1v6m1-3.2v4.8m1-8v6.1m1-3.2v2.3m1-3.5v7.3m1-7.9v9.4m1-17.9v19.1m1-9.4v8.9m1-8v11m1-14.3v12.5m1-8.1v5.4m1-5.1v11.5m1-15.6v7m1-23.6v25.8m1-6.3v4.9m1-3.2v11.7m1-11.6v9.5m1-15.1v9.6m1-4v10.5m1-12.7v5.7m1-12v11.6m1-6.4v11m1-13.8v12.5m1-8.9v10.9m1-10.4v7.2m1-7.6v5.1m1-6.4v5m1-4.6v10.6m1-12.9v4.6m1-2.9v6.2m1-7.7v22.7m1-27.2v12.3m1-7.1v15.2m1-18v9.4m1-9.2v8.5m1-6.5v8.1m1-6.9v2.8m1-4.4v10.3m1-10.9v6.5m1-9.3v9.5m1-8.1v9.3m1-8.1v4.8m1-6.4v6.9m1-8.9v11.3m1-7.2v8.4m1-8.7v4.3m1-13.4v15.9m1-16.2v12.7m1-3.9v6.8m1-6.7v8.1m1-8v2.7m1-3.4v3.1m1-6v5.8m1-5.1v5m1-3.1v2.1m1-3.9v11.3m1-12.3v7.5m1-8.6v4.1m1-6.4v9m1-8v5.1m1-5.4v10.7m1-13.1v11.4m1-6.7v4.1m1-2.5v51.9m1-51.7v3.2m1-2.5v5.3m1-6.2v6.8m1-3.4v2.5m1-2.9v6.6m1-14v11.1m1-4.5v4.9m1-6.2v11.1m1-6.6v9.7m1-12.1v7.3m1-4.4v11.2m1-11.8v2.9m1-6.5v8.4m1-5v6m1-5.1v6.7m1-4.6v8.7m1-12.1v14.4m1-10.6v7m1-1.8v5.3m1-8.5v9.1m1-6.5v10.5m1-13.6v13.8m1-9v9.7m1-12.3v6.8m1-6.4v5m1-2.7v8.1m1-13v10.5m1-7.2v8.1m1-7.7v4.6m1-7.5v6.7m1-7.1v7.3m1-8.3v9.9m1-6.5v3m1-4.5v5.9m1-4.4v2.7m1-4.7v3.4m1-1.7v3m1-8.1v6.5m1-1.2v1.7m1-6.5v15m1-14.2v12.3m1-14.3v9.9m1-6.1v5.8m1-3.8v6.4m1-11.4v6.9m1-6.1v14.3m1-17.2v8.2m1-2.7v2.6m1-6.5v7.3m1-4.9v5.7m1-8v3.9m1-4.6v3.4m1-3.6v3.4m1-6v9.3m1-9v10.6m1-10.9v4.6m1-5.7v8.3m1-5.9v14.1m1-18.4v7.7m1-6.4v11.1m1-11.1v6.4m1-4.6v4.7m1-13.7v12.7m1-4.1v5.8m1-8.4v4.7m1-5.4v12.6m1-13.5v8.2m1-12.2v13m1-10.7v8.1m1-8.1v7.1m1-9.2v8.3m1-6.5v14m1-9.8v3.4m1-3.4v6.5m1-11.9v10.5m1-10.4v7.2m1-13v20.9m1-24.4v16.3m1-4.1v2.9m1-2.5v5.5m1-3.8v6.4m1-5.9v4.1m1-3.8v3.5m1-2.6v8.2m1-16.6v10.6m1-10.1v15.3m1-8.8v9m1-9.4v11.3m1-9.1v6.7m1-11.4v15.2m1-8.5v6.8m1-6.4v8.6m1-9.8v7.3m1-10.5v7m1-7v10.3m1-6.9v4.2m1-4.2v6.1m1-7.9v7.8m1-9.2v12.5m1-4.9v1.7m1-1.9v5.2m1-5.9v7m1-8v5.4m1-5.5v7.1m1-6.8v9.9m1-8v6m1-6v4.7m1-8.4v9.7m1-8.5v7.6m1-5.6v9.6m1-9.8v8.2m1-8.4v5.5m1-5.1v4.6m1-5.1v4.2m1-2.9v7.2m1-6.7v2m1-2.4v6.7m1-11.2v15.9m1-13.6v9.4m1-7.3v5.8m1-5.1v4m1-4.1v5m1-13.9v11.4m1-5.2v5.5m1-4v7.5m1-9.5v4.3m1-6.5v8.8m1-9v9.9m1-5.8v1.8m1-6.5v10m1-18.9v15.6m1-6.6v11.9m1-12.3v6.7m1-4.1v7.6m1-10.4v7.5m1-14.3v14.3m1-14.9v17.9m1-10v2.3m1-7.2v8.8m1-5.2v11.6m1-10.5v6.4m1-5.9v4.9m1-6.7v4.3m1-2.6v3m1-3.2v2.5m1-10v10.7m1-3v3.1m1-5.1v8.9m1-9.9v7.6m1-10v11.3m1-6.5v10.1m1-15.9v9.8m1-3.1v2.7m1-5.7v14.9m1-12.6v3.5m1-5.1v6.9m1-9.6v10.8m1-9.9v6.2m1-3.8v6.6m1-5.1v4.6m1-3.8v8.4m1-18.3v17.6m1-16v10.4m1-4.7v7.5m1-8v4.9m1-1.6v5.6m1-7.2v4m1-1.9v1.6m1-4.5v13.5m1-13.6v5.3m1-6.3v11.3m1-10.5v9.3m1-15.5v11.6m1-5v10.1m1-14v15.1m1-8.3v3.6m1-5.9v4.1m1-4.5v7.7m1-5.6v5.5m1-11.4v12.6m1-7.3v4.9m1-3.4v9m1-7.5v5.5m1-14.6v15.9m1-12.1v9.5m1-6.6v10.2m1-6.9v8.9m1-13v9.1m1-8.1v8.9m1-3.5v3.3m1-6.7v8m1-8.3v6.9m1-5v12.8m1-12.8v6.9m1-4.3v4.1m1-4.8v8.7m1-11.1v4.6m1-6.2v8.8m1-6v3.7m1-11.1v12.7m1-5v9m1-12.2v15.5m1-12.7v10.6m1-10.6v11.6m1-16.3v9.5m1-5.4v14.9m1-20.5v14.5m1-11.3v3.9m1-7.5v9.5m1-10.2v9.6m1-5v1.5m1-2.1v5.2m1-6.6v2.8m1-3.8v6.8m1-8.6v6.9m1-7.4v6.6m1-9.9v8.2m1-14.4v14.7m1-5.2v3.6m1-6.5v11.9m1-8.7v3.3m1-3.2v9.8m1-16v14.5m1-8.1v4.3m1-4.4v4m1-4v4.3m1-5.9v7.8m1-5.7v9.7m1-11.6v15.6m1-15.4v7.7m1-6.3v6.6m1-8.3v20.1m1-33.9v19.9m1-7v8.8m1-6v3.3m1-4v3m1-3.5v5.1m1-10.8v9.5m1-10.3v10.3m1-3.6v8.4m1-13.2v9.6m1-5.2v3.8m1-13.2v14.9m1-5.9v7.1m1-8.6v3.5m1-3.6v5.3m1-6.6v3.8m1-2.8v11.6m1-21.5v11.5m1-4.5v7.3m1-7.1v5m1-10.3v16.2" fill="none" stroke="#14f014" stroke-width="1.0"/>
<path d="M668.5,582.2v3.8m1-3.1v3.9m1-4.9v4.3m1-4.1v3.4m1-3.7v4.2m1-4.2v3.6m1-3v3.1m1-3.4v5.8m1-6.5v3.8m1-3.1v2.9m1-2.5v2.2m1-1.7v2.2m1-3.2v4.3m1-3.8v2.2m1-4v4.2m1-2v2.3m1-3v3.4m1-2.5v1.8m1-3.8v5.2m1-2.2v2.5m1-2.7v2.5m1-2.6v2.9m1-2.8v1.5m1-.8v3.1m1-3.4v1.6m1-3.8v5.5m1-3.8v3.3m1-4.8v5.3m1-3.1v3.6m1-2.2v4m1-4.1v2.8m1-3.8v4.5m1-3v1.7m1-2.4v2.8m1-1.5v1.6m1-3.7v5.2m1-3v2.5m1-2.6v2.5m1-2.2v2.5m1-2.7v5.5m1-3.9v3.8m1-3.5v3m1-4.2v4.5m1-3.7v3.4m1-3.2v2.8m1-3.6v4.2m1-4v5.1m1-4.6v3.1m1-2.4v2.7m1-1.6v2.4m1-2.1v4.1m1-4.6v3.8m1-2.6v1.6m1-4.6v4.7m1-2.7v2.1m1-6.2v9m1-6.8v6.8m1-11.2v8.5m1-2.7v2.2m1-2.2v2.1m1-4.2v4.1m1-3.9v9.5m1-13.6v7.6m1-8.8v13.3m1-7.8v6.1m1-11.4v8.1m1-2v2.1m1-2.3v7m1-7.2v6.8m1-10.4v9.2m1-11.2v8.9m1-4.8v3.3m1-3.4v5.3m1-7.8v8.2m1-8.3v4.9m1-2.4v4.4m1-4.7v9.2m1-12.6v6.3m1-5.1v4.6m1-3.1v6.9m1-8.7v10.8m1-9.4v3.2m1-3.4v3.2m1-4v5.9m1-5.5v6.7m1-7.6v7.3m1-7.8v4.7m1-10.9v11.8m1-6.6v4.5m1-3.4v7.8m1-12.7v6.9m1-7.6v6.4m1-4.2v4.9m1-7.8v7.4m1-3.2v5.2m1-4.6v4.5m1-7.9v7.5m1-3.5v6.3m1-8.9v7.7m1-4.3v8.9m1-14.6v14.4m1-13.1v11m1-5v2.2m1-3.9v4.1m1-10.7v15.1m1-8.5v6.9m1-10.1v12.3m1-11.6v9.8m1-6.4v6.5m1-6.1v3.9m1-5.2v4.7m1-5.8v7.8m1-8.3v13.4m1-9v5.8m1-9.6v8.5m1-5.3v3.6m1-3.2v3.3m1-8.8v13.7m1-9.4v4m1-2.9v6.5m1-6.4v2.2m1-1.8v4.5m1-11.1v11.1m1-6.8v7.1m1-8.4v6.6m1-6v8m1-3v5.2m1-7.9v12.9m1-9.8v7.2m1-13.4v8.5m1-2.1v3.7m1-4.4v3.6m1-6.9v17.3m1-14v16.3m1-17.7v3.1m1-5.8v5.7m1-7.6v9.3m1-12.3v11.4m1-4.3v4.3m1-10.9v9.7m1-3.8v4.8m1-5.6v12m1-11.4v5.2m1-6.9v6.1m1-3.7v3.2m1-9.4v8.9m1-8.7v8.3m1-5.9v7.2m1-12.1v10m1-15.1v19.5m1-9.7v4.5m1-5v9.5m1-9.9v4.8m1-9.4v9.8m1-6.3v15.6m1-18.2v9.3m1-15.8v15.9m1-4.3v1.7m1-3.7v4.1m1-2.6v3.2m1-4.7v4.5m1-4.1v3.9m1-7.4v5.5m1-6.9v8.9m1-5.9v4m1-3.7v9.6m1-16.7v13.1m1-6v1.5m1-1.4v2.6m1-8.9v9.3m1-4.9v4.6m1-5.2v5.3m1-7.1v9.4m1-4.9v6.5m1-9v6.8m1-6v12.7m1-10.8v8.6m1-14.2v10.9m1-4.3v10.1m1-10.8v4.5m1-9.3v15.1m1-10.8v7.9m1-8.9v10.8m1-7.9v6.7m1-5.4v3.6m1-4.5v3.9m1-2.9v6.1m1-7.7v7.4m1-8.1v6.1m1-13.5v14.1m1-6.4v11.7m1-9v3.7m1-8.1v9.4m1-7.1v7.4m1-3.8v4.4m1-14.1v13.2m1-5.1v8.9m1-6.8v8m1-7.1v6.5m1-12.4v8.6m1-2.6v5.8m1-9.6v9.3m1-6.8v25.5m1-27.8v5.7m1-1.3v1.8m1-5.7v7.7m1-7.7v8.4m1-7.2v11m1-10.9v15.4m1-12.4v9.3m1-9.3v7.1m1-10.6v9.9m1-6.3v5.3m1-5.6v3.5m1-5.6v8.8m1-9.7v10.3m1-7.1v6.7m1-5.7v2.8m1-2.5v2.4m1-5.4v15.4m1-12.2v5.1m1-6.2v6.4m1-5.6v3m1-4.6v5.1m1-5.2v6.3m1-7.4v8.7m1-9.1v10.9m1-14.7v10.8m1-12.2v14.4m1-7.7v8.5m1-14.5v8.3m1-6.8v7.8m1-13v11.6m1-8.8v10.4m1-5.5v3.9m1-4.4v3.5m1-3.6v3.4m1-11.9v13.7m1-8.5v5.2m1-5.6v5.6m1-6v8.2m1-6.4v10.1m1-15.1v7.5m1-9.4v8.1m1-2.3v6.9m1-8.5v14.5m1-17.5v11.6m1-7.5v7.8m1-8.9v3.8m1-10.3v10.6m1-5.4v12.9m1-13.2v5.8m1-8.7v8.7m1-7.7v11.5m1-8.6v4.7m1-3.2v7.9m1-10.5v5.8m1-4.3v3.3m1-4.9v10m1-8.6v6.8m1-8.5v12.7m1-9.1v5.6m1-7.6v5m1-3.3v3m1-1.9v3.3m1-3.9v3.2m1-6.2v11.5m1-6.7v4.1m1-3.7v4.3m1-6.5v5.4m1-8v16.7m1-14.7v7.1m1-4.9v3.6m1-6.4v9.4m1-6.8v4.8m1-7.9v7.8m1-8.1v12.6m1-9.5v3.6m1-2.3v6.9m1-10.3v5.8m1-8.2v7m1-11.2v11.5m1-8.2v11.3m1-13.7v12.3m1-13.4v28.6m1-17.6v3.6m1-6.5v9.5m1-4.5v3.3m1-3v5.1m1-4.8v9.4m1-7.5v5.5m1-5.5v4.8m1-6.5v3.9m1-3.6v13.7m1-16.1v5.9m1-2.4v8.4m1-15.5v8.9m1-3.2v8.9m1-14.7v10.7m1-6.4v8m1-7.1v4.2m1-5.6v5.7m1-3.7v4.4m1-10.1v13.8m1-12.1v8.4m1-5.3v6.1m1-6.4v4m1-4.8v2.9m1-4.4v4.7m1-4v4.1m1-11.6v10.2m1-7.2v6.9m1-6.7v7.1m1-8.2v7.6m1-5v6.3m1-6.1v4.5m1-3.8v6.6m1-11v9.7m1-7.2v9.7m1-12.3v8.8m1-7.2v4.7m1-4.9v8.1m1-12.9v10.8m1-6.7v5.9m1-9v8.5m1-7.1v8.4m1-7.7v6.4m1-5.7v4m1-5.6v5m1-7.2v11.9m1-6.7v3m1-6.2v5.8m1-5v6m1-4.6v4.2m1-4.8v4.2m1-5.4v6.4m1-5.7v6.1m1-4.7v5.3m1-4.6v3m1-6.1v7m1-9v16.4m1-11.5v3.3m1-8.2v9.3m1-10.4v9.3m1-1.8v5.1m1-6.8v5.8m1-2.4v4.6m1-5.7v6.2m1-9.7v7.9m1-10.6v9.2m1-5.5v6.2m1-2.8v3.9m1-12.7v13.1m1-4.4v3.4m1-5.6v11.4m1-12.1v7m1-6.1v13m1-15.3v12.4m1-5v8.2m1-10.6v8m1-5.8v12.5m1-17.6v7.9m1-4.1v9.4m1-9.3v4m1-5.8v5.4m1-6.7v7.4m1-6v9.6m1-5.7v4m1-4.7v3.1m1-4.3v8.1m1-6.3v8.8m1-7.6v6.6m1-8.2v8.7m1-10.4v12.2m1-9.1v3.6m1-6.6v8.2m1-3.9v5m1-5.7v5.4m1-3.8v8.7m1-10.8v5.7m1-9v10.3m1-6.6v6.1m1-8v5.7m1-4.8v3.8m1-2.9v4.3m1-4v4.5m1-7.6v10.5m1-11.6v6.5m1-6.7v7.1m1-7.1v5.5m1-4v5.5m1-5.1v4.4m1-9.5v7.9m1-5.5v5.7m1-5.3v5.4m1-5.6v5.6m1-6.4v5.1m1-6.9v8.7m1-10.2v7.8m1-3.2v5.1m1-4.5v4.9m1-7.2v12m1-11.7v6m1-3.9v6.1m1-9v12.7m1-12.3v6.5m1-6v5.2m1-5.4v3.4m1-4.4v5.4m1-4.8v2.9m1-4.2v2.9m1-4.2v5.1m1-7.3v7.6m1-9.6v7.9m1-6.2v4.4m1-4.8v5.2m1-9v9.5m1-9.2v13.3m1-10.4v8.2m1-8.5v9m1-6.4v3.8m1-4.1v6.4m1-10v9.5m1-4.8v2.3m1-2.3v2.8m1-.8v1.6m1-4.3v10.8m1-8.5v3.7m1-5.6v4.5m1-1.6v4.7m1-5.9v5.8m1-4.3v3.8m1-3.8v8.7m1-10.5v7.5m1-4.7v6.2m1-7.4v6.5m1-6.5v15.9m1-14.5v3.3m1-2.5v4.4m1-4.8v6.6m1-7v4.3m1-2.1v4.6m1-6.7v6.6m1-4.9v7.1m1-10.2v11.3m1-10.9v5.9m1-4.4v4.9m1-5.1v5.9m1-4.5v3.8m1-4.4v4.6m1-3.3v5.8m1-6.6v6.2m1-6v5.7m1-3.1v4.8m1-7v4.5" fill="none" stroke="#ff1212" stroke-width="1.0"/>
<line x1="668.5" y1="587.3" x2="1122.5" y2="587.3" stroke="#111" stroke-width="1.3" stroke-dasharray="5.5,2.5"/>
<line x1="674.6" y1="563.3" x2="692" y2="563.3" stroke="#ff30ff" stroke-width="1.6" stroke-dasharray="1.5,1"/>
<text x="693.5" y="566.6" font-size="9.8" text-anchor="start" fill="#ff30ff" font-weight="normal" font-family='"Liberation Sans", sans-serif' >t<tspan dx="4.5">maxJ</tspan></text>
<line x1="674.6" y1="570.6" x2="692" y2="570.6" stroke="#2828ff" stroke-width="1.0"/>
<text x="694.5" y="574" font-size="9.8" text-anchor="start" fill="#2828ff" font-weight="normal" font-family='"Liberation Sans", sans-serif' >J<tspan font-size="7" dy="2.5">L</tspan><tspan dy="-2.5" font-size="1">&#8203;</tspan></text>
</g>
<line x1="712.5" y1="563.1" x2="712.5" y2="633.1" stroke="#00a000" stroke-width="1.3" stroke-dasharray="6,3"/>
<line x1="722.7" y1="563.1" x2="722.7" y2="633.1" stroke="#ff2020" stroke-width="1.2" stroke-dasharray="6,3"/>
<line x1="743.3" y1="563.1" x2="743.3" y2="633.1" stroke="#ff2020" stroke-width="1.2" stroke-dasharray="6,3"/>
<line x1="740.7" y1="563.1" x2="740.7" y2="633.1" stroke="#ff30ff" stroke-width="1.4" stroke-dasharray="1.5,3"/>
<line x1="871.2" y1="563.1" x2="871.2" y2="633.1" stroke="#ff30ff" stroke-width="1.4" stroke-dasharray="1.5,3"/>
<line x1="753.7" y1="563.1" x2="753.7" y2="633.1" stroke="#00a000" stroke-width="1.0" stroke-dasharray="2,4"/>
<line x1="753.7" y1="563.1" x2="753.7" y2="633.1" stroke="#0000e0" stroke-width="1.2" stroke-dasharray="2,1.5"/>
<clipPath id="cm9"><rect x="668.5" y="633.1" width="454" height="74"/></clipPath><g clip-path="url(#cm9)">
<path d="M668.5,688.3v1.8m1-1.7v1.6m1-1.8v1.7m1-1.3v1.6m1-1.4v1.3m1-1.7v2m1-1.9v1.4m1-1.2v1.2m1-1.5v1.6m1-1.1v1.3m1-1.9v1.8m1-1.3v1.4m1-1.5v1.3m1-1.4v1.5m1-1.2v1.2m1-1.2v1.4m1-1.6v1.5m1-1.6v1.5m1-1.3v1.5m1-1.4v1.5m1-1.6v1.4m1-1.4v1.2m1-1.2v1.2m1-1.3v1.3m1-1.6v1.9m1-1.7v1.3m1-1.4v1.3m1-1.4v1.2m1-1.3v1.3m1-1.6v1.6m1-1.5v1.3m1-1.4v1.2m1-1.2v1.3m1-1.5v1.6m1-1.6v1.4m1-1.2v1.5m1-1.8v1.4m1-1.6v1.7m1-1.3v1.5m1-1.6v1.4m1-1.1v1.2m1-1.3v1.2m1-1.4v1.5m1-1.4v1.4m1-1.5v1.4m1-1.4v1.7m1-1.6v1.7m1-1.8v1.3m1-1.2v1.5m1-1.7v1.7m1-1.7v1.3m1-1.3v1.5m1-1.7v1.8m1-1.5v1.6m1-1.5v1.7m1-2.8v4.6m1-4.2v2.7m1-3.6v3m1-1.8v2.7m1-3.3v4.6m1-3.6v2.6m1-3.1v11.1m1-10.9v2.8m1-3.4v3.4m1-2.5v1.8m1-1.8v1.9m1-2.6v5.1m1-4.9v3.3m1-3.1v4.6m1-4.8v5.4m1-4.4v3.5m1-3.2v2.2m1-2.8v4.3m1-4.2v1.6m1-1.3v3.2m1-6.4v5.9m1-5.3v4.8m1-2.4v2.4m1-3v3.3m1-3.1v4m1-3.3v2.7m1-5.3v3.4m1-.9v2m1-2v1.5m1-1.6v4.2m1-4.6v3.4m1-3.7v3.1m1-4.5v3m1-4.2v4.3m1-2v3.8m1-3.4v1.3m1-1.8v4.7m1-6v4.7m1-3.8v2.4m1-3.1v2.9m1-2.6v2.9m1-4.3v3.8m1-15.7v18.5m1-5v3.3m1-2.3v2.1m1-1.6v1.4m1-12.4v12.7m1-2.6v2.9m1-2.8v5.3m1-5.2v3.2m1-2.5v2.7m1-2.8v3.3m1-3.3v2.6m1-2.6v3.5m1-3.5v2.4m1-11.3v10.9m1-4.2v3.4m1-4v4.6m1-4.2v4.1m1-5.6v5.8m1-1.9v1.9m1-3.2v3.4m1-2.5v2.5m1-2.1v3.6m1-3.6v2.6m1-4.9v10m1-9.4v2.9m1-6v5.7m1-3.9v4m1-1.9v2m1-2.7v2.9m1-3.4v4m1-2.5v3.1m1-4.1v2.5m1-2v2.3m1-1.7v1.5m1-3.2v3.8m1-3.5v3.1m1-4.6v4.9m1-2.5v2.6m1-2.4v4.3m1-3.8v1.9m1-3.1v3.3m1-3.1v3.2m1-2v1.8m1-3v4.1m1-2.7v2.4m1-3.3v2.1m1-21.5v22.6m1-2.6v2.6m1-3.4v2.5m1-1.7v1.7m1-2.7v2.7m1-2.1v20.3m1-28.6v11.6m1-1.9v1.8m1-4v3.9m1-28.3v28.9m1-2.2v2.3m1-2.5v3.7m1-3.5v4.3m1-6.6v5.2m1-15.3v14.6m1-3.9v2.9m1-2.2v2.4m1-2.4v4.2m1-3.3v2.4m1-5.2v4.5m1-4.1v4.3m1-2.5v2.9m1-2.7v1.9m1-1.8v3.4m1-4.5v2.9m1-4.3v5.1m1-2.6v19.2m1-27.9v12.4m1-4.1v2.3m1-2v3m1-4.8v3.9m1-3.3v2.4m1-2v2.2m1-3.5v5.5m1-5v3.3m1-3.2v2.2m1-2v3.4m1-3.1v3.4m1-4.9v3.3m1-1.9v1.7m1-3.6v5.1m1-3.3v3.8m1-3.7v2.1m1-1.7v1.3m1-2.1v2.8m1-3.9v4m1-2.6v2.6m1-2.1v1.4m1-1.3v1.3m1-1.3v2.2m1-2.1v1.7m1-2.8v2.8m1-1.7v1.5m1-1.6v2.6m1-2.8v2.1m1-2.1v1.4m1-2.2v2.9m1-1.7v1.9m1-2.4v1.8m1-57.4v58.4m1-2.3v1.5m1-1.6v1.3m1-1.7v2.3m1-2.3v1.3m1-2.2v2.6m1-7.4v7.4m1-2.1v1.6m1-1.3v1.3m1-1.2v1.7m1-2v1.9m1-2.2v2.2m1-2.3v3.7m1-3v1.5m1-2.2v2.8m1-2v1.3m1-1.9v1.9m1-2.7v2.8m1-2.8v2.8m1-1.6v1.8m1-2.1v1.8m1-7.1v6.9m1-6.9v7.2m1-1.4v1.7m1-1.5v1.7m1-1.8v1.6m1-1.8v1.6m1-1.3v1.9m1-2.8v2.6m1-2.1v2m1-2.9v2.8m1-2.7v1.9m1-1.8v2.2m1-1.4v1.6m1-2.3v2.1m1-1.8v1.7m1-1.3v1.6m1-1.3v1.6m1-2.3v3m1-2.5v2m1-1.7v1.7m1-2.4v1.8m1-2.5v2.2m1-1.9v2.4m1-2v1.9m1-2.2v2.1m1-1.4v1.6m1-1.6v1.7m1-2v2.6m1-2.4v2.2m1-1.9v1.6m1-1.3v1.2m1-1.4v2m1-1.7v1.4m1-1.7v2.1m1-2.6v2.3m1-1.9v1.9m1-1.9v1.9m1-1.8v1.3m1-2.6v4m1-3v1.6m1-1.3v1.3m1-2.2v3.2m1-2.8v2.2m1-2.2v2.2m1-1.4v1.5m1-1.7v1.8m1-1.9v1.6m1-1.9v2.5m1-1.8v2.7m1-2.6v1.5m1-1.7v2.2m1-2.7v2.1m1-1.4v1.5m1-1.5v1.2m1-2.1v2.2m1-1.4v1.8m1-1.8v1.7m1-2.1v2.5m1-1.6v1.9m1-2.4v1.6m1-1.4v5.3m1-34.6v31.5m1-2.5v2.4m1-9.5v9.5m1-2v1.8m1-1.6v1.5m1-1.4v2.3m1-2.8v1.7m1-1.4v2m1-2.2v1.7m1-1.2v1.2m1-1.6v1.8m1-1.5v1.3m1-1.5v1.4m1-1.5v1.3m1-1.9v1.7m1-1.4v1.5m1-1.4v1.6m1-2v2.2m1-1.6v1.6m1-1.3v1.4m1-2.4v2.1m1-1.3v2.2m1-2.9v2m1-1.2v2.6m1-2.6v3.3m1-3.6v1.6m1-1.3v1.1m1-2.6v3m1-1.6v1.3m1-1.3v2m1-2.6v1.7m1-1.5v1.3m1-1.7v2.8m1-2.5v2.2m1-2.4v2.2m1-1.9v1.3m1-1.1v1.4m1-1.5v1.6m1-1.9v1.5m1-1.3v1.7m1-1.8v1.5m1-1.3v1.8m1-1.9v2.2m1-2.4v2m1-1.7v1.8m1-2.2v2.2m1-2.7v2.2m1-1.5v1.7m1-2.3v1.7m1-1.7v2.6m1-2.5v2.4m1-2.9v2.1m1-1.2v2m1-2.8v2.3m1-2.9v3.4m1-2.2v2.2m1-2.3v1.9m1-1.8v1.7m1-2.1v1.8m1-1.7v2.3m1-2.4v1.4m1-1.6v1.9m1-1.3v1.4m1-2.1v2.1m1-1.7v2.1m1-2v2m1-2.3v2.7m1-2.7v2.1m1-2.1v1.7m1-1.6v1.7m1-1.4v1.4m1-1.9v1.6m1-1.4v1.2m1-1.4v1.3m1-2.1v2.1m1-1.2v1.7m1-1.7v1.5m1-1.4v1.8m1-2.1v2.2m1-2v1.6m1-2.1v2.7m1-1.9v1.7m1-1.5v1.9m1-2.1v1.7m1-1.7v1.7m1-1.5v1.8m1-1.9v1.6m1-1.9v3.3m1-2.8v1.7m1-2.2v1.9m1-1.3v1.5m1-2v1.9m1-1.3v1.8m1-1.8v1.2m1-1.1v2m1-2.1v1.6m1-1.9v1.7m1-1.3v1.3m1-1.3v1.7m1-2.5v2.2m1-1.8v2m1-1.4v1.3m1-1.6v2.4m1-2.3v2m1-3.5v3.1m1-1.1v1.9m1-2.5v2.3m1-2.2v2.4m1-1.8v1.8m1-2.2v2m1-2.4v2.4m1-1.6v1.5m1-1.5v1.2m1-1.5v1.7m1-1.6v1.4m1-2v2.1m1-1.9v2.3m1-1.9v1.4m1-1.4v1.9m1-1.5v1.3m1-2.1v2.1m1-1.3v1.7m1-1.8v1.7m1-1.4v1.2m1-1.8v1.8m1-2v1.8m1-1.1v1.4m1-1.4v1.7m1-1.8v1.8m1-1.7v2.2m1-2.1v1.2m1-1.7v1.6m1-1.6v1.5m1-1v1.3m1-1.8v2.3m1-1.6v1.5m1-1.5v1.6m1-1.6v1.8m1-1.8v1.5m1-1.7v2.1m1-2.2v1.8m1-1.9v1.8m1-1.8v1.9m1-2.8v2m1-2.1v3.1m1-2.8v1.7m1-1.3v2.9m1-3.5v3.2m1-3.9v3.1m1-2v2.3m1-3.6v3.3m1-14.5v13.9m1-2v2.6m1-6.7v6.4m1-2.4v1.6m1-6.4v6.5m1-2.1v2.6m1-3v3.5m1-3.6v3.2m1-3.7v3.2m1-2.4v2.2m1-2.2v3m1-2.2v1.9m1-10.9v12.3m1-3.3v7.6m1-21.2v15.9m1-3.5v4.9m1-4.2v2.5m1-2.9v3.8m1-20.5v18.6m1-1v3" fill="none" stroke="#111" stroke-width="1.0"/>
<line x1="870.9" y1="633.1" x2="870.9" y2="688" stroke="#301040" stroke-width="1.5"/>
<line x1="674.6" y1="647.7" x2="692" y2="647.7" stroke="#444" stroke-width="1.2"/>
<text x="695.9" y="651.3" font-size="9.8" text-anchor="start" fill="#222" font-weight="normal" font-family='"Liberation Sans", sans-serif' >J*E'</text>
</g>
<line x1="712.5" y1="637.1" x2="712.5" y2="707.1" stroke="#00a000" stroke-width="1.3" stroke-dasharray="6,3"/>
<line x1="722.7" y1="637.1" x2="722.7" y2="707.1" stroke="#ff2020" stroke-width="1.2" stroke-dasharray="6,3"/>
<line x1="743.3" y1="637.1" x2="743.3" y2="707.1" stroke="#ff2020" stroke-width="1.2" stroke-dasharray="6,3"/>
<line x1="740.7" y1="637.1" x2="740.7" y2="707.1" stroke="#ff30ff" stroke-width="1.4" stroke-dasharray="1.5,3"/>
<line x1="871.2" y1="637.1" x2="871.2" y2="707.1" stroke="#ff30ff" stroke-width="1.4" stroke-dasharray="1.5,3"/>
<line x1="753.7" y1="637.1" x2="753.7" y2="707.1" stroke="#00a000" stroke-width="1.0" stroke-dasharray="2,4"/>
<line x1="753.7" y1="637.1" x2="753.7" y2="707.1" stroke="#0000e0" stroke-width="1.2" stroke-dasharray="2,1.5"/>
<rect x="668.5" y="41.5" width="454" height="74" fill="none" stroke="#000" stroke-width="1"/>
<path d="M671.9,41.5v4M671.9,115.5v-4M692.6,41.5v4M692.6,115.5v-4M713.3,41.5v4M713.3,115.5v-4M734,41.5v9M734,115.5v-9M754.7,41.5v4M754.7,115.5v-4M775.4,41.5v4M775.4,115.5v-4M796.1,41.5v4M796.1,115.5v-4M816.8,41.5v9M816.8,115.5v-9M837.5,41.5v4M837.5,115.5v-4M858.1,41.5v4M858.1,115.5v-4M878.8,41.5v4M878.8,115.5v-4M899.5,41.5v9M899.5,115.5v-9M920.2,41.5v4M920.2,115.5v-4M940.9,41.5v4M940.9,115.5v-4M961.6,41.5v4M961.6,115.5v-4M982.3,41.5v9M982.3,115.5v-9M1003,41.5v4M1003,115.5v-4M1023.7,41.5v4M1023.7,115.5v-4M1044.3,41.5v4M1044.3,115.5v-4M1065,41.5v9M1065,115.5v-9M1085.7,41.5v4M1085.7,115.5v-4M1106.4,41.5v4M1106.4,115.5v-4" stroke="#222" stroke-width="1" fill="none"/>
<rect x="668.5" y="115.5" width="454" height="74" fill="none" stroke="#000" stroke-width="1"/>
<path d="M671.9,115.5v4M671.9,189.4v-4M692.6,115.5v4M692.6,189.4v-4M713.3,115.5v4M713.3,189.4v-4M734,115.5v9M734,189.4v-9M754.7,115.5v4M754.7,189.4v-4M775.4,115.5v4M775.4,189.4v-4M796.1,115.5v4M796.1,189.4v-4M816.8,115.5v9M816.8,189.4v-9M837.5,115.5v4M837.5,189.4v-4M858.1,115.5v4M858.1,189.4v-4M878.8,115.5v4M878.8,189.4v-4M899.5,115.5v9M899.5,189.4v-9M920.2,115.5v4M920.2,189.4v-4M940.9,115.5v4M940.9,189.4v-4M961.6,115.5v4M961.6,189.4v-4M982.3,115.5v9M982.3,189.4v-9M1003,115.5v4M1003,189.4v-4M1023.7,115.5v4M1023.7,189.4v-4M1044.3,115.5v4M1044.3,189.4v-4M1065,115.5v9M1065,189.4v-9M1085.7,115.5v4M1085.7,189.4v-4M1106.4,115.5v4M1106.4,189.4v-4" stroke="#222" stroke-width="1" fill="none"/>
<rect x="668.5" y="189.4" width="454" height="74" fill="none" stroke="#000" stroke-width="1"/>
<path d="M671.9,189.4v4M671.9,263.4v-4M692.6,189.4v4M692.6,263.4v-4M713.3,189.4v4M713.3,263.4v-4M734,189.4v9M734,263.4v-9M754.7,189.4v4M754.7,263.4v-4M775.4,189.4v4M775.4,263.4v-4M796.1,189.4v4M796.1,263.4v-4M816.8,189.4v9M816.8,263.4v-9M837.5,189.4v4M837.5,263.4v-4M858.1,189.4v4M858.1,263.4v-4M878.8,189.4v4M878.8,263.4v-4M899.5,189.4v9M899.5,263.4v-9M920.2,189.4v4M920.2,263.4v-4M940.9,189.4v4M940.9,263.4v-4M961.6,189.4v4M961.6,263.4v-4M982.3,189.4v9M982.3,263.4v-9M1003,189.4v4M1003,263.4v-4M1023.7,189.4v4M1023.7,263.4v-4M1044.3,189.4v4M1044.3,263.4v-4M1065,189.4v9M1065,263.4v-9M1085.7,189.4v4M1085.7,263.4v-4M1106.4,189.4v4M1106.4,263.4v-4" stroke="#222" stroke-width="1" fill="none"/>
<rect x="668.5" y="263.4" width="454" height="73.9" fill="none" stroke="#000" stroke-width="1"/>
<path d="M671.9,263.4v4M671.9,337.3v-4M692.6,263.4v4M692.6,337.3v-4M713.3,263.4v4M713.3,337.3v-4M734,263.4v9M734,337.3v-9M754.7,263.4v4M754.7,337.3v-4M775.4,263.4v4M775.4,337.3v-4M796.1,263.4v4M796.1,337.3v-4M816.8,263.4v9M816.8,337.3v-9M837.5,263.4v4M837.5,337.3v-4M858.1,263.4v4M858.1,337.3v-4M878.8,263.4v4M878.8,337.3v-4M899.5,263.4v9M899.5,337.3v-9M920.2,263.4v4M920.2,337.3v-4M940.9,263.4v4M940.9,337.3v-4M961.6,263.4v4M961.6,337.3v-4M982.3,263.4v9M982.3,337.3v-9M1003,263.4v4M1003,337.3v-4M1023.7,263.4v4M1023.7,337.3v-4M1044.3,263.4v4M1044.3,337.3v-4M1065,263.4v9M1065,337.3v-9M1085.7,263.4v4M1085.7,337.3v-4M1106.4,263.4v4M1106.4,337.3v-4" stroke="#222" stroke-width="1" fill="none"/>
<rect x="668.5" y="337.3" width="454" height="73.9" fill="none" stroke="#000" stroke-width="1"/>
<path d="M671.9,337.3v4M671.9,411.2v-4M692.6,337.3v4M692.6,411.2v-4M713.3,337.3v4M713.3,411.2v-4M734,337.3v9M734,411.2v-9M754.7,337.3v4M754.7,411.2v-4M775.4,337.3v4M775.4,411.2v-4M796.1,337.3v4M796.1,411.2v-4M816.8,337.3v9M816.8,411.2v-9M837.5,337.3v4M837.5,411.2v-4M858.1,337.3v4M858.1,411.2v-4M878.8,337.3v4M878.8,411.2v-4M899.5,337.3v9M899.5,411.2v-9M920.2,337.3v4M920.2,411.2v-4M940.9,337.3v4M940.9,411.2v-4M961.6,337.3v4M961.6,411.2v-4M982.3,337.3v9M982.3,411.2v-9M1003,337.3v4M1003,411.2v-4M1023.7,337.3v4M1023.7,411.2v-4M1044.3,337.3v4M1044.3,411.2v-4M1065,337.3v9M1065,411.2v-9M1085.7,337.3v4M1085.7,411.2v-4M1106.4,337.3v4M1106.4,411.2v-4" stroke="#222" stroke-width="1" fill="none"/>
<rect x="668.5" y="411.2" width="454" height="74" fill="none" stroke="#000" stroke-width="1"/>
<path d="M671.9,411.2v4M671.9,485.2v-4M692.6,411.2v4M692.6,485.2v-4M713.3,411.2v4M713.3,485.2v-4M734,411.2v9M734,485.2v-9M754.7,411.2v4M754.7,485.2v-4M775.4,411.2v4M775.4,485.2v-4M796.1,411.2v4M796.1,485.2v-4M816.8,411.2v9M816.8,485.2v-9M837.5,411.2v4M837.5,485.2v-4M858.1,411.2v4M858.1,485.2v-4M878.8,411.2v4M878.8,485.2v-4M899.5,411.2v9M899.5,485.2v-9M920.2,411.2v4M920.2,485.2v-4M940.9,411.2v4M940.9,485.2v-4M961.6,411.2v4M961.6,485.2v-4M982.3,411.2v9M982.3,485.2v-9M1003,411.2v4M1003,485.2v-4M1023.7,411.2v4M1023.7,485.2v-4M1044.3,411.2v4M1044.3,485.2v-4M1065,411.2v9M1065,485.2v-9M1085.7,411.2v4M1085.7,485.2v-4M1106.4,411.2v4M1106.4,485.2v-4" stroke="#222" stroke-width="1" fill="none"/>
<rect x="668.5" y="485.2" width="454" height="73.9" fill="none" stroke="#000" stroke-width="1"/>
<path d="M671.9,485.2v4M671.9,559.1v-4M692.6,485.2v4M692.6,559.1v-4M713.3,485.2v4M713.3,559.1v-4M734,485.2v9M734,559.1v-9M754.7,485.2v4M754.7,559.1v-4M775.4,485.2v4M775.4,559.1v-4M796.1,485.2v4M796.1,559.1v-4M816.8,485.2v9M816.8,559.1v-9M837.5,485.2v4M837.5,559.1v-4M858.1,485.2v4M858.1,559.1v-4M878.8,485.2v4M878.8,559.1v-4M899.5,485.2v9M899.5,559.1v-9M920.2,485.2v4M920.2,559.1v-4M940.9,485.2v4M940.9,559.1v-4M961.6,485.2v4M961.6,559.1v-4M982.3,485.2v9M982.3,559.1v-9M1003,485.2v4M1003,559.1v-4M1023.7,485.2v4M1023.7,559.1v-4M1044.3,485.2v4M1044.3,559.1v-4M1065,485.2v9M1065,559.1v-9M1085.7,485.2v4M1085.7,559.1v-4M1106.4,485.2v4M1106.4,559.1v-4" stroke="#222" stroke-width="1" fill="none"/>
<rect x="668.5" y="559.1" width="454" height="74" fill="none" stroke="#000" stroke-width="1"/>
<path d="M671.9,559.1v4M671.9,633.1v-4M692.6,559.1v4M692.6,633.1v-4M713.3,559.1v4M713.3,633.1v-4M734,559.1v9M734,633.1v-9M754.7,559.1v4M754.7,633.1v-4M775.4,559.1v4M775.4,633.1v-4M796.1,559.1v4M796.1,633.1v-4M816.8,559.1v9M816.8,633.1v-9M837.5,559.1v4M837.5,633.1v-4M858.1,559.1v4M858.1,633.1v-4M878.8,559.1v4M878.8,633.1v-4M899.5,559.1v9M899.5,633.1v-9M920.2,559.1v4M920.2,633.1v-4M940.9,559.1v4M940.9,633.1v-4M961.6,559.1v4M961.6,633.1v-4M982.3,559.1v9M982.3,633.1v-9M1003,559.1v4M1003,633.1v-4M1023.7,559.1v4M1023.7,633.1v-4M1044.3,559.1v4M1044.3,633.1v-4M1065,559.1v9M1065,633.1v-9M1085.7,559.1v4M1085.7,633.1v-4M1106.4,559.1v4M1106.4,633.1v-4" stroke="#222" stroke-width="1" fill="none"/>
<rect x="668.5" y="633.1" width="454" height="74" fill="none" stroke="#000" stroke-width="1"/>
<path d="M671.9,633.1v4M671.9,707.1v-4M692.6,633.1v4M692.6,707.1v-4M713.3,633.1v4M713.3,707.1v-4M734,633.1v9M734,707.1v-9M754.7,633.1v4M754.7,707.1v-4M775.4,633.1v4M775.4,707.1v-4M796.1,633.1v4M796.1,707.1v-4M816.8,633.1v9M816.8,707.1v-9M837.5,633.1v4M837.5,707.1v-4M858.1,633.1v4M858.1,707.1v-4M878.8,633.1v4M878.8,707.1v-4M899.5,633.1v9M899.5,707.1v-9M920.2,633.1v4M920.2,707.1v-4M940.9,633.1v4M940.9,707.1v-4M961.6,633.1v4M961.6,707.1v-4M982.3,633.1v9M982.3,707.1v-9M1003,633.1v4M1003,707.1v-4M1023.7,633.1v4M1023.7,707.1v-4M1044.3,633.1v4M1044.3,707.1v-4M1065,633.1v9M1065,707.1v-9M1085.7,633.1v4M1085.7,707.1v-4M1106.4,633.1v4M1106.4,707.1v-4" stroke="#222" stroke-width="1" fill="none"/>
<line x1="668.5" y1="115.5" x2="1122.5" y2="115.5" stroke="#000" stroke-width="1.7"/>
<line x1="668.5" y1="189.4" x2="1122.5" y2="189.4" stroke="#000" stroke-width="1.7"/>
<line x1="668.5" y1="263.4" x2="1122.5" y2="263.4" stroke="#000" stroke-width="1.7"/>
<line x1="668.5" y1="337.3" x2="1122.5" y2="337.3" stroke="#000" stroke-width="1.7"/>
<line x1="668.5" y1="411.2" x2="1122.5" y2="411.2" stroke="#000" stroke-width="1.7"/>
<line x1="668.5" y1="485.2" x2="1122.5" y2="485.2" stroke="#000" stroke-width="1.7"/>
<line x1="668.5" y1="559.1" x2="1122.5" y2="559.1" stroke="#000" stroke-width="1.7"/>
<line x1="668.5" y1="633.1" x2="1122.5" y2="633.1" stroke="#000" stroke-width="1.7"/>
<path d="M668.5,100h5M1122.5,100h-5M668.5,79.2h5M1122.5,79.2h-5M668.5,58.4h5M1122.5,58.4h-5M668.5,110.4h2.5M1122.5,110.4h-2.5M668.5,89.6h2.5M1122.5,89.6h-2.5M668.5,68.8h2.5M1122.5,68.8h-2.5M668.5,48h2.5M1122.5,48h-2.5" stroke="#222" stroke-width="1" fill="none"/>
<text x="666" y="103.8" font-size="10.95" text-anchor="end" fill="#000" font-weight="normal" font-family='"Liberation Sans", sans-serif' >0</text>
<text x="666" y="83" font-size="10.95" text-anchor="end" fill="#000" font-weight="normal" font-family='"Liberation Sans", sans-serif' >20</text>
<text x="666" y="62.2" font-size="10.95" text-anchor="end" fill="#000" font-weight="normal" font-family='"Liberation Sans", sans-serif' >40</text>
<text transform="translate(641,79) rotate(-90)" font-size="10.95" text-anchor="middle" fill="#000" font-family='"Liberation Sans", sans-serif'>B<tspan font-size="9.4" dy="3.5">LMN</tspan><tspan dy="-3.5" font-size="1">&#8203;</tspan> [nT]</text>
<path d="M668.5,125h6M1122.5,125h-6M668.5,144.6h6M1122.5,144.6h-6M668.5,164.2h6M1122.5,164.2h-6M668.5,183.8h6M1122.5,183.8h-6" stroke="#222" stroke-width="1" fill="none"/>
<path d="M668.5,119.1h3M1122.5,119.1h-3M668.5,115.6h3M1122.5,115.6h-3M668.5,138.7h3M1122.5,138.7h-3M668.5,135.2h3M1122.5,135.2h-3M668.5,132.8h3M1122.5,132.8h-3M668.5,130.9h3M1122.5,130.9h-3M668.5,129.3h3M1122.5,129.3h-3M668.5,128h3M1122.5,128h-3M668.5,126.9h3M1122.5,126.9h-3M668.5,125.9h3M1122.5,125.9h-3M668.5,158.3h3M1122.5,158.3h-3M668.5,154.8h3M1122.5,154.8h-3M668.5,152.4h3M1122.5,152.4h-3M668.5,150.5h3M1122.5,150.5h-3M668.5,148.9h3M1122.5,148.9h-3M668.5,147.6h3M1122.5,147.6h-3M668.5,146.5h3M1122.5,146.5h-3M668.5,145.5h3M1122.5,145.5h-3M668.5,177.9h3M1122.5,177.9h-3M668.5,174.4h3M1122.5,174.4h-3M668.5,172h3M1122.5,172h-3M668.5,170.1h3M1122.5,170.1h-3M668.5,168.5h3M1122.5,168.5h-3M668.5,167.2h3M1122.5,167.2h-3M668.5,166.1h3M1122.5,166.1h-3M668.5,165.1h3M1122.5,165.1h-3M668.5,188.1h3M1122.5,188.1h-3M668.5,186.8h3M1122.5,186.8h-3M668.5,185.7h3M1122.5,185.7h-3M668.5,184.7h3M1122.5,184.7h-3" stroke="#222" stroke-width="1" fill="none"/>
<text x="1124.8" y="129.5" font-size="10.95" text-anchor="start" fill="#000" font-weight="normal" font-family='"Liberation Sans", sans-serif' >10<tspan font-size="8.5" dy="-5">4</tspan><tspan dy="5" font-size="1">&#8203;</tspan></text>
<text x="1124.8" y="149.1" font-size="10.95" text-anchor="start" fill="#000" font-weight="normal" font-family='"Liberation Sans", sans-serif' >10<tspan font-size="8.5" dy="-5">3</tspan><tspan dy="5" font-size="1">&#8203;</tspan></text>
<text x="1124.8" y="168.7" font-size="10.95" text-anchor="start" fill="#000" font-weight="normal" font-family='"Liberation Sans", sans-serif' >10<tspan font-size="8.5" dy="-5">2</tspan><tspan dy="5" font-size="1">&#8203;</tspan></text>
<text x="1124.8" y="188.3" font-size="10.95" text-anchor="start" fill="#000" font-weight="normal" font-family='"Liberation Sans", sans-serif' >10<tspan font-size="8.5" dy="-5">1</tspan><tspan dy="5" font-size="1">&#8203;</tspan></text>
<text transform="translate(1155,153) rotate(-90)" font-size="10.95" text-anchor="middle" fill="#000" font-family='"Liberation Sans", sans-serif'>Energy (eV)</text>
<path d="M668.5,198.1h5M1122.5,198.1h-5M668.5,210.9h5M1122.5,210.9h-5M668.5,223.6h5M1122.5,223.6h-5M668.5,236.3h5M1122.5,236.3h-5M668.5,249h5M1122.5,249h-5M668.5,261.7h5M1122.5,261.7h-5M668.5,191.8h2.5M1122.5,191.8h-2.5M668.5,204.5h2.5M1122.5,204.5h-2.5M668.5,217.2h2.5M1122.5,217.2h-2.5M668.5,229.9h2.5M1122.5,229.9h-2.5M668.5,242.7h2.5M1122.5,242.7h-2.5M668.5,255.4h2.5M1122.5,255.4h-2.5" stroke="#222" stroke-width="1" fill="none"/>
<text x="666" y="201.9" font-size="10.95" text-anchor="end" fill="#000" font-weight="normal" font-family='"Liberation Sans", sans-serif' >300</text>
<text x="666" y="214.7" font-size="10.95" text-anchor="end" fill="#000" font-weight="normal" font-family='"Liberation Sans", sans-serif' >200</text>
<text x="666" y="227.4" font-size="10.95" text-anchor="end" fill="#000" font-weight="normal" font-family='"Liberation Sans", sans-serif' >100</text>
<text x="666" y="240.1" font-size="10.95" text-anchor="end" fill="#000" font-weight="normal" font-family='"Liberation Sans", sans-serif' >0</text>
<text x="666" y="252.8" font-size="10.95" text-anchor="end" fill="#000" font-weight="normal" font-family='"Liberation Sans", sans-serif' >-100</text>
<text x="666" y="265.5" font-size="10.95" text-anchor="end" fill="#000" font-weight="normal" font-family='"Liberation Sans", sans-serif' >-200</text>
<text transform="translate(637,227) rotate(-90)" font-size="10.95" text-anchor="middle" fill="#000" font-family='"Liberation Sans", sans-serif'>V<tspan font-size="9.4" dy="3.5">e LMN</tspan><tspan dy="-3.5" font-size="1">&#8203;</tspan> [km/s]</text>
<path d="M668.5,286.2h5M1122.5,286.2h-5" stroke="#222" stroke-width="1" fill="none"/>
<text transform="translate(1159,301) rotate(-90)" font-size="10.95" text-anchor="middle" fill="#000" font-family='"Liberation Sans", sans-serif'>T<tspan font-size="9.4" dy="3.5">e</tspan><tspan dy="-3.5" font-size="1">&#8203;</tspan> [eV]</text>
<path d="M668.5,344.4h5M1122.5,344.4h-5M668.5,363.3h5M1122.5,363.3h-5M668.5,382.2h5M1122.5,382.2h-5M668.5,401.1h5M1122.5,401.1h-5M668.5,408.7h2.5M1122.5,408.7h-2.5M668.5,404.9h2.5M1122.5,404.9h-2.5M668.5,397.3h2.5M1122.5,397.3h-2.5M668.5,393.5h2.5M1122.5,393.5h-2.5M668.5,389.8h2.5M1122.5,389.8h-2.5M668.5,386h2.5M1122.5,386h-2.5M668.5,378.4h2.5M1122.5,378.4h-2.5M668.5,374.6h2.5M1122.5,374.6h-2.5M668.5,370.9h2.5M1122.5,370.9h-2.5M668.5,367.1h2.5M1122.5,367.1h-2.5M668.5,359.5h2.5M1122.5,359.5h-2.5M668.5,355.7h2.5M1122.5,355.7h-2.5M668.5,352h2.5M1122.5,352h-2.5M668.5,348.2h2.5M1122.5,348.2h-2.5M668.5,340.6h2.5M1122.5,340.6h-2.5" stroke="#222" stroke-width="1" fill="none"/>
<text x="666" y="348.2" font-size="10.95" text-anchor="end" fill="#000" font-weight="normal" font-family='"Liberation Sans", sans-serif' >5</text>
<text x="666" y="367.1" font-size="10.95" text-anchor="end" fill="#000" font-weight="normal" font-family='"Liberation Sans", sans-serif' >0</text>
<text x="666" y="386" font-size="10.95" text-anchor="end" fill="#000" font-weight="normal" font-family='"Liberation Sans", sans-serif' >-5</text>
<text x="666" y="404.9" font-size="10.95" text-anchor="end" fill="#000" font-weight="normal" font-family='"Liberation Sans", sans-serif' >-10</text>
<text transform="translate(641,376) rotate(-90)" font-size="10.95" text-anchor="middle" fill="#000" font-family='"Liberation Sans", sans-serif'>E<tspan font-size="9.4" dy="3.5">LMN</tspan><tspan dy="-3.5" font-size="1">&#8203;</tspan> [mV m<tspan font-size="8.8" dy="-5">-1</tspan><tspan dy="5" font-size="1">&#8203;</tspan>]</text>
<path d="M668.5,423.3h5M1122.5,423.3h-5M668.5,448h5M1122.5,448h-5M668.5,472.7h5M1122.5,472.7h-5M668.5,482.6h2.5M1122.5,482.6h-2.5M668.5,477.6h2.5M1122.5,477.6h-2.5M668.5,467.8h2.5M1122.5,467.8h-2.5M668.5,462.8h2.5M1122.5,462.8h-2.5M668.5,457.9h2.5M1122.5,457.9h-2.5M668.5,452.9h2.5M1122.5,452.9h-2.5M668.5,443.1h2.5M1122.5,443.1h-2.5M668.5,438.1h2.5M1122.5,438.1h-2.5M668.5,433.2h2.5M1122.5,433.2h-2.5M668.5,428.2h2.5M1122.5,428.2h-2.5M668.5,418.4h2.5M1122.5,418.4h-2.5M668.5,413.4h2.5M1122.5,413.4h-2.5" stroke="#222" stroke-width="1" fill="none"/>
<text x="1124.8" y="427.1" font-size="10.95" text-anchor="start" fill="#000" font-weight="normal" font-family='"Liberation Sans", sans-serif' >10</text>
<text x="1124.8" y="451.8" font-size="10.95" text-anchor="start" fill="#000" font-weight="normal" font-family='"Liberation Sans", sans-serif' >0</text>
<text x="1124.8" y="476.5" font-size="10.95" text-anchor="start" fill="#000" font-weight="normal" font-family='"Liberation Sans", sans-serif' >-10</text>
<text transform="translate(1153.5,449) rotate(-90)" font-size="10.95" text-anchor="middle" fill="#000" font-family='"Liberation Sans", sans-serif'>E<tspan font-size="9.4" dy="3.5">M</tspan><tspan dy="-3.5" font-size="1">&#8203;</tspan> [mW m<tspan font-size="8.8" dy="-5">-2</tspan><tspan dy="5" font-size="1">&#8203;</tspan>]</text>
<path d="M668.5,538.3h5M1122.5,538.3h-5M668.5,516.6h5M1122.5,516.6h-5M668.5,494.9h5M1122.5,494.9h-5M668.5,555.7h2.5M1122.5,555.7h-2.5M668.5,551.3h2.5M1122.5,551.3h-2.5M668.5,547h2.5M1122.5,547h-2.5M668.5,542.6h2.5M1122.5,542.6h-2.5M668.5,534h2.5M1122.5,534h-2.5M668.5,529.6h2.5M1122.5,529.6h-2.5M668.5,525.3h2.5M1122.5,525.3h-2.5M668.5,520.9h2.5M1122.5,520.9h-2.5M668.5,512.3h2.5M1122.5,512.3h-2.5M668.5,507.9h2.5M1122.5,507.9h-2.5M668.5,503.6h2.5M1122.5,503.6h-2.5M668.5,499.2h2.5M1122.5,499.2h-2.5M668.5,490.6h2.5M1122.5,490.6h-2.5" stroke="#222" stroke-width="1" fill="none"/>
<text x="666" y="542.1" font-size="10.95" text-anchor="end" fill="#000" font-weight="normal" font-family='"Liberation Sans", sans-serif' >0.5</text>
<text x="666" y="520.4" font-size="10.95" text-anchor="end" fill="#000" font-weight="normal" font-family='"Liberation Sans", sans-serif' >1.0</text>
<text x="666" y="498.7" font-size="10.95" text-anchor="end" fill="#000" font-weight="normal" font-family='"Liberation Sans", sans-serif' >1.5</text>
<text transform="translate(645,522) rotate(-90)" font-size="10.95" text-anchor="middle" fill="#000" font-family='"Liberation Sans", sans-serif'>|J| [&#181;A m<tspan font-size="8.8" dy="-5">-2</tspan><tspan dy="5" font-size="1">&#8203;</tspan>]</text>
<path d="M668.5,558.8h5M1122.5,558.8h-5M668.5,573.2h5M1122.5,573.2h-5M668.5,587.6h5M1122.5,587.6h-5M668.5,602h5M1122.5,602h-5M668.5,616.4h5M1122.5,616.4h-5M668.5,630.8h5M1122.5,630.8h-5M668.5,627.9h2.5M1122.5,627.9h-2.5M668.5,625h2.5M1122.5,625h-2.5M668.5,622.2h2.5M1122.5,622.2h-2.5M668.5,619.3h2.5M1122.5,619.3h-2.5M668.5,613.5h2.5M1122.5,613.5h-2.5M668.5,610.6h2.5M1122.5,610.6h-2.5M668.5,607.8h2.5M1122.5,607.8h-2.5M668.5,604.9h2.5M1122.5,604.9h-2.5M668.5,599.1h2.5M1122.5,599.1h-2.5M668.5,596.2h2.5M1122.5,596.2h-2.5M668.5,593.4h2.5M1122.5,593.4h-2.5M668.5,590.5h2.5M1122.5,590.5h-2.5M668.5,584.7h2.5M1122.5,584.7h-2.5M668.5,581.8h2.5M1122.5,581.8h-2.5M668.5,579h2.5M1122.5,579h-2.5M668.5,576.1h2.5M1122.5,576.1h-2.5M668.5,570.3h2.5M1122.5,570.3h-2.5M668.5,567.4h2.5M1122.5,567.4h-2.5M668.5,564.6h2.5M1122.5,564.6h-2.5M668.5,561.7h2.5M1122.5,561.7h-2.5" stroke="#222" stroke-width="1" fill="none"/>
<text x="1124.8" y="562.6" font-size="10.95" text-anchor="start" fill="#000" font-weight="normal" font-family='"Liberation Sans", sans-serif' >1.0</text>
<text x="1124.8" y="577" font-size="10.95" text-anchor="start" fill="#000" font-weight="normal" font-family='"Liberation Sans", sans-serif' >0.5</text>
<text x="1124.8" y="591.4" font-size="10.95" text-anchor="start" fill="#000" font-weight="normal" font-family='"Liberation Sans", sans-serif' >0.0</text>
<text x="1124.8" y="605.8" font-size="10.95" text-anchor="start" fill="#000" font-weight="normal" font-family='"Liberation Sans", sans-serif' >-0.5</text>
<text x="1124.8" y="620.2" font-size="10.95" text-anchor="start" fill="#000" font-weight="normal" font-family='"Liberation Sans", sans-serif' >-1.0</text>
<text x="1124.8" y="634.6" font-size="10.95" text-anchor="start" fill="#000" font-weight="normal" font-family='"Liberation Sans", sans-serif' >-1.5</text>
<text transform="translate(1159.5,594) rotate(-90)" font-size="10.95" text-anchor="middle" fill="#000" font-family='"Liberation Sans", sans-serif'>J [&#181;A m<tspan font-size="8.8" dy="-5">-2</tspan><tspan dy="5" font-size="1">&#8203;</tspan>]</text>
<path d="M668.5,689h5M1122.5,689h-5M668.5,668.2h5M1122.5,668.2h-5M668.5,647.4h5M1122.5,647.4h-5M668.5,705.6h2.5M1122.5,705.6h-2.5M668.5,701.5h2.5M1122.5,701.5h-2.5M668.5,697.3h2.5M1122.5,697.3h-2.5M668.5,693.2h2.5M1122.5,693.2h-2.5M668.5,684.8h2.5M1122.5,684.8h-2.5M668.5,680.7h2.5M1122.5,680.7h-2.5M668.5,676.5h2.5M1122.5,676.5h-2.5M668.5,672.4h2.5M1122.5,672.4h-2.5M668.5,664h2.5M1122.5,664h-2.5M668.5,659.9h2.5M1122.5,659.9h-2.5M668.5,655.7h2.5M1122.5,655.7h-2.5M668.5,651.6h2.5M1122.5,651.6h-2.5M668.5,643.2h2.5M1122.5,643.2h-2.5M668.5,639.1h2.5M1122.5,639.1h-2.5" stroke="#222" stroke-width="1" fill="none"/>
<text x="666" y="692.8" font-size="10.95" text-anchor="end" fill="#000" font-weight="normal" font-family='"Liberation Sans", sans-serif' >0</text>
<text x="666" y="672" font-size="10.95" text-anchor="end" fill="#000" font-weight="normal" font-family='"Liberation Sans", sans-serif' >1</text>
<text x="666" y="651.2" font-size="10.95" text-anchor="end" fill="#000" font-weight="normal" font-family='"Liberation Sans", sans-serif' >2</text>
<text transform="translate(643,670) rotate(-90)" font-size="10.95" text-anchor="middle" fill="#000" font-family='"Liberation Sans", sans-serif'>J*E' [nW m<tspan font-size="8.8" dy="-5">-3</tspan><tspan dy="5" font-size="1">&#8203;</tspan>]</text>
<text x="734" y="724" font-size="10.95" text-anchor="middle" fill="#000" font-weight="normal" font-family='"Liberation Sans", sans-serif' >07:31:20</text>
<text x="734" y="744.5" font-size="10.95" text-anchor="middle" fill="#000" font-weight="normal" font-family='"Liberation Sans", sans-serif' >9.25</text>
<text x="734" y="762.5" font-size="10.95" text-anchor="middle" fill="#000" font-weight="normal" font-family='"Liberation Sans", sans-serif' >3.44</text>
<text x="734" y="780.5" font-size="10.95" text-anchor="middle" fill="#000" font-weight="normal" font-family='"Liberation Sans", sans-serif' >-0.527</text>
<text x="816.8" y="724" font-size="10.95" text-anchor="middle" fill="#000" font-weight="normal" font-family='"Liberation Sans", sans-serif' >07:31:40</text>
<text x="816.8" y="744.5" font-size="10.95" text-anchor="middle" fill="#000" font-weight="normal" font-family='"Liberation Sans", sans-serif' >9.25</text>
<text x="816.8" y="762.5" font-size="10.95" text-anchor="middle" fill="#000" font-weight="normal" font-family='"Liberation Sans", sans-serif' >3.44</text>
<text x="816.8" y="780.5" font-size="10.95" text-anchor="middle" fill="#000" font-weight="normal" font-family='"Liberation Sans", sans-serif' >-0.526</text>
<text x="899.5" y="724" font-size="10.95" text-anchor="middle" fill="#000" font-weight="normal" font-family='"Liberation Sans", sans-serif' >07:32:00</text>
<text x="899.5" y="744.5" font-size="10.95" text-anchor="middle" fill="#000" font-weight="normal" font-family='"Liberation Sans", sans-serif' >9.25</text>
<text x="899.5" y="762.5" font-size="10.95" text-anchor="middle" fill="#000" font-weight="normal" font-family='"Liberation Sans", sans-serif' >3.45</text>
<text x="899.5" y="780.5" font-size="10.95" text-anchor="middle" fill="#000" font-weight="normal" font-family='"Liberation Sans", sans-serif' >-0.525</text>
<text x="982.3" y="724" font-size="10.95" text-anchor="middle" fill="#000" font-weight="normal" font-family='"Liberation Sans", sans-serif' >07:32:20</text>
<text x="982.3" y="744.5" font-size="10.95" text-anchor="middle" fill="#000" font-weight="normal" font-family='"Liberation Sans", sans-serif' >9.26</text>
<text x="982.3" y="762.5" font-size="10.95" text-anchor="middle" fill="#000" font-weight="normal" font-family='"Liberation Sans", sans-serif' >3.45</text>
<text x="982.3" y="780.5" font-size="10.95" text-anchor="middle" fill="#000" font-weight="normal" font-family='"Liberation Sans", sans-serif' >-0.525</text>
<text x="1065" y="724" font-size="10.95" text-anchor="middle" fill="#000" font-weight="normal" font-family='"Liberation Sans", sans-serif' >07:32:40</text>
<text x="1065" y="744.5" font-size="10.95" text-anchor="middle" fill="#000" font-weight="normal" font-family='"Liberation Sans", sans-serif' >9.26</text>
<text x="1065" y="762.5" font-size="10.95" text-anchor="middle" fill="#000" font-weight="normal" font-family='"Liberation Sans", sans-serif' >3.46</text>
<text x="1065" y="780.5" font-size="10.95" text-anchor="middle" fill="#000" font-weight="normal" font-family='"Liberation Sans", sans-serif' >-0.524</text>
<text x="647.7" y="744.5" font-size="10.95" text-anchor="start" fill="#000" font-weight="normal" font-family='"Liberation Sans", sans-serif' >X</text>
<text x="1137.3" y="744.5" font-size="10.95" text-anchor="start" fill="#000" font-weight="normal" font-family='"Liberation Sans", sans-serif' >Re</text>
<text x="647.7" y="762.5" font-size="10.95" text-anchor="start" fill="#000" font-weight="normal" font-family='"Liberation Sans", sans-serif' >Y</text>
<text x="1137.3" y="762.5" font-size="10.95" text-anchor="start" fill="#000" font-weight="normal" font-family='"Liberation Sans", sans-serif' >Re</text>
<text x="647.7" y="780.5" font-size="10.95" text-anchor="start" fill="#000" font-weight="normal" font-family='"Liberation Sans", sans-serif' >Z</text>
<text x="1137.3" y="780.5" font-size="10.95" text-anchor="start" fill="#000" font-weight="normal" font-family='"Liberation Sans", sans-serif' >Re</text>
<text x="1021.7" y="837.3" font-size="11.95" text-anchor="start" fill="#000" font-weight="normal" font-family='"Liberation Sans", sans-serif' >paschmann 21-Nov-2018 16:21</text>
</svg>
<pre>:
 Event ID         : 20161121_073104
 FlagStr          : msh,udef,nmon,mf,mult,part,keep
 GSEpos [Re]      : [ 9.24, 3.42, -0.53 ]
                  :
 LMN coords       :
    L             : [  0.105,  0.356,  0.929 ]
    M             : [ -0.721,  0.670, -0.176 ]
    N             : [  0.685,  0.651, -0.327 ]
                  :
  Times           : (as indicated by red, green lines in plots)
    t_0           : 07:31:19  (red dotted line)
    t_MVAB1       : 07:31:14  (leftmost green line)
    t_MVAB2       : 07:31:24  (rightmost green line)
                  :
|Bmin|, |Vmax|    :
    Bmin          : 9.35 [nT]  at 07:31:14
    Vmax_tht      : 150.56 [km/s]  at 07:31:24
    Vmax_tburst   : 190.57 [km/s]  at 07:32:31
                  :
 Normals          :
    N MVAB        : [  0.365,  0.821, -0.439 ]   (L2/L1 = 10.01)
    N MVAB0       : [  0.582,  0.703, -0.410 ]   (L3/L2 = 6.94)
    N MFR         : [  0.419,  0.799, -0.430 ]   (L2/L1 = 8.57)
                  :
 Durations [s]    : (between red, resp green lines)
    T_CS          : 4.98
    T_MFR/HT      : 9.96
                  :
 Velocity [km/s]  : (based on FPI ion data)
    VnMFR         : 104.1
    VHT.Nmvab     : 109.7  (HTcc = 0.996)
    VHT.Nmvab0    : 83.4
                  :
 CS thickness [km]: (D=T_CS * Vs from above)
    D1=TCS*Vnmfr  : 518
    D2=TCS*VHTn   : 546
    D3=TCS*VHTn0  : 415
                  :
 Currents [uA/m2] :
    Jave_CS       : 0.074
    Jmax_THT      : 0.715  at 07:31:21
    Jmax_brst     : 1.739  at 07:31:53
                  :
 HPCA mom [1/cm3] :   Min   -  Max    (  Ave   )  within full brst int
    H+            :  31.396 - 47.598  ( 47.598 )
    He+           :   0.002 -  0.009  (  0.005 )
    He++          :   0.540 -  1.132  (  0.900 )
    O+            :   0.006 -  0.059  (  0.016 )
                  :
 SEH date         : 2019-11-29 10:08:49
                  :</pre>
</body></html>
